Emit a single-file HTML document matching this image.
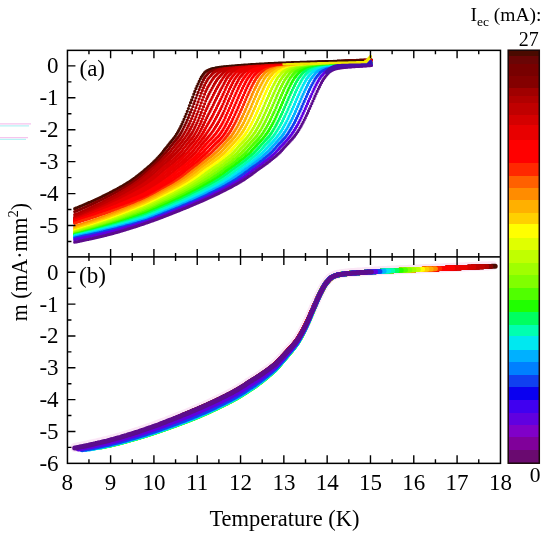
<!DOCTYPE html>
<html><head><meta charset="utf-8"><style>
html,body{margin:0;padding:0;background:#fff;}
svg{display:block;}
text{font-family:"Liberation Serif","Times New Roman",serif;fill:#000;}
</style></head><body>
<svg width="550" height="537" viewBox="0 0 550 537">
<defs>
<clipPath id="ca"><rect x="67.45" y="50.36" width="433.03" height="206.56"/></clipPath>
<clipPath id="cb"><rect x="67.45" y="256.92" width="433.03" height="206.44"/></clipPath>
</defs>
<g clip-path="url(#ca)" stroke-linecap="round" fill="none" stroke-width="3.2">
<path stroke="#4a0a00" d="M74.7 208.7h0M75.7 208.2h0M76.8 207.8h0M77.9 207.3h0M79 206.9h0M80.1 206.4h0M81.2 206h0M82.2 205.5h0M83.3 205.1h0M84.4 204.6h0M85.5 204.1h0M86.6 203.7h0M87.7 203.2h0M88.7 202.7h0M89.8 202.3h0M90.9 201.8h0M92 201.3h0M93.1 200.8h0M94.2 200.3h0M95.2 199.8h0M96.3 199.3h0M97.4 198.8h0M98.5 198.3h0M99.6 197.8h0M100.6 197.3h0M101.7 196.8h0M102.8 196.2h0M103.9 195.7h0M105 195.2h0M106.1 194.6h0M107.1 194.1h0M108.2 193.5h0M109.3 193h0M110.4 192.4h0M111.5 191.9h0M112.6 191.3h0M113.6 190.7h0M114.7 190.2h0M115.8 189.6h0M116.9 189h0M118 188.4h0M119.1 187.8h0M120.1 187.2h0M121.2 186.6h0M122.3 186h0M123.4 185.4h0M124.5 184.7h0M125.6 184.1h0M126.6 183.4h0M127.7 182.7h0M128.8 182h0M129.9 181.3h0M131 180.6h0M132 179.8h0M133.1 179.1h0M134.2 178.3h0M135.3 177.5h0M136.4 176.7h0M137.5 175.9h0M138.5 175h0M139.6 174.2h0M140.7 173.3h0M141.8 172.4h0M142.9 171.6h0M144 170.6h0M145 169.7h0M146.1 168.8h0M147.2 167.9h0M148.3 166.9h0M149.4 166h0M150.5 165h0M151.5 164h0M152.6 163h0M153.7 161.9h0M154.8 160.9h0M155.9 159.8h0M157 158.7h0M158 157.5h0M159.1 156.4h0M160.2 155.2h0M161.3 153.9h0M162.4 152.7h0M163.4 151.2h0M164.5 149.7h0M165.6 148.3h0M166.7 147h0M167.8 145.6h0M168.9 144.3h0M169.9 142.9h0M171 141.6h0M172.1 140.3h0M173.2 138.9h0M174.3 137.5h0M175.4 136h0M176.4 134.3h0M177.5 132.5h0M178.6 130.6h0M179.7 128.5h0M180.8 126.4h0M181.9 124.2h0M182.9 121.8h0M184 119.3h0M185.1 116.7h0M186.2 114h0M187.3 111.3h0M188.4 108.5h0M189.4 105.6h0M190.5 102.7h0M191.6 99.9h0M192.7 97.1h0M193.8 94.2h0M194.8 91.4h0M195.9 88.7h0M197 86.2h0M198.1 83.8h0M199.2 81.4h0M200.3 79.1h0M201.3 77.2h0M202.4 75.6h0M203.5 74h0M204.6 72.6h0M205.7 71.6h0M206.8 70.9h0M207.8 70.4h0M208.9 69.9h0M210 69.5h0M211.1 69.2h0M212.2 68.9h0M213.3 68.7h0M214.3 68.5h0M215.4 68.3h0M216.5 68.1h0M217.6 68h0M218.7 67.8h0M219.8 67.7h0M220.8 67.6h0M221.9 67.5h0M223 67.3h0M224.1 67.2h0M225.2 67.1h0M226.2 67h0M227.3 66.9h0M228.4 66.9h0M229.5 66.8h0M230.6 66.7h0M231.7 66.6h0M232.7 66.5h0M233.8 66.5h0M234.9 66.4h0M236 66.3h0M237.1 66.2h0M238.2 66.2h0M239.2 66.1h0M240.3 66h0M241.4 66h0M242.5 65.9h0M243.6 65.8h0M244.7 65.8h0M245.7 65.7h0M246.8 65.6h0M247.9 65.6h0M249 65.5h0M250.1 65.4h0M251.2 65.3h0M252.2 65.3h0M253.3 65.2h0M254.4 65.1h0M255.5 65.1h0M256.6 65h0M257.6 64.9h0M258.7 64.9h0M259.8 64.8h0M260.9 64.8h0M262 64.7h0M263.1 64.6h0M264.1 64.6h0M265.2 64.5h0M266.3 64.4h0M267.4 64.4h0M268.5 64.3h0M269.6 64.3h0M270.6 64.2h0M271.7 64.2h0M272.8 64.1h0M273.9 64.1h0M275 64h0M276.1 64h0M277.1 63.9h0M278.2 63.9h0M279.3 63.8h0M280.4 63.8h0M281.5 63.7h0M282.6 63.7h0M283.6 63.6h0M284.7 63.6h0M285.8 63.5h0M286.9 63.5h0M288 63.4h0M289 63.4h0M290.1 63.3h0M291.2 63.3h0M292.3 63.2h0M293.4 63.2h0M294.5 63.1h0M295.5 63.1h0M296.6 63h0M297.7 63h0M298.8 63h0M299.9 62.9h0M301 62.9h0M302 62.8h0M303.1 62.8h0M304.2 62.7h0M305.3 62.7h0M306.4 62.6h0M307.5 62.6h0M308.5 62.5h0M309.6 62.5h0M310.7 62.4h0M311.8 62.4h0M312.9 62.3h0M314 62.3h0M315 62.3h0M316.1 62.2h0M317.2 62.2h0M318.3 62.1h0M319.4 62.1h0M320.4 62h0M321.5 62h0M322.6 61.9h0M323.7 61.9h0M324.8 61.8h0M325.9 61.8h0M326.9 61.7h0M328 61.7h0M329.1 61.6h0M330.2 61.6h0M331.3 61.5h0M332.4 61.5h0M333.4 61.4h0M334.5 61.4h0M335.6 61.3h0M336.7 61.3h0M337.8 61.2h0M338.9 61.2h0M339.9 61.1h0M341 61.1h0M342.1 61h0M343.2 61h0M344.3 60.9h0M345.4 60.9h0M346.4 60.8h0M347.5 60.8h0M348.6 60.7h0M349.7 60.7h0M350.8 60.6h0M351.8 60.6h0M352.9 60.5h0M354 60.5h0M355.1 60.5h0M356.2 60.4h0M357.3 60.4h0M358.3 60.3h0M359.4 60.3h0M360.5 60.2h0M361.6 60.2h0M362.7 60.1h0M363.8 60.1h0M364.8 60.1h0M365.9 60h0M367 60h0M368.1 59.9h0M369.2 59.9h0M370.3 59.8h0M371.3 59.8h0"/>
<path stroke="#840000" d="M74.7 211.6h0M75.7 211.2h0M76.8 210.7h0M77.9 210.3h0M79 209.9h0M80.1 209.4h0M81.2 209h0M82.2 208.5h0M83.3 208h0M84.4 207.6h0M85.5 207.1h0M86.6 206.6h0M87.7 206.1h0M88.7 205.6h0M89.8 205.2h0M90.9 204.7h0M92 204.2h0M93.1 203.7h0M94.2 203.2h0M95.2 202.7h0M96.3 202.2h0M97.4 201.6h0M98.5 201.1h0M99.6 200.6h0M100.6 200.1h0M101.7 199.6h0M102.8 199h0M103.9 198.5h0M105 198h0M106.1 197.4h0M107.1 196.9h0M108.2 196.3h0M109.3 195.8h0M110.4 195.2h0M111.5 194.6h0M112.6 194h0M113.6 193.5h0M114.7 192.9h0M115.8 192.3h0M116.9 191.7h0M118 191.1h0M119.1 190.5h0M120.1 189.9h0M121.2 189.3h0M122.3 188.7h0M123.4 188h0M124.5 187.4h0M125.6 186.8h0M126.6 186.1h0M127.7 185.4h0M128.8 184.8h0M129.9 184.1h0M131 183.4h0M132 182.7h0M133.1 181.9h0M134.2 181.2h0M135.3 180.4h0M136.4 179.6h0M137.5 178.8h0M138.5 178h0M139.6 177.2h0M140.7 176.3h0M141.8 175.4h0M142.9 174.5h0M144 173.6h0M145 172.7h0M146.1 171.7h0M147.2 170.7h0M148.3 169.6h0M149.4 168.7h0M150.5 167.8h0M151.5 166.8h0M152.6 165.9h0M153.7 164.9h0M154.8 163.9h0M155.9 162.9h0M157 161.8h0M158 160.8h0M159.1 159.7h0M160.2 158.6h0M161.3 157.4h0M162.4 156.3h0M163.4 155.1h0M164.5 153.8h0M165.6 152.7h0M166.7 151.4h0M167.8 150.1h0M168.9 148.8h0M169.9 147.4h0M171 146.1h0M172.1 144.7h0M173.2 143.4h0M174.3 142.1h0M175.4 140.8h0M176.4 139.4h0M177.5 138h0M178.6 136.5h0M179.7 134.9h0M180.8 133.2h0M181.9 131.3h0M182.9 129.3h0M184 127.1h0M185.1 124.9h0M186.2 122.6h0M187.3 120.2h0M188.4 117.6h0M189.4 114.9h0M190.5 112.2h0M191.6 109.5h0M192.7 106.6h0M193.8 103.7h0M194.8 100.9h0M195.9 98h0M197 95.2h0M198.1 92.4h0M199.2 89.6h0M200.3 86.9h0M201.3 84.4h0M202.4 82h0M203.5 79.7h0M204.6 77.7h0M205.7 76.1h0M206.8 74.9h0M207.8 73.7h0M208.9 72.6h0M210 71.8h0M211.1 71.2h0M212.2 70.6h0M213.3 70.1h0M214.3 69.7h0M215.4 69.4h0M216.5 69.1h0M217.6 68.8h0M218.7 68.6h0M219.8 68.4h0M220.8 68.2h0M221.9 68h0M223 67.9h0M224.1 67.7h0M225.2 67.6h0M226.2 67.4h0M227.3 67.3h0M228.4 67.2h0M229.5 67.1h0M230.6 67h0M231.7 66.9h0M232.7 66.8h0M233.8 66.8h0M234.9 66.7h0M236 66.6h0M237.1 66.5h0M238.2 66.4h0M239.2 66.4h0M240.3 66.3h0M241.4 66.2h0M242.5 66.2h0M243.6 66.1h0M244.7 66h0M245.7 66h0M246.8 65.9h0M247.9 65.8h0M249 65.8h0M250.1 65.7h0M251.2 65.6h0M252.2 65.6h0M253.3 65.5h0M254.4 65.4h0M255.5 65.3h0M256.6 65.3h0M257.6 65.2h0M258.7 65.1h0M259.8 65.1h0M260.9 65h0M262 64.9h0M263.1 64.9h0M264.1 64.8h0M265.2 64.7h0M266.3 64.7h0M267.4 64.6h0M268.5 64.6h0M269.6 64.5h0M270.6 64.4h0M271.7 64.4h0M272.8 64.3h0M273.9 64.3h0M275 64.2h0M276.1 64.2h0M277.1 64.1h0M278.2 64.1h0M279.3 64h0M280.4 63.9h0M281.5 63.9h0M282.6 63.8h0M283.6 63.8h0M284.7 63.7h0M285.8 63.7h0M286.9 63.6h0M288 63.6h0M289 63.6h0M290.1 63.5h0M291.2 63.5h0M292.3 63.4h0M293.4 63.4h0M294.5 63.3h0M295.5 63.3h0M296.6 63.2h0M297.7 63.2h0M298.8 63.1h0M299.9 63.1h0M301 63h0M302 63h0M303.1 62.9h0M304.2 62.9h0M305.3 62.9h0M306.4 62.8h0M307.5 62.8h0M308.5 62.7h0M309.6 62.7h0M310.7 62.6h0M311.8 62.6h0M312.9 62.5h0M314 62.5h0M315 62.4h0M316.1 62.4h0M317.2 62.3h0M318.3 62.3h0M319.4 62.2h0M320.4 62.2h0M321.5 62.2h0M322.6 62.1h0M323.7 62.1h0M324.8 62h0M325.9 62h0M326.9 61.9h0M328 61.9h0M329.1 61.8h0M330.2 61.8h0M331.3 61.7h0M332.4 61.7h0M333.4 61.6h0M334.5 61.6h0M335.6 61.5h0M336.7 61.5h0M337.8 61.4h0M338.9 61.4h0M339.9 61.3h0M341 61.3h0M342.1 61.2h0M343.2 61.2h0M344.3 61.1h0M345.4 61.1h0M346.4 61h0M347.5 61h0M348.6 60.9h0M349.7 60.9h0M350.8 60.8h0M351.8 60.8h0M352.9 60.7h0M354 60.7h0M355.1 60.6h0M356.2 60.6h0M357.3 60.5h0M358.3 60.5h0M359.4 60.4h0M360.5 60.4h0M361.6 60.4h0M362.7 60.3h0M363.8 60.3h0M364.8 60.2h0M365.9 60.2h0M367 60.1h0M368.1 60.1h0M369.2 60h0M370.3 60h0M371.3 60h0"/>
<path stroke="#b00000" d="M74.7 214.7h0M75.7 214.3h0M76.8 213.9h0M77.9 213.5h0M79 213h0M80.1 212.6h0M81.2 212.1h0M82.2 211.6h0M83.3 211.2h0M84.4 210.7h0M85.5 210.2h0M86.6 209.7h0M87.7 209.2h0M88.7 208.7h0M89.8 208.2h0M90.9 207.7h0M92 207.2h0M93.1 206.7h0M94.2 206.2h0M95.2 205.7h0M96.3 205.1h0M97.4 204.6h0M98.5 204.1h0M99.6 203.5h0M100.6 203h0M101.7 202.5h0M102.8 201.9h0M103.9 201.4h0M105 200.8h0M106.1 200.3h0M107.1 199.7h0M108.2 199.1h0M109.3 198.6h0M110.4 198h0M111.5 197.4h0M112.6 196.8h0M113.6 196.3h0M114.7 195.7h0M115.8 195.1h0M116.9 194.5h0M118 193.8h0M119.1 193.2h0M120.1 192.6h0M121.2 192h0M122.3 191.3h0M123.4 190.7h0M124.5 190.1h0M125.6 189.4h0M126.6 188.8h0M127.7 188.1h0M128.8 187.4h0M129.9 186.7h0M131 186.1h0M132 185.4h0M133.1 184.6h0M134.2 183.9h0M135.3 183.2h0M136.4 182.4h0M137.5 181.6h0M138.5 180.8h0M139.6 180h0M140.7 179.1h0M141.8 178.3h0M142.9 177.4h0M144 176.5h0M145 175.5h0M146.1 174.6h0M147.2 173.6h0M148.3 172.6h0M149.4 171.6h0M150.5 170.6h0M151.5 169.5h0M152.6 168.6h0M153.7 167.7h0M154.8 166.8h0M155.9 165.8h0M157 164.8h0M158 163.8h0M159.1 162.8h0M160.2 161.8h0M161.3 160.7h0M162.4 159.6h0M163.4 158.5h0M164.5 157.4h0M165.6 156.3h0M166.7 155.3h0M167.8 154.2h0M168.9 153.1h0M169.9 151.9h0M171 150.6h0M172.1 149.2h0M173.2 147.9h0M174.3 146.6h0M175.4 145.2h0M176.4 143.9h0M177.5 142.6h0M178.6 141.2h0M179.7 139.9h0M180.8 138.5h0M181.9 137.1h0M182.9 135.5h0M184 133.8h0M185.1 132h0M186.2 130h0M187.3 127.9h0M188.4 125.7h0M189.4 123.5h0M190.5 121.1h0M191.6 118.5h0M192.7 115.9h0M193.8 113.2h0M194.8 110.5h0M195.9 107.7h0M197 104.8h0M198.1 101.9h0M199.2 99h0M200.3 96.1h0M201.3 93.2h0M202.4 90.4h0M203.5 87.7h0M204.6 85.2h0M205.7 82.8h0M206.8 80.9h0M207.8 79.2h0M208.9 77.8h0M210 76.5h0M211.1 75.4h0M212.2 74.2h0M213.3 73.1h0M214.3 72.2h0M215.4 71.5h0M216.5 70.9h0M217.6 70.4h0M218.7 69.9h0M219.8 69.5h0M220.8 69.2h0M221.9 68.9h0M223 68.7h0M224.1 68.4h0M225.2 68.2h0M226.2 68h0M227.3 67.8h0M228.4 67.7h0M229.5 67.5h0M230.6 67.4h0M231.7 67.3h0M232.7 67.2h0M233.8 67.1h0M234.9 67h0M236 66.9h0M237.1 66.8h0M238.2 66.7h0M239.2 66.7h0M240.3 66.6h0M241.4 66.5h0M242.5 66.4h0M243.6 66.4h0M244.7 66.3h0M245.7 66.2h0M246.8 66.2h0M247.9 66.1h0M249 66h0M250.1 66h0M251.2 65.9h0M252.2 65.8h0M253.3 65.8h0M254.4 65.7h0M255.5 65.6h0M256.6 65.5h0M257.6 65.5h0M258.7 65.4h0M259.8 65.3h0M260.9 65.3h0M262 65.2h0M263.1 65.1h0M264.1 65.1h0M265.2 65h0M266.3 64.9h0M267.4 64.9h0M268.5 64.8h0M269.6 64.7h0M270.6 64.7h0M271.7 64.6h0M272.8 64.6h0M273.9 64.5h0M275 64.4h0M276.1 64.4h0M277.1 64.3h0M278.2 64.3h0M279.3 64.2h0M280.4 64.2h0M281.5 64.1h0M282.6 64h0M283.6 64h0M284.7 63.9h0M285.8 63.9h0M286.9 63.8h0M288 63.8h0M289 63.7h0M290.1 63.7h0M291.2 63.6h0M292.3 63.6h0M293.4 63.5h0M294.5 63.5h0M295.5 63.5h0M296.6 63.4h0M297.7 63.4h0M298.8 63.3h0M299.9 63.3h0M301 63.2h0M302 63.2h0M303.1 63.1h0M304.2 63.1h0M305.3 63h0M306.4 63h0M307.5 62.9h0M308.5 62.9h0M309.6 62.9h0M310.7 62.8h0M311.8 62.8h0M312.9 62.7h0M314 62.7h0M315 62.6h0M316.1 62.6h0M317.2 62.5h0M318.3 62.5h0M319.4 62.4h0M320.4 62.4h0M321.5 62.3h0M322.6 62.3h0M323.7 62.2h0M324.8 62.2h0M325.9 62.1h0M326.9 62.1h0M328 62h0M329.1 62h0M330.2 62h0M331.3 61.9h0M332.4 61.9h0M333.4 61.8h0M334.5 61.8h0M335.6 61.7h0M336.7 61.7h0M337.8 61.6h0M338.9 61.6h0M339.9 61.5h0M341 61.5h0M342.1 61.4h0M343.2 61.4h0M344.3 61.3h0M345.4 61.3h0M346.4 61.2h0M347.5 61.2h0M348.6 61.1h0M349.7 61.1h0M350.8 61h0M351.8 61h0M352.9 60.9h0M354 60.9h0M355.1 60.8h0M356.2 60.8h0M357.3 60.7h0M358.3 60.7h0M359.4 60.6h0M360.5 60.6h0M361.6 60.5h0M362.7 60.5h0M363.8 60.4h0M364.8 60.4h0M365.9 60.4h0M367 60.3h0M368.1 60.3h0M369.2 60.2h0M370.3 60.2h0M371.3 60.1h0"/>
<path stroke="#c00000" d="M74.7 217h0M75.7 216.6h0M76.8 216.2h0M77.9 215.8h0M79 215.4h0M80.1 214.9h0M81.2 214.5h0M82.2 214h0M83.3 213.5h0M84.4 213h0M85.5 212.5h0M86.6 212h0M87.7 211.5h0M88.7 211h0M89.8 210.5h0M90.9 210h0M92 209.5h0M93.1 209h0M94.2 208.5h0M95.2 207.9h0M96.3 207.4h0M97.4 206.9h0M98.5 206.3h0M99.6 205.8h0M100.6 205.3h0M101.7 204.7h0M102.8 204.2h0M103.9 203.6h0M105 203.1h0M106.1 202.5h0M107.1 201.9h0M108.2 201.4h0M109.3 200.8h0M110.4 200.2h0M111.5 199.7h0M112.6 199.1h0M113.6 198.5h0M114.7 197.9h0M115.8 197.3h0M116.9 196.7h0M118 196.1h0M119.1 195.5h0M120.1 194.9h0M121.2 194.2h0M122.3 193.6h0M123.4 193h0M124.5 192.3h0M125.6 191.7h0M126.6 191h0M127.7 190.4h0M128.8 189.7h0M129.9 189h0M131 188.3h0M132 187.7h0M133.1 187h0M134.2 186.3h0M135.3 185.5h0M136.4 184.8h0M137.5 184h0M138.5 183.3h0M139.6 182.5h0M140.7 181.7h0M141.8 180.9h0M142.9 180h0M144 179.1h0M145 178.2h0M146.1 177.3h0M147.2 176.4h0M148.3 175.5h0M149.4 174.5h0M150.5 173.5h0M151.5 172.5h0M152.6 171.5h0M153.7 170.5h0M154.8 169.5h0M155.9 168.6h0M157 167.7h0M158 166.7h0M159.1 165.8h0M160.2 164.8h0M161.3 163.8h0M162.4 162.8h0M163.4 161.7h0M164.5 160.7h0M165.6 159.7h0M166.7 158.7h0M167.8 157.7h0M168.9 156.7h0M169.9 155.7h0M171 154.6h0M172.1 153.5h0M173.2 152.4h0M174.3 151.1h0M175.4 149.7h0M176.4 148.4h0M177.5 147.1h0M178.6 145.7h0M179.7 144.4h0M180.8 143h0M181.9 141.7h0M182.9 140.4h0M184 139h0M185.1 137.6h0M186.2 136.1h0M187.3 134.4h0M188.4 132.7h0M189.4 130.7h0M190.5 128.7h0M191.6 126.5h0M192.7 124.3h0M193.8 122h0M194.8 119.5h0M195.9 116.9h0M197 114.2h0M198.1 111.5h0M199.2 108.7h0M200.3 105.8h0M201.3 102.8h0M202.4 99.9h0M203.5 97h0M204.6 94.2h0M205.7 91.4h0M206.8 89.2h0M207.8 87.1h0M208.9 85.3h0M210 83.4h0M211.1 81.6h0M212.2 79.9h0M213.3 78.4h0M214.3 77.1h0M215.4 75.9h0M216.5 74.8h0M217.6 73.6h0M218.7 72.6h0M219.8 71.8h0M220.8 71.2h0M221.9 70.6h0M223 70.1h0M224.1 69.6h0M225.2 69.2h0M226.2 68.9h0M227.3 68.6h0M228.4 68.4h0M229.5 68.2h0M230.6 68h0M231.7 67.8h0M232.7 67.6h0M233.8 67.5h0M234.9 67.4h0M236 67.3h0M237.1 67.2h0M238.2 67.1h0M239.2 67h0M240.3 66.9h0M241.4 66.8h0M242.5 66.7h0M243.6 66.6h0M244.7 66.6h0M245.7 66.5h0M246.8 66.4h0M247.9 66.4h0M249 66.3h0M250.1 66.2h0M251.2 66.1h0M252.2 66.1h0M253.3 66h0M254.4 65.9h0M255.5 65.9h0M256.6 65.8h0M257.6 65.7h0M258.7 65.7h0M259.8 65.6h0M260.9 65.5h0M262 65.5h0M263.1 65.4h0M264.1 65.3h0M265.2 65.3h0M266.3 65.2h0M267.4 65.1h0M268.5 65.1h0M269.6 65h0M270.6 64.9h0M271.7 64.9h0M272.8 64.8h0M273.9 64.7h0M275 64.7h0M276.1 64.6h0M277.1 64.5h0M278.2 64.5h0M279.3 64.4h0M280.4 64.4h0M281.5 64.3h0M282.6 64.3h0M283.6 64.2h0M284.7 64.1h0M285.8 64.1h0M286.9 64h0M288 64h0M289 63.9h0M290.1 63.9h0M291.2 63.8h0M292.3 63.8h0M293.4 63.7h0M294.5 63.7h0M295.5 63.6h0M296.6 63.6h0M297.7 63.5h0M298.8 63.5h0M299.9 63.4h0M301 63.4h0M302 63.4h0M303.1 63.3h0M304.2 63.3h0M305.3 63.2h0M306.4 63.2h0M307.5 63.1h0M308.5 63.1h0M309.6 63h0M310.7 63h0M311.8 62.9h0M312.9 62.9h0M314 62.8h0M315 62.8h0M316.1 62.8h0M317.2 62.7h0M318.3 62.7h0M319.4 62.6h0M320.4 62.6h0M321.5 62.5h0M322.6 62.5h0M323.7 62.4h0M324.8 62.4h0M325.9 62.3h0M326.9 62.3h0M328 62.2h0M329.1 62.2h0M330.2 62.1h0M331.3 62.1h0M332.4 62h0M333.4 62h0M334.5 61.9h0M335.6 61.9h0M336.7 61.8h0M337.8 61.8h0M338.9 61.8h0M339.9 61.7h0M341 61.7h0M342.1 61.6h0M343.2 61.6h0M344.3 61.5h0M345.4 61.5h0M346.4 61.4h0M347.5 61.4h0M348.6 61.3h0M349.7 61.3h0M350.8 61.2h0M351.8 61.2h0M352.9 61.1h0M354 61.1h0M355.1 61h0M356.2 61h0M357.3 60.9h0M358.3 60.9h0M359.4 60.8h0M360.5 60.8h0M361.6 60.7h0M362.7 60.7h0M363.8 60.6h0M364.8 60.6h0M365.9 60.5h0M367 60.5h0M368.1 60.4h0M369.2 60.4h0M370.3 60.3h0M371.3 60.3h0"/>
<path stroke="#c00000" d="M74.7 218.1h0M75.7 217.7h0M76.8 217.3h0M77.9 216.8h0M79 216.4h0M80.1 216h0M81.2 215.5h0M82.2 215.1h0M83.3 214.6h0M84.4 214.1h0M85.5 213.6h0M86.6 213.1h0M87.7 212.6h0M88.7 212.1h0M89.8 211.7h0M90.9 211.2h0M92 210.7h0M93.1 210.2h0M94.2 209.7h0M95.2 209.1h0M96.3 208.6h0M97.4 208.1h0M98.5 207.6h0M99.6 207.1h0M100.6 206.6h0M101.7 206h0M102.8 205.5h0M103.9 205h0M105 204.4h0M106.1 203.9h0M107.1 203.3h0M108.2 202.8h0M109.3 202.2h0M110.4 201.7h0M111.5 201.1h0M112.6 200.6h0M113.6 200h0M114.7 199.4h0M115.8 198.8h0M116.9 198.3h0M118 197.7h0M119.1 197.1h0M120.1 196.5h0M121.2 195.9h0M122.3 195.3h0M123.4 194.7h0M124.5 194h0M125.6 193.4h0M126.6 192.8h0M127.7 192.1h0M128.8 191.5h0M129.9 190.8h0M131 190.2h0M132 189.5h0M133.1 188.9h0M134.2 188.2h0M135.3 187.5h0M136.4 186.8h0M137.5 186.1h0M138.5 185.4h0M139.6 184.7h0M140.7 183.9h0M141.8 183.2h0M142.9 182.4h0M144 181.6h0M145 180.8h0M146.1 179.9h0M147.2 179.1h0M148.3 178.2h0M149.4 177.3h0M150.5 176.4h0M151.5 175.4h0M152.6 174.5h0M153.7 173.5h0M154.8 172.5h0M155.9 171.5h0M157 170.5h0M158 169.5h0M159.1 168.6h0M160.2 167.7h0M161.3 166.7h0M162.4 165.8h0M163.4 164.8h0M164.5 163.8h0M165.6 162.9h0M166.7 162h0M167.8 161h0M168.9 160.1h0M169.9 159.1h0M171 158.1h0M172.1 157.1h0M173.2 156.1h0M174.3 155h0M175.4 153.9h0M176.4 152.8h0M177.5 151.6h0M178.6 150.2h0M179.7 148.9h0M180.8 147.6h0M181.9 146.2h0M182.9 144.9h0M184 143.5h0M185.1 142.2h0M186.2 140.9h0M187.3 139.6h0M188.4 138.2h0M189.4 136.7h0M190.5 135.1h0M191.6 133.4h0M192.7 131.5h0M193.8 129.5h0M194.8 127.4h0M195.9 125.2h0M197 122.9h0M198.1 120.5h0M199.2 117.9h0M200.3 115.2h0M201.3 112.4h0M202.4 109.6h0M203.5 106.7h0M204.6 103.8h0M205.7 101h0M206.8 98.6h0M207.8 96.4h0M208.9 94.2h0M210 92.1h0M211.1 90h0M212.2 88h0M213.3 86.1h0M214.3 84.2h0M215.4 82.4h0M216.5 80.7h0M217.6 79.1h0M218.7 77.7h0M219.8 76.4h0M220.8 75.3h0M221.9 74.2h0M223 72.9h0M224.1 71.9h0M225.2 71.2h0M226.2 70.5h0M227.3 70h0M228.4 69.5h0M229.5 69.1h0M230.6 68.8h0M231.7 68.6h0M232.7 68.3h0M233.8 68.1h0M234.9 67.9h0M236 67.8h0M237.1 67.6h0M238.2 67.5h0M239.2 67.4h0M240.3 67.3h0M241.4 67.2h0M242.5 67.1h0M243.6 67h0M244.7 66.9h0M245.7 66.8h0M246.8 66.7h0M247.9 66.6h0M249 66.6h0M250.1 66.5h0M251.2 66.4h0M252.2 66.3h0M253.3 66.3h0M254.4 66.2h0M255.5 66.1h0M256.6 66.1h0M257.6 66h0M258.7 65.9h0M259.8 65.9h0M260.9 65.8h0M262 65.7h0M263.1 65.7h0M264.1 65.6h0M265.2 65.5h0M266.3 65.5h0M267.4 65.4h0M268.5 65.3h0M269.6 65.2h0M270.6 65.2h0M271.7 65.1h0M272.8 65h0M273.9 65h0M275 64.9h0M276.1 64.8h0M277.1 64.8h0M278.2 64.7h0M279.3 64.7h0M280.4 64.6h0M281.5 64.5h0M282.6 64.5h0M283.6 64.4h0M284.7 64.4h0M285.8 64.3h0M286.9 64.3h0M288 64.2h0M289 64.1h0M290.1 64.1h0M291.2 64h0M292.3 64h0M293.4 63.9h0M294.5 63.9h0M295.5 63.8h0M296.6 63.8h0M297.7 63.7h0M298.8 63.7h0M299.9 63.6h0M301 63.6h0M302 63.5h0M303.1 63.5h0M304.2 63.4h0M305.3 63.4h0M306.4 63.3h0M307.5 63.3h0M308.5 63.3h0M309.6 63.2h0M310.7 63.2h0M311.8 63.1h0M312.9 63.1h0M314 63h0M315 63h0M316.1 62.9h0M317.2 62.9h0M318.3 62.8h0M319.4 62.8h0M320.4 62.8h0M321.5 62.7h0M322.6 62.7h0M323.7 62.6h0M324.8 62.6h0M325.9 62.5h0M326.9 62.5h0M328 62.4h0M329.1 62.4h0M330.2 62.3h0M331.3 62.3h0M332.4 62.2h0M333.4 62.2h0M334.5 62.1h0M335.6 62.1h0M336.7 62h0M337.8 62h0M338.9 61.9h0M339.9 61.9h0M341 61.8h0M342.1 61.8h0M343.2 61.7h0M344.3 61.7h0M345.4 61.6h0M346.4 61.6h0M347.5 61.5h0M348.6 61.5h0M349.7 61.4h0M350.8 61.4h0M351.8 61.3h0M352.9 61.3h0M354 61.3h0M355.1 61.2h0M356.2 61.2h0M357.3 61.1h0M358.3 61.1h0M359.4 61h0M360.5 61h0M361.6 60.9h0M362.7 60.9h0M363.8 60.8h0M364.8 60.8h0M365.9 60.7h0M367 60.7h0M368.1 60.6h0M369.2 60.6h0M370.3 60.5h0M371.3 60.5h0"/>
<path stroke="#d40000" d="M74.7 218.8h0M75.7 218.4h0M76.8 218h0M77.9 217.6h0M79 217.1h0M80.1 216.7h0M81.2 216.3h0M82.2 215.8h0M83.3 215.3h0M84.4 214.9h0M85.5 214.4h0M86.6 213.9h0M87.7 213.5h0M88.7 213h0M89.8 212.5h0M90.9 212h0M92 211.5h0M93.1 211.1h0M94.2 210.6h0M95.2 210.1h0M96.3 209.6h0M97.4 209.1h0M98.5 208.6h0M99.6 208.1h0M100.6 207.6h0M101.7 207.1h0M102.8 206.6h0M103.9 206h0M105 205.5h0M106.1 205h0M107.1 204.5h0M108.2 204h0M109.3 203.4h0M110.4 202.9h0M111.5 202.3h0M112.6 201.8h0M113.6 201.3h0M114.7 200.7h0M115.8 200.2h0M116.9 199.6h0M118 199h0M119.1 198.5h0M120.1 197.9h0M121.2 197.3h0M122.3 196.7h0M123.4 196.2h0M124.5 195.6h0M125.6 195h0M126.6 194.4h0M127.7 193.7h0M128.8 193.1h0M129.9 192.5h0M131 191.9h0M132 191.3h0M133.1 190.6h0M134.2 190h0M135.3 189.3h0M136.4 188.7h0M137.5 188h0M138.5 187.4h0M139.6 186.7h0M140.7 186h0M141.8 185.3h0M142.9 184.6h0M144 183.9h0M145 183.1h0M146.1 182.3h0M147.2 181.5h0M148.3 180.7h0M149.4 179.9h0M150.5 179h0M151.5 178.2h0M152.6 177.3h0M153.7 176.3h0M154.8 175.4h0M155.9 174.5h0M157 173.5h0M158 172.5h0M159.1 171.5h0M160.2 170.5h0M161.3 169.5h0M162.4 168.6h0M163.4 167.7h0M164.5 166.7h0M165.6 165.9h0M166.7 165h0M167.8 164.1h0M168.9 163.2h0M169.9 162.3h0M171 161.4h0M172.1 160.5h0M173.2 159.5h0M174.3 158.5h0M175.4 157.5h0M176.4 156.5h0M177.5 155.5h0M178.6 154.4h0M179.7 153.3h0M180.8 152.1h0M181.9 150.8h0M182.9 149.4h0M184 148.1h0M185.1 146.8h0M186.2 145.4h0M187.3 144.1h0M188.4 142.8h0M189.4 141.4h0M190.5 140.1h0M191.6 138.7h0M192.7 137.3h0M193.8 135.8h0M194.8 134.1h0M195.9 132.3h0M197 130.4h0M198.1 128.3h0M199.2 126.1h0M200.3 123.8h0M201.3 121.4h0M202.4 118.8h0M203.5 116.1h0M204.6 113.4h0M205.7 110.7h0M206.8 108.4h0M207.8 106.2h0M208.9 103.9h0M210 101.7h0M211.1 99.5h0M212.2 97.3h0M213.3 95.1h0M214.3 93h0M215.4 90.9h0M216.5 88.8h0M217.6 86.9h0M218.7 85h0M219.8 83.2h0M220.8 81.4h0M221.9 79.8h0M223 78.1h0M224.1 76.6h0M225.2 75.2h0M226.2 73.9h0M227.3 72.7h0M228.4 71.7h0M229.5 71h0M230.6 70.4h0M231.7 69.9h0M232.7 69.4h0M233.8 69.1h0M234.9 68.8h0M236 68.5h0M237.1 68.3h0M238.2 68.1h0M239.2 67.9h0M240.3 67.7h0M241.4 67.6h0M242.5 67.5h0M243.6 67.4h0M244.7 67.3h0M245.7 67.2h0M246.8 67.1h0M247.9 67h0M249 66.9h0M250.1 66.8h0M251.2 66.7h0M252.2 66.6h0M253.3 66.6h0M254.4 66.5h0M255.5 66.4h0M256.6 66.3h0M257.6 66.3h0M258.7 66.2h0M259.8 66.1h0M260.9 66.1h0M262 66h0M263.1 65.9h0M264.1 65.9h0M265.2 65.8h0M266.3 65.7h0M267.4 65.7h0M268.5 65.6h0M269.6 65.5h0M270.6 65.4h0M271.7 65.4h0M272.8 65.3h0M273.9 65.2h0M275 65.2h0M276.1 65.1h0M277.1 65h0M278.2 65h0M279.3 64.9h0M280.4 64.8h0M281.5 64.8h0M282.6 64.7h0M283.6 64.7h0M284.7 64.6h0M285.8 64.5h0M286.9 64.5h0M288 64.4h0M289 64.4h0M290.1 64.3h0M291.2 64.2h0M292.3 64.2h0M293.4 64.1h0M294.5 64.1h0M295.5 64h0M296.6 64h0M297.7 63.9h0M298.8 63.9h0M299.9 63.8h0M301 63.8h0M302 63.7h0M303.1 63.7h0M304.2 63.6h0M305.3 63.6h0M306.4 63.5h0M307.5 63.5h0M308.5 63.4h0M309.6 63.4h0M310.7 63.3h0M311.8 63.3h0M312.9 63.3h0M314 63.2h0M315 63.2h0M316.1 63.1h0M317.2 63.1h0M318.3 63h0M319.4 63h0M320.4 62.9h0M321.5 62.9h0M322.6 62.8h0M323.7 62.8h0M324.8 62.7h0M325.9 62.7h0M326.9 62.7h0M328 62.6h0M329.1 62.6h0M330.2 62.5h0M331.3 62.5h0M332.4 62.4h0M333.4 62.4h0M334.5 62.3h0M335.6 62.3h0M336.7 62.2h0M337.8 62.2h0M338.9 62.1h0M339.9 62.1h0M341 62h0M342.1 62h0M343.2 61.9h0M344.3 61.9h0M345.4 61.8h0M346.4 61.8h0M347.5 61.7h0M348.6 61.7h0M349.7 61.6h0M350.8 61.6h0M351.8 61.5h0M352.9 61.5h0M354 61.4h0M355.1 61.4h0M356.2 61.3h0M357.3 61.3h0M358.3 61.2h0M359.4 61.2h0M360.5 61.1h0M361.6 61.1h0M362.7 61.1h0M363.8 61h0M364.8 61h0M365.9 60.9h0M367 60.9h0M368.1 60.8h0M369.2 60.8h0M370.3 60.7h0M371.3 60.7h0"/>
<path stroke="#d40000" d="M74.7 219.3h0M75.7 218.9h0M76.8 218.5h0M77.9 218.1h0M79 217.7h0M80.1 217.3h0M81.2 216.9h0M82.2 216.4h0M83.3 216h0M84.4 215.5h0M85.5 215.1h0M86.6 214.6h0M87.7 214.2h0M88.7 213.7h0M89.8 213.2h0M90.9 212.8h0M92 212.3h0M93.1 211.8h0M94.2 211.4h0M95.2 210.9h0M96.3 210.4h0M97.4 209.9h0M98.5 209.5h0M99.6 209h0M100.6 208.5h0M101.7 208h0M102.8 207.5h0M103.9 207h0M105 206.5h0M106.1 206h0M107.1 205.5h0M108.2 205h0M109.3 204.5h0M110.4 204h0M111.5 203.5h0M112.6 203h0M113.6 202.4h0M114.7 201.9h0M115.8 201.4h0M116.9 200.8h0M118 200.3h0M119.1 199.8h0M120.1 199.2h0M121.2 198.7h0M122.3 198.1h0M123.4 197.6h0M124.5 197h0M125.6 196.4h0M126.6 195.9h0M127.7 195.3h0M128.8 194.7h0M129.9 194.1h0M131 193.5h0M132 192.9h0M133.1 192.3h0M134.2 191.7h0M135.3 191.1h0M136.4 190.5h0M137.5 189.9h0M138.5 189.2h0M139.6 188.6h0M140.7 188h0M141.8 187.3h0M142.9 186.7h0M144 186h0M145 185.3h0M146.1 184.6h0M147.2 183.8h0M148.3 183.1h0M149.4 182.3h0M150.5 181.5h0M151.5 180.7h0M152.6 179.9h0M153.7 179h0M154.8 178.2h0M155.9 177.3h0M157 176.4h0M158 175.4h0M159.1 174.5h0M160.2 173.5h0M161.3 172.5h0M162.4 171.6h0M163.4 170.5h0M164.5 169.5h0M165.6 168.7h0M166.7 167.9h0M167.8 167.1h0M168.9 166.2h0M169.9 165.4h0M171 164.5h0M172.1 163.6h0M173.2 162.7h0M174.3 161.8h0M175.4 160.8h0M176.4 159.9h0M177.5 158.9h0M178.6 157.9h0M179.7 156.9h0M180.8 155.9h0M181.9 154.8h0M182.9 153.7h0M184 152.6h0M185.1 151.3h0M186.2 150h0M187.3 148.7h0M188.4 147.3h0M189.4 146h0M190.5 144.6h0M191.6 143.3h0M192.7 142h0M193.8 140.7h0M194.8 139.3h0M195.9 137.9h0M197 136.4h0M198.1 134.8h0M199.2 133.1h0M200.3 131.1h0M201.3 129.1h0M202.4 126.9h0M203.5 124.7h0M204.6 122.3h0M205.7 119.9h0M206.8 117.7h0M207.8 115.6h0M208.9 113.5h0M210 111.4h0M211.1 109.2h0M212.2 107h0M213.3 104.8h0M214.3 102.5h0M215.4 100.3h0M216.5 98.2h0M217.6 96h0M218.7 93.9h0M219.8 91.7h0M220.8 89.6h0M221.9 87.6h0M223 85.5h0M224.1 83.4h0M225.2 81.3h0M226.2 79.4h0M227.3 77.7h0M228.4 76.3h0M229.5 75h0M230.6 73.7h0M231.7 72.5h0M232.7 71.6h0M233.8 70.9h0M234.9 70.3h0M236 69.8h0M237.1 69.4h0M238.2 69h0M239.2 68.7h0M240.3 68.5h0M241.4 68.3h0M242.5 68.1h0M243.6 67.9h0M244.7 67.7h0M245.7 67.6h0M246.8 67.5h0M247.9 67.3h0M249 67.2h0M250.1 67.1h0M251.2 67h0M252.2 67h0M253.3 66.9h0M254.4 66.8h0M255.5 66.7h0M256.6 66.6h0M257.6 66.5h0M258.7 66.5h0M259.8 66.4h0M260.9 66.3h0M262 66.3h0M263.1 66.2h0M264.1 66.1h0M265.2 66.1h0M266.3 66h0M267.4 65.9h0M268.5 65.9h0M269.6 65.8h0M270.6 65.7h0M271.7 65.6h0M272.8 65.6h0M273.9 65.5h0M275 65.4h0M276.1 65.4h0M277.1 65.3h0M278.2 65.2h0M279.3 65.2h0M280.4 65.1h0M281.5 65h0M282.6 65h0M283.6 64.9h0M284.7 64.8h0M285.8 64.8h0M286.9 64.7h0M288 64.6h0M289 64.6h0M290.1 64.5h0M291.2 64.5h0M292.3 64.4h0M293.4 64.4h0M294.5 64.3h0M295.5 64.2h0M296.6 64.2h0M297.7 64.1h0M298.8 64.1h0M299.9 64h0M301 64h0M302 63.9h0M303.1 63.9h0M304.2 63.8h0M305.3 63.8h0M306.4 63.7h0M307.5 63.7h0M308.5 63.6h0M309.6 63.6h0M310.7 63.5h0M311.8 63.5h0M312.9 63.4h0M314 63.4h0M315 63.3h0M316.1 63.3h0M317.2 63.2h0M318.3 63.2h0M319.4 63.2h0M320.4 63.1h0M321.5 63.1h0M322.6 63h0M323.7 63h0M324.8 62.9h0M325.9 62.9h0M326.9 62.8h0M328 62.8h0M329.1 62.7h0M330.2 62.7h0M331.3 62.7h0M332.4 62.6h0M333.4 62.6h0M334.5 62.5h0M335.6 62.5h0M336.7 62.4h0M337.8 62.4h0M338.9 62.3h0M339.9 62.3h0M341 62.2h0M342.1 62.2h0M343.2 62.1h0M344.3 62.1h0M345.4 62h0M346.4 62h0M347.5 61.9h0M348.6 61.9h0M349.7 61.8h0M350.8 61.8h0M351.8 61.7h0M352.9 61.7h0M354 61.6h0M355.1 61.6h0M356.2 61.5h0M357.3 61.5h0M358.3 61.4h0M359.4 61.4h0M360.5 61.3h0M361.6 61.3h0M362.7 61.2h0M363.8 61.2h0M364.8 61.1h0M365.9 61.1h0M367 61h0M368.1 61h0M369.2 60.9h0M370.3 60.9h0M371.3 60.9h0"/>
<path stroke="#e80000" d="M74.7 219.9h0M75.7 219.5h0M76.8 219.1h0M77.9 218.7h0M79 218.3h0M80.1 217.8h0M81.2 217.4h0M82.2 217h0M83.3 216.6h0M84.4 216.1h0M85.5 215.7h0M86.6 215.3h0M87.7 214.8h0M88.7 214.4h0M89.8 213.9h0M90.9 213.5h0M92 213h0M93.1 212.6h0M94.2 212.1h0M95.2 211.7h0M96.3 211.2h0M97.4 210.8h0M98.5 210.3h0M99.6 209.8h0M100.6 209.4h0M101.7 208.9h0M102.8 208.4h0M103.9 208h0M105 207.5h0M106.1 207h0M107.1 206.5h0M108.2 206h0M109.3 205.6h0M110.4 205.1h0M111.5 204.6h0M112.6 204.1h0M113.6 203.6h0M114.7 203.1h0M115.8 202.6h0M116.9 202.1h0M118 201.6h0M119.1 201h0M120.1 200.5h0M121.2 200h0M122.3 199.5h0M123.4 198.9h0M124.5 198.4h0M125.6 197.9h0M126.6 197.3h0M127.7 196.8h0M128.8 196.2h0M129.9 195.7h0M131 195.1h0M132 194.6h0M133.1 194h0M134.2 193.4h0M135.3 192.8h0M136.4 192.2h0M137.5 191.7h0M138.5 191.1h0M139.6 190.5h0M140.7 189.9h0M141.8 189.3h0M142.9 188.6h0M144 188h0M145 187.4h0M146.1 186.7h0M147.2 186h0M148.3 185.3h0M149.4 184.6h0M150.5 183.9h0M151.5 183.1h0M152.6 182.3h0M153.7 181.6h0M154.8 180.8h0M155.9 179.9h0M157 179.1h0M158 178.2h0M159.1 177.3h0M160.2 176.4h0M161.3 175.5h0M162.4 174.5h0M163.4 173.6h0M164.5 172.6h0M165.6 171.7h0M166.7 170.8h0M167.8 169.9h0M168.9 169.1h0M169.9 168.3h0M171 167.4h0M172.1 166.6h0M173.2 165.7h0M174.3 164.9h0M175.4 164h0M176.4 163.1h0M177.5 162.2h0M178.6 161.3h0M179.7 160.3h0M180.8 159.3h0M181.9 158.4h0M182.9 157.4h0M184 156.3h0M185.1 155.3h0M186.2 154.2h0M187.3 153.1h0M188.4 151.9h0M189.4 150.6h0M190.5 149.3h0M191.6 147.9h0M192.7 146.6h0M193.8 145.2h0M194.8 143.9h0M195.9 142.6h0M197 141.3h0M198.1 140h0M199.2 138.6h0M200.3 137.1h0M201.3 135.5h0M202.4 133.8h0M203.5 131.9h0M204.6 129.9h0M205.7 127.9h0M206.8 126h0M207.8 124.2h0M208.9 122.4h0M210 120.4h0M211.1 118.4h0M212.2 116.4h0M213.3 114.3h0M214.3 112.1h0M215.4 110h0M216.5 107.9h0M217.6 105.6h0M218.7 103.4h0M219.8 101.2h0M220.8 99h0M221.9 96.8h0M223 94.4h0M224.1 92h0M225.2 89.5h0M226.2 87.3h0M227.3 85.1h0M228.4 83h0M229.5 81h0M230.6 79.1h0M231.7 77.5h0M232.7 76.1h0M233.8 74.8h0M234.9 73.5h0M236 72.3h0M237.1 71.5h0M238.2 70.8h0M239.2 70.2h0M240.3 69.7h0M241.4 69.3h0M242.5 69h0M243.6 68.7h0M244.7 68.5h0M245.7 68.2h0M246.8 68h0M247.9 67.9h0M249 67.7h0M250.1 67.6h0M251.2 67.4h0M252.2 67.3h0M253.3 67.2h0M254.4 67.1h0M255.5 67h0M256.6 66.9h0M257.6 66.9h0M258.7 66.8h0M259.8 66.7h0M260.9 66.6h0M262 66.5h0M263.1 66.5h0M264.1 66.4h0M265.2 66.3h0M266.3 66.2h0M267.4 66.2h0M268.5 66.1h0M269.6 66h0M270.6 66h0M271.7 65.9h0M272.8 65.8h0M273.9 65.8h0M275 65.7h0M276.1 65.6h0M277.1 65.6h0M278.2 65.5h0M279.3 65.4h0M280.4 65.4h0M281.5 65.3h0M282.6 65.2h0M283.6 65.2h0M284.7 65.1h0M285.8 65h0M286.9 65h0M288 64.9h0M289 64.8h0M290.1 64.8h0M291.2 64.7h0M292.3 64.6h0M293.4 64.6h0M294.5 64.5h0M295.5 64.5h0M296.6 64.4h0M297.7 64.3h0M298.8 64.3h0M299.9 64.2h0M301 64.2h0M302 64.1h0M303.1 64.1h0M304.2 64h0M305.3 64h0M306.4 63.9h0M307.5 63.9h0M308.5 63.8h0M309.6 63.8h0M310.7 63.7h0M311.8 63.7h0M312.9 63.6h0M314 63.6h0M315 63.5h0M316.1 63.5h0M317.2 63.4h0M318.3 63.4h0M319.4 63.3h0M320.4 63.3h0M321.5 63.2h0M322.6 63.2h0M323.7 63.2h0M324.8 63.1h0M325.9 63.1h0M326.9 63h0M328 63h0M329.1 62.9h0M330.2 62.9h0M331.3 62.8h0M332.4 62.8h0M333.4 62.7h0M334.5 62.7h0M335.6 62.6h0M336.7 62.6h0M337.8 62.6h0M338.9 62.5h0M339.9 62.5h0M341 62.4h0M342.1 62.4h0M343.2 62.3h0M344.3 62.3h0M345.4 62.2h0M346.4 62.2h0M347.5 62.1h0M348.6 62.1h0M349.7 62h0M350.8 62h0M351.8 61.9h0M352.9 61.9h0M354 61.8h0M355.1 61.8h0M356.2 61.7h0M357.3 61.7h0M358.3 61.6h0M359.4 61.6h0M360.5 61.5h0M361.6 61.5h0M362.7 61.4h0M363.8 61.4h0M364.8 61.3h0M365.9 61.3h0M367 61.2h0M368.1 61.2h0M369.2 61.1h0M370.3 61.1h0M371.3 61h0"/>
<path stroke="#e80000" d="M74.7 220.4h0M75.7 220h0M76.8 219.7h0M77.9 219.3h0M79 218.8h0M80.1 218.4h0M81.2 218h0M82.2 217.6h0M83.3 217.2h0M84.4 216.8h0M85.5 216.4h0M86.6 216h0M87.7 215.5h0M88.7 215.1h0M89.8 214.7h0M90.9 214.3h0M92 213.8h0M93.1 213.4h0M94.2 213h0M95.2 212.5h0M96.3 212.1h0M97.4 211.6h0M98.5 211.2h0M99.6 210.7h0M100.6 210.3h0M101.7 209.8h0M102.8 209.4h0M103.9 208.9h0M105 208.5h0M106.1 208h0M107.1 207.6h0M108.2 207.1h0M109.3 206.6h0M110.4 206.2h0M111.5 205.7h0M112.6 205.2h0M113.6 204.8h0M114.7 204.3h0M115.8 203.8h0M116.9 203.3h0M118 202.8h0M119.1 202.3h0M120.1 201.8h0M121.2 201.3h0M122.3 200.8h0M123.4 200.3h0M124.5 199.8h0M125.6 199.3h0M126.6 198.8h0M127.7 198.3h0M128.8 197.8h0M129.9 197.2h0M131 196.7h0M132 196.2h0M133.1 195.6h0M134.2 195.1h0M135.3 194.5h0M136.4 194h0M137.5 193.4h0M138.5 192.9h0M139.6 192.3h0M140.7 191.7h0M141.8 191.1h0M142.9 190.6h0M144 190h0M145 189.4h0M146.1 188.8h0M147.2 188.1h0M148.3 187.4h0M149.4 186.7h0M150.5 186h0M151.5 185.3h0M152.6 184.6h0M153.7 183.9h0M154.8 183.2h0M155.9 182.4h0M157 181.6h0M158 180.8h0M159.1 180h0M160.2 179.1h0M161.3 178.3h0M162.4 177.4h0M163.4 176.5h0M164.5 175.6h0M165.6 174.7h0M166.7 173.9h0M167.8 173h0M168.9 172.1h0M169.9 171.2h0M171 170.3h0M172.1 169.4h0M173.2 168.6h0M174.3 167.8h0M175.4 167h0M176.4 166.1h0M177.5 165.3h0M178.6 164.4h0M179.7 163.5h0M180.8 162.6h0M181.9 161.7h0M182.9 160.7h0M184 159.8h0M185.1 158.8h0M186.2 157.8h0M187.3 156.8h0M188.4 155.8h0M189.4 154.7h0M190.5 153.6h0M191.6 152.5h0M192.7 151.2h0M193.8 149.9h0M194.8 148.5h0M195.9 147.2h0M197 145.9h0M198.1 144.5h0M199.2 143.2h0M200.3 141.9h0M201.3 140.5h0M202.4 139.1h0M203.5 137.7h0M204.6 136.2h0M205.7 134.6h0M206.8 133.1h0M207.8 131.5h0M208.9 130h0M210 128.3h0M211.1 126.6h0M212.2 124.8h0M213.3 123h0M214.3 121.1h0M215.4 119.1h0M216.5 117.1h0M217.6 115h0M218.7 112.9h0M219.8 110.8h0M220.8 108.7h0M221.9 106.4h0M223 104h0M224.1 101.4h0M225.2 98.9h0M226.2 96.4h0M227.3 94h0M228.4 91.5h0M229.5 89.1h0M230.6 86.9h0M231.7 84.8h0M232.7 82.7h0M233.8 80.7h0M234.9 78.8h0M236 77.3h0M237.1 75.9h0M238.2 74.6h0M239.2 73.3h0M240.3 72.2h0M241.4 71.4h0M242.5 70.7h0M243.6 70.2h0M244.7 69.7h0M245.7 69.3h0M246.8 68.9h0M247.9 68.7h0M249 68.4h0M250.1 68.2h0M251.2 68h0M252.2 67.8h0M253.3 67.7h0M254.4 67.6h0M255.5 67.4h0M256.6 67.3h0M257.6 67.2h0M258.7 67.1h0M259.8 67h0M260.9 66.9h0M262 66.8h0M263.1 66.8h0M264.1 66.7h0M265.2 66.6h0M266.3 66.5h0M267.4 66.5h0M268.5 66.4h0M269.6 66.3h0M270.6 66.2h0M271.7 66.2h0M272.8 66.1h0M273.9 66h0M275 66h0M276.1 65.9h0M277.1 65.8h0M278.2 65.8h0M279.3 65.7h0M280.4 65.6h0M281.5 65.6h0M282.6 65.5h0M283.6 65.4h0M284.7 65.4h0M285.8 65.3h0M286.9 65.2h0M288 65.1h0M289 65.1h0M290.1 65h0M291.2 65h0M292.3 64.9h0M293.4 64.8h0M294.5 64.8h0M295.5 64.7h0M296.6 64.6h0M297.7 64.6h0M298.8 64.5h0M299.9 64.5h0M301 64.4h0M302 64.3h0M303.1 64.3h0M304.2 64.2h0M305.3 64.2h0M306.4 64.1h0M307.5 64.1h0M308.5 64h0M309.6 64h0M310.7 63.9h0M311.8 63.9h0M312.9 63.8h0M314 63.8h0M315 63.7h0M316.1 63.7h0M317.2 63.6h0M318.3 63.6h0M319.4 63.5h0M320.4 63.5h0M321.5 63.4h0M322.6 63.4h0M323.7 63.3h0M324.8 63.3h0M325.9 63.2h0M326.9 63.2h0M328 63.1h0M329.1 63.1h0M330.2 63.1h0M331.3 63h0M332.4 63h0M333.4 62.9h0M334.5 62.9h0M335.6 62.8h0M336.7 62.8h0M337.8 62.7h0M338.9 62.7h0M339.9 62.6h0M341 62.6h0M342.1 62.6h0M343.2 62.5h0M344.3 62.5h0M345.4 62.4h0M346.4 62.4h0M347.5 62.3h0M348.6 62.3h0M349.7 62.2h0M350.8 62.2h0M351.8 62.1h0M352.9 62.1h0M354 62h0M355.1 62h0M356.2 61.9h0M357.3 61.9h0M358.3 61.8h0M359.4 61.8h0M360.5 61.7h0M361.6 61.7h0M362.7 61.6h0M363.8 61.6h0M364.8 61.5h0M365.9 61.5h0M367 61.4h0M368.1 61.4h0M369.2 61.3h0M370.3 61.3h0M371.3 61.2h0"/>
<path stroke="#e80000" d="M74.7 220.9h0M75.7 220.5h0M76.8 220.1h0M77.9 219.7h0M79 219.3h0M80.1 218.9h0M81.2 218.5h0M82.2 218.1h0M83.3 217.7h0M84.4 217.3h0M85.5 216.9h0M86.6 216.5h0M87.7 216.1h0M88.7 215.7h0M89.8 215.3h0M90.9 214.9h0M92 214.5h0M93.1 214.1h0M94.2 213.7h0M95.2 213.3h0M96.3 212.8h0M97.4 212.4h0M98.5 212h0M99.6 211.6h0M100.6 211.1h0M101.7 210.7h0M102.8 210.3h0M103.9 209.8h0M105 209.4h0M106.1 209h0M107.1 208.5h0M108.2 208.1h0M109.3 207.6h0M110.4 207.2h0M111.5 206.7h0M112.6 206.3h0M113.6 205.8h0M114.7 205.4h0M115.8 204.9h0M116.9 204.5h0M118 204h0M119.1 203.5h0M120.1 203.1h0M121.2 202.6h0M122.3 202.1h0M123.4 201.6h0M124.5 201.2h0M125.6 200.7h0M126.6 200.2h0M127.7 199.7h0M128.8 199.2h0M129.9 198.7h0M131 198.2h0M132 197.7h0M133.1 197.2h0M134.2 196.7h0M135.3 196.2h0M136.4 195.7h0M137.5 195.1h0M138.5 194.6h0M139.6 194.1h0M140.7 193.5h0M141.8 193h0M142.9 192.4h0M144 191.9h0M145 191.3h0M146.1 190.7h0M147.2 190.1h0M148.3 189.4h0M149.4 188.8h0M150.5 188.1h0M151.5 187.5h0M152.6 186.8h0M153.7 186.1h0M154.8 185.4h0M155.9 184.7h0M157 184h0M158 183.2h0M159.1 182.5h0M160.2 181.7h0M161.3 180.9h0M162.4 180.1h0M163.4 179.2h0M164.5 178.4h0M165.6 177.6h0M166.7 176.8h0M167.8 175.9h0M168.9 175.1h0M169.9 174.3h0M171 173.4h0M172.1 172.5h0M173.2 171.6h0M174.3 170.7h0M175.4 169.8h0M176.4 169h0M177.5 168.2h0M178.6 167.3h0M179.7 166.5h0M180.8 165.7h0M181.9 164.8h0M182.9 163.9h0M184 163h0M185.1 162.1h0M186.2 161.2h0M187.3 160.2h0M188.4 159.3h0M189.4 158.3h0M190.5 157.3h0M191.6 156.3h0M192.7 155.2h0M193.8 154.1h0M194.8 153.1h0M195.9 151.8h0M197 150.5h0M198.1 149.2h0M199.2 147.8h0M200.3 146.5h0M201.3 145.1h0M202.4 143.8h0M203.5 142.4h0M204.6 141.1h0M205.7 139.8h0M206.8 138.6h0M207.8 137.4h0M208.9 136.2h0M210 134.9h0M211.1 133.5h0M212.2 132h0M213.3 130.5h0M214.3 128.9h0M215.4 127.2h0M216.5 125.4h0M217.6 123.7h0M218.7 121.8h0M219.8 119.8h0M220.8 117.8h0M221.9 115.7h0M223 113.4h0M224.1 111h0M225.2 108.5h0M226.2 106h0M227.3 103.5h0M228.4 100.9h0M229.5 98.5h0M230.6 96h0M231.7 93.5h0M232.7 91.1h0M233.8 88.8h0M234.9 86.5h0M236 84.4h0M237.1 82.4h0M238.2 80.4h0M239.2 78.6h0M240.3 77.1h0M241.4 75.7h0M242.5 74.4h0M243.6 73.1h0M244.7 72.1h0M245.7 71.3h0M246.8 70.7h0M247.9 70.1h0M249 69.6h0M250.1 69.2h0M251.2 68.9h0M252.2 68.6h0M253.3 68.4h0M254.4 68.2h0M255.5 68h0M256.6 67.8h0M257.6 67.7h0M258.7 67.5h0M259.8 67.4h0M260.9 67.3h0M262 67.2h0M263.1 67.1h0M264.1 67h0M265.2 66.9h0M266.3 66.8h0M267.4 66.8h0M268.5 66.7h0M269.6 66.6h0M270.6 66.5h0M271.7 66.4h0M272.8 66.4h0M273.9 66.3h0M275 66.2h0M276.1 66.2h0M277.1 66.1h0M278.2 66h0M279.3 66h0M280.4 65.9h0M281.5 65.8h0M282.6 65.8h0M283.6 65.7h0M284.7 65.6h0M285.8 65.6h0M286.9 65.5h0M288 65.4h0M289 65.3h0M290.1 65.3h0M291.2 65.2h0M292.3 65.1h0M293.4 65.1h0M294.5 65h0M295.5 64.9h0M296.6 64.9h0M297.7 64.8h0M298.8 64.8h0M299.9 64.7h0M301 64.6h0M302 64.6h0M303.1 64.5h0M304.2 64.5h0M305.3 64.4h0M306.4 64.3h0M307.5 64.3h0M308.5 64.2h0M309.6 64.2h0M310.7 64.1h0M311.8 64.1h0M312.9 64h0M314 64h0M315 63.9h0M316.1 63.9h0M317.2 63.8h0M318.3 63.8h0M319.4 63.7h0M320.4 63.7h0M321.5 63.6h0M322.6 63.6h0M323.7 63.5h0M324.8 63.5h0M325.9 63.4h0M326.9 63.4h0M328 63.3h0M329.1 63.3h0M330.2 63.2h0M331.3 63.2h0M332.4 63.1h0M333.4 63.1h0M334.5 63.1h0M335.6 63h0M336.7 63h0M337.8 62.9h0M338.9 62.9h0M339.9 62.8h0M341 62.8h0M342.1 62.7h0M343.2 62.7h0M344.3 62.6h0M345.4 62.6h0M346.4 62.5h0M347.5 62.5h0M348.6 62.5h0M349.7 62.4h0M350.8 62.4h0M351.8 62.3h0M352.9 62.3h0M354 62.2h0M355.1 62.2h0M356.2 62.1h0M357.3 62.1h0M358.3 62h0M359.4 62h0M360.5 61.9h0M361.6 61.9h0M362.7 61.8h0M363.8 61.8h0M364.8 61.7h0M365.9 61.7h0M367 61.6h0M368.1 61.6h0M369.2 61.5h0M370.3 61.5h0M371.3 61.4h0"/>
<path stroke="#ff0000" d="M74.7 221.3h0M75.7 220.9h0M76.8 220.5h0M77.9 220.1h0M79 219.7h0M80.1 219.3h0M81.2 218.9h0M82.2 218.5h0M83.3 218.2h0M84.4 217.8h0M85.5 217.4h0M86.6 217h0M87.7 216.7h0M88.7 216.3h0M89.8 215.9h0M90.9 215.5h0M92 215.1h0M93.1 214.7h0M94.2 214.3h0M95.2 213.9h0M96.3 213.5h0M97.4 213.1h0M98.5 212.7h0M99.6 212.3h0M100.6 211.9h0M101.7 211.5h0M102.8 211.1h0M103.9 210.6h0M105 210.2h0M106.1 209.8h0M107.1 209.4h0M108.2 209h0M109.3 208.6h0M110.4 208.1h0M111.5 207.7h0M112.6 207.3h0M113.6 206.9h0M114.7 206.4h0M115.8 206h0M116.9 205.6h0M118 205.1h0M119.1 204.7h0M120.1 204.2h0M121.2 203.8h0M122.3 203.3h0M123.4 202.9h0M124.5 202.4h0M125.6 202h0M126.6 201.5h0M127.7 201.1h0M128.8 200.6h0M129.9 200.1h0M131 199.7h0M132 199.2h0M133.1 198.7h0M134.2 198.2h0M135.3 197.8h0M136.4 197.3h0M137.5 196.8h0M138.5 196.3h0M139.6 195.8h0M140.7 195.3h0M141.8 194.8h0M142.9 194.3h0M144 193.8h0M145 193.3h0M146.1 192.6h0M147.2 192h0M148.3 191.4h0M149.4 190.8h0M150.5 190.1h0M151.5 189.5h0M152.6 188.9h0M153.7 188.2h0M154.8 187.5h0M155.9 186.9h0M157 186.2h0M158 185.5h0M159.1 184.8h0M160.2 184.1h0M161.3 183.3h0M162.4 182.6h0M163.4 181.8h0M164.5 181h0M165.6 180.3h0M166.7 179.5h0M167.8 178.7h0M168.9 178h0M169.9 177.2h0M171 176.3h0M172.1 175.5h0M173.2 174.7h0M174.3 173.8h0M175.4 172.9h0M176.4 172h0M177.5 171.1h0M178.6 170.2h0M179.7 169.4h0M180.8 168.6h0M181.9 167.7h0M182.9 166.9h0M184 166.1h0M185.1 165.2h0M186.2 164.3h0M187.3 163.4h0M188.4 162.5h0M189.4 161.6h0M190.5 160.7h0M191.6 159.7h0M192.7 158.8h0M193.8 157.8h0M194.8 156.8h0M195.9 155.7h0M197 154.7h0M198.1 153.6h0M199.2 152.5h0M200.3 151.1h0M201.3 149.8h0M202.4 148.4h0M203.5 147.1h0M204.6 145.7h0M205.7 144.4h0M206.8 143.3h0M207.8 142.2h0M208.9 141.1h0M210 140h0M211.1 138.9h0M212.2 137.8h0M213.3 136.6h0M214.3 135.3h0M215.4 134h0M216.5 132.5h0M217.6 131h0M218.7 129.4h0M219.8 127.7h0M220.8 126h0M221.9 124.2h0M223 122.2h0M224.1 120h0M225.2 117.7h0M226.2 115.3h0M227.3 113h0M228.4 110.6h0M229.5 108.1h0M230.6 105.6h0M231.7 103.1h0M232.7 100.5h0M233.8 98.1h0M234.9 95.6h0M236 93.2h0M237.1 90.8h0M238.2 88.4h0M239.2 86.3h0M240.3 84.2h0M241.4 82.1h0M242.5 80.2h0M243.6 78.4h0M244.7 76.9h0M245.7 75.5h0M246.8 74.3h0M247.9 73h0M249 72h0M250.1 71.2h0M251.2 70.6h0M252.2 70h0M253.3 69.6h0M254.4 69.2h0M255.5 68.9h0M256.6 68.6h0M257.6 68.4h0M258.7 68.2h0M259.8 68h0M260.9 67.8h0M262 67.7h0M263.1 67.5h0M264.1 67.4h0M265.2 67.3h0M266.3 67.2h0M267.4 67.1h0M268.5 67h0M269.6 66.9h0M270.6 66.8h0M271.7 66.7h0M272.8 66.7h0M273.9 66.6h0M275 66.5h0M276.1 66.4h0M277.1 66.4h0M278.2 66.3h0M279.3 66.2h0M280.4 66.2h0M281.5 66.1h0M282.6 66h0M283.6 66h0M284.7 65.9h0M285.8 65.8h0M286.9 65.8h0M288 65.7h0M289 65.6h0M290.1 65.6h0M291.2 65.5h0M292.3 65.4h0M293.4 65.3h0M294.5 65.3h0M295.5 65.2h0M296.6 65.1h0M297.7 65.1h0M298.8 65h0M299.9 64.9h0M301 64.9h0M302 64.8h0M303.1 64.7h0M304.2 64.7h0M305.3 64.6h0M306.4 64.6h0M307.5 64.5h0M308.5 64.4h0M309.6 64.4h0M310.7 64.3h0M311.8 64.3h0M312.9 64.2h0M314 64.2h0M315 64.1h0M316.1 64.1h0M317.2 64h0M318.3 64h0M319.4 63.9h0M320.4 63.9h0M321.5 63.8h0M322.6 63.8h0M323.7 63.7h0M324.8 63.7h0M325.9 63.6h0M326.9 63.6h0M328 63.5h0M329.1 63.5h0M330.2 63.4h0M331.3 63.4h0M332.4 63.3h0M333.4 63.3h0M334.5 63.2h0M335.6 63.2h0M336.7 63.1h0M337.8 63.1h0M338.9 63h0M339.9 63h0M341 63h0M342.1 62.9h0M343.2 62.9h0M344.3 62.8h0M345.4 62.8h0M346.4 62.7h0M347.5 62.7h0M348.6 62.6h0M349.7 62.6h0M350.8 62.5h0M351.8 62.5h0M352.9 62.5h0M354 62.4h0M355.1 62.4h0M356.2 62.3h0M357.3 62.3h0M358.3 62.2h0M359.4 62.2h0M360.5 62.1h0M361.6 62.1h0M362.7 62h0M363.8 62h0M364.8 61.9h0M365.9 61.9h0M367 61.8h0M368.1 61.8h0M369.2 61.7h0M370.3 61.7h0M371.3 61.6h0"/>
<path stroke="#ff0000" d="M74.7 221.7h0M75.7 221.3h0M76.8 220.9h0M77.9 220.5h0M79 220.1h0M80.1 219.7h0M81.2 219.3h0M82.2 219h0M83.3 218.6h0M84.4 218.3h0M85.5 217.9h0M86.6 217.6h0M87.7 217.2h0M88.7 216.8h0M89.8 216.5h0M90.9 216.1h0M92 215.7h0M93.1 215.3h0M94.2 215h0M95.2 214.6h0M96.3 214.2h0M97.4 213.8h0M98.5 213.4h0M99.6 213h0M100.6 212.7h0M101.7 212.3h0M102.8 211.9h0M103.9 211.5h0M105 211.1h0M106.1 210.7h0M107.1 210.3h0M108.2 209.9h0M109.3 209.5h0M110.4 209.1h0M111.5 208.7h0M112.6 208.3h0M113.6 207.9h0M114.7 207.5h0M115.8 207.1h0M116.9 206.7h0M118 206.3h0M119.1 205.8h0M120.1 205.4h0M121.2 205h0M122.3 204.6h0M123.4 204.2h0M124.5 203.7h0M125.6 203.3h0M126.6 202.9h0M127.7 202.4h0M128.8 202h0M129.9 201.6h0M131 201.1h0M132 200.7h0M133.1 200.2h0M134.2 199.8h0M135.3 199.3h0M136.4 198.9h0M137.5 198.4h0M138.5 198h0M139.6 197.5h0M140.7 197h0M141.8 196.6h0M142.9 196.1h0M144 195.6h0M145 195.1h0M146.1 194.5h0M147.2 193.9h0M148.3 193.3h0M149.4 192.7h0M150.5 192.1h0M151.5 191.5h0M152.6 190.8h0M153.7 190.2h0M154.8 189.6h0M155.9 188.9h0M157 188.3h0M158 187.6h0M159.1 187h0M160.2 186.3h0M161.3 185.6h0M162.4 184.9h0M163.4 184.2h0M164.5 183.5h0M165.6 182.8h0M166.7 182.1h0M167.8 181.4h0M168.9 180.6h0M169.9 179.9h0M171 179.1h0M172.1 178.3h0M173.2 177.5h0M174.3 176.7h0M175.4 175.9h0M176.4 175.1h0M177.5 174.2h0M178.6 173.4h0M179.7 172.5h0M180.8 171.6h0M181.9 170.7h0M182.9 169.8h0M184 169h0M185.1 168.2h0M186.2 167.3h0M187.3 166.5h0M188.4 165.6h0M189.4 164.8h0M190.5 163.9h0M191.6 163h0M192.7 162.1h0M193.8 161.2h0M194.8 160.2h0M195.9 159.3h0M197 158.3h0M198.1 157.3h0M199.2 156.3h0M200.3 155.2h0M201.3 154.1h0M202.4 153h0M203.5 151.8h0M204.6 150.4h0M205.7 149.1h0M206.8 148h0M207.8 146.9h0M208.9 145.8h0M210 144.7h0M211.1 143.6h0M212.2 142.5h0M213.3 141.4h0M214.3 140.4h0M215.4 139.3h0M216.5 138.1h0M217.6 136.9h0M218.7 135.7h0M219.8 134.4h0M220.8 132.9h0M221.9 131.4h0M223 129.7h0M224.1 127.8h0M225.2 125.9h0M226.2 123.9h0M227.3 121.8h0M228.4 119.6h0M229.5 117.3h0M230.6 114.9h0M231.7 112.6h0M232.7 110.2h0M233.8 107.7h0M234.9 105.2h0M236 102.7h0M237.1 100.2h0M238.2 97.7h0M239.2 95.3h0M240.3 92.9h0M241.4 90.5h0M242.5 88.2h0M243.6 86h0M244.7 83.9h0M245.7 81.9h0M246.8 79.9h0M247.9 78.2h0M249 76.7h0M250.1 75.4h0M251.2 74.1h0M252.2 72.8h0M253.3 71.9h0M254.4 71.1h0M255.5 70.5h0M256.6 70h0M257.6 69.5h0M258.7 69.1h0M259.8 68.8h0M260.9 68.6h0M262 68.3h0M263.1 68.1h0M264.1 68h0M265.2 67.8h0M266.3 67.6h0M267.4 67.5h0M268.5 67.4h0M269.6 67.3h0M270.6 67.2h0M271.7 67.1h0M272.8 67h0M273.9 66.9h0M275 66.8h0M276.1 66.7h0M277.1 66.7h0M278.2 66.6h0M279.3 66.5h0M280.4 66.4h0M281.5 66.4h0M282.6 66.3h0M283.6 66.2h0M284.7 66.2h0M285.8 66.1h0M286.9 66h0M288 66h0M289 65.9h0M290.1 65.8h0M291.2 65.8h0M292.3 65.7h0M293.4 65.6h0M294.5 65.5h0M295.5 65.5h0M296.6 65.4h0M297.7 65.3h0M298.8 65.3h0M299.9 65.2h0M301 65.1h0M302 65.1h0M303.1 65h0M304.2 64.9h0M305.3 64.9h0M306.4 64.8h0M307.5 64.7h0M308.5 64.7h0M309.6 64.6h0M310.7 64.6h0M311.8 64.5h0M312.9 64.4h0M314 64.4h0M315 64.3h0M316.1 64.3h0M317.2 64.2h0M318.3 64.2h0M319.4 64.1h0M320.4 64.1h0M321.5 64h0M322.6 64h0M323.7 63.9h0M324.8 63.8h0M325.9 63.8h0M326.9 63.8h0M328 63.7h0M329.1 63.7h0M330.2 63.6h0M331.3 63.6h0M332.4 63.5h0M333.4 63.5h0M334.5 63.4h0M335.6 63.4h0M336.7 63.3h0M337.8 63.3h0M338.9 63.2h0M339.9 63.2h0M341 63.1h0M342.1 63.1h0M343.2 63h0M344.3 63h0M345.4 63h0M346.4 62.9h0M347.5 62.9h0M348.6 62.8h0M349.7 62.8h0M350.8 62.7h0M351.8 62.7h0M352.9 62.6h0M354 62.6h0M355.1 62.5h0M356.2 62.5h0M357.3 62.4h0M358.3 62.4h0M359.4 62.4h0M360.5 62.3h0M361.6 62.3h0M362.7 62.2h0M363.8 62.2h0M364.8 62.1h0M365.9 62.1h0M367 62h0M368.1 62h0M369.2 61.9h0M370.3 61.9h0M371.3 61.8h0"/>
<path stroke="#ff0000" d="M74.7 222.2h0M75.7 221.8h0M76.8 221.5h0M77.9 221.1h0M79 220.7h0M80.1 220.3h0M81.2 219.9h0M82.2 219.6h0M83.3 219.3h0M84.4 218.9h0M85.5 218.6h0M86.6 218.2h0M87.7 217.9h0M88.7 217.5h0M89.8 217.2h0M90.9 216.8h0M92 216.5h0M93.1 216.1h0M94.2 215.8h0M95.2 215.4h0M96.3 215h0M97.4 214.7h0M98.5 214.3h0M99.6 213.9h0M100.6 213.6h0M101.7 213.2h0M102.8 212.8h0M103.9 212.4h0M105 212.1h0M106.1 211.7h0M107.1 211.3h0M108.2 210.9h0M109.3 210.6h0M110.4 210.2h0M111.5 209.8h0M112.6 209.4h0M113.6 209h0M114.7 208.6h0M115.8 208.2h0M116.9 207.9h0M118 207.5h0M119.1 207.1h0M120.1 206.7h0M121.2 206.3h0M122.3 205.9h0M123.4 205.5h0M124.5 205.1h0M125.6 204.7h0M126.6 204.2h0M127.7 203.8h0M128.8 203.4h0M129.9 203h0M131 202.6h0M132 202.2h0M133.1 201.7h0M134.2 201.3h0M135.3 200.9h0M136.4 200.5h0M137.5 200h0M138.5 199.6h0M139.6 199.2h0M140.7 198.7h0M141.8 198.3h0M142.9 197.8h0M144 197.4h0M145 196.9h0M146.1 196.4h0M147.2 195.8h0M148.3 195.2h0M149.4 194.6h0M150.5 194h0M151.5 193.4h0M152.6 192.8h0M153.7 192.2h0M154.8 191.6h0M155.9 190.9h0M157 190.3h0M158 189.7h0M159.1 189.1h0M160.2 188.4h0M161.3 187.8h0M162.4 187.1h0M163.4 186.4h0M164.5 185.7h0M165.6 185.1h0M166.7 184.4h0M167.8 183.8h0M168.9 183.1h0M169.9 182.4h0M171 181.7h0M172.1 181h0M173.2 180.3h0M174.3 179.5h0M175.4 178.7h0M176.4 177.9h0M177.5 177.1h0M178.6 176.3h0M179.7 175.5h0M180.8 174.7h0M181.9 173.8h0M182.9 172.9h0M184 172h0M185.1 171.2h0M186.2 170.2h0M187.3 169.4h0M188.4 168.6h0M189.4 167.8h0M190.5 166.9h0M191.6 166.1h0M192.7 165.2h0M193.8 164.4h0M194.8 163.5h0M195.9 162.6h0M197 161.7h0M198.1 160.7h0M199.2 159.8h0M200.3 158.8h0M201.3 157.8h0M202.4 156.8h0M203.5 155.7h0M204.6 154.7h0M205.7 153.6h0M206.8 152.6h0M207.8 151.5h0M208.9 150.5h0M210 149.4h0M211.1 148.3h0M212.2 147.2h0M213.3 146.1h0M214.3 145h0M215.4 143.9h0M216.5 142.8h0M217.6 141.7h0M218.7 140.7h0M219.8 139.6h0M220.8 138.4h0M221.9 137.3h0M223 135.9h0M224.1 134.4h0M225.2 132.9h0M226.2 131.2h0M227.3 129.4h0M228.4 127.5h0M229.5 125.6h0M230.6 123.6h0M231.7 121.5h0M232.7 119.2h0M233.8 117h0M234.9 114.6h0M236 112.2h0M237.1 109.9h0M238.2 107.4h0M239.2 104.9h0M240.3 102.4h0M241.4 99.9h0M242.5 97.4h0M243.6 95h0M244.7 92.6h0M245.7 90.2h0M246.8 87.9h0M247.9 85.7h0M249 83.6h0M250.1 81.6h0M251.2 79.7h0M252.2 78h0M253.3 76.6h0M254.4 75.2h0M255.5 73.9h0M256.6 72.7h0M257.6 71.8h0M258.7 71.1h0M259.8 70.4h0M260.9 69.9h0M262 69.5h0M263.1 69.1h0M264.1 68.8h0M265.2 68.6h0M266.3 68.3h0M267.4 68.1h0M268.5 67.9h0M269.6 67.8h0M270.6 67.6h0M271.7 67.5h0M272.8 67.4h0M273.9 67.3h0M275 67.2h0M276.1 67.1h0M277.1 67h0M278.2 66.9h0M279.3 66.8h0M280.4 66.7h0M281.5 66.6h0M282.6 66.6h0M283.6 66.5h0M284.7 66.4h0M285.8 66.4h0M286.9 66.3h0M288 66.2h0M289 66.1h0M290.1 66.1h0M291.2 66h0M292.3 65.9h0M293.4 65.9h0M294.5 65.8h0M295.5 65.7h0M296.6 65.7h0M297.7 65.6h0M298.8 65.5h0M299.9 65.5h0M301 65.4h0M302 65.3h0M303.1 65.3h0M304.2 65.2h0M305.3 65.1h0M306.4 65.1h0M307.5 65h0M308.5 64.9h0M309.6 64.9h0M310.7 64.8h0M311.8 64.7h0M312.9 64.7h0M314 64.6h0M315 64.6h0M316.1 64.5h0M317.2 64.4h0M318.3 64.4h0M319.4 64.3h0M320.4 64.3h0M321.5 64.2h0M322.6 64.2h0M323.7 64.1h0M324.8 64.1h0M325.9 64h0M326.9 63.9h0M328 63.9h0M329.1 63.8h0M330.2 63.8h0M331.3 63.7h0M332.4 63.7h0M333.4 63.6h0M334.5 63.6h0M335.6 63.6h0M336.7 63.5h0M337.8 63.5h0M338.9 63.4h0M339.9 63.4h0M341 63.3h0M342.1 63.3h0M343.2 63.2h0M344.3 63.2h0M345.4 63.1h0M346.4 63.1h0M347.5 63h0M348.6 63h0M349.7 63h0M350.8 62.9h0M351.8 62.9h0M352.9 62.8h0M354 62.8h0M355.1 62.7h0M356.2 62.7h0M357.3 62.6h0M358.3 62.6h0M359.4 62.5h0M360.5 62.5h0M361.6 62.4h0M362.7 62.4h0M363.8 62.3h0M364.8 62.3h0M365.9 62.3h0M367 62.2h0M368.1 62.2h0M369.2 62.1h0M370.3 62.1h0M371.3 62h0"/>
<path stroke="#ff2800" d="M74.7 223.3h0M75.7 222.9h0M76.8 222.5h0M77.9 222.1h0M79 221.7h0M80.1 221.4h0M81.2 221h0M82.2 220.7h0M83.3 220.4h0M84.4 220h0M85.5 219.7h0M86.6 219.4h0M87.7 219.1h0M88.7 218.7h0M89.8 218.4h0M90.9 218h0M92 217.7h0M93.1 217.3h0M94.2 217h0M95.2 216.6h0M96.3 216.3h0M97.4 215.9h0M98.5 215.6h0M99.6 215.2h0M100.6 214.8h0M101.7 214.5h0M102.8 214.1h0M103.9 213.7h0M105 213.4h0M106.1 213h0M107.1 212.6h0M108.2 212.3h0M109.3 211.9h0M110.4 211.5h0M111.5 211.2h0M112.6 210.8h0M113.6 210.4h0M114.7 210h0M115.8 209.7h0M116.9 209.3h0M118 208.9h0M119.1 208.5h0M120.1 208.1h0M121.2 207.7h0M122.3 207.3h0M123.4 207h0M124.5 206.6h0M125.6 206.2h0M126.6 205.8h0M127.7 205.4h0M128.8 205h0M129.9 204.6h0M131 204.2h0M132 203.8h0M133.1 203.4h0M134.2 202.9h0M135.3 202.5h0M136.4 202.1h0M137.5 201.7h0M138.5 201.3h0M139.6 200.9h0M140.7 200.4h0M141.8 200h0M142.9 199.6h0M144 199.2h0M145 198.7h0M146.1 198.2h0M147.2 197.6h0M148.3 197.1h0M149.4 196.5h0M150.5 195.9h0M151.5 195.3h0M152.6 194.7h0M153.7 194.1h0M154.8 193.5h0M155.9 192.9h0M157 192.3h0M158 191.7h0M159.1 191.1h0M160.2 190.5h0M161.3 189.8h0M162.4 189.2h0M163.4 188.6h0M164.5 187.9h0M165.6 187.3h0M166.7 186.7h0M167.8 186.1h0M168.9 185.4h0M169.9 184.8h0M171 184.1h0M172.1 183.5h0M173.2 182.8h0M174.3 182.1h0M175.4 181.4h0M176.4 180.6h0M177.5 179.9h0M178.6 179.1h0M179.7 178.4h0M180.8 177.6h0M181.9 176.8h0M182.9 175.9h0M184 175.1h0M185.1 174.3h0M186.2 173.4h0M187.3 172.5h0M188.4 171.6h0M189.4 170.7h0M190.5 169.8h0M191.6 169h0M192.7 168.2h0M193.8 167.4h0M194.8 166.6h0M195.9 165.7h0M197 164.9h0M198.1 164h0M199.2 163.1h0M200.3 162.2h0M201.3 161.2h0M202.4 160.3h0M203.5 159.3h0M204.6 158.3h0M205.7 157.4h0M206.8 156.5h0M207.8 155.6h0M208.9 154.7h0M210 153.8h0M211.1 152.9h0M212.2 151.8h0M213.3 150.7h0M214.3 149.6h0M215.4 148.5h0M216.5 147.4h0M217.6 146.3h0M218.7 145.2h0M219.8 144.1h0M220.8 143.1h0M221.9 142h0M223 140.8h0M224.1 139.6h0M225.2 138.4h0M226.2 137.1h0M227.3 135.7h0M228.4 134.2h0M229.5 132.6h0M230.6 130.9h0M231.7 129.1h0M232.7 127.2h0M233.8 125.3h0M234.9 123.3h0M236 121.2h0M237.1 118.9h0M238.2 116.6h0M239.2 114.3h0M240.3 111.9h0M241.4 109.5h0M242.5 107.1h0M243.6 104.6h0M244.7 102.1h0M245.7 99.6h0M246.8 97.1h0M247.9 94.7h0M249 92.3h0M250.1 89.9h0M251.2 87.6h0M252.2 85.5h0M253.3 83.4h0M254.4 81.4h0M255.5 79.5h0M256.6 77.8h0M257.6 76.4h0M258.7 75.1h0M259.8 73.8h0M260.9 72.6h0M262 71.7h0M263.1 71h0M264.1 70.4h0M265.2 69.9h0M266.3 69.4h0M267.4 69.1h0M268.5 68.8h0M269.6 68.5h0M270.6 68.3h0M271.7 68.1h0M272.8 67.9h0M273.9 67.8h0M275 67.6h0M276.1 67.5h0M277.1 67.4h0M278.2 67.3h0M279.3 67.2h0M280.4 67.1h0M281.5 67h0M282.6 66.9h0M283.6 66.8h0M284.7 66.7h0M285.8 66.6h0M286.9 66.6h0M288 66.5h0M289 66.4h0M290.1 66.3h0M291.2 66.3h0M292.3 66.2h0M293.4 66.1h0M294.5 66.1h0M295.5 66h0M296.6 65.9h0M297.7 65.9h0M298.8 65.8h0M299.9 65.7h0M301 65.7h0M302 65.6h0M303.1 65.5h0M304.2 65.5h0M305.3 65.4h0M306.4 65.3h0M307.5 65.3h0M308.5 65.2h0M309.6 65.1h0M310.7 65.1h0M311.8 65h0M312.9 64.9h0M314 64.9h0M315 64.8h0M316.1 64.7h0M317.2 64.7h0M318.3 64.6h0M319.4 64.5h0M320.4 64.5h0M321.5 64.4h0M322.6 64.4h0M323.7 64.3h0M324.8 64.3h0M325.9 64.2h0M326.9 64.2h0M328 64.1h0M329.1 64h0M330.2 64h0M331.3 63.9h0M332.4 63.9h0M333.4 63.8h0M334.5 63.8h0M335.6 63.7h0M336.7 63.7h0M337.8 63.6h0M338.9 63.6h0M339.9 63.5h0M341 63.5h0M342.1 63.5h0M343.2 63.4h0M344.3 63.4h0M345.4 63.3h0M346.4 63.3h0M347.5 63.2h0M348.6 63.2h0M349.7 63.1h0M350.8 63.1h0M351.8 63h0M352.9 63h0M354 62.9h0M355.1 62.9h0M356.2 62.9h0M357.3 62.8h0M358.3 62.8h0M359.4 62.7h0M360.5 62.7h0M361.6 62.6h0M362.7 62.6h0M363.8 62.5h0M364.8 62.5h0M365.9 62.4h0M367 62.4h0M368.1 62.3h0M369.2 62.3h0M370.3 62.2h0M371.3 62.2h0"/>
<path stroke="#ff8c00" d="M74.7 226.4h0M75.7 226.1h0M76.8 225.7h0M77.9 225.4h0M79 225h0M80.1 224.6h0M81.2 224.3h0M82.2 224h0M83.3 223.6h0M84.4 223.3h0M85.5 222.9h0M86.6 222.6h0M87.7 222.2h0M88.7 221.9h0M89.8 221.5h0M90.9 221.2h0M92 220.8h0M93.1 220.4h0M94.2 220.1h0M95.2 219.7h0M96.3 219.3h0M97.4 219h0M98.5 218.6h0M99.6 218.2h0M100.6 217.8h0M101.7 217.4h0M102.8 217h0M103.9 216.6h0M105 216.3h0M106.1 215.9h0M107.1 215.5h0M108.2 215.1h0M109.3 214.7h0M110.4 214.3h0M111.5 213.9h0M112.6 213.4h0M113.6 213h0M114.7 212.6h0M115.8 212.2h0M116.9 211.8h0M118 211.4h0M119.1 211h0M120.1 210.6h0M121.2 210.2h0M122.3 209.7h0M123.4 209.3h0M124.5 208.9h0M125.6 208.5h0M126.6 208.1h0M127.7 207.6h0M128.8 207.2h0M129.9 206.8h0M131 206.3h0M132 205.9h0M133.1 205.5h0M134.2 205h0M135.3 204.6h0M136.4 204.1h0M137.5 203.7h0M138.5 203.2h0M139.6 202.8h0M140.7 202.3h0M141.8 201.9h0M142.9 201.4h0M144 200.9h0M145 200.5h0M146.1 199.9h0M147.2 199.4h0M148.3 198.8h0M149.4 198.3h0M150.5 197.7h0M151.5 197.2h0M152.6 196.6h0M153.7 196h0M154.8 195.4h0M155.9 194.8h0M157 194.3h0M158 193.7h0M159.1 193.1h0M160.2 192.4h0M161.3 191.8h0M162.4 191.2h0M163.4 190.6h0M164.5 190h0M165.6 189.4h0M166.7 188.8h0M167.8 188.2h0M168.9 187.6h0M169.9 187h0M171 186.4h0M172.1 185.8h0M173.2 185.1h0M174.3 184.5h0M175.4 183.8h0M176.4 183.1h0M177.5 182.5h0M178.6 181.8h0M179.7 181h0M180.8 180.3h0M181.9 179.6h0M182.9 178.8h0M184 178h0M185.1 177.2h0M186.2 176.4h0M187.3 175.6h0M188.4 174.7h0M189.4 173.9h0M190.5 173h0M191.6 172.1h0M192.7 171.2h0M193.8 170.3h0M194.8 169.5h0M195.9 168.7h0M197 167.9h0M198.1 167h0M199.2 166.2h0M200.3 165.3h0M201.3 164.5h0M202.4 163.6h0M203.5 162.7h0M204.6 161.8h0M205.7 160.8h0M206.8 160h0M207.8 159.2h0M208.9 158.3h0M210 157.5h0M211.1 156.7h0M212.2 155.8h0M213.3 154.9h0M214.3 154h0M215.4 153.1h0M216.5 152.1h0M217.6 151h0M218.7 149.9h0M219.8 148.8h0M220.8 147.7h0M221.9 146.6h0M223 145.4h0M224.1 144.2h0M225.2 143h0M226.2 141.8h0M227.3 140.6h0M228.4 139.4h0M229.5 138.2h0M230.6 136.9h0M231.7 135.5h0M232.7 134h0M233.8 132.4h0M234.9 130.6h0M236 128.8h0M237.1 127h0M238.2 125h0M239.2 123h0M240.3 120.9h0M241.4 118.7h0M242.5 116.4h0M243.6 114h0M244.7 111.6h0M245.7 109.3h0M246.8 106.8h0M247.9 104.3h0M249 101.8h0M250.1 99.3h0M251.2 96.9h0M252.2 94.4h0M253.3 92h0M254.4 89.6h0M255.5 87.4h0M256.6 85.3h0M257.6 83.2h0M258.7 81.2h0M259.8 79.3h0M260.9 77.7h0M262 76.3h0M263.1 75h0M264.1 73.7h0M265.2 72.5h0M266.3 71.6h0M267.4 70.9h0M268.5 70.3h0M269.6 69.8h0M270.6 69.4h0M271.7 69h0M272.8 68.8h0M273.9 68.5h0M275 68.3h0M276.1 68.1h0M277.1 67.9h0M278.2 67.7h0M279.3 67.6h0M280.4 67.5h0M281.5 67.4h0M282.6 67.3h0M283.6 67.2h0M284.7 67.1h0M285.8 67h0M286.9 66.9h0M288 66.8h0M289 66.7h0M290.1 66.6h0M291.2 66.6h0M292.3 66.5h0M293.4 66.4h0M294.5 66.3h0M295.5 66.3h0M296.6 66.2h0M297.7 66.1h0M298.8 66.1h0M299.9 66h0M301 65.9h0M302 65.9h0M303.1 65.8h0M304.2 65.7h0M305.3 65.7h0M306.4 65.6h0M307.5 65.5h0M308.5 65.5h0M309.6 65.4h0M310.7 65.3h0M311.8 65.2h0M312.9 65.2h0M314 65.1h0M315 65h0M316.1 65h0M317.2 64.9h0M318.3 64.9h0M319.4 64.8h0M320.4 64.7h0M321.5 64.7h0M322.6 64.6h0M323.7 64.5h0M324.8 64.5h0M325.9 64.4h0M326.9 64.4h0M328 64.3h0M329.1 64.3h0M330.2 64.2h0M331.3 64.1h0M332.4 64.1h0M333.4 64h0M334.5 64h0M335.6 63.9h0M336.7 63.9h0M337.8 63.8h0M338.9 63.8h0M339.9 63.7h0M341 63.7h0M342.1 63.6h0M343.2 63.6h0M344.3 63.5h0M345.4 63.5h0M346.4 63.5h0M347.5 63.4h0M348.6 63.4h0M349.7 63.3h0M350.8 63.3h0M351.8 63.2h0M352.9 63.2h0M354 63.1h0M355.1 63.1h0M356.2 63h0M357.3 63h0M358.3 62.9h0M359.4 62.9h0M360.5 62.9h0M361.6 62.8h0M362.7 62.8h0M363.8 62.7h0M364.8 62.7h0M365.9 62.6h0M367 62.6h0M368.1 62.5h0M369.2 62.5h0M370.3 62.4h0M371.3 62.4h0"/>
<path stroke="#ffb000" d="M74.7 228.2h0M75.7 227.8h0M76.8 227.5h0M77.9 227.1h0M79 226.8h0M80.1 226.4h0M81.2 226.1h0M82.2 225.8h0M83.3 225.4h0M84.4 225.1h0M85.5 224.7h0M86.6 224.4h0M87.7 224h0M88.7 223.7h0M89.8 223.3h0M90.9 223h0M92 222.6h0M93.1 222.3h0M94.2 221.9h0M95.2 221.5h0M96.3 221.2h0M97.4 220.8h0M98.5 220.4h0M99.6 220h0M100.6 219.6h0M101.7 219.3h0M102.8 218.9h0M103.9 218.5h0M105 218.1h0M106.1 217.7h0M107.1 217.3h0M108.2 216.9h0M109.3 216.5h0M110.4 216.1h0M111.5 215.7h0M112.6 215.3h0M113.6 214.9h0M114.7 214.4h0M115.8 214h0M116.9 213.6h0M118 213.2h0M119.1 212.8h0M120.1 212.4h0M121.2 211.9h0M122.3 211.5h0M123.4 211.1h0M124.5 210.7h0M125.6 210.2h0M126.6 209.8h0M127.7 209.4h0M128.8 208.9h0M129.9 208.5h0M131 208.1h0M132 207.6h0M133.1 207.2h0M134.2 206.8h0M135.3 206.3h0M136.4 205.9h0M137.5 205.4h0M138.5 205h0M139.6 204.5h0M140.7 204h0M141.8 203.6h0M142.9 203.1h0M144 202.7h0M145 202.2h0M146.1 201.7h0M147.2 201.1h0M148.3 200.6h0M149.4 200h0M150.5 199.5h0M151.5 199h0M152.6 198.4h0M153.7 197.9h0M154.8 197.3h0M155.9 196.7h0M157 196.2h0M158 195.6h0M159.1 195h0M160.2 194.4h0M161.3 193.8h0M162.4 193.2h0M163.4 192.6h0M164.5 192h0M165.6 191.4h0M166.7 190.9h0M167.8 190.3h0M168.9 189.7h0M169.9 189.1h0M171 188.5h0M172.1 187.9h0M173.2 187.3h0M174.3 186.7h0M175.4 186.1h0M176.4 185.5h0M177.5 184.8h0M178.6 184.2h0M179.7 183.5h0M180.8 182.8h0M181.9 182.1h0M182.9 181.4h0M184 180.7h0M185.1 180h0M186.2 179.2h0M187.3 178.5h0M188.4 177.7h0M189.4 176.9h0M190.5 176.1h0M191.6 175.2h0M192.7 174.4h0M193.8 173.5h0M194.8 172.7h0M195.9 171.8h0M197 170.9h0M198.1 170h0M199.2 169.1h0M200.3 168.3h0M201.3 167.5h0M202.4 166.7h0M203.5 165.8h0M204.6 165h0M205.7 164.1h0M206.8 163.3h0M207.8 162.5h0M208.9 161.8h0M210 161h0M211.1 160.2h0M212.2 159.3h0M213.3 158.5h0M214.3 157.7h0M215.4 156.8h0M216.5 156h0M217.6 155.1h0M218.7 154.2h0M219.8 153.3h0M220.8 152.3h0M221.9 151.2h0M223 150h0M224.1 148.8h0M225.2 147.6h0M226.2 146.4h0M227.3 145.2h0M228.4 144h0M229.5 142.8h0M230.6 141.6h0M231.7 140.5h0M232.7 139.2h0M233.8 138h0M234.9 136.7h0M236 135.3h0M237.1 133.8h0M238.2 132.1h0M239.2 130.4h0M240.3 128.6h0M241.4 126.7h0M242.5 124.8h0M243.6 122.8h0M244.7 120.6h0M245.7 118.4h0M246.8 116.1h0M247.9 113.7h0M249 111.4h0M250.1 109h0M251.2 106.5h0M252.2 104h0M253.3 101.5h0M254.4 99h0M255.5 96.6h0M256.6 94.2h0M257.6 91.7h0M258.7 89.4h0M259.8 87.2h0M260.9 85h0M262 83h0M263.1 81h0M264.1 79.1h0M265.2 77.5h0M266.3 76.1h0M267.4 74.8h0M268.5 73.5h0M269.6 72.4h0M270.6 71.6h0M271.7 70.9h0M272.8 70.3h0M273.9 69.8h0M275 69.4h0M276.1 69h0M277.1 68.7h0M278.2 68.5h0M279.3 68.3h0M280.4 68.1h0M281.5 67.9h0M282.6 67.7h0M283.6 67.6h0M284.7 67.5h0M285.8 67.3h0M286.9 67.2h0M288 67.1h0M289 67h0M290.1 67h0M291.2 66.9h0M292.3 66.8h0M293.4 66.7h0M294.5 66.6h0M295.5 66.6h0M296.6 66.5h0M297.7 66.4h0M298.8 66.3h0M299.9 66.3h0M301 66.2h0M302 66.1h0M303.1 66.1h0M304.2 66h0M305.3 65.9h0M306.4 65.9h0M307.5 65.8h0M308.5 65.7h0M309.6 65.7h0M310.7 65.6h0M311.8 65.5h0M312.9 65.5h0M314 65.4h0M315 65.3h0M316.1 65.2h0M317.2 65.2h0M318.3 65.1h0M319.4 65h0M320.4 65h0M321.5 64.9h0M322.6 64.8h0M323.7 64.8h0M324.8 64.7h0M325.9 64.7h0M326.9 64.6h0M328 64.5h0M329.1 64.5h0M330.2 64.4h0M331.3 64.4h0M332.4 64.3h0M333.4 64.3h0M334.5 64.2h0M335.6 64.1h0M336.7 64.1h0M337.8 64h0M338.9 64h0M339.9 63.9h0M341 63.9h0M342.1 63.8h0M343.2 63.8h0M344.3 63.7h0M345.4 63.7h0M346.4 63.6h0M347.5 63.6h0M348.6 63.5h0M349.7 63.5h0M350.8 63.4h0M351.8 63.4h0M352.9 63.4h0M354 63.3h0M355.1 63.3h0M356.2 63.2h0M357.3 63.2h0M358.3 63.1h0M359.4 63.1h0M360.5 63h0M361.6 63h0M362.7 62.9h0M363.8 62.9h0M364.8 62.9h0M365.9 62.8h0M367 62.8h0M368.1 62.7h0M369.2 62.7h0M370.3 62.6h0M371.3 62.6h0"/>
<path stroke="#ffd000" d="M74.7 229.5h0M75.7 229.1h0M76.8 228.8h0M77.9 228.4h0M79 228.1h0M80.1 227.8h0M81.2 227.4h0M82.2 227.1h0M83.3 226.8h0M84.4 226.4h0M85.5 226.1h0M86.6 225.8h0M87.7 225.4h0M88.7 225.1h0M89.8 224.7h0M90.9 224.4h0M92 224h0M93.1 223.7h0M94.2 223.3h0M95.2 222.9h0M96.3 222.6h0M97.4 222.2h0M98.5 221.8h0M99.6 221.5h0M100.6 221.1h0M101.7 220.7h0M102.8 220.3h0M103.9 220h0M105 219.6h0M106.1 219.2h0M107.1 218.8h0M108.2 218.4h0M109.3 218h0M110.4 217.6h0M111.5 217.2h0M112.6 216.8h0M113.6 216.4h0M114.7 216h0M115.8 215.6h0M116.9 215.2h0M118 214.8h0M119.1 214.3h0M120.1 213.9h0M121.2 213.5h0M122.3 213.1h0M123.4 212.7h0M124.5 212.2h0M125.6 211.8h0M126.6 211.4h0M127.7 211h0M128.8 210.5h0M129.9 210.1h0M131 209.7h0M132 209.2h0M133.1 208.8h0M134.2 208.4h0M135.3 207.9h0M136.4 207.5h0M137.5 207h0M138.5 206.6h0M139.6 206.2h0M140.7 205.7h0M141.8 205.2h0M142.9 204.8h0M144 204.3h0M145 203.9h0M146.1 203.4h0M147.2 202.8h0M148.3 202.3h0M149.4 201.8h0M150.5 201.3h0M151.5 200.7h0M152.6 200.2h0M153.7 199.6h0M154.8 199.1h0M155.9 198.6h0M157 198h0M158 197.4h0M159.1 196.9h0M160.2 196.3h0M161.3 195.7h0M162.4 195.2h0M163.4 194.6h0M164.5 194h0M165.6 193.4h0M166.7 192.9h0M167.8 192.3h0M168.9 191.7h0M169.9 191.2h0M171 190.6h0M172.1 190h0M173.2 189.5h0M174.3 188.9h0M175.4 188.3h0M176.4 187.7h0M177.5 187.1h0M178.6 186.5h0M179.7 185.8h0M180.8 185.2h0M181.9 184.6h0M182.9 183.9h0M184 183.2h0M185.1 182.6h0M186.2 181.9h0M187.3 181.1h0M188.4 180.4h0M189.4 179.7h0M190.5 178.9h0M191.6 178.1h0M192.7 177.4h0M193.8 176.5h0M194.8 175.7h0M195.9 174.9h0M197 174.1h0M198.1 173.2h0M199.2 172.3h0M200.3 171.4h0M201.3 170.5h0M202.4 169.6h0M203.5 168.8h0M204.6 168h0M205.7 167.2h0M206.8 166.5h0M207.8 165.7h0M208.9 165h0M210 164.2h0M211.1 163.5h0M212.2 162.7h0M213.3 161.9h0M214.3 161.1h0M215.4 160.3h0M216.5 159.5h0M217.6 158.7h0M218.7 157.8h0M219.8 157h0M220.8 156.1h0M221.9 155.2h0M223 154.3h0M224.1 153.3h0M225.2 152.2h0M226.2 151h0M227.3 149.8h0M228.4 148.6h0M229.5 147.4h0M230.6 146.2h0M231.7 145h0M232.7 143.8h0M233.8 142.7h0M234.9 141.5h0M236 140.3h0M237.1 139.1h0M238.2 137.8h0M239.2 136.5h0M240.3 135.1h0M241.4 133.6h0M242.5 131.9h0M243.6 130.2h0M244.7 128.4h0M245.7 126.5h0M246.8 124.6h0M247.9 122.5h0M249 120.4h0M250.1 118.1h0M251.2 115.8h0M252.2 113.5h0M253.3 111.1h0M254.4 108.7h0M255.5 106.3h0M256.6 103.7h0M257.6 101.2h0M258.7 98.8h0M259.8 96.4h0M260.9 93.9h0M262 91.5h0M263.1 89.2h0M264.1 86.9h0M265.2 84.8h0M266.3 82.8h0M267.4 80.8h0M268.5 79h0M269.6 77.4h0M270.6 76h0M271.7 74.7h0M272.8 73.4h0M273.9 72.3h0M275 71.5h0M276.1 70.8h0M277.1 70.2h0M278.2 69.7h0M279.3 69.3h0M280.4 69h0M281.5 68.7h0M282.6 68.5h0M283.6 68.2h0M284.7 68h0M285.8 67.9h0M286.9 67.7h0M288 67.6h0M289 67.4h0M290.1 67.3h0M291.2 67.2h0M292.3 67.1h0M293.4 67h0M294.5 67h0M295.5 66.9h0M296.6 66.8h0M297.7 66.7h0M298.8 66.6h0M299.9 66.5h0M301 66.5h0M302 66.4h0M303.1 66.3h0M304.2 66.3h0M305.3 66.2h0M306.4 66.1h0M307.5 66.1h0M308.5 66h0M309.6 65.9h0M310.7 65.9h0M311.8 65.8h0M312.9 65.7h0M314 65.7h0M315 65.6h0M316.1 65.5h0M317.2 65.4h0M318.3 65.4h0M319.4 65.3h0M320.4 65.2h0M321.5 65.2h0M322.6 65.1h0M323.7 65h0M324.8 65h0M325.9 64.9h0M326.9 64.8h0M328 64.8h0M329.1 64.7h0M330.2 64.7h0M331.3 64.6h0M332.4 64.5h0M333.4 64.5h0M334.5 64.4h0M335.6 64.4h0M336.7 64.3h0M337.8 64.2h0M338.9 64.2h0M339.9 64.1h0M341 64.1h0M342.1 64h0M343.2 64h0M344.3 63.9h0M345.4 63.9h0M346.4 63.8h0M347.5 63.8h0M348.6 63.7h0M349.7 63.7h0M350.8 63.6h0M351.8 63.6h0M352.9 63.5h0M354 63.5h0M355.1 63.4h0M356.2 63.4h0M357.3 63.4h0M358.3 63.3h0M359.4 63.3h0M360.5 63.2h0M361.6 63.2h0M362.7 63.1h0M363.8 63.1h0M364.8 63h0M365.9 63h0M367 62.9h0M368.1 62.9h0M369.2 62.8h0M370.3 62.8h0M371.3 62.8h0"/>
<path stroke="#ffff00" d="M74.7 230.7h0M75.7 230.4h0M76.8 230h0M77.9 229.7h0M79 229.4h0M80.1 229h0M81.2 228.7h0M82.2 228.4h0M83.3 228.1h0M84.4 227.7h0M85.5 227.4h0M86.6 227.1h0M87.7 226.7h0M88.7 226.4h0M89.8 226.1h0M90.9 225.7h0M92 225.4h0M93.1 225h0M94.2 224.7h0M95.2 224.3h0M96.3 224h0M97.4 223.6h0M98.5 223.2h0M99.6 222.9h0M100.6 222.5h0M101.7 222.1h0M102.8 221.8h0M103.9 221.4h0M105 221h0M106.1 220.6h0M107.1 220.3h0M108.2 219.9h0M109.3 219.5h0M110.4 219.1h0M111.5 218.7h0M112.6 218.3h0M113.6 217.9h0M114.7 217.5h0M115.8 217.1h0M116.9 216.7h0M118 216.3h0M119.1 215.9h0M120.1 215.5h0M121.2 215h0M122.3 214.6h0M123.4 214.2h0M124.5 213.8h0M125.6 213.4h0M126.6 212.9h0M127.7 212.5h0M128.8 212.1h0M129.9 211.7h0M131 211.2h0M132 210.8h0M133.1 210.4h0M134.2 210h0M135.3 209.5h0M136.4 209.1h0M137.5 208.6h0M138.5 208.2h0M139.6 207.8h0M140.7 207.3h0M141.8 206.9h0M142.9 206.4h0M144 206h0M145 205.5h0M146.1 205h0M147.2 204.5h0M148.3 204h0M149.4 203.5h0M150.5 203h0M151.5 202.4h0M152.6 201.9h0M153.7 201.4h0M154.8 200.9h0M155.9 200.3h0M157 199.8h0M158 199.3h0M159.1 198.7h0M160.2 198.2h0M161.3 197.6h0M162.4 197.1h0M163.4 196.5h0M164.5 195.9h0M165.6 195.4h0M166.7 194.9h0M167.8 194.3h0M168.9 193.8h0M169.9 193.2h0M171 192.6h0M172.1 192.1h0M173.2 191.5h0M174.3 190.9h0M175.4 190.4h0M176.4 189.8h0M177.5 189.2h0M178.6 188.6h0M179.7 188h0M180.8 187.4h0M181.9 186.8h0M182.9 186.2h0M184 185.6h0M185.1 184.9h0M186.2 184.3h0M187.3 183.6h0M188.4 183h0M189.4 182.3h0M190.5 181.6h0M191.6 180.9h0M192.7 180.1h0M193.8 179.4h0M194.8 178.6h0M195.9 177.9h0M197 177.1h0M198.1 176.3h0M199.2 175.4h0M200.3 174.6h0M201.3 173.7h0M202.4 172.8h0M203.5 172h0M204.6 171.1h0M205.7 170.2h0M206.8 169.4h0M207.8 168.7h0M208.9 168h0M210 167.3h0M211.1 166.6h0M212.2 165.8h0M213.3 165.1h0M214.3 164.3h0M215.4 163.6h0M216.5 162.8h0M217.6 162h0M218.7 161.2h0M219.8 160.4h0M220.8 159.6h0M221.9 158.8h0M223 157.9h0M224.1 157h0M225.2 156.1h0M226.2 155.1h0M227.3 154.1h0M228.4 153.1h0M229.5 152h0M230.6 150.9h0M231.7 149.7h0M232.7 148.5h0M233.8 147.3h0M234.9 146.1h0M236 144.9h0M237.1 143.7h0M238.2 142.5h0M239.2 141.3h0M240.3 140.2h0M241.4 138.9h0M242.5 137.7h0M243.6 136.3h0M244.7 134.9h0M245.7 133.4h0M246.8 131.8h0M247.9 130h0M249 128.2h0M250.1 126.3h0M251.2 124.3h0M252.2 122.3h0M253.3 120.1h0M254.4 117.9h0M255.5 115.6h0M256.6 113.2h0M257.6 110.9h0M258.7 108.5h0M259.8 106h0M260.9 103.5h0M262 101h0M263.1 98.5h0M264.1 96.1h0M265.2 93.7h0M266.3 91.3h0M267.4 88.9h0M268.5 86.7h0M269.6 84.6h0M270.6 82.6h0M271.7 80.6h0M272.8 78.8h0M273.9 77.2h0M275 75.9h0M276.1 74.6h0M277.1 73.3h0M278.2 72.2h0M279.3 71.4h0M280.4 70.8h0M281.5 70.2h0M282.6 69.7h0M283.6 69.3h0M284.7 69h0M285.8 68.7h0M286.9 68.4h0M288 68.2h0M289 68h0M290.1 67.9h0M291.2 67.7h0M292.3 67.6h0M293.4 67.4h0M294.5 67.3h0M295.5 67.2h0M296.6 67.1h0M297.7 67h0M298.8 66.9h0M299.9 66.9h0M301 66.8h0M302 66.7h0M303.1 66.6h0M304.2 66.5h0M305.3 66.5h0M306.4 66.4h0M307.5 66.3h0M308.5 66.3h0M309.6 66.2h0M310.7 66.1h0M311.8 66.1h0M312.9 66h0M314 65.9h0M315 65.9h0M316.1 65.8h0M317.2 65.7h0M318.3 65.7h0M319.4 65.6h0M320.4 65.5h0M321.5 65.4h0M322.6 65.4h0M323.7 65.3h0M324.8 65.2h0M325.9 65.2h0M326.9 65.1h0M328 65h0M329.1 65h0M330.2 64.9h0M331.3 64.8h0M332.4 64.8h0M333.4 64.7h0M334.5 64.7h0M335.6 64.6h0M336.7 64.5h0M337.8 64.5h0M338.9 64.4h0M339.9 64.4h0M341 64.3h0M342.1 64.2h0M343.2 64.2h0M344.3 64.1h0M345.4 64.1h0M346.4 64h0M347.5 64h0M348.6 63.9h0M349.7 63.9h0M350.8 63.8h0M351.8 63.8h0M352.9 63.7h0M354 63.7h0M355.1 63.6h0M356.2 63.6h0M357.3 63.5h0M358.3 63.5h0M359.4 63.4h0M360.5 63.4h0M361.6 63.3h0M362.7 63.3h0M363.8 63.3h0M364.8 63.2h0M365.9 63.2h0M367 63.1h0M368.1 63.1h0M369.2 63h0M370.3 63h0M371.3 62.9h0"/>
<path stroke="#c0ff00" d="M74.7 231.8h0M75.7 231.5h0M76.8 231.2h0M77.9 230.8h0M79 230.5h0M80.1 230.2h0M81.2 229.9h0M82.2 229.5h0M83.3 229.2h0M84.4 228.9h0M85.5 228.6h0M86.6 228.2h0M87.7 227.9h0M88.7 227.6h0M89.8 227.3h0M90.9 226.9h0M92 226.6h0M93.1 226.3h0M94.2 225.9h0M95.2 225.6h0M96.3 225.2h0M97.4 224.9h0M98.5 224.5h0M99.6 224.2h0M100.6 223.8h0M101.7 223.4h0M102.8 223.1h0M103.9 222.7h0M105 222.3h0M106.1 222h0M107.1 221.6h0M108.2 221.2h0M109.3 220.8h0M110.4 220.5h0M111.5 220.1h0M112.6 219.7h0M113.6 219.3h0M114.7 218.9h0M115.8 218.5h0M116.9 218.1h0M118 217.7h0M119.1 217.3h0M120.1 216.9h0M121.2 216.5h0M122.3 216.1h0M123.4 215.7h0M124.5 215.3h0M125.6 214.9h0M126.6 214.4h0M127.7 214h0M128.8 213.6h0M129.9 213.2h0M131 212.8h0M132 212.3h0M133.1 211.9h0M134.2 211.5h0M135.3 211.1h0M136.4 210.6h0M137.5 210.2h0M138.5 209.8h0M139.6 209.3h0M140.7 208.9h0M141.8 208.5h0M142.9 208h0M144 207.6h0M145 207.1h0M146.1 206.7h0M147.2 206.2h0M148.3 205.7h0M149.4 205.2h0M150.5 204.7h0M151.5 204.2h0M152.6 203.6h0M153.7 203.1h0M154.8 202.6h0M155.9 202.1h0M157 201.6h0M158 201h0M159.1 200.5h0M160.2 200h0M161.3 199.4h0M162.4 198.9h0M163.4 198.4h0M164.5 197.8h0M165.6 197.3h0M166.7 196.8h0M167.8 196.2h0M168.9 195.7h0M169.9 195.2h0M171 194.6h0M172.1 194.1h0M173.2 193.5h0M174.3 193h0M175.4 192.4h0M176.4 191.8h0M177.5 191.3h0M178.6 190.7h0M179.7 190.1h0M180.8 189.6h0M181.9 189h0M182.9 188.4h0M184 187.8h0M185.1 187.2h0M186.2 186.6h0M187.3 186h0M188.4 185.3h0M189.4 184.7h0M190.5 184.1h0M191.6 183.4h0M192.7 182.7h0M193.8 182h0M194.8 181.3h0M195.9 180.6h0M197 179.9h0M198.1 179.1h0M199.2 178.4h0M200.3 177.6h0M201.3 176.8h0M202.4 175.9h0M203.5 175.1h0M204.6 174.3h0M205.7 173.4h0M206.8 172.6h0M207.8 171.9h0M208.9 171.1h0M210 170.3h0M211.1 169.5h0M212.2 168.8h0M213.3 168.1h0M214.3 167.4h0M215.4 166.7h0M216.5 165.9h0M217.6 165.2h0M218.7 164.5h0M219.8 163.7h0M220.8 162.9h0M221.9 162.1h0M223 161.3h0M224.1 160.4h0M225.2 159.6h0M226.2 158.7h0M227.3 157.8h0M228.4 156.9h0M229.5 155.9h0M230.6 155h0M231.7 154h0M232.7 153h0M233.8 151.9h0M234.9 150.7h0M236 149.5h0M237.1 148.3h0M238.2 147.1h0M239.2 145.9h0M240.3 144.7h0M241.4 143.5h0M242.5 142.4h0M243.6 141.2h0M244.7 140h0M245.7 138.8h0M246.8 137.5h0M247.9 136.2h0M249 134.8h0M250.1 133.2h0M251.2 131.6h0M252.2 129.8h0M253.3 128h0M254.4 126.1h0M255.5 124.1h0M256.6 122.1h0M257.6 119.9h0M258.7 117.7h0M259.8 115.4h0M260.9 113h0M262 110.6h0M263.1 108.2h0M264.1 105.8h0M265.2 103.2h0M266.3 100.7h0M267.4 98.3h0M268.5 95.9h0M269.6 93.4h0M270.6 91h0M271.7 88.7h0M272.8 86.5h0M273.9 84.4h0M275 82.4h0M276.1 80.4h0M277.1 78.7h0M278.2 77.1h0M279.3 75.8h0M280.4 74.5h0M281.5 73.2h0M282.6 72.1h0M283.6 71.4h0M284.7 70.7h0M285.8 70.1h0M286.9 69.6h0M288 69.3h0M289 68.9h0M290.1 68.7h0M291.2 68.4h0M292.3 68.2h0M293.4 68h0M294.5 67.8h0M295.5 67.7h0M296.6 67.6h0M297.7 67.4h0M298.8 67.3h0M299.9 67.2h0M301 67.1h0M302 67h0M303.1 66.9h0M304.2 66.9h0M305.3 66.8h0M306.4 66.7h0M307.5 66.6h0M308.5 66.5h0M309.6 66.5h0M310.7 66.4h0M311.8 66.3h0M312.9 66.2h0M314 66.2h0M315 66.1h0M316.1 66h0M317.2 66h0M318.3 65.9h0M319.4 65.8h0M320.4 65.8h0M321.5 65.7h0M322.6 65.6h0M323.7 65.6h0M324.8 65.5h0M325.9 65.4h0M326.9 65.4h0M328 65.3h0M329.1 65.2h0M330.2 65.2h0M331.3 65.1h0M332.4 65h0M333.4 65h0M334.5 64.9h0M335.6 64.8h0M336.7 64.8h0M337.8 64.7h0M338.9 64.6h0M339.9 64.6h0M341 64.5h0M342.1 64.5h0M343.2 64.4h0M344.3 64.4h0M345.4 64.3h0M346.4 64.2h0M347.5 64.2h0M348.6 64.1h0M349.7 64.1h0M350.8 64h0M351.8 64h0M352.9 63.9h0M354 63.9h0M355.1 63.8h0M356.2 63.8h0M357.3 63.7h0M358.3 63.7h0M359.4 63.6h0M360.5 63.6h0M361.6 63.5h0M362.7 63.5h0M363.8 63.4h0M364.8 63.4h0M365.9 63.3h0M367 63.3h0M368.1 63.3h0M369.2 63.2h0M370.3 63.2h0M371.3 63.1h0"/>
<path stroke="#a0ff00" d="M74.7 232.7h0M75.7 232.4h0M76.8 232.1h0M77.9 231.8h0M79 231.5h0M80.1 231.1h0M81.2 230.8h0M82.2 230.5h0M83.3 230.2h0M84.4 229.9h0M85.5 229.6h0M86.6 229.3h0M87.7 228.9h0M88.7 228.6h0M89.8 228.3h0M90.9 228h0M92 227.6h0M93.1 227.3h0M94.2 227h0M95.2 226.7h0M96.3 226.3h0M97.4 226h0M98.5 225.6h0M99.6 225.3h0M100.6 224.9h0M101.7 224.6h0M102.8 224.2h0M103.9 223.9h0M105 223.5h0M106.1 223.2h0M107.1 222.8h0M108.2 222.4h0M109.3 222.1h0M110.4 221.7h0M111.5 221.3h0M112.6 221h0M113.6 220.6h0M114.7 220.2h0M115.8 219.8h0M116.9 219.5h0M118 219.1h0M119.1 218.7h0M120.1 218.3h0M121.2 217.9h0M122.3 217.5h0M123.4 217.1h0M124.5 216.7h0M125.6 216.3h0M126.6 215.9h0M127.7 215.5h0M128.8 215.1h0M129.9 214.6h0M131 214.2h0M132 213.8h0M133.1 213.4h0M134.2 213h0M135.3 212.6h0M136.4 212.1h0M137.5 211.7h0M138.5 211.3h0M139.6 210.9h0M140.7 210.5h0M141.8 210h0M142.9 209.6h0M144 209.2h0M145 208.7h0M146.1 208.3h0M147.2 207.8h0M148.3 207.3h0M149.4 206.8h0M150.5 206.3h0M151.5 205.8h0M152.6 205.3h0M153.7 204.8h0M154.8 204.3h0M155.9 203.8h0M157 203.3h0M158 202.8h0M159.1 202.3h0M160.2 201.8h0M161.3 201.2h0M162.4 200.7h0M163.4 200.2h0M164.5 199.7h0M165.6 199.2h0M166.7 198.6h0M167.8 198.1h0M168.9 197.6h0M169.9 197.1h0M171 196.6h0M172.1 196h0M173.2 195.5h0M174.3 195h0M175.4 194.4h0M176.4 193.9h0M177.5 193.3h0M178.6 192.8h0M179.7 192.2h0M180.8 191.6h0M181.9 191.1h0M182.9 190.5h0M184 189.9h0M185.1 189.4h0M186.2 188.8h0M187.3 188.2h0M188.4 187.6h0M189.4 187h0M190.5 186.4h0M191.6 185.8h0M192.7 185.1h0M193.8 184.5h0M194.8 183.8h0M195.9 183.2h0M197 182.5h0M198.1 181.8h0M199.2 181.1h0M200.3 180.4h0M201.3 179.6h0M202.4 178.9h0M203.5 178.1h0M204.6 177.3h0M205.7 176.5h0M206.8 175.8h0M207.8 175h0M208.9 174.3h0M210 173.5h0M211.1 172.7h0M212.2 172h0M213.3 171.2h0M214.3 170.4h0M215.4 169.6h0M216.5 168.9h0M217.6 168.2h0M218.7 167.5h0M219.8 166.8h0M220.8 166h0M221.9 165.3h0M223 164.5h0M224.1 163.7h0M225.2 162.9h0M226.2 162h0M227.3 161.2h0M228.4 160.3h0M229.5 159.4h0M230.6 158.6h0M231.7 157.7h0M232.7 156.7h0M233.8 155.8h0M234.9 154.9h0M236 153.9h0M237.1 152.9h0M238.2 151.7h0M239.2 150.6h0M240.3 149.4h0M241.4 148.2h0M242.5 147h0M243.6 145.8h0M244.7 144.6h0M245.7 143.4h0M246.8 142.3h0M247.9 141.1h0M249 139.9h0M250.1 138.7h0M251.2 137.4h0M252.2 136h0M253.3 134.6h0M254.4 133.1h0M255.5 131.4h0M256.6 129.6h0M257.6 127.8h0M258.7 125.9h0M259.8 123.9h0M260.9 121.9h0M262 119.7h0M263.1 117.4h0M264.1 115.1h0M265.2 112.8h0M266.3 110.4h0M267.4 108h0M268.5 105.5h0M269.6 103h0M270.6 100.5h0M271.7 98.1h0M272.8 95.7h0M273.9 93.2h0M275 90.8h0M276.1 88.5h0M277.1 86.3h0M278.2 84.3h0M279.3 82.2h0M280.4 80.3h0M281.5 78.5h0M282.6 77h0M283.6 75.6h0M284.7 74.4h0M285.8 73.1h0M286.9 72.1h0M288 71.3h0M289 70.6h0M290.1 70.1h0M291.2 69.6h0M292.3 69.2h0M293.4 68.9h0M294.5 68.6h0M295.5 68.4h0M296.6 68.2h0M297.7 68h0M298.8 67.8h0M299.9 67.7h0M301 67.5h0M302 67.4h0M303.1 67.3h0M304.2 67.2h0M305.3 67.1h0M306.4 67h0M307.5 66.9h0M308.5 66.8h0M309.6 66.8h0M310.7 66.7h0M311.8 66.6h0M312.9 66.5h0M314 66.5h0M315 66.4h0M316.1 66.3h0M317.2 66.2h0M318.3 66.2h0M319.4 66.1h0M320.4 66h0M321.5 66h0M322.6 65.9h0M323.7 65.8h0M324.8 65.8h0M325.9 65.7h0M326.9 65.6h0M328 65.6h0M329.1 65.5h0M330.2 65.4h0M331.3 65.4h0M332.4 65.3h0M333.4 65.2h0M334.5 65.2h0M335.6 65.1h0M336.7 65h0M337.8 65h0M338.9 64.9h0M339.9 64.8h0M341 64.8h0M342.1 64.7h0M343.2 64.6h0M344.3 64.6h0M345.4 64.5h0M346.4 64.5h0M347.5 64.4h0M348.6 64.3h0M349.7 64.3h0M350.8 64.2h0M351.8 64.2h0M352.9 64.1h0M354 64.1h0M355.1 64h0M356.2 64h0M357.3 63.9h0M358.3 63.9h0M359.4 63.8h0M360.5 63.8h0M361.6 63.7h0M362.7 63.7h0M363.8 63.6h0M364.8 63.6h0M365.9 63.5h0M367 63.5h0M368.1 63.4h0M369.2 63.4h0M370.3 63.3h0M371.3 63.3h0"/>
<path stroke="#80ff00" d="M74.7 233.5h0M75.7 233.2h0M76.8 232.9h0M77.9 232.6h0M79 232.3h0M80.1 232h0M81.2 231.7h0M82.2 231.4h0M83.3 231.1h0M84.4 230.8h0M85.5 230.5h0M86.6 230.2h0M87.7 229.8h0M88.7 229.5h0M89.8 229.2h0M90.9 228.9h0M92 228.6h0M93.1 228.3h0M94.2 227.9h0M95.2 227.6h0M96.3 227.3h0M97.4 227h0M98.5 226.6h0M99.6 226.3h0M100.6 226h0M101.7 225.6h0M102.8 225.3h0M103.9 225h0M105 224.6h0M106.1 224.3h0M107.1 223.9h0M108.2 223.6h0M109.3 223.2h0M110.4 222.9h0M111.5 222.5h0M112.6 222.1h0M113.6 221.8h0M114.7 221.4h0M115.8 221.1h0M116.9 220.7h0M118 220.3h0M119.1 219.9h0M120.1 219.6h0M121.2 219.2h0M122.3 218.8h0M123.4 218.4h0M124.5 218h0M125.6 217.6h0M126.6 217.2h0M127.7 216.8h0M128.8 216.5h0M129.9 216.1h0M131 215.7h0M132 215.2h0M133.1 214.8h0M134.2 214.4h0M135.3 214h0M136.4 213.6h0M137.5 213.2h0M138.5 212.8h0M139.6 212.4h0M140.7 212h0M141.8 211.6h0M142.9 211.1h0M144 210.7h0M145 210.3h0M146.1 209.8h0M147.2 209.4h0M148.3 208.9h0M149.4 208.4h0M150.5 207.9h0M151.5 207.5h0M152.6 207h0M153.7 206.5h0M154.8 206h0M155.9 205.5h0M157 205h0M158 204.5h0M159.1 204h0M160.2 203.5h0M161.3 203h0M162.4 202.5h0M163.4 202h0M164.5 201.5h0M165.6 201h0M166.7 200.5h0M167.8 200h0M168.9 199.5h0M169.9 199h0M171 198.4h0M172.1 197.9h0M173.2 197.4h0M174.3 196.9h0M175.4 196.4h0M176.4 195.8h0M177.5 195.3h0M178.6 194.8h0M179.7 194.2h0M180.8 193.7h0M181.9 193.1h0M182.9 192.6h0M184 192h0M185.1 191.4h0M186.2 190.9h0M187.3 190.3h0M188.4 189.7h0M189.4 189.2h0M190.5 188.6h0M191.6 188h0M192.7 187.4h0M193.8 186.8h0M194.8 186.2h0M195.9 185.6h0M197 184.9h0M198.1 184.3h0M199.2 183.6h0M200.3 183h0M201.3 182.3h0M202.4 181.6h0M203.5 180.9h0M204.6 180.2h0M205.7 179.4h0M206.8 178.7h0M207.8 178h0M208.9 177.3h0M210 176.6h0M211.1 175.8h0M212.2 175.1h0M213.3 174.4h0M214.3 173.6h0M215.4 172.8h0M216.5 172h0M217.6 171.3h0M218.7 170.5h0M219.8 169.7h0M220.8 169h0M221.9 168.3h0M223 167.5h0M224.1 166.8h0M225.2 166h0M226.2 165.2h0M227.3 164.4h0M228.4 163.6h0M229.5 162.7h0M230.6 161.9h0M231.7 161.1h0M232.7 160.2h0M233.8 159.3h0M234.9 158.5h0M236 157.6h0M237.1 156.6h0M238.2 155.7h0M239.2 154.7h0M240.3 153.8h0M241.4 152.8h0M242.5 151.6h0M243.6 150.4h0M244.7 149.3h0M245.7 148.1h0M246.8 146.9h0M247.9 145.7h0M249 144.5h0M250.1 143.3h0M251.2 142.1h0M252.2 141h0M253.3 139.8h0M254.4 138.5h0M255.5 137.3h0M256.6 135.9h0M257.6 134.5h0M258.7 132.9h0M259.8 131.2h0M260.9 129.5h0M262 127.6h0M263.1 125.7h0M264.1 123.8h0M265.2 121.7h0M266.3 119.5h0M267.4 117.2h0M268.5 114.9h0M269.6 112.6h0M270.6 110.2h0M271.7 107.8h0M272.8 105.3h0M273.9 102.8h0M275 100.3h0M276.1 97.9h0M277.1 95.4h0M278.2 93h0M279.3 90.6h0M280.4 88.3h0M281.5 86.2h0M282.6 84.1h0M283.6 82h0M284.7 80.1h0M285.8 78.4h0M286.9 76.9h0M288 75.5h0M289 74.3h0M290.1 73h0M291.2 72h0M292.3 71.2h0M293.4 70.6h0M294.5 70h0M295.5 69.6h0M296.6 69.2h0M297.7 68.9h0M298.8 68.6h0M299.9 68.4h0M301 68.2h0M302 68h0M303.1 67.8h0M304.2 67.7h0M305.3 67.5h0M306.4 67.4h0M307.5 67.3h0M308.5 67.2h0M309.6 67.1h0M310.7 67h0M311.8 66.9h0M312.9 66.8h0M314 66.8h0M315 66.7h0M316.1 66.6h0M317.2 66.5h0M318.3 66.4h0M319.4 66.4h0M320.4 66.3h0M321.5 66.2h0M322.6 66.2h0M323.7 66.1h0M324.8 66h0M325.9 66h0M326.9 65.9h0M328 65.8h0M329.1 65.8h0M330.2 65.7h0M331.3 65.6h0M332.4 65.6h0M333.4 65.5h0M334.5 65.4h0M335.6 65.4h0M336.7 65.3h0M337.8 65.2h0M338.9 65.2h0M339.9 65.1h0M341 65h0M342.1 65h0M343.2 64.9h0M344.3 64.8h0M345.4 64.8h0M346.4 64.7h0M347.5 64.6h0M348.6 64.6h0M349.7 64.5h0M350.8 64.5h0M351.8 64.4h0M352.9 64.3h0M354 64.3h0M355.1 64.2h0M356.2 64.2h0M357.3 64.1h0M358.3 64.1h0M359.4 64h0M360.5 64h0M361.6 63.9h0M362.7 63.9h0M363.8 63.8h0M364.8 63.8h0M365.9 63.7h0M367 63.7h0M368.1 63.6h0M369.2 63.6h0M370.3 63.5h0M371.3 63.5h0"/>
<path stroke="#50ff00" d="M74.7 234.2h0M75.7 233.9h0M76.8 233.6h0M77.9 233.3h0M79 233h0M80.1 232.7h0M81.2 232.4h0M82.2 232.1h0M83.3 231.8h0M84.4 231.5h0M85.5 231.2h0M86.6 230.9h0M87.7 230.6h0M88.7 230.3h0M89.8 230h0M90.9 229.7h0M92 229.4h0M93.1 229.1h0M94.2 228.8h0M95.2 228.5h0M96.3 228.2h0M97.4 227.9h0M98.5 227.6h0M99.6 227.2h0M100.6 226.9h0M101.7 226.6h0M102.8 226.3h0M103.9 225.9h0M105 225.6h0M106.1 225.3h0M107.1 224.9h0M108.2 224.6h0M109.3 224.3h0M110.4 223.9h0M111.5 223.6h0M112.6 223.2h0M113.6 222.9h0M114.7 222.5h0M115.8 222.2h0M116.9 221.8h0M118 221.5h0M119.1 221.1h0M120.1 220.8h0M121.2 220.4h0M122.3 220h0M123.4 219.7h0M124.5 219.3h0M125.6 218.9h0M126.6 218.6h0M127.7 218.2h0M128.8 217.8h0M129.9 217.4h0M131 217h0M132 216.6h0M133.1 216.2h0M134.2 215.9h0M135.3 215.5h0M136.4 215.1h0M137.5 214.7h0M138.5 214.3h0M139.6 213.9h0M140.7 213.5h0M141.8 213.1h0M142.9 212.7h0M144 212.3h0M145 211.9h0M146.1 211.4h0M147.2 210.9h0M148.3 210.5h0M149.4 210h0M150.5 209.5h0M151.5 209.1h0M152.6 208.6h0M153.7 208.1h0M154.8 207.7h0M155.9 207.2h0M157 206.7h0M158 206.2h0M159.1 205.7h0M160.2 205.2h0M161.3 204.7h0M162.4 204.2h0M163.4 203.7h0M164.5 203.2h0M165.6 202.7h0M166.7 202.3h0M167.8 201.8h0M168.9 201.3h0M169.9 200.8h0M171 200.3h0M172.1 199.8h0M173.2 199.3h0M174.3 198.8h0M175.4 198.3h0M176.4 197.8h0M177.5 197.2h0M178.6 196.7h0M179.7 196.2h0M180.8 195.7h0M181.9 195.1h0M182.9 194.6h0M184 194h0M185.1 193.5h0M186.2 192.9h0M187.3 192.4h0M188.4 191.8h0M189.4 191.3h0M190.5 190.7h0M191.6 190.1h0M192.7 189.6h0M193.8 189h0M194.8 188.4h0M195.9 187.8h0M197 187.2h0M198.1 186.6h0M199.2 186h0M200.3 185.4h0M201.3 184.7h0M202.4 184.1h0M203.5 183.4h0M204.6 182.8h0M205.7 182.1h0M206.8 181.5h0M207.8 180.8h0M208.9 180.1h0M210 179.5h0M211.1 178.8h0M212.2 178.1h0M213.3 177.4h0M214.3 176.6h0M215.4 175.9h0M216.5 175.2h0M217.6 174.4h0M218.7 173.7h0M219.8 172.9h0M220.8 172.1h0M221.9 171.3h0M223 170.5h0M224.1 169.7h0M225.2 168.9h0M226.2 168.2h0M227.3 167.4h0M228.4 166.6h0M229.5 165.9h0M230.6 165.1h0M231.7 164.3h0M232.7 163.5h0M233.8 162.6h0M234.9 161.8h0M236 161h0M237.1 160.1h0M238.2 159.2h0M239.2 158.4h0M240.3 157.5h0M241.4 156.5h0M242.5 155.6h0M243.6 154.6h0M244.7 153.7h0M245.7 152.7h0M246.8 151.5h0M247.9 150.3h0M249 149.1h0M250.1 147.9h0M251.2 146.7h0M252.2 145.5h0M253.3 144.4h0M254.4 143.2h0M255.5 142h0M256.6 140.8h0M257.6 139.7h0M258.7 138.4h0M259.8 137.1h0M260.9 135.8h0M262 134.3h0M263.1 132.8h0M264.1 131.1h0M265.2 129.3h0M266.3 127.5h0M267.4 125.5h0M268.5 123.6h0M269.6 121.5h0M270.6 119.3h0M271.7 117h0M272.8 114.7h0M273.9 112.4h0M275 110h0M276.1 107.6h0M277.1 105.1h0M278.2 102.6h0M279.3 100.1h0M280.4 97.7h0M281.5 95.2h0M282.6 92.8h0M283.6 90.4h0M284.7 88.1h0M285.8 86h0M286.9 83.9h0M288 81.9h0M289 80h0M290.1 78.2h0M291.2 76.8h0M292.3 75.4h0M293.4 74.2h0M294.5 72.9h0M295.5 71.9h0M296.6 71.2h0M297.7 70.6h0M298.8 70h0M299.9 69.5h0M301 69.2h0M302 68.9h0M303.1 68.6h0M304.2 68.4h0M305.3 68.2h0M306.4 68h0M307.5 67.8h0M308.5 67.7h0M309.6 67.5h0M310.7 67.4h0M311.8 67.3h0M312.9 67.2h0M314 67.1h0M315 67h0M316.1 66.9h0M317.2 66.8h0M318.3 66.7h0M319.4 66.7h0M320.4 66.6h0M321.5 66.5h0M322.6 66.4h0M323.7 66.4h0M324.8 66.3h0M325.9 66.2h0M326.9 66.2h0M328 66.1h0M329.1 66h0M330.2 66h0M331.3 65.9h0M332.4 65.8h0M333.4 65.8h0M334.5 65.7h0M335.6 65.6h0M336.7 65.6h0M337.8 65.5h0M338.9 65.4h0M339.9 65.4h0M341 65.3h0M342.1 65.2h0M343.2 65.1h0M344.3 65.1h0M345.4 65h0M346.4 64.9h0M347.5 64.9h0M348.6 64.8h0M349.7 64.8h0M350.8 64.7h0M351.8 64.6h0M352.9 64.6h0M354 64.5h0M355.1 64.5h0M356.2 64.4h0M357.3 64.3h0M358.3 64.3h0M359.4 64.2h0M360.5 64.2h0M361.6 64.1h0M362.7 64.1h0M363.8 64h0M364.8 64h0M365.9 63.9h0M367 63.9h0M368.1 63.8h0M369.2 63.8h0M370.3 63.7h0M371.3 63.7h0"/>
<path stroke="#20ff00" d="M74.7 234.7h0M75.7 234.4h0M76.8 234.1h0M77.9 233.8h0M79 233.6h0M80.1 233.3h0M81.2 233h0M82.2 232.7h0M83.3 232.4h0M84.4 232.2h0M85.5 231.9h0M86.6 231.6h0M87.7 231.3h0M88.7 231h0M89.8 230.8h0M90.9 230.5h0M92 230.2h0M93.1 229.9h0M94.2 229.6h0M95.2 229.3h0M96.3 229h0M97.4 228.7h0M98.5 228.4h0M99.6 228.1h0M100.6 227.8h0M101.7 227.5h0M102.8 227.1h0M103.9 226.8h0M105 226.5h0M106.1 226.2h0M107.1 225.9h0M108.2 225.6h0M109.3 225.2h0M110.4 224.9h0M111.5 224.6h0M112.6 224.3h0M113.6 223.9h0M114.7 223.6h0M115.8 223.3h0M116.9 222.9h0M118 222.6h0M119.1 222.2h0M120.1 221.9h0M121.2 221.5h0M122.3 221.2h0M123.4 220.8h0M124.5 220.5h0M125.6 220.1h0M126.6 219.8h0M127.7 219.4h0M128.8 219.1h0M129.9 218.7h0M131 218.3h0M132 218h0M133.1 217.6h0M134.2 217.2h0M135.3 216.9h0M136.4 216.5h0M137.5 216.1h0M138.5 215.7h0M139.6 215.3h0M140.7 214.9h0M141.8 214.6h0M142.9 214.2h0M144 213.8h0M145 213.4h0M146.1 213h0M147.2 212.5h0M148.3 212h0M149.4 211.6h0M150.5 211.1h0M151.5 210.7h0M152.6 210.2h0M153.7 209.7h0M154.8 209.3h0M155.9 208.8h0M157 208.3h0M158 207.9h0M159.1 207.4h0M160.2 206.9h0M161.3 206.4h0M162.4 206h0M163.4 205.5h0M164.5 205h0M165.6 204.5h0M166.7 204h0M167.8 203.5h0M168.9 203.1h0M169.9 202.6h0M171 202.1h0M172.1 201.6h0M173.2 201.1h0M174.3 200.6h0M175.4 200.1h0M176.4 199.6h0M177.5 199.1h0M178.6 198.6h0M179.7 198.1h0M180.8 197.6h0M181.9 197.1h0M182.9 196.5h0M184 196h0M185.1 195.5h0M186.2 195h0M187.3 194.4h0M188.4 193.9h0M189.4 193.3h0M190.5 192.8h0M191.6 192.2h0M192.7 191.7h0M193.8 191.1h0M194.8 190.5h0M195.9 190h0M197 189.4h0M198.1 188.8h0M199.2 188.3h0M200.3 187.7h0M201.3 187.1h0M202.4 186.5h0M203.5 185.8h0M204.6 185.2h0M205.7 184.6h0M206.8 184h0M207.8 183.4h0M208.9 182.8h0M210 182.1h0M211.1 181.5h0M212.2 180.9h0M213.3 180.2h0M214.3 179.5h0M215.4 178.8h0M216.5 178.1h0M217.6 177.4h0M218.7 176.7h0M219.8 176h0M220.8 175.2h0M221.9 174.5h0M223 173.7h0M224.1 172.9h0M225.2 172h0M226.2 171.2h0M227.3 170.4h0M228.4 169.6h0M229.5 168.8h0M230.6 168.1h0M231.7 167.3h0M232.7 166.6h0M233.8 165.8h0M234.9 165h0M236 164.2h0M237.1 163.4h0M238.2 162.6h0M239.2 161.7h0M240.3 160.9h0M241.4 160h0M242.5 159.1h0M243.6 158.3h0M244.7 157.4h0M245.7 156.4h0M246.8 155.5h0M247.9 154.5h0M249 153.6h0M250.1 152.5h0M251.2 151.4h0M252.2 150.2h0M253.3 149h0M254.4 147.8h0M255.5 146.6h0M256.6 145.4h0M257.6 144.2h0M258.7 143.1h0M259.8 141.9h0M260.9 140.7h0M262 139.5h0M263.1 138.3h0M264.1 137h0M265.2 135.6h0M266.3 134.2h0M267.4 132.6h0M268.5 130.9h0M269.6 129.1h0M270.6 127.3h0M271.7 125.4h0M272.8 123.4h0M273.9 121.3h0M275 119.1h0M276.1 116.8h0M277.1 114.5h0M278.2 112.1h0M279.3 109.8h0M280.4 107.4h0M281.5 104.9h0M282.6 102.4h0M283.6 99.9h0M284.7 97.5h0M285.8 95h0M286.9 92.6h0M288 90.2h0M289 88h0M290.1 85.8h0M291.2 83.7h0M292.3 81.7h0M293.4 79.8h0M294.5 78.1h0M295.5 76.7h0M296.6 75.3h0M297.7 74.1h0M298.8 72.8h0M299.9 71.9h0M301 71.1h0M302 70.5h0M303.1 70h0M304.2 69.5h0M305.3 69.1h0M306.4 68.8h0M307.5 68.6h0M308.5 68.4h0M309.6 68.1h0M310.7 68h0M311.8 67.8h0M312.9 67.7h0M314 67.5h0M315 67.4h0M316.1 67.3h0M317.2 67.2h0M318.3 67.1h0M319.4 67h0M320.4 66.9h0M321.5 66.8h0M322.6 66.7h0M323.7 66.7h0M324.8 66.6h0M325.9 66.5h0M326.9 66.4h0M328 66.4h0M329.1 66.3h0M330.2 66.2h0M331.3 66.2h0M332.4 66.1h0M333.4 66h0M334.5 66h0M335.6 65.9h0M336.7 65.8h0M337.8 65.8h0M338.9 65.7h0M339.9 65.6h0M341 65.6h0M342.1 65.5h0M343.2 65.4h0M344.3 65.3h0M345.4 65.3h0M346.4 65.2h0M347.5 65.1h0M348.6 65.1h0M349.7 65h0M350.8 64.9h0M351.8 64.9h0M352.9 64.8h0M354 64.8h0M355.1 64.7h0M356.2 64.6h0M357.3 64.6h0M358.3 64.5h0M359.4 64.5h0M360.5 64.4h0M361.6 64.3h0M362.7 64.3h0M363.8 64.2h0M364.8 64.2h0M365.9 64.1h0M367 64.1h0M368.1 64h0M369.2 64h0M370.3 63.9h0M371.3 63.9h0"/>
<path stroke="#00ff60" d="M74.7 235.2h0M75.7 234.9h0M76.8 234.6h0M77.9 234.3h0M79 234.1h0M80.1 233.8h0M81.2 233.5h0M82.2 233.3h0M83.3 233h0M84.4 232.7h0M85.5 232.5h0M86.6 232.2h0M87.7 231.9h0M88.7 231.7h0M89.8 231.4h0M90.9 231.1h0M92 230.8h0M93.1 230.6h0M94.2 230.3h0M95.2 230h0M96.3 229.7h0M97.4 229.4h0M98.5 229.1h0M99.6 228.8h0M100.6 228.5h0M101.7 228.2h0M102.8 228h0M103.9 227.7h0M105 227.4h0M106.1 227.1h0M107.1 226.8h0M108.2 226.4h0M109.3 226.1h0M110.4 225.8h0M111.5 225.5h0M112.6 225.2h0M113.6 224.9h0M114.7 224.6h0M115.8 224.3h0M116.9 223.9h0M118 223.6h0M119.1 223.3h0M120.1 223h0M121.2 222.6h0M122.3 222.3h0M123.4 222h0M124.5 221.6h0M125.6 221.3h0M126.6 221h0M127.7 220.6h0M128.8 220.3h0M129.9 219.9h0M131 219.6h0M132 219.3h0M133.1 218.9h0M134.2 218.6h0M135.3 218.2h0M136.4 217.8h0M137.5 217.5h0M138.5 217.1h0M139.6 216.8h0M140.7 216.4h0M141.8 216h0M142.9 215.7h0M144 215.3h0M145 214.9h0M146.1 214.5h0M147.2 214h0M148.3 213.6h0M149.4 213.1h0M150.5 212.7h0M151.5 212.2h0M152.6 211.8h0M153.7 211.3h0M154.8 210.9h0M155.9 210.4h0M157 210h0M158 209.5h0M159.1 209h0M160.2 208.6h0M161.3 208.1h0M162.4 207.6h0M163.4 207.2h0M164.5 206.7h0M165.6 206.2h0M166.7 205.8h0M167.8 205.3h0M168.9 204.8h0M169.9 204.3h0M171 203.9h0M172.1 203.4h0M173.2 202.9h0M174.3 202.4h0M175.4 201.9h0M176.4 201.4h0M177.5 201h0M178.6 200.5h0M179.7 200h0M180.8 199.5h0M181.9 199h0M182.9 198.5h0M184 197.9h0M185.1 197.4h0M186.2 196.9h0M187.3 196.4h0M188.4 195.9h0M189.4 195.3h0M190.5 194.8h0M191.6 194.3h0M192.7 193.7h0M193.8 193.2h0M194.8 192.6h0M195.9 192.1h0M197 191.5h0M198.1 191h0M199.2 190.4h0M200.3 189.8h0M201.3 189.3h0M202.4 188.7h0M203.5 188.1h0M204.6 187.5h0M205.7 186.9h0M206.8 186.4h0M207.8 185.8h0M208.9 185.2h0M210 184.6h0M211.1 184h0M212.2 183.4h0M213.3 182.8h0M214.3 182.2h0M215.4 181.5h0M216.5 180.9h0M217.6 180.2h0M218.7 179.5h0M219.8 178.9h0M220.8 178.2h0M221.9 177.4h0M223 176.7h0M224.1 175.9h0M225.2 175.1h0M226.2 174.4h0M227.3 173.6h0M228.4 172.8h0M229.5 171.9h0M230.6 171.1h0M231.7 170.3h0M232.7 169.5h0M233.8 168.7h0M234.9 168h0M236 167.2h0M237.1 166.5h0M238.2 165.7h0M239.2 164.9h0M240.3 164.1h0M241.4 163.3h0M242.5 162.5h0M243.6 161.6h0M244.7 160.8h0M245.7 159.9h0M246.8 159.1h0M247.9 158.2h0M249 157.3h0M250.1 156.3h0M251.2 155.4h0M252.2 154.4h0M253.3 153.5h0M254.4 152.4h0M255.5 151.3h0M256.6 150.1h0M257.6 148.9h0M258.7 147.7h0M259.8 146.5h0M260.9 145.3h0M262 144.1h0M263.1 143h0M264.1 141.8h0M265.2 140.6h0M266.3 139.4h0M267.4 138.2h0M268.5 136.9h0M269.6 135.5h0M270.6 134.1h0M271.7 132.5h0M272.8 130.8h0M273.9 129h0M275 127.1h0M276.1 125.2h0M277.1 123.2h0M278.2 121.1h0M279.3 118.9h0M280.4 116.6h0M281.5 114.3h0M282.6 112h0M283.6 109.6h0M284.7 107.2h0M285.8 104.7h0M286.9 102.2h0M288 99.7h0M289 97.3h0M290.1 94.8h0M291.2 92.4h0M292.3 90.1h0M293.4 87.8h0M294.5 85.7h0M295.5 83.6h0M296.6 81.6h0M297.7 79.7h0M298.8 78h0M299.9 76.6h0M301 75.2h0M302 73.9h0M303.1 72.7h0M304.2 71.8h0M305.3 71.1h0M306.4 70.5h0M307.5 69.9h0M308.5 69.5h0M309.6 69.1h0M310.7 68.8h0M311.8 68.6h0M312.9 68.3h0M314 68.1h0M315 67.9h0M316.1 67.8h0M317.2 67.6h0M318.3 67.5h0M319.4 67.4h0M320.4 67.3h0M321.5 67.2h0M322.6 67.1h0M323.7 67h0M324.8 66.9h0M325.9 66.8h0M326.9 66.7h0M328 66.7h0M329.1 66.6h0M330.2 66.5h0M331.3 66.4h0M332.4 66.4h0M333.4 66.3h0M334.5 66.2h0M335.6 66.2h0M336.7 66.1h0M337.8 66h0M338.9 66h0M339.9 65.9h0M341 65.8h0M342.1 65.8h0M343.2 65.7h0M344.3 65.6h0M345.4 65.6h0M346.4 65.5h0M347.5 65.4h0M348.6 65.3h0M349.7 65.3h0M350.8 65.2h0M351.8 65.1h0M352.9 65.1h0M354 65h0M355.1 64.9h0M356.2 64.9h0M357.3 64.8h0M358.3 64.8h0M359.4 64.7h0M360.5 64.6h0M361.6 64.6h0M362.7 64.5h0M363.8 64.4h0M364.8 64.4h0M365.9 64.3h0M367 64.3h0M368.1 64.2h0M369.2 64.2h0M370.3 64.1h0M371.3 64.1h0"/>
<path stroke="#00ffb0" d="M74.7 235.7h0M75.7 235.4h0M76.8 235.1h0M77.9 234.9h0M79 234.6h0M80.1 234.3h0M81.2 234.1h0M82.2 233.8h0M83.3 233.6h0M84.4 233.3h0M85.5 233.1h0M86.6 232.8h0M87.7 232.6h0M88.7 232.3h0M89.8 232.1h0M90.9 231.8h0M92 231.5h0M93.1 231.3h0M94.2 231h0M95.2 230.7h0M96.3 230.5h0M97.4 230.2h0M98.5 229.9h0M99.6 229.6h0M100.6 229.3h0M101.7 229.1h0M102.8 228.8h0M103.9 228.5h0M105 228.2h0M106.1 227.9h0M107.1 227.6h0M108.2 227.3h0M109.3 227.1h0M110.4 226.8h0M111.5 226.5h0M112.6 226.2h0M113.6 225.9h0M114.7 225.6h0M115.8 225.3h0M116.9 225h0M118 224.7h0M119.1 224.3h0M120.1 224h0M121.2 223.7h0M122.3 223.4h0M123.4 223.1h0M124.5 222.8h0M125.6 222.5h0M126.6 222.1h0M127.7 221.8h0M128.8 221.5h0M129.9 221.2h0M131 220.8h0M132 220.5h0M133.1 220.2h0M134.2 219.9h0M135.3 219.5h0M136.4 219.2h0M137.5 218.9h0M138.5 218.5h0M139.6 218.2h0M140.7 217.8h0M141.8 217.5h0M142.9 217.1h0M144 216.8h0M145 216.4h0M146.1 216h0M147.2 215.6h0M148.3 215.1h0M149.4 214.7h0M150.5 214.3h0M151.5 213.8h0M152.6 213.4h0M153.7 212.9h0M154.8 212.5h0M155.9 212h0M157 211.6h0M158 211.1h0M159.1 210.7h0M160.2 210.2h0M161.3 209.7h0M162.4 209.3h0M163.4 208.8h0M164.5 208.4h0M165.6 207.9h0M166.7 207.4h0M167.8 207h0M168.9 206.5h0M169.9 206.1h0M171 205.6h0M172.1 205.1h0M173.2 204.7h0M174.3 204.2h0M175.4 203.7h0M176.4 203.2h0M177.5 202.8h0M178.6 202.3h0M179.7 201.8h0M180.8 201.3h0M181.9 200.8h0M182.9 200.3h0M184 199.8h0M185.1 199.3h0M186.2 198.8h0M187.3 198.3h0M188.4 197.8h0M189.4 197.3h0M190.5 196.8h0M191.6 196.3h0M192.7 195.7h0M193.8 195.2h0M194.8 194.7h0M195.9 194.2h0M197 193.6h0M198.1 193.1h0M199.2 192.5h0M200.3 192h0M201.3 191.4h0M202.4 190.9h0M203.5 190.3h0M204.6 189.7h0M205.7 189.2h0M206.8 188.6h0M207.8 188.1h0M208.9 187.5h0M210 187h0M211.1 186.4h0M212.2 185.8h0M213.3 185.2h0M214.3 184.6h0M215.4 184h0M216.5 183.4h0M217.6 182.8h0M218.7 182.2h0M219.8 181.5h0M220.8 180.9h0M221.9 180.2h0M223 179.5h0M224.1 178.8h0M225.2 178.1h0M226.2 177.3h0M227.3 176.6h0M228.4 175.8h0M229.5 175.1h0M230.6 174.3h0M231.7 173.5h0M232.7 172.7h0M233.8 171.9h0M234.9 171h0M236 170.2h0M237.1 169.4h0M238.2 168.7h0M239.2 167.9h0M240.3 167.2h0M241.4 166.4h0M242.5 165.6h0M243.6 164.8h0M244.7 164h0M245.7 163.2h0M246.8 162.4h0M247.9 161.6h0M249 160.7h0M250.1 159.8h0M251.2 159h0M252.2 158.1h0M253.3 157.2h0M254.4 156.3h0M255.5 155.3h0M256.6 154.4h0M257.6 153.4h0M258.7 152.3h0M259.8 151.2h0M260.9 150h0M262 148.8h0M263.1 147.6h0M264.1 146.4h0M265.2 145.2h0M266.3 144h0M267.4 142.9h0M268.5 141.7h0M269.6 140.5h0M270.6 139.3h0M271.7 138.1h0M272.8 136.8h0M273.9 135.4h0M275 133.9h0M276.1 132.3h0M277.1 130.6h0M278.2 128.8h0M279.3 127h0M280.4 125h0M281.5 123.1h0M282.6 120.9h0M283.6 118.7h0M284.7 116.4h0M285.8 114.1h0M286.9 111.8h0M288 109.4h0M289 107h0M290.1 104.5h0M291.2 102h0M292.3 99.5h0M293.4 97.1h0M294.5 94.7h0M295.5 92.2h0M296.6 89.9h0M297.7 87.6h0M298.8 85.5h0M299.9 83.4h0M301 81.4h0M302 79.5h0M303.1 77.9h0M304.2 76.5h0M305.3 75.1h0M306.4 73.8h0M307.5 72.7h0M308.5 71.7h0M309.6 71h0M310.7 70.4h0M311.8 69.9h0M312.9 69.5h0M314 69.1h0M315 68.8h0M316.1 68.5h0M317.2 68.3h0M318.3 68.1h0M319.4 67.9h0M320.4 67.8h0M321.5 67.6h0M322.6 67.5h0M323.7 67.4h0M324.8 67.3h0M325.9 67.2h0M326.9 67.1h0M328 67h0M329.1 66.9h0M330.2 66.8h0M331.3 66.7h0M332.4 66.7h0M333.4 66.6h0M334.5 66.5h0M335.6 66.4h0M336.7 66.4h0M337.8 66.3h0M338.9 66.2h0M339.9 66.2h0M341 66.1h0M342.1 66h0M343.2 66h0M344.3 65.9h0M345.4 65.8h0M346.4 65.8h0M347.5 65.7h0M348.6 65.6h0M349.7 65.5h0M350.8 65.5h0M351.8 65.4h0M352.9 65.3h0M354 65.3h0M355.1 65.2h0M356.2 65.1h0M357.3 65.1h0M358.3 65h0M359.4 64.9h0M360.5 64.9h0M361.6 64.8h0M362.7 64.7h0M363.8 64.7h0M364.8 64.6h0M365.9 64.6h0M367 64.5h0M368.1 64.4h0M369.2 64.4h0M370.3 64.3h0M371.3 64.3h0"/>
<path stroke="#00e8f0" d="M74.7 236.2h0M75.7 236h0M76.8 235.7h0M77.9 235.5h0M79 235.2h0M80.1 234.9h0M81.2 234.7h0M82.2 234.5h0M83.3 234.2h0M84.4 234h0M85.5 233.8h0M86.6 233.5h0M87.7 233.3h0M88.7 233.1h0M89.8 232.8h0M90.9 232.6h0M92 232.3h0M93.1 232.1h0M94.2 231.8h0M95.2 231.5h0M96.3 231.3h0M97.4 231h0M98.5 230.8h0M99.6 230.5h0M100.6 230.2h0M101.7 229.9h0M102.8 229.7h0M103.9 229.4h0M105 229.1h0M106.1 228.9h0M107.1 228.6h0M108.2 228.3h0M109.3 228h0M110.4 227.7h0M111.5 227.5h0M112.6 227.2h0M113.6 226.9h0M114.7 226.6h0M115.8 226.3h0M116.9 226h0M118 225.7h0M119.1 225.4h0M120.1 225.1h0M121.2 224.9h0M122.3 224.6h0M123.4 224.3h0M124.5 223.9h0M125.6 223.6h0M126.6 223.3h0M127.7 223h0M128.8 222.7h0M129.9 222.4h0M131 222.1h0M132 221.8h0M133.1 221.5h0M134.2 221.2h0M135.3 220.8h0M136.4 220.5h0M137.5 220.2h0M138.5 219.9h0M139.6 219.6h0M140.7 219.2h0M141.8 218.9h0M142.9 218.6h0M144 218.3h0M145 217.9h0M146.1 217.5h0M147.2 217.1h0M148.3 216.7h0M149.4 216.2h0M150.5 215.8h0M151.5 215.4h0M152.6 214.9h0M153.7 214.5h0M154.8 214h0M155.9 213.6h0M157 213.1h0M158 212.7h0M159.1 212.3h0M160.2 211.8h0M161.3 211.4h0M162.4 210.9h0M163.4 210.5h0M164.5 210h0M165.6 209.6h0M166.7 209.1h0M167.8 208.7h0M168.9 208.2h0M169.9 207.8h0M171 207.3h0M172.1 206.9h0M173.2 206.4h0M174.3 205.9h0M175.4 205.5h0M176.4 205h0M177.5 204.5h0M178.6 204.1h0M179.7 203.6h0M180.8 203.1h0M181.9 202.6h0M182.9 202.1h0M184 201.7h0M185.1 201.2h0M186.2 200.7h0M187.3 200.2h0M188.4 199.7h0M189.4 199.2h0M190.5 198.7h0M191.6 198.2h0M192.7 197.7h0M193.8 197.2h0M194.8 196.7h0M195.9 196.2h0M197 195.6h0M198.1 195.1h0M199.2 194.6h0M200.3 194h0M201.3 193.5h0M202.4 193h0M203.5 192.4h0M204.6 191.9h0M205.7 191.3h0M206.8 190.8h0M207.8 190.2h0M208.9 189.7h0M210 189.2h0M211.1 188.6h0M212.2 188.1h0M213.3 187.5h0M214.3 187h0M215.4 186.4h0M216.5 185.8h0M217.6 185.2h0M218.7 184.6h0M219.8 184h0M220.8 183.4h0M221.9 182.8h0M223 182.2h0M224.1 181.5h0M225.2 180.8h0M226.2 180.1h0M227.3 179.4h0M228.4 178.7h0M229.5 178h0M230.6 177.3h0M231.7 176.5h0M232.7 175.7h0M233.8 175h0M234.9 174.2h0M236 173.4h0M237.1 172.6h0M238.2 171.8h0M239.2 170.9h0M240.3 170.1h0M241.4 169.3h0M242.5 168.6h0M243.6 167.8h0M244.7 167.1h0M245.7 166.3h0M246.8 165.5h0M247.9 164.7h0M249 163.9h0M250.1 163.1h0M251.2 162.3h0M252.2 161.5h0M253.3 160.6h0M254.4 159.8h0M255.5 158.9h0M256.6 158h0M257.6 157.1h0M258.7 156.2h0M259.8 155.2h0M260.9 154.3h0M262 153.3h0M263.1 152.2h0M264.1 151.1h0M265.2 149.9h0M266.3 148.7h0M267.4 147.5h0M268.5 146.3h0M269.6 145.1h0M270.6 143.9h0M271.7 142.8h0M272.8 141.6h0M273.9 140.4h0M275 139.2h0M276.1 138h0M277.1 136.7h0M278.2 135.3h0M279.3 133.8h0M280.4 132.2h0M281.5 130.5h0M282.6 128.7h0M283.6 126.8h0M284.7 124.9h0M285.8 122.9h0M286.9 120.8h0M288 118.6h0M289 116.3h0M290.1 113.9h0M291.2 111.6h0M292.3 109.2h0M293.4 106.8h0M294.5 104.3h0M295.5 101.8h0M296.6 99.3h0M297.7 96.9h0M298.8 94.5h0M299.9 92.1h0M301 89.7h0M302 87.5h0M303.1 85.3h0M304.2 83.3h0M305.3 81.3h0M306.4 79.4h0M307.5 77.8h0M308.5 76.4h0M309.6 75h0M310.7 73.8h0M311.8 72.6h0M312.9 71.7h0M314 71h0M315 70.4h0M316.1 69.9h0M317.2 69.4h0M318.3 69.1h0M319.4 68.8h0M320.4 68.5h0M321.5 68.3h0M322.6 68.1h0M323.7 67.9h0M324.8 67.8h0M325.9 67.6h0M326.9 67.5h0M328 67.4h0M329.1 67.3h0M330.2 67.2h0M331.3 67.1h0M332.4 67h0M333.4 66.9h0M334.5 66.8h0M335.6 66.7h0M336.7 66.6h0M337.8 66.6h0M338.9 66.5h0M339.9 66.4h0M341 66.4h0M342.1 66.3h0M343.2 66.2h0M344.3 66.1h0M345.4 66.1h0M346.4 66h0M347.5 65.9h0M348.6 65.9h0M349.7 65.8h0M350.8 65.7h0M351.8 65.7h0M352.9 65.6h0M354 65.5h0M355.1 65.5h0M356.2 65.4h0M357.3 65.3h0M358.3 65.3h0M359.4 65.2h0M360.5 65.1h0M361.6 65.1h0M362.7 65h0M363.8 64.9h0M364.8 64.9h0M365.9 64.8h0M367 64.7h0M368.1 64.7h0M369.2 64.6h0M370.3 64.6h0M371.3 64.5h0"/>
<path stroke="#00b0ff" d="M74.7 237h0M75.7 236.7h0M76.8 236.5h0M77.9 236.2h0M79 236h0M80.1 235.7h0M81.2 235.5h0M82.2 235.3h0M83.3 235.1h0M84.4 234.8h0M85.5 234.6h0M86.6 234.4h0M87.7 234.2h0M88.7 233.9h0M89.8 233.7h0M90.9 233.5h0M92 233.2h0M93.1 233h0M94.2 232.7h0M95.2 232.5h0M96.3 232.2h0M97.4 232h0M98.5 231.7h0M99.6 231.5h0M100.6 231.2h0M101.7 231h0M102.8 230.7h0M103.9 230.4h0M105 230.2h0M106.1 229.9h0M107.1 229.6h0M108.2 229.4h0M109.3 229.1h0M110.4 228.8h0M111.5 228.6h0M112.6 228.3h0M113.6 228h0M114.7 227.7h0M115.8 227.5h0M116.9 227.2h0M118 226.9h0M119.1 226.6h0M120.1 226.3h0M121.2 226h0M122.3 225.8h0M123.4 225.5h0M124.5 225.2h0M125.6 224.9h0M126.6 224.6h0M127.7 224.3h0M128.8 224h0M129.9 223.7h0M131 223.4h0M132 223.1h0M133.1 222.8h0M134.2 222.5h0M135.3 222.2h0M136.4 221.9h0M137.5 221.6h0M138.5 221.3h0M139.6 220.9h0M140.7 220.6h0M141.8 220.3h0M142.9 220h0M144 219.7h0M145 219.4h0M146.1 219h0M147.2 218.6h0M148.3 218.1h0M149.4 217.7h0M150.5 217.3h0M151.5 216.9h0M152.6 216.4h0M153.7 216h0M154.8 215.6h0M155.9 215.2h0M157 214.7h0M158 214.3h0M159.1 213.8h0M160.2 213.4h0M161.3 213h0M162.4 212.5h0M163.4 212.1h0M164.5 211.6h0M165.6 211.2h0M166.7 210.8h0M167.8 210.3h0M168.9 209.9h0M169.9 209.4h0M171 209h0M172.1 208.5h0M173.2 208.1h0M174.3 207.6h0M175.4 207.2h0M176.4 206.7h0M177.5 206.3h0M178.6 205.8h0M179.7 205.4h0M180.8 204.9h0M181.9 204.4h0M182.9 203.9h0M184 203.5h0M185.1 203h0M186.2 202.5h0M187.3 202h0M188.4 201.6h0M189.4 201.1h0M190.5 200.6h0M191.6 200.1h0M192.7 199.6h0M193.8 199.1h0M194.8 198.6h0M195.9 198.1h0M197 197.6h0M198.1 197.1h0M199.2 196.6h0M200.3 196.1h0M201.3 195.6h0M202.4 195h0M203.5 194.5h0M204.6 194h0M205.7 193.4h0M206.8 192.9h0M207.8 192.4h0M208.9 191.8h0M210 191.3h0M211.1 190.8h0M212.2 190.3h0M213.3 189.7h0M214.3 189.2h0M215.4 188.6h0M216.5 188.1h0M217.6 187.5h0M218.7 187h0M219.8 186.4h0M220.8 185.8h0M221.9 185.2h0M223 184.6h0M224.1 184h0M225.2 183.4h0M226.2 182.7h0M227.3 182.1h0M228.4 181.4h0M229.5 180.8h0M230.6 180.1h0M231.7 179.4h0M232.7 178.7h0M233.8 177.9h0M234.9 177.2h0M236 176.4h0M237.1 175.7h0M238.2 174.9h0M239.2 174.1h0M240.3 173.3h0M241.4 172.5h0M242.5 171.7h0M243.6 170.9h0M244.7 170h0M245.7 169.2h0M246.8 168.5h0M247.9 167.8h0M249 167h0M250.1 166.2h0M251.2 165.5h0M252.2 164.7h0M253.3 163.9h0M254.4 163.1h0M255.5 162.2h0M256.6 161.4h0M257.6 160.6h0M258.7 159.7h0M259.8 158.8h0M260.9 157.9h0M262 157h0M263.1 156.1h0M264.1 155.1h0M265.2 154.2h0M266.3 153.2h0M267.4 152.1h0M268.5 151h0M269.6 149.8h0M270.6 148.6h0M271.7 147.4h0M272.8 146.2h0M273.9 145h0M275 143.8h0M276.1 142.7h0M277.1 141.5h0M278.2 140.3h0M279.3 139.1h0M280.4 137.9h0M281.5 136.6h0M282.6 135.2h0M283.6 133.7h0M284.7 132.1h0M285.8 130.3h0M286.9 128.5h0M288 126.7h0M289 124.7h0M290.1 122.7h0M291.2 120.6h0M292.3 118.4h0M293.4 116.1h0M294.5 113.8h0M295.5 111.4h0M296.6 109h0M297.7 106.6h0M298.8 104.1h0M299.9 101.6h0M301 99.1h0M302 96.7h0M303.1 94.3h0M304.2 91.9h0M305.3 89.5h0M306.4 87.3h0M307.5 85.2h0M308.5 83.1h0M309.6 81.1h0M310.7 79.3h0M311.8 77.7h0M312.9 76.3h0M314 75h0M315 73.7h0M316.1 72.5h0M317.2 71.6h0M318.3 70.9h0M319.4 70.3h0M320.4 69.8h0M321.5 69.4h0M322.6 69.1h0M323.7 68.8h0M324.8 68.5h0M325.9 68.3h0M326.9 68.1h0M328 67.9h0M329.1 67.8h0M330.2 67.6h0M331.3 67.5h0M332.4 67.4h0M333.4 67.3h0M334.5 67.2h0M335.6 67.1h0M336.7 67h0M337.8 66.9h0M338.9 66.8h0M339.9 66.7h0M341 66.6h0M342.1 66.6h0M343.2 66.5h0M344.3 66.4h0M345.4 66.3h0M346.4 66.3h0M347.5 66.2h0M348.6 66.1h0M349.7 66.1h0M350.8 66h0M351.8 65.9h0M352.9 65.9h0M354 65.8h0M355.1 65.7h0M356.2 65.7h0M357.3 65.6h0M358.3 65.5h0M359.4 65.5h0M360.5 65.4h0M361.6 65.3h0M362.7 65.3h0M363.8 65.2h0M364.8 65.1h0M365.9 65.1h0M367 65h0M368.1 64.9h0M369.2 64.9h0M370.3 64.8h0M371.3 64.7h0"/>
<path stroke="#1040f0" d="M74.7 238h0M75.7 237.8h0M76.8 237.5h0M77.9 237.3h0M79 237h0M80.1 236.8h0M81.2 236.6h0M82.2 236.4h0M83.3 236.1h0M84.4 235.9h0M85.5 235.7h0M86.6 235.5h0M87.7 235.3h0M88.7 235.1h0M89.8 234.8h0M90.9 234.6h0M92 234.4h0M93.1 234.2h0M94.2 233.9h0M95.2 233.7h0M96.3 233.5h0M97.4 233.2h0M98.5 233h0M99.6 232.7h0M100.6 232.5h0M101.7 232.2h0M102.8 232h0M103.9 231.7h0M105 231.4h0M106.1 231.2h0M107.1 230.9h0M108.2 230.7h0M109.3 230.4h0M110.4 230.1h0M111.5 229.9h0M112.6 229.6h0M113.6 229.3h0M114.7 229h0M115.8 228.8h0M116.9 228.5h0M118 228.2h0M119.1 227.9h0M120.1 227.6h0M121.2 227.4h0M122.3 227.1h0M123.4 226.8h0M124.5 226.5h0M125.6 226.2h0M126.6 225.9h0M127.7 225.6h0M128.8 225.3h0M129.9 225.1h0M131 224.8h0M132 224.5h0M133.1 224.2h0M134.2 223.9h0M135.3 223.6h0M136.4 223.3h0M137.5 222.9h0M138.5 222.6h0M139.6 222.3h0M140.7 222h0M141.8 221.7h0M142.9 221.4h0M144 221.1h0M145 220.8h0M146.1 220.4h0M147.2 220h0M148.3 219.6h0M149.4 219.2h0M150.5 218.8h0M151.5 218.4h0M152.6 218h0M153.7 217.5h0M154.8 217.1h0M155.9 216.7h0M157 216.3h0M158 215.8h0M159.1 215.4h0M160.2 215h0M161.3 214.6h0M162.4 214.1h0M163.4 213.7h0M164.5 213.2h0M165.6 212.8h0M166.7 212.4h0M167.8 211.9h0M168.9 211.5h0M169.9 211.1h0M171 210.6h0M172.1 210.2h0M173.2 209.8h0M174.3 209.3h0M175.4 208.9h0M176.4 208.4h0M177.5 208h0M178.6 207.5h0M179.7 207.1h0M180.8 206.6h0M181.9 206.2h0M182.9 205.7h0M184 205.2h0M185.1 204.8h0M186.2 204.3h0M187.3 203.9h0M188.4 203.4h0M189.4 202.9h0M190.5 202.4h0M191.6 202h0M192.7 201.5h0M193.8 201h0M194.8 200.5h0M195.9 200h0M197 199.5h0M198.1 199h0M199.2 198.5h0M200.3 198h0M201.3 197.5h0M202.4 197h0M203.5 196.5h0M204.6 196h0M205.7 195.5h0M206.8 195h0M207.8 194.5h0M208.9 193.9h0M210 193.4h0M211.1 192.9h0M212.2 192.4h0M213.3 191.8h0M214.3 191.3h0M215.4 190.8h0M216.5 190.2h0M217.6 189.7h0M218.7 189.2h0M219.8 188.6h0M220.8 188.1h0M221.9 187.5h0M223 186.9h0M224.1 186.3h0M225.2 185.8h0M226.2 185.2h0M227.3 184.5h0M228.4 183.9h0M229.5 183.3h0M230.6 182.7h0M231.7 182h0M232.7 181.4h0M233.8 180.7h0M234.9 180h0M236 179.3h0M237.1 178.6h0M238.2 177.9h0M239.2 177.1h0M240.3 176.4h0M241.4 175.6h0M242.5 174.8h0M243.6 174h0M244.7 173.2h0M245.7 172.4h0M246.8 171.6h0M247.9 170.8h0M249 170h0M250.1 169.2h0M251.2 168.4h0M252.2 167.7h0M253.3 166.9h0M254.4 166.2h0M255.5 165.4h0M256.6 164.6h0M257.6 163.8h0M258.7 163h0M259.8 162.2h0M260.9 161.3h0M262 160.5h0M263.1 159.6h0M264.1 158.7h0M265.2 157.9h0M266.3 156.9h0M267.4 156h0M268.5 155.1h0M269.6 154.1h0M270.6 153.1h0M271.7 152h0M272.8 150.9h0M273.9 149.7h0M275 148.5h0M276.1 147.3h0M277.1 146.1h0M278.2 144.9h0M279.3 143.7h0M280.4 142.6h0M281.5 141.4h0M282.6 140.2h0M283.6 139h0M284.7 137.8h0M285.8 136.5h0M286.9 135.1h0M288 133.6h0M289 131.9h0M290.1 130.2h0M291.2 128.4h0M292.3 126.5h0M293.4 124.6h0M294.5 122.6h0M295.5 120.4h0M296.6 118.2h0M297.7 115.9h0M298.8 113.6h0M299.9 111.2h0M301 108.9h0M302 106.4h0M303.1 103.9h0M304.2 101.4h0M305.3 99h0M306.4 96.5h0M307.5 94.1h0M308.5 91.7h0M309.6 89.4h0M310.7 87.1h0M311.8 85h0M312.9 83h0M314 81h0M315 79.2h0M316.1 77.6h0M317.2 76.2h0M318.3 74.9h0M319.4 73.6h0M320.4 72.4h0M321.5 71.6h0M322.6 70.9h0M323.7 70.3h0M324.8 69.8h0M325.9 69.4h0M326.9 69h0M328 68.8h0M329.1 68.5h0M330.2 68.3h0M331.3 68.1h0M332.4 67.9h0M333.4 67.7h0M334.5 67.6h0M335.6 67.5h0M336.7 67.4h0M337.8 67.3h0M338.9 67.2h0M339.9 67.1h0M341 67h0M342.1 66.9h0M343.2 66.8h0M344.3 66.7h0M345.4 66.6h0M346.4 66.6h0M347.5 66.5h0M348.6 66.4h0M349.7 66.3h0M350.8 66.3h0M351.8 66.2h0M352.9 66.1h0M354 66.1h0M355.1 66h0M356.2 65.9h0M357.3 65.9h0M358.3 65.8h0M359.4 65.7h0M360.5 65.7h0M361.6 65.6h0M362.7 65.5h0M363.8 65.5h0M364.8 65.4h0M365.9 65.3h0M367 65.3h0M368.1 65.2h0M369.2 65.1h0M370.3 65.1h0M371.3 65h0"/>
<path stroke="#6000e0" d="M74.7 239.7h0M75.7 239.4h0M76.8 239.2h0M77.9 238.9h0M79 238.7h0M80.1 238.5h0M81.2 238.3h0M82.2 238h0M83.3 237.8h0M84.4 237.6h0M85.5 237.4h0M86.6 237.2h0M87.7 237h0M88.7 236.8h0M89.8 236.5h0M90.9 236.3h0M92 236.1h0M93.1 235.9h0M94.2 235.6h0M95.2 235.4h0M96.3 235.2h0M97.4 234.9h0M98.5 234.7h0M99.6 234.4h0M100.6 234.2h0M101.7 234h0M102.8 233.7h0M103.9 233.4h0M105 233.2h0M106.1 232.9h0M107.1 232.7h0M108.2 232.4h0M109.3 232.1h0M110.4 231.8h0M111.5 231.6h0M112.6 231.3h0M113.6 231h0M114.7 230.7h0M115.8 230.4h0M116.9 230.2h0M118 229.9h0M119.1 229.6h0M120.1 229.3h0M121.2 229h0M122.3 228.7h0M123.4 228.4h0M124.5 228.1h0M125.6 227.8h0M126.6 227.5h0M127.7 227.2h0M128.8 226.9h0M129.9 226.6h0M131 226.3h0M132 226h0M133.1 225.7h0M134.2 225.4h0M135.3 225.1h0M136.4 224.7h0M137.5 224.4h0M138.5 224.1h0M139.6 223.8h0M140.7 223.5h0M141.8 223.1h0M142.9 222.8h0M144 222.5h0M145 222.2h0M146.1 221.8h0M147.2 221.4h0M148.3 221h0M149.4 220.6h0M150.5 220.2h0M151.5 219.8h0M152.6 219.4h0M153.7 219h0M154.8 218.6h0M155.9 218.2h0M157 217.8h0M158 217.4h0M159.1 217h0M160.2 216.5h0M161.3 216.1h0M162.4 215.7h0M163.4 215.3h0M164.5 214.8h0M165.6 214.4h0M166.7 214h0M167.8 213.6h0M168.9 213.1h0M169.9 212.7h0M171 212.3h0M172.1 211.8h0M173.2 211.4h0M174.3 211h0M175.4 210.5h0M176.4 210.1h0M177.5 209.7h0M178.6 209.2h0M179.7 208.8h0M180.8 208.3h0M181.9 207.9h0M182.9 207.4h0M184 207h0M185.1 206.5h0M186.2 206.1h0M187.3 205.6h0M188.4 205.2h0M189.4 204.7h0M190.5 204.2h0M191.6 203.8h0M192.7 203.3h0M193.8 202.8h0M194.8 202.4h0M195.9 201.9h0M197 201.4h0M198.1 200.9h0M199.2 200.4h0M200.3 200h0M201.3 199.5h0M202.4 199h0M203.5 198.5h0M204.6 198h0M205.7 197.5h0M206.8 197h0M207.8 196.5h0M208.9 196h0M210 195.5h0M211.1 195h0M212.2 194.5h0M213.3 193.9h0M214.3 193.4h0M215.4 192.9h0M216.5 192.3h0M217.6 191.8h0M218.7 191.3h0M219.8 190.7h0M220.8 190.2h0M221.9 189.7h0M223 189.1h0M224.1 188.6h0M225.2 188h0M226.2 187.4h0M227.3 186.9h0M228.4 186.3h0M229.5 185.7h0M230.6 185.1h0M231.7 184.5h0M232.7 183.9h0M233.8 183.2h0M234.9 182.6h0M236 182h0M237.1 181.3h0M238.2 180.6h0M239.2 179.9h0M240.3 179.2h0M241.4 178.5h0M242.5 177.8h0M243.6 177h0M244.7 176.3h0M245.7 175.5h0M246.8 174.7h0M247.9 174h0M249 173.2h0M250.1 172.4h0M251.2 171.5h0M252.2 170.7h0M253.3 169.9h0M254.4 169.1h0M255.5 168.4h0M256.6 167.6h0M257.6 166.9h0M258.7 166.1h0M259.8 165.3h0M260.9 164.5h0M262 163.7h0M263.1 162.9h0M264.1 162.1h0M265.2 161.3h0M266.3 160.4h0M267.4 159.5h0M268.5 158.7h0M269.6 157.8h0M270.6 156.9h0M271.7 155.9h0M272.8 155h0M273.9 154h0M275 153.1h0M276.1 151.9h0M277.1 150.8h0M278.2 149.6h0M279.3 148.4h0M280.4 147.2h0M281.5 146h0M282.6 144.8h0M283.6 143.7h0M284.7 142.5h0M285.8 141.3h0M286.9 140.2h0M288 138.9h0M289 137.7h0M290.1 136.4h0M291.2 135h0M292.3 133.4h0M293.4 131.8h0M294.5 130.1h0M295.5 128.3h0M296.6 126.4h0M297.7 124.5h0M298.8 122.4h0M299.9 120.3h0M301 118.1h0M302 115.8h0M303.1 113.4h0M304.2 111.1h0M305.3 108.7h0M306.4 106.2h0M307.5 103.7h0M308.5 101.2h0M309.6 98.8h0M310.7 96.4h0M311.8 94h0M312.9 91.5h0M314 89.2h0M315 87h0M316.1 84.9h0M317.2 82.8h0M318.3 80.9h0M319.4 79h0M320.4 77.5h0M321.5 76.1h0M322.6 74.8h0M323.7 73.5h0M324.8 72.4h0M325.9 71.5h0M326.9 70.9h0M328 70.3h0M329.1 69.8h0M330.2 69.3h0M331.3 69h0M332.4 68.7h0M333.4 68.5h0M334.5 68.3h0M335.6 68.1h0M336.7 67.9h0M337.8 67.7h0M338.9 67.6h0M339.9 67.5h0M341 67.3h0M342.1 67.2h0M343.2 67.1h0M344.3 67.1h0M345.4 67h0M346.4 66.9h0M347.5 66.8h0M348.6 66.7h0M349.7 66.6h0M350.8 66.6h0M351.8 66.5h0M352.9 66.4h0M354 66.3h0M355.1 66.3h0M356.2 66.2h0M357.3 66.1h0M358.3 66.1h0M359.4 66h0M360.5 65.9h0M361.6 65.9h0M362.7 65.8h0M363.8 65.7h0M364.8 65.7h0M365.9 65.6h0M367 65.5h0M368.1 65.5h0M369.2 65.4h0M370.3 65.3h0M371.3 65.3h0"/>
<path stroke="#5c0c8c" d="M74.7 242.2h0M75.7 242h0M76.8 241.8h0M77.9 241.6h0M79 241.4h0M80.1 241.1h0M81.2 240.9h0M82.2 240.7h0M83.3 240.4h0M84.4 240.2h0M85.5 240h0M86.6 239.7h0M87.7 239.5h0M88.7 239.3h0M89.8 239h0M90.9 238.8h0M92 238.6h0M93.1 238.3h0M94.2 238.1h0M95.2 237.8h0M96.3 237.6h0M97.4 237.3h0M98.5 237.1h0M99.6 236.8h0M100.6 236.6h0M101.7 236.3h0M102.8 236.1h0M103.9 235.8h0M105 235.5h0M106.1 235.3h0M107.1 235h0M108.2 234.7h0M109.3 234.5h0M110.4 234.2h0M111.5 233.9h0M112.6 233.6h0M113.6 233.3h0M114.7 233h0M115.8 232.7h0M116.9 232.4h0M118 232.1h0M119.1 231.8h0M120.1 231.5h0M121.2 231.1h0M122.3 230.8h0M123.4 230.5h0M124.5 230.2h0M125.6 229.8h0M126.6 229.5h0M127.7 229.2h0M128.8 228.8h0M129.9 228.5h0M131 228.1h0M132 227.8h0M133.1 227.5h0M134.2 227.1h0M135.3 226.8h0M136.4 226.4h0M137.5 226.1h0M138.5 225.7h0M139.6 225.3h0M140.7 225h0M141.8 224.6h0M142.9 224.3h0M144 223.9h0M145 223.5h0M146.1 223.1h0M147.2 222.8h0M148.3 222.4h0M149.4 222h0M150.5 221.6h0M151.5 221.2h0M152.6 220.9h0M153.7 220.5h0M154.8 220.1h0M155.9 219.7h0M157 219.3h0M158 218.9h0M159.1 218.5h0M160.2 218.1h0M161.3 217.7h0M162.4 217.3h0M163.4 216.8h0M164.5 216.4h0M165.6 216h0M166.7 215.6h0M167.8 215.2h0M168.9 214.7h0M169.9 214.3h0M171 213.9h0M172.1 213.5h0M173.2 213h0M174.3 212.6h0M175.4 212.2h0M176.4 211.7h0M177.5 211.3h0M178.6 210.9h0M179.7 210.5h0M180.8 210h0M181.9 209.6h0M182.9 209.1h0M184 208.7h0M185.1 208.3h0M186.2 207.8h0M187.3 207.4h0M188.4 206.9h0M189.4 206.5h0M190.5 206h0M191.6 205.6h0M192.7 205.1h0M193.8 204.6h0M194.8 204.2h0M195.9 203.7h0M197 203.2h0M198.1 202.8h0M199.2 202.3h0M200.3 201.8h0M201.3 201.4h0M202.4 200.9h0M203.5 200.4h0M204.6 199.9h0M205.7 199.4h0M206.8 199h0M207.8 198.5h0M208.9 198h0M210 197.5h0M211.1 197h0M212.2 196.5h0M213.3 196h0M214.3 195.5h0M215.4 194.9h0M216.5 194.4h0M217.6 193.9h0M218.7 193.4h0M219.8 192.8h0M220.8 192.3h0M221.9 191.8h0M223 191.2h0M224.1 190.7h0M225.2 190.2h0M226.2 189.6h0M227.3 189.1h0M228.4 188.5h0M229.5 187.9h0M230.6 187.4h0M231.7 186.8h0M232.7 186.2h0M233.8 185.6h0M234.9 185h0M236 184.4h0M237.1 183.8h0M238.2 183.2h0M239.2 182.5h0M240.3 181.9h0M241.4 181.2h0M242.5 180.6h0M243.6 179.9h0M244.7 179.2h0M245.7 178.5h0M246.8 177.7h0M247.9 177h0M249 176.2h0M250.1 175.5h0M251.2 174.7h0M252.2 173.9h0M253.3 173.1h0M254.4 172.3h0M255.5 171.5h0M256.6 170.6h0M257.6 169.8h0M258.7 169.1h0M259.8 168.3h0M260.9 167.6h0M262 166.8h0M263.1 166h0M264.1 165.3h0M265.2 164.5h0M266.3 163.7h0M267.4 162.9h0M268.5 162h0M269.6 161.2h0M270.6 160.3h0M271.7 159.5h0M272.8 158.6h0M273.9 157.7h0M275 156.8h0M276.1 155.9h0M277.1 154.9h0M278.2 154h0M279.3 153h0M280.4 151.9h0M281.5 150.7h0M282.6 149.5h0M283.6 148.3h0M284.7 147.1h0M285.8 145.9h0M286.9 144.7h0M288 143.6h0M289 142.4h0M290.1 141.2h0M291.2 140.1h0M292.3 138.9h0M293.4 137.6h0M294.5 136.3h0M295.5 134.8h0M296.6 133.3h0M297.7 131.7h0M298.8 130h0M299.9 128.1h0M301 126.3h0M302 124.3h0M303.1 122.3h0M304.2 120.1h0M305.3 117.9h0M306.4 115.6h0M307.5 113.3h0M308.5 110.9h0M309.6 108.5h0M310.7 106.1h0M311.8 103.6h0M312.9 101.1h0M314 98.6h0M315 96.2h0M316.1 93.8h0M317.2 91.4h0M318.3 89.1h0M319.4 86.9h0M320.4 84.8h0M321.5 82.7h0M322.6 80.7h0M323.7 78.9h0M324.8 77.4h0M325.9 76h0M326.9 74.7h0M328 73.4h0M329.1 72.3h0M330.2 71.5h0M331.3 70.8h0M332.4 70.2h0M333.4 69.7h0M334.5 69.3h0M335.6 69h0M336.7 68.7h0M337.8 68.5h0M338.9 68.2h0M339.9 68.1h0M341 67.9h0M342.1 67.7h0M343.2 67.6h0M344.3 67.5h0M345.4 67.3h0M346.4 67.2h0M347.5 67.1h0M348.6 67h0M349.7 67h0M350.8 66.9h0M351.8 66.8h0M352.9 66.7h0M354 66.6h0M355.1 66.6h0M356.2 66.5h0M357.3 66.4h0M358.3 66.3h0M359.4 66.3h0M360.5 66.2h0M361.6 66.1h0M362.7 66.1h0M363.8 66h0M364.8 65.9h0M365.9 65.9h0M367 65.8h0M368.1 65.7h0M369.2 65.7h0M370.3 65.6h0M371.3 65.5h0"/>
<path stroke="#4a10a8" stroke-width="4.6" stroke-linecap="round" d="M327.2 72.2 L328 71.2 L328.9 70.3 L329.8 69.6 L330.6 69 L331.5 68.5 L332.4 68 L333.2 67.6 L334.1 67.2 L335 67 L335.8 66.7 L336.7 66.5 L337.6 66.3 L338.4 66.1 L339.3 65.9 L340.2 65.8 L341 65.6 L341.9 65.5 L342.8 65.4 L343.6 65.3 L344.5 65.2 L345.4 65.1 L346.2 65 L347.1 64.9 L347.9 64.9 L348.8 64.8 L349.7 64.7 L350.5 64.7 L351.4 64.6 L352.3 64.5 L353.1 64.5 L354 64.4 L354.9 64.3 L355.7 64.3 L356.6 64.2 L357.5 64.2 L358.3 64.1 L359.2 64 L360.1 64 L360.9 63.9 L361.8 63.9 L362.7 63.8 L363.5 63.8 L364.4 63.7 L365.3 63.7 L366.1 63.6 L367 63.6 L367.9 63.5 L368.7 63.5 L369.6 63.4 L370.5 63.3"/>
<path stroke="#3010c0" stroke-width="4" stroke-linecap="round" d="M364 62.1L370.5 61.8"/>
<path stroke="#f2e800" stroke-width="3.2" stroke-linecap="round" d="M283.9 63.9 L284.7 63.9 L285.6 63.9 L286.4 63.8 L287.3 63.8 L288.2 63.8 L289 63.7 L289.9 63.7 L290.8 63.7 L291.6 63.6 L292.5 63.6 L293.4 63.6 L294.2 63.5 L295.1 63.5 L296 63.5 L296.8 63.5 L297.7 63.4 L298.6 63.4 L299.4 63.4 L300.3 63.3 L301.2 63.3 L302 63.3 L302.9 63.3 L303.8 63.2 L304.6 63.2 L305.5 63.2 L306.4 63.2 L307.2 63.1 L308.1 63.1 L309 63.1 L309.8 63.1 L310.7 63 L311.6 63 L312.4 63 L313.3 63 L314.2 62.9 L315 62.9 L315.9 62.9 L316.8 62.9 L317.6 62.8 L318.5 62.8 L319.4 62.8 L320.2 62.8 L321.1 62.7 L322 62.7 L322.8 62.7 L323.7 62.7 L324.6 62.7 L325.4 62.6 L326.3 62.6 L327.2 62.6 L328 62.6 L328.9 62.5 L329.8 62.5 L330.6 62.5 L331.5 62.5 L332.4 62.5 L333.2 62.4 L334.1 62.4 L335 62.4 L335.8 62.4 L336.7 62.3 L337.6 62.3 L338.4 62.3 L339.3 62.3 L340.2 62.3 L341 62.2 L341.9 62.2 L342.8 62.2 L343.6 62.2 L344.5 62.2 L345.4 62.1 L346.2 62.1 L347.1 62.1 L347.9 62.1 L348.8 62 L349.7 62 L350.5 62 L351.4 62 L352.3 62 L353.1 61.9 L354 61.9 L354.9 61.9 L355.7 61.9 L356.6 61.8 L357.5 61.8 L358.3 61.8 L359.2 61.8 L360.1 61.8 L360.9 61.7 L361.8 61.7 L362.7 61.7 L363.5 61.7 L364.4 61.6 L365.3 61.6 L366.1 61.6 L369.2 58.2 L370.5 56.6"/>
<path stroke="#3a0c00" stroke-width="1.8" stroke-linecap="round" d="M210.2 68.9 L211.1 68.6 L212 68.3 L212.8 68 L213.7 67.8 L214.6 67.6 L215.4 67.4 L216.3 67.3 L217.2 67.1 L218 67 L218.9 66.8 L219.8 66.7 L220.6 66.6 L221.5 66.5 L222.3 66.4 L223.2 66.3 L224.1 66.2 L224.9 66.1 L225.8 66.1 L226.7 66 L227.5 65.9 L228.4 65.8 L229.3 65.7 L230.1 65.7 L231 65.6 L231.9 65.5 L232.7 65.4 L233.6 65.4 L234.5 65.3 L235.3 65.2 L236.2 65.1 L237.1 65.1 L237.9 65 L238.8 64.9 L239.7 64.9 L240.5 64.8 L241.4 64.7 L242.3 64.7 L243.1 64.6 L244 64.5 L244.9 64.5 L245.7 64.4 L246.6 64.3 L247.5 64.3 L248.3 64.2 L249.2 64.2 L250.1 64.1 L250.9 64 L251.8 64 L252.7 63.9 L253.5 63.9 L254.4 63.8 L255.3 63.8 L256.1 63.7 L257 63.7 L257.9 63.6 L258.7 63.6 L259.6 63.5 L260.5 63.5 L261.3 63.4 L262.2 63.4 L263.1 63.3 L263.9 63.3 L264.8 63.2 L265.7 63.2 L266.5 63.1 L267.4 63.1 L268.3 63 L269.1 63 L270 62.9 L270.9 62.9 L271.7 62.9 L272.6 62.8 L273.5 62.8 L274.3 62.7 L275.2 62.7 L276.1 62.7 L276.9 62.6 L277.8 62.6 L278.7 62.5 L279.5 62.5 L280.4 62.5 L281.3 62.4 L282.1 62.4 L283 62.4 L283.8 62.3 L284.7 62.3 L285.6 62.3 L286.4 62.2 L287.3 62.2 L288.2 62.2 L289 62.1 L289.9 62.1 L290.8 62.1 L291.6 62 L292.5 62 L293.4 62 L294.2 61.9 L295.1 61.9 L296 61.9 L296.8 61.9 L297.7 61.8 L298.6 61.8 L299.4 61.8 L300.3 61.7 L301.2 61.7 L302 61.7 L302.9 61.7 L303.8 61.6 L304.6 61.6 L305.5 61.6 L306.4 61.6 L307.2 61.5 L308.1 61.5 L309 61.5 L309.8 61.5 L310.7 61.4 L311.6 61.4 L312.4 61.4 L313.3 61.4 L314.2 61.3 L315 61.3 L315.9 61.3 L316.8 61.3 L317.6 61.2 L318.5 61.2 L319.4 61.2 L320.2 61.2 L321.1 61.1 L322 61.1 L322.8 61.1 L323.7 61.1 L324.6 61.1 L325.4 61 L326.3 61 L327.2 61 L328 61 L328.9 60.9 L329.8 60.9 L330.6 60.9 L331.5 60.9 L332.4 60.9 L333.2 60.8 L334.1 60.8 L335 60.8 L335.8 60.8 L336.7 60.8 L337.6 60.7 L338.4 60.7 L339.3 60.7 L340.2 60.7 L341 60.6 L341.9 60.6 L342.8 60.6 L343.6 60.6 L344.5 60.6 L345.4 60.5 L346.2 60.5 L347.1 60.5 L347.9 60.5 L348.8 60.4 L349.7 60.4 L350.5 60.4 L351.4 60.4 L352.3 60.4 L353.1 60.3 L354 60.3 L354.9 60.3 L355.7 60.3 L356.6 60.2 L357.5 60.2 L358.3 60.2 L359.2 60.2 L360.1 60.2 L360.9 60.1 L361.8 60.1 L362.7 60.1 L363.5 60.1"/>
</g>
<path clip-path="url(#cb)" fill="none" stroke="#fbe6f6" stroke-width="9" stroke-linecap="round" stroke-linejoin="round" d="M74.7 447.5 L76 447.2 L77.3 447 L78.6 446.7 L79.9 446.4 L81.2 446.2 L82.5 445.9 L83.8 445.6 L85.1 445.3 L86.4 445.1 L87.7 444.8 L89 444.5 L90.3 444.2 L91.6 443.9 L92.9 443.6 L94.2 443.3 L95.5 443.1 L96.8 442.8 L98.1 442.5 L99.3 442.2 L100.6 441.9 L101.9 441.6 L103.2 441.2 L104.5 440.9 L105.8 440.6 L107.1 440.3 L108.4 440 L109.7 439.6 L111 439.3 L112.3 438.9 L113.6 438.6 L114.9 438.2 L116.2 437.9 L117.5 437.5 L118.8 437.1 L120.1 436.8 L121.4 436.4 L122.7 436 L124 435.6 L125.3 435.2 L126.6 434.8 L127.9 434.4 L129.2 434 L130.5 433.6 L131.8 433.2 L133.1 432.8 L134.4 432.4 L135.7 431.9 L137 431.5 L138.3 431.1 L139.6 430.7 L140.9 430.2 L142.2 429.8 L143.5 429.4 L144.8 428.9 L146.1 428.5 L147.4 428 L148.7 427.6 L150 427.1 L151.3 426.6 L152.6 426.2 L153.9 425.7 L155.2 425.3 L156.5 424.8 L157.8 424.3 L159.1 423.8 L160.4 423.3 L161.7 422.8 L163 422.3 L164.3 421.9 L165.6 421.4 L166.9 420.8 L168.2 420.3 L169.5 419.8 L170.8 419.3 L172.1 418.8 L173.4 418.3 L174.7 417.8 L176 417.3 L177.3 416.8 L178.6 416.2 L179.9 415.7 L181.2 415.2 L182.5 414.7 L183.8 414.1 L185.1 413.6 L186.4 413.1 L187.7 412.6 L189 412 L190.3 411.5 L191.6 410.9 L192.9 410.4 L194.2 409.8 L195.5 409.3 L196.8 408.7 L198.1 408.2 L199.4 407.6 L200.7 407 L202 406.5 L203.3 405.9 L204.6 405.3 L205.9 404.7 L207.2 404.1 L208.5 403.6 L209.8 403 L211.1 402.4 L212.4 401.8 L213.7 401.2 L215 400.5 L216.3 399.9 L217.6 399.3 L218.9 398.7 L220.2 398 L221.5 397.4 L222.8 396.7 L224.1 396.1 L225.4 395.5 L226.7 394.8 L228 394.1 L229.3 393.5 L230.6 392.8 L231.9 392.1 L233.2 391.4 L234.5 390.7 L235.8 390 L237.1 389.2 L238.4 388.5 L239.7 387.7 L241 386.9 L242.3 386.1 L243.6 385.3 L244.9 384.5 L246.2 383.6 L247.5 382.7 L248.8 381.8 L250.1 381 L251.4 380.2 L252.7 379.4 L254 378.6 L255.3 377.8 L256.6 377 L257.9 376.1 L259.2 375.3 L260.5 374.4 L261.8 373.5 L263.1 372.6 L264.4 371.7 L265.7 370.8 L267 369.9 L268.3 368.9 L269.6 368 L270.9 367 L272.2 366 L273.5 364.9 L274.8 363.9 L276.1 362.7 L277.4 361.4 L278.7 360.1 L280 358.8 L281.3 357.4 L282.6 356 L283.8 354.6 L285.1 353.1 L286.4 351.7 L287.7 350.3 L289 348.9 L290.3 347.5 L291.6 346.1 L292.9 344.7 L294.2 343.2 L295.5 341.6 L296.8 339.8 L298.1 337.9 L299.4 335.9 L300.7 333.7 L302 331.5 L303.3 329.1 L304.6 326.6 L305.9 324 L307.2 321.2 L308.5 318.4 L309.8 315.6 L311.1 312.7 L312.4 309.7 L313.7 306.7 L315 303.8 L316.3 300.9 L317.6 298 L318.9 295.2 L320.2 292.6 L321.5 290.1 L322.8 287.6 L324.1 285.4 L325.4 283.4 L326.7 281.7 L328 280 L329.3 278.5 L330.6 277.4 L331.9 276.6 L333.2 275.9 L334.5 275.3 L335.8 274.9 L337.1 274.5 L338.4 274.2 L339.7 274 L341 273.7 L342.3 273.5 L343.6 273.4 L344.9 273.2 L346.2 273.1 L347.5 272.9 L348.8 272.8 L350.1 272.7 L351.4 272.6 L352.7 272.5 L354 272.4 L355.3 272.3 L356.6 272.2 L357.9 272.1 L359.2 272 L360.5 272 L361.8 271.9 L363.1 271.8 L364.4 271.7 L365.7 271.6 L367 271.6 L368.3 271.5 L369.6 271.4 L370.9 271.3 L372.2 271.2 L373.5 271.2 L374.8 271.1 L376.1 271 L377.4 270.9 L378.7 270.8 L380 270.7 L381.3 270.7 L382.6 270.6 L383.9 270.5 L385.2 270.4 L386.5 270.4 L387.8 270.3 L389.1 270.2 L390.4 270.2 L391.7 270.1 L393 270 L394.3 270 L395.6 269.9 L396.9 269.8 L398.2 269.8 L399.5 269.7 L400.8 269.6 L402.1 269.6 L403.4 269.5 L404.7 269.5 L406 269.4 L407.3 269.4 L408.6 269.3 L409.9 269.2 L411.2 269.2 L412.5 269.1 L413.8 269.1 L415.1 269 L416.4 269 L417.7 268.9 L419 268.9 L420.3 268.8 L421.6 268.7 L422.9 268.7 L424.2 268.6 L425.5 268.6 L426.8 268.5 L428.1 268.5 L429.4 268.4 L430.7 268.4 L432 268.3 L433.3 268.3 L434.6 268.2 L435.9 268.1 L437.2 268.1 L438.5 268 L439.8 268 L441.1 267.9 L442.4 267.9 L443.7 267.8 L445 267.7 L446.3 267.7 L447.6 267.6 L448.9 267.6 L450.2 267.5 L451.5 267.4 L452.8 267.4 L454.1 267.3 L455.4 267.3 L456.7 267.2 L458 267.2 L459.3 267.1 L460.6 267 L461.9 267 L463.2 266.9 L464.5 266.9 L465.8 266.8 L467.1 266.7 L468.4 266.7 L469.6 266.6 L470.9 266.6 L472.2 266.5 L473.5 266.5 L474.8 266.4 L476.1 266.3 L477.4 266.3 L478.7 266.2 L480 266.2 L481.3 266.1 L482.6 266.1 L483.9 266 L485.2 266 L486.5 265.9 L487.8 265.9 L489.1 265.8 L490.4 265.8 L491.7 265.7 L493 265.7"/>
<g clip-path="url(#cb)" stroke-linecap="round" fill="none" stroke-width="5">
<path stroke="#4a0a00" d="M184.1 414.7h0M185.1 414.2h0M186.2 413.8h0M187.3 413.3h0M188.4 412.9h0M189.5 412.4h0M190.6 412h0M191.7 411.5h0M192.8 411.1h0M193.8 410.6h0M194.9 410.2h0M196 409.7h0M197.1 409.2h0M198.2 408.8h0M199.3 408.3h0M200.4 407.8h0M201.5 407.3h0M202.6 406.8h0M203.7 406.3h0M204.8 405.9h0M205.9 405.4h0M207 404.9h0M208.2 404.3h0M209.3 403.8h0M210.4 403.3h0M211.5 402.8h0M212.7 402.3h0M213.8 401.7h0M214.9 401.2h0M216 400.7h0M217.2 400.1h0M218.3 399.6h0M219.4 399h0M220.6 398.5h0M221.7 397.9h0M222.8 397.4h0M224 396.8h0M225.1 396.2h0M226.3 395.7h0M227.4 395.1h0M228.5 394.5h0M229.7 393.9h0M230.8 393.3h0M232 392.7h0M233.2 392.1h0M234.3 391.4h0M235.5 390.8h0M236.6 390.1h0M237.8 389.5h0M239 388.8h0M240.1 388.1h0M241.3 387.4h0M242.4 386.7h0M243.6 385.9h0M244.8 385.2h0M245.9 384.4h0M247.1 383.6h0M248.3 382.8h0M249.5 382h0M250.6 381.3h0M251.8 380.6h0M253 379.8h0M254.2 379.1h0M255.4 378.4h0M256.6 377.6h0M257.7 376.8h0M259.1 375.9h0M260.4 375.1h0M261.8 374.1h0M263.2 373.2h0M264.5 372.3h0M265.9 371.3h0M267.3 370.3h0M268.6 369.3h0M270 368.3h0M271.4 367.2h0M272.7 366.1h0M274.1 365.1h0M275.5 363.9h0M276.9 362.6h0M278.3 361.2h0M279.6 359.7h0M281 358.3h0M282.4 356.8h0M283.6 355.4h0M284.9 354.1h0M286.1 352.7h0M287.3 351.4h0M288.5 350.1h0M289.8 348.7h0M291 347.4h0M292.2 346.1h0M293.5 344.7h0M294.7 343.3h0M295.9 341.7h0M297.2 340h0M298.4 338.2h0M299.6 336.2h0M300.9 334.1h0M302.1 332h0M303.4 329.7h0M304.6 327.3h0M305.9 324.8h0M307.1 322.1h0M308.4 319.4h0M309.6 316.7h0M310.9 313.9h0M312.1 311h0M313.4 308.1h0M314.7 305.3h0M315.9 302.5h0M317.2 299.7h0M318.4 296.9h0M319.7 294.3h0M321 291.8h0M322.3 289.3h0M323.6 286.9h0M324.9 284.8h0M326.2 283h0M327.5 281.4h0M328.8 279.7h0M330.1 278.5h0M331.1 277.8h0M332.1 277.2h0M333 276.6h0M334 276.2h0M334.9 275.8h0M335.9 275.5h0M336.8 275.3h0M337.8 275h0M338.7 274.8h0M339.6 274.6h0M340.6 274.5h0M341.5 274.3h0M342.4 274.2h0M343.4 274h0M344.3 273.9h0M345.4 273.8h0M346.5 273.7h0M347.6 273.6h0M348.7 273.4h0M349.8 273.3h0M350.9 273.3h0M352.1 273.2h0M353.2 273.1h0M354.3 273h0M355.4 272.9h0M356.5 272.9h0M357.6 272.8h0M358.7 272.7h0M359.8 272.6h0M360.9 272.6h0M362 272.5h0M363.1 272.4h0M364.2 272.4h0M365.3 272.3h0M366.4 272.2h0M367.5 272.2h0M368.6 272.1h0M369.7 272h0M370.8 272h0M371.9 271.9h0M373 271.8h0M374.1 271.7h0M375.2 271.7h0M376.3 271.6h0M377.4 271.5h0M378.5 271.5h0M379.6 271.4h0M380.7 271.3h0M381.8 271.3h0M382.9 271.2h0M383.9 271.2h0M385 271.1h0M386.1 271h0M387.2 271h0M388.3 270.9h0M389.4 270.8h0M390.5 270.8h0M391.6 270.7h0M392.7 270.7h0M393.8 270.6h0M394.9 270.6h0M396 270.5h0M397.1 270.5h0M398.2 270.4h0M399.3 270.4h0M400.4 270.3h0M401.4 270.3h0M402.5 270.2h0M403.6 270.2h0M404.7 270.1h0M405.8 270.1h0M406.9 270h0M408 270h0M409.1 269.9h0M410.2 269.9h0M411.3 269.8h0M412.4 269.8h0M413.4 269.7h0M414.5 269.7h0M415.6 269.6h0M416.7 269.6h0M417.8 269.5h0M418.9 269.5h0M420 269.5h0M421.1 269.4h0M422.2 269.4h0M423.3 269.3h0M424.4 269.3h0M425.4 269.2h0M426.5 269.2h0M427.6 269.1h0M428.7 269.1h0M429.8 269h0M430.9 269h0M432 268.9h0M433.1 268.9h0M434.2 268.9h0M435.2 268.8h0M436.3 268.8h0M437.4 268.7h0M438.5 268.7h0M439.6 268.6h0M440.7 268.6h0M441.8 268.5h0M442.9 268.5h0M444 268.4h0M445 268.4h0M446.1 268.3h0M447.2 268.3h0M448.3 268.2h0M449.4 268.2h0M450.5 268.1h0M451.6 268.1h0M452.7 268h0M453.8 268h0M454.9 267.9h0M455.9 267.9h0M457 267.8h0M458.1 267.8h0M459.2 267.7h0M460.3 267.7h0M461.4 267.6h0M462.5 267.6h0M463.6 267.5h0M464.7 267.5h0M465.7 267.4h0M466.8 267.4h0M467.9 267.3h0M469 267.3h0M470.1 267.2h0M471.2 267.2h0M472.3 267.1h0M473.4 267.1h0M474.5 267.1h0M475.6 267h0M476.6 267h0M477.7 266.9h0M478.8 266.9h0M479.9 266.8h0M481 266.8h0M482.1 266.7h0M483.2 266.7h0M484.3 266.6h0M485.4 266.6h0M486.5 266.6h0M487.6 266.5h0M488.6 266.5h0M489.7 266.4h0M490.8 266.4h0M491.9 266.3h0M493 266.3h0M494.1 266.3h0M495.2 266.2h0"/>
<path stroke="#840000" d="M180.3 416.4h0M181.4 416h0M182.5 415.5h0M183.5 415.1h0M184.6 414.7h0M185.7 414.2h0M186.8 413.8h0M187.9 413.3h0M189 412.9h0M190.1 412.4h0M191.2 412h0M192.2 411.5h0M193.3 411.1h0M194.4 410.6h0M195.5 410.1h0M196.6 409.7h0M197.7 409.2h0M198.8 408.7h0M199.9 408.2h0M201 407.7h0M202.1 407.2h0M203.3 406.8h0M204.4 406.3h0M205.5 405.8h0M206.6 405.3h0M207.7 404.8h0M208.9 404.2h0M210 403.7h0M211.1 403.2h0M212.3 402.7h0M213.4 402.2h0M214.5 401.6h0M215.6 401.1h0M216.8 400.5h0M217.9 400h0M219 399.4h0M220.2 398.9h0M221.3 398.3h0M222.4 397.8h0M223.6 397.2h0M224.7 396.6h0M225.9 396.1h0M227 395.5h0M228.2 394.9h0M229.3 394.3h0M230.5 393.7h0M231.6 393.1h0M232.8 392.5h0M234 391.8h0M235.1 391.2h0M236.3 390.6h0M237.4 389.9h0M238.6 389.2h0M239.8 388.5h0M240.9 387.8h0M242.1 387.1h0M243.3 386.4h0M244.4 385.6h0M245.6 384.8h0M246.8 384.1h0M248 383.2h0M249.1 382.4h0M250.3 381.7h0M251.5 381h0M252.7 380.3h0M253.9 379.5h0M255.2 378.7h0M256.5 377.8h0M257.9 376.9h0M259.2 376h0M260.6 375.1h0M262 374.2h0M263.3 373.3h0M264.7 372.3h0M266 371.4h0M267.4 370.4h0M268.7 369.4h0M270.1 368.3h0M271.5 367.3h0M272.8 366.2h0M274.2 365.1h0M275.6 364h0M277 362.6h0M278.3 361.2h0M279.6 359.9h0M280.8 358.6h0M282 357.3h0M283.2 356h0M284.5 354.7h0M285.7 353.3h0M286.9 352h0M288.1 350.6h0M289.3 349.3h0M290.6 348h0M291.8 346.7h0M293 345.3h0M294.3 343.9h0M295.5 342.3h0M296.7 340.7h0M298 338.9h0M299.2 337h0M300.5 334.9h0M301.7 332.8h0M302.9 330.5h0M304.2 328.2h0M305.4 325.7h0M306.7 323.1h0M307.9 320.4h0M309.2 317.7h0M310.4 314.9h0M311.7 312.1h0M313 309.2h0M314.2 306.3h0M315.5 303.5h0M316.7 300.7h0M318 297.8h0M319.3 295h0M320.6 292.4h0M321.9 289.9h0M323.2 287.5h0M324.5 285.4h0M325.8 283.6h0M326.8 282.3h0M327.8 281h0M328.8 279.8h0M329.7 278.8h0M330.7 278.1h0M331.6 277.4h0M332.6 276.9h0M333.5 276.4h0M334.4 276h0M335.4 275.7h0M336.3 275.4h0M337.3 275.1h0M338.2 274.9h0M339.1 274.7h0M340.1 274.5h0M341.1 274.4h0M342.3 274.2h0M343.4 274h0M344.5 273.9h0M345.6 273.8h0M346.7 273.6h0M347.8 273.5h0M348.9 273.4h0M350.1 273.3h0M351.2 273.2h0M352.3 273.2h0M353.4 273.1h0M354.5 273h0M355.6 272.9h0M356.7 272.8h0M357.8 272.8h0M358.9 272.7h0M360 272.6h0M361.1 272.6h0M362.2 272.5h0M363.3 272.4h0M364.4 272.4h0M365.5 272.3h0M366.6 272.2h0M367.7 272.2h0M368.7 272.1h0M369.8 272h0M370.9 272h0M372 271.9h0M373.1 271.8h0M374.2 271.7h0M375.3 271.7h0M376.4 271.6h0M377.5 271.5h0M378.6 271.5h0M379.7 271.4h0M380.8 271.3h0M381.9 271.3h0M383 271.2h0M384.1 271.1h0M385.2 271.1h0M386.3 271h0M387.4 271h0M388.5 270.9h0M389.5 270.8h0M390.6 270.8h0M391.7 270.7h0M392.8 270.7h0M393.9 270.6h0M395 270.6h0M396.1 270.5h0M397.2 270.5h0M398.3 270.4h0M399.4 270.4h0M400.5 270.3h0M401.6 270.3h0M402.7 270.2h0M403.7 270.2h0M404.8 270.1h0M405.9 270.1h0M407 270h0M408.1 270h0M409.2 269.9h0M410.3 269.9h0M411.4 269.8h0M412.5 269.8h0M413.6 269.7h0M414.6 269.7h0M415.7 269.6h0M416.8 269.6h0M417.9 269.5h0M419 269.5h0M420.1 269.4h0M421.2 269.4h0M422.3 269.4h0M423.4 269.3h0M424.5 269.3h0M425.5 269.2h0M426.6 269.2h0M427.7 269.1h0M428.8 269.1h0M429.9 269h0M431 269h0M432.1 268.9h0M433.2 268.9h0M434.3 268.9h0M435.3 268.8h0M436.4 268.8h0M437.5 268.7h0M438.6 268.7h0M439.7 268.6h0M440.8 268.6h0M441.9 268.5h0M443 268.5h0M444.1 268.4h0M445.1 268.4h0M446.2 268.3h0M447.3 268.3h0M448.4 268.2h0M449.5 268.2h0M450.6 268.1h0M451.7 268.1h0M452.8 268h0M453.9 268h0M454.9 267.9h0M456 267.9h0M457.1 267.8h0M458.2 267.8h0M459.3 267.7h0M460.4 267.7h0M461.5 267.6h0M462.6 267.6h0M463.7 267.5h0M464.7 267.5h0M465.8 267.4h0M466.9 267.4h0M468 267.3h0M469.1 267.3h0M470.2 267.2h0M471.3 267.2h0M472.4 267.1h0M473.5 267.1h0M474.6 267h0M475.7 267h0M476.7 267h0M477.8 266.9h0M478.9 266.9h0M480 266.8h0M481.1 266.8h0M482.2 266.7h0M483.3 266.7h0M484.4 266.6h0M485.5 266.6h0M486.6 266.6h0M487.7 266.5h0M488.7 266.5h0M489.8 266.4h0M490.9 266.4h0"/>
<path stroke="#b00000" d="M176.5 418.1h0M177.6 417.6h0M178.7 417.2h0M179.8 416.8h0M180.9 416.3h0M181.9 415.9h0M183 415.5h0M184.1 415h0M185.2 414.6h0M186.3 414.1h0M187.4 413.7h0M188.5 413.2h0M189.6 412.8h0M190.6 412.3h0M191.7 411.9h0M192.8 411.4h0M193.9 411h0M195 410.5h0M196.1 410h0M197.2 409.5h0M198.4 409.1h0M199.5 408.6h0M200.6 408.1h0M201.7 407.6h0M202.8 407.1h0M204 406.6h0M205.1 406.1h0M206.2 405.6h0M207.3 405.1h0M208.5 404.6h0M209.6 404.1h0M210.7 403.6h0M211.8 403h0M213 402.5h0M214.1 402h0M215.2 401.4h0M216.4 400.9h0M217.5 400.4h0M218.6 399.8h0M219.8 399.2h0M220.9 398.7h0M222.1 398.1h0M223.2 397.6h0M224.4 397h0M225.5 396.4h0M226.7 395.8h0M227.8 395.2h0M229 394.6h0M230.1 394h0M231.3 393.4h0M232.4 392.8h0M233.6 392.2h0M234.8 391.6h0M235.9 390.9h0M237.1 390.3h0M238.2 389.6h0M239.4 388.9h0M240.6 388.2h0M241.7 387.5h0M242.9 386.8h0M244.1 386h0M245.3 385.2h0M246.4 384.4h0M247.6 383.6h0M248.8 382.8h0M250 382.1h0M251.3 381.3h0M252.6 380.4h0M254 379.6h0M255.3 378.8h0M256.7 377.9h0M258 377h0M259.4 376.1h0M260.7 375.2h0M262 374.3h0M263.4 373.4h0M264.8 372.4h0M266.1 371.4h0M267.5 370.4h0M268.8 369.4h0M270.2 368.4h0M271.5 367.4h0M272.9 366.3h0M274.3 365.2h0M275.5 364.1h0M276.7 363h0M277.9 361.7h0M279.1 360.5h0M280.4 359.2h0M281.6 357.9h0M282.8 356.6h0M284 355.2h0M285.2 353.9h0M286.5 352.5h0M287.7 351.2h0M288.9 349.8h0M290.1 348.5h0M291.4 347.2h0M292.6 345.9h0M293.8 344.4h0M295.1 342.9h0M296.3 341.3h0M297.5 339.6h0M298.8 337.7h0M300 335.7h0M301.3 333.6h0M302.5 331.4h0M303.7 329.1h0M305 326.6h0M306.2 324.1h0M307.5 321.4h0M308.7 318.7h0M310 316h0M311.2 313.2h0M312.5 310.3h0M313.8 307.3h0M315.1 304.4h0M316.4 301.5h0M317.7 298.6h0M319 295.8h0M320.2 293.2h0M321.5 290.8h0M322.5 288.8h0M323.5 287.1h0M324.5 285.4h0M325.4 284h0M326.4 282.8h0M327.3 281.6h0M328.3 280.3h0M329.2 279.3h0M330.2 278.4h0M331.1 277.7h0M332.1 277.1h0M333 276.6h0M334 276.2h0M334.9 275.8h0M335.8 275.5h0M336.9 275.2h0M338 275h0M339.2 274.7h0M340.3 274.5h0M341.4 274.3h0M342.5 274.2h0M343.6 274h0M344.7 273.9h0M345.8 273.7h0M346.9 273.6h0M348 273.5h0M349.1 273.4h0M350.2 273.3h0M351.3 273.2h0M352.4 273.1h0M353.5 273.1h0M354.6 273h0M355.7 272.9h0M356.8 272.8h0M357.9 272.8h0M359 272.7h0M360.1 272.6h0M361.2 272.6h0M362.3 272.5h0M363.4 272.4h0M364.5 272.4h0M365.6 272.3h0M366.7 272.2h0M367.8 272.2h0M368.9 272.1h0M370 272h0M371.1 271.9h0M372.2 271.9h0M373.3 271.8h0M374.4 271.7h0M375.5 271.7h0M376.6 271.6h0M377.6 271.5h0M378.7 271.5h0M379.8 271.4h0M380.9 271.3h0M382 271.3h0M383.1 271.2h0M384.2 271.1h0M385.3 271.1h0M386.4 271h0M387.5 271h0M388.6 270.9h0M389.7 270.8h0M390.8 270.8h0M391.9 270.7h0M392.9 270.7h0M394 270.6h0M395.1 270.6h0M396.2 270.5h0M397.3 270.5h0M398.4 270.4h0M399.5 270.3h0M400.6 270.3h0M401.7 270.2h0M402.8 270.2h0M403.9 270.1h0M404.9 270.1h0M406 270h0M407.1 270h0M408.2 270h0M409.3 269.9h0M410.4 269.9h0M411.5 269.8h0M412.6 269.8h0M413.7 269.7h0M414.8 269.7h0M415.8 269.6h0M416.9 269.6h0M418 269.5h0M419.1 269.5h0M420.2 269.4h0M421.3 269.4h0M422.4 269.4h0M423.5 269.3h0M424.6 269.3h0M425.6 269.2h0M426.7 269.2h0M427.8 269.1h0M428.9 269.1h0M430 269h0M431.1 269h0M432.2 268.9h0M433.3 268.9h0M434.4 268.8h0M435.4 268.8h0M436.5 268.8h0M437.6 268.7h0M438.7 268.7h0M439.8 268.6h0M440.9 268.6h0M442 268.5h0M443.1 268.5h0M444.2 268.4h0M445.2 268.4h0M446.3 268.3h0M447.4 268.3h0M448.5 268.2h0M449.6 268.2h0M450.7 268.1h0M451.8 268.1h0M452.9 268h0M453.9 268h0M455 267.9h0M456.1 267.9h0M457.2 267.8h0M458.3 267.8h0M459.4 267.7h0M460.5 267.7h0M461.6 267.6h0M462.7 267.6h0M463.8 267.5h0M464.8 267.5h0M465.9 267.4h0M467 267.4h0M468.1 267.3h0M469.2 267.3h0M470.3 267.2h0M471.4 267.2h0M472.5 267.1h0M473.6 267.1h0M474.7 267h0M475.7 267h0M476.8 267h0M477.9 266.9h0M479 266.9h0M480.1 266.8h0M481.2 266.8h0M482.3 266.7h0M483.4 266.7h0M484.5 266.6h0M485.6 266.6h0M486.7 266.5h0"/>
<path stroke="#c00000" d="M172.7 419.7h0M173.8 419.2h0M174.9 418.8h0M176 418.4h0M177.1 418h0M178.2 417.5h0M179.3 417.1h0M180.3 416.7h0M181.4 416.2h0M182.5 415.8h0M183.6 415.3h0M184.7 414.9h0M185.8 414.5h0M186.9 414h0M188 413.6h0M189.1 413.1h0M190.2 412.7h0M191.3 412.2h0M192.4 411.7h0M193.5 411.3h0M194.6 410.8h0M195.7 410.3h0M196.8 409.9h0M197.9 409.4h0M199 408.9h0M200.2 408.4h0M201.3 407.9h0M202.4 407.4h0M203.5 406.9h0M204.7 406.4h0M205.8 405.9h0M206.9 405.4h0M208 404.9h0M209.2 404.4h0M210.3 403.9h0M211.4 403.4h0M212.6 402.8h0M213.7 402.3h0M214.8 401.8h0M216 401.2h0M217.1 400.7h0M218.3 400.1h0M219.4 399.6h0M220.5 399h0M221.7 398.4h0M222.8 397.9h0M224 397.3h0M225.1 396.7h0M226.3 396.1h0M227.4 395.6h0M228.6 395h0M229.8 394.4h0M230.9 393.8h0M232.1 393.2h0M233.2 392.5h0M234.4 391.9h0M235.5 391.3h0M236.7 390.6h0M237.9 389.9h0M239 389.2h0M240.2 388.6h0M241.4 387.8h0M242.6 387.1h0M243.7 386.4h0M244.9 385.6h0M246.1 384.8h0M247.4 383.9h0M248.7 383h0M250.1 382.2h0M251.4 381.3h0M252.7 380.5h0M254.1 379.7h0M255.4 378.8h0M256.7 378h0M258.1 377.1h0M259.4 376.2h0M260.8 375.3h0M262.1 374.4h0M263.5 373.4h0M264.8 372.5h0M266.2 371.5h0M267.5 370.5h0M268.9 369.5h0M270.2 368.5h0M271.4 367.5h0M272.6 366.6h0M273.9 365.6h0M275.1 364.7h0M276.3 363.5h0M277.5 362.3h0M278.7 361h0M279.9 359.7h0M281.1 358.5h0M282.3 357.1h0M283.6 355.8h0M284.8 354.5h0M286 353.1h0M287.2 351.8h0M288.5 350.4h0M289.7 349.1h0M290.9 347.8h0M292.1 346.4h0M293.4 345h0M294.6 343.6h0M295.8 342h0M297.1 340.3h0M298.3 338.5h0M299.6 336.5h0M300.8 334.4h0M302 332.3h0M303.3 330h0M304.5 327.6h0M305.8 325.1h0M307 322.5h0M308.3 319.8h0M309.5 317h0M310.8 314.1h0M312.1 311.2h0M313.4 308.2h0M314.7 305.3h0M315.9 302.5h0M317.2 299.7h0M318.2 297.4h0M319.2 295.3h0M320.2 293.3h0M321.2 291.4h0M322.1 289.6h0M323.1 287.8h0M324 286.2h0M325 284.6h0M325.9 283.3h0M326.9 282.2h0M327.8 280.9h0M328.8 279.7h0M329.7 278.8h0M330.7 278h0M331.6 277.4h0M332.7 276.8h0M333.8 276.3h0M334.9 275.8h0M336.1 275.5h0M337.2 275.2h0M338.3 274.9h0M339.4 274.7h0M340.5 274.5h0M341.6 274.3h0M342.7 274.1h0M343.8 274h0M344.9 273.9h0M346 273.7h0M347.1 273.6h0M348.2 273.5h0M349.3 273.4h0M350.4 273.3h0M351.5 273.2h0M352.6 273.1h0M353.7 273h0M354.8 273h0M355.9 272.9h0M357 272.8h0M358.1 272.8h0M359.2 272.7h0M360.3 272.6h0M361.4 272.5h0M362.5 272.5h0M363.6 272.4h0M364.7 272.3h0M365.7 272.3h0M366.8 272.2h0M367.9 272.1h0M369 272.1h0M370.1 272h0M371.2 271.9h0M372.3 271.9h0M373.4 271.8h0M374.5 271.7h0M375.6 271.7h0M376.7 271.6h0M377.8 271.5h0M378.9 271.5h0M380 271.4h0M381.1 271.3h0M382.1 271.3h0M383.2 271.2h0M384.3 271.1h0M385.4 271.1h0M386.5 271h0M387.6 270.9h0M388.7 270.9h0M389.8 270.8h0M390.9 270.8h0M392 270.7h0M393.1 270.7h0M394.1 270.6h0M395.2 270.6h0M396.3 270.5h0M397.4 270.4h0M398.5 270.4h0M399.6 270.3h0M400.7 270.3h0M401.8 270.2h0M402.9 270.2h0M404 270.1h0M405 270.1h0M406.1 270h0M407.2 270h0M408.3 269.9h0M409.4 269.9h0M410.5 269.9h0M411.6 269.8h0M412.7 269.8h0M413.8 269.7h0M414.9 269.7h0M415.9 269.6h0M417 269.6h0M418.1 269.5h0M419.2 269.5h0M420.3 269.4h0M421.4 269.4h0M422.5 269.3h0M423.6 269.3h0M424.7 269.3h0M425.7 269.2h0M426.8 269.2h0M427.9 269.1h0M429 269.1h0M430.1 269h0M431.2 269h0M432.3 268.9h0M433.4 268.9h0M434.4 268.8h0M435.5 268.8h0M436.6 268.7h0M437.7 268.7h0M438.8 268.7h0M439.9 268.6h0M441 268.6h0M442.1 268.5h0M443.2 268.5h0M444.2 268.4h0M445.3 268.4h0M446.4 268.3h0M447.5 268.3h0M448.6 268.2h0M449.7 268.2h0M450.8 268.1h0M451.9 268.1h0M453 268h0M454 268h0M455.1 267.9h0M456.2 267.9h0M457.3 267.8h0M458.4 267.8h0M459.5 267.7h0M460.6 267.7h0M461.7 267.6h0M462.8 267.6h0M463.8 267.5h0M464.9 267.5h0M466 267.4h0M467.1 267.4h0M468.2 267.3h0M469.3 267.3h0M470.4 267.2h0M471.5 267.2h0M472.6 267.1h0M473.7 267.1h0M474.7 267h0M475.8 267h0M476.9 266.9h0M478 266.9h0M479.1 266.9h0M480.2 266.8h0M481.3 266.8h0M482.4 266.7h0"/>
<path stroke="#c00000" d="M169 421.2h0M170.1 420.8h0M171.1 420.4h0M172.2 420h0M173.3 419.5h0M174.4 419.1h0M175.5 418.7h0M176.6 418.3h0M177.7 417.8h0M178.7 417.4h0M179.8 417h0M180.9 416.5h0M182 416.1h0M183.1 415.7h0M184.2 415.2h0M185.3 414.8h0M186.4 414.3h0M187.5 413.9h0M188.6 413.4h0M189.7 413h0M190.8 412.5h0M191.9 412h0M193 411.6h0M194.1 411.1h0M195.3 410.6h0M196.4 410.2h0M197.5 409.7h0M198.6 409.2h0M199.8 408.7h0M200.9 408.2h0M202 407.7h0M203.1 407.2h0M204.3 406.7h0M205.4 406.2h0M206.5 405.7h0M207.6 405.2h0M208.8 404.7h0M209.9 404.2h0M211 403.7h0M212.2 403.1h0M213.3 402.6h0M214.4 402.1h0M215.6 401.5h0M216.7 401h0M217.9 400.4h0M219 399.9h0M220.2 399.3h0M221.3 398.7h0M222.5 398.2h0M223.6 397.6h0M224.8 397h0M225.9 396.4h0M227.1 395.9h0M228.2 395.3h0M229.4 394.7h0M230.5 394.1h0M231.7 393.5h0M232.9 392.8h0M234 392.2h0M235.2 391.6h0M236.3 390.9h0M237.5 390.2h0M238.7 389.6h0M239.9 388.9h0M241 388.2h0M242.2 387.4h0M243.5 386.6h0M244.8 385.8h0M246.1 384.9h0M247.5 384h0M248.8 383.1h0M250.1 382.2h0M251.4 381.4h0M252.8 380.6h0M254.1 379.8h0M255.4 378.9h0M256.8 378h0M258.1 377.2h0M259.4 376.3h0M260.8 375.4h0M262.1 374.5h0M263.5 373.5h0M264.8 372.6h0M266.2 371.6h0M267.4 370.7h0M268.6 369.8h0M269.8 368.9h0M271 368h0M272.2 367h0M273.4 366.1h0M274.6 365.1h0M275.8 364h0M277 362.8h0M278.2 361.6h0M279.4 360.3h0M280.7 359h0M281.9 357.7h0M283.1 356.4h0M284.3 355h0M285.5 353.7h0M286.8 352.3h0M288 351h0M289.2 349.6h0M290.4 348.3h0M291.7 347h0M292.9 345.6h0M294.1 344.2h0M295.4 342.7h0M296.6 341h0M297.8 339.3h0M299.1 337.3h0M300.3 335.3h0M301.5 333.2h0M302.8 331h0M304 328.6h0M305.3 326.1h0M306.6 323.4h0M307.8 320.7h0M309.1 317.9h0M310.4 315.1h0M311.7 312.2h0M312.9 309.4h0M313.9 307h0M314.9 304.7h0M315.9 302.6h0M316.9 300.4h0M317.8 298.2h0M318.8 296.1h0M319.8 294.1h0M320.7 292.2h0M321.7 290.4h0M322.6 288.6h0M323.6 286.9h0M324.6 285.3h0M325.5 283.9h0M326.5 282.7h0M327.4 281.5h0M328.5 280.1h0M329.6 278.9h0M330.7 278h0M331.8 277.3h0M332.9 276.7h0M334 276.2h0M335.2 275.7h0M336.3 275.4h0M337.4 275.1h0M338.5 274.9h0M339.6 274.6h0M340.7 274.4h0M341.8 274.3h0M342.9 274.1h0M344 274h0M345.1 273.8h0M346.2 273.7h0M347.3 273.6h0M348.4 273.5h0M349.5 273.4h0M350.6 273.3h0M351.7 273.2h0M352.7 273.1h0M353.8 273h0M354.9 273h0M356 272.9h0M357.1 272.8h0M358.2 272.7h0M359.3 272.7h0M360.4 272.6h0M361.5 272.5h0M362.6 272.5h0M363.7 272.4h0M364.8 272.3h0M365.9 272.3h0M367 272.2h0M368.1 272.1h0M369.2 272.1h0M370.3 272h0M371.3 271.9h0M372.4 271.9h0M373.5 271.8h0M374.6 271.7h0M375.7 271.6h0M376.8 271.6h0M377.9 271.5h0M379 271.4h0M380.1 271.4h0M381.2 271.3h0M382.3 271.3h0M383.4 271.2h0M384.4 271.1h0M385.5 271.1h0M386.6 271h0M387.7 270.9h0M388.8 270.9h0M389.9 270.8h0M391 270.8h0M392.1 270.7h0M393.2 270.7h0M394.3 270.6h0M395.3 270.5h0M396.4 270.5h0M397.5 270.4h0M398.6 270.4h0M399.7 270.3h0M400.8 270.3h0M401.9 270.2h0M403 270.2h0M404.1 270.1h0M405.2 270.1h0M406.2 270h0M407.3 270h0M408.4 269.9h0M409.5 269.9h0M410.6 269.8h0M411.7 269.8h0M412.8 269.8h0M413.9 269.7h0M415 269.7h0M416 269.6h0M417.1 269.6h0M418.2 269.5h0M419.3 269.5h0M420.4 269.4h0M421.5 269.4h0M422.6 269.3h0M423.7 269.3h0M424.7 269.3h0M425.8 269.2h0M426.9 269.2h0M428 269.1h0M429.1 269.1h0M430.2 269h0M431.3 269h0M432.4 268.9h0M433.5 268.9h0M434.5 268.8h0M435.6 268.8h0M436.7 268.7h0M437.8 268.7h0M438.9 268.6h0M440 268.6h0M441.1 268.5h0M442.2 268.5h0M443.2 268.5h0M444.3 268.4h0M445.4 268.4h0M446.5 268.3h0M447.6 268.3h0M448.7 268.2h0M449.8 268.2h0M450.9 268.1h0M452 268.1h0M453 268h0M454.1 268h0M455.2 267.9h0M456.3 267.9h0M457.4 267.8h0M458.5 267.8h0M459.6 267.7h0M460.7 267.7h0M461.8 267.6h0M462.9 267.6h0M463.9 267.5h0M465 267.5h0M466.1 267.4h0M467.2 267.4h0M468.3 267.3h0M469.4 267.3h0M470.5 267.2h0M471.6 267.2h0M472.7 267.1h0M473.8 267.1h0M474.8 267h0M475.9 267h0M477 266.9h0M478.1 266.9h0"/>
<path stroke="#d40000" d="M165.2 422.8h0M166.3 422.3h0M167.4 421.9h0M168.5 421.5h0M169.5 421.1h0M170.6 420.7h0M171.7 420.2h0M172.8 419.8h0M173.9 419.4h0M175 419h0M176.1 418.5h0M177.1 418.1h0M178.2 417.7h0M179.3 417.2h0M180.4 416.8h0M181.5 416.4h0M182.6 415.9h0M183.7 415.5h0M184.8 415h0M185.9 414.6h0M187 414.1h0M188.1 413.7h0M189.2 413.2h0M190.4 412.8h0M191.5 412.3h0M192.6 411.8h0M193.7 411.4h0M194.8 410.9h0M196 410.4h0M197.1 409.9h0M198.2 409.5h0M199.3 409h0M200.5 408.5h0M201.6 408h0M202.7 407.5h0M203.8 407h0M205 406.5h0M206.1 406h0M207.2 405.5h0M208.3 405h0M209.5 404.4h0M210.6 403.9h0M211.8 403.4h0M212.9 402.9h0M214 402.3h0M215.2 401.8h0M216.3 401.2h0M217.5 400.7h0M218.6 400.1h0M219.8 399.6h0M220.9 399h0M222.1 398.4h0M223.2 397.9h0M224.4 397.3h0M225.5 396.7h0M226.7 396.1h0M227.8 395.6h0M229 395h0M230.2 394.4h0M231.3 393.8h0M232.5 393.1h0M233.6 392.5h0M234.8 391.9h0M236 391.2h0M237.1 390.5h0M238.3 389.9h0M239.6 389.1h0M240.9 388.3h0M242.2 387.5h0M243.5 386.7h0M244.9 385.8h0M246.2 384.9h0M247.5 384.1h0M248.8 383.1h0M250.1 382.3h0M251.5 381.5h0M252.8 380.7h0M254.1 379.9h0M255.4 379h0M256.8 378.1h0M258.1 377.3h0M259.4 376.4h0M260.8 375.5h0M262.1 374.6h0M263.3 373.7h0M264.5 372.9h0M265.7 372h0M266.9 371.1h0M268.1 370.2h0M269.3 369.3h0M270.5 368.4h0M271.7 367.5h0M272.9 366.5h0M274.1 365.6h0M275.3 364.6h0M276.5 363.4h0M277.7 362.1h0M279 360.9h0M280.2 359.6h0M281.4 358.3h0M282.6 357h0M283.8 355.6h0M285 354.3h0M286.3 352.9h0M287.5 351.6h0M288.7 350.2h0M289.9 348.9h0M291.2 347.6h0M292.4 346.2h0M293.6 344.8h0M294.9 343.3h0M296.1 341.8h0M297.3 340.1h0M298.5 338.2h0M299.8 336.2h0M301 334.1h0M302.3 331.8h0M303.6 329.5h0M304.9 327h0M306.1 324.4h0M307.4 321.7h0M308.6 319h0M309.7 316.8h0M310.7 314.5h0M311.6 312.3h0M312.6 310.1h0M313.6 307.8h0M314.5 305.6h0M315.5 303.5h0M316.5 301.3h0M317.4 299.1h0M318.4 297h0M319.4 295h0M320.3 293h0M321.3 291.2h0M322.2 289.4h0M323.2 287.6h0M324.3 285.8h0M325.4 284.1h0M326.5 282.6h0M327.6 281.2h0M328.7 279.8h0M329.8 278.7h0M330.9 277.9h0M332 277.2h0M333.1 276.6h0M334.2 276.1h0M335.3 275.7h0M336.4 275.4h0M337.5 275.1h0M338.6 274.8h0M339.7 274.6h0M340.8 274.4h0M341.9 274.2h0M343 274.1h0M344.1 273.9h0M345.2 273.8h0M346.3 273.7h0M347.4 273.6h0M348.5 273.5h0M349.6 273.4h0M350.7 273.3h0M351.8 273.2h0M352.9 273.1h0M354 273h0M355.1 272.9h0M356.2 272.9h0M357.3 272.8h0M358.4 272.7h0M359.5 272.7h0M360.5 272.6h0M361.6 272.5h0M362.7 272.5h0M363.8 272.4h0M364.9 272.3h0M366 272.3h0M367.1 272.2h0M368.2 272.1h0M369.3 272.1h0M370.4 272h0M371.5 271.9h0M372.6 271.8h0M373.7 271.8h0M374.7 271.7h0M375.8 271.6h0M376.9 271.6h0M378 271.5h0M379.1 271.4h0M380.2 271.4h0M381.3 271.3h0M382.4 271.2h0M383.5 271.2h0M384.6 271.1h0M385.6 271.1h0M386.7 271h0M387.8 270.9h0M388.9 270.9h0M390 270.8h0M391.1 270.8h0M392.2 270.7h0M393.3 270.6h0M394.4 270.6h0M395.5 270.5h0M396.5 270.5h0M397.6 270.4h0M398.7 270.4h0M399.8 270.3h0M400.9 270.3h0M402 270.2h0M403.1 270.2h0M404.2 270.1h0M405.3 270.1h0M406.3 270h0M407.4 270h0M408.5 269.9h0M409.6 269.9h0M410.7 269.8h0M411.8 269.8h0M412.9 269.8h0M414 269.7h0M415 269.7h0M416.1 269.6h0M417.2 269.6h0M418.3 269.5h0M419.4 269.5h0M420.5 269.4h0M421.6 269.4h0M422.7 269.3h0M423.8 269.3h0M424.8 269.2h0M425.9 269.2h0M427 269.2h0M428.1 269.1h0M429.2 269.1h0M430.3 269h0M431.4 269h0M432.5 268.9h0M433.5 268.9h0M434.6 268.8h0M435.7 268.8h0M436.8 268.7h0M437.9 268.7h0M439 268.6h0M440.1 268.6h0M441.2 268.5h0M442.2 268.5h0M443.3 268.4h0M444.4 268.4h0M445.5 268.4h0M446.6 268.3h0M447.7 268.3h0M448.8 268.2h0M449.9 268.2h0M451 268.1h0M452 268.1h0M453.1 268h0M454.2 268h0M455.3 267.9h0M456.4 267.9h0M457.5 267.8h0M458.6 267.8h0M459.7 267.7h0M460.8 267.7h0M461.9 267.6h0M462.9 267.6h0M464 267.5h0M465.1 267.5h0M466.2 267.4h0M467.3 267.4h0M468.4 267.3h0M469.5 267.3h0M470.6 267.2h0M471.7 267.2h0M472.8 267.1h0M473.8 267.1h0"/>
<path stroke="#d40000" d="M161.4 424.3h0M162.5 423.9h0M163.6 423.4h0M164.7 423h0M165.8 422.6h0M166.9 422.2h0M167.9 421.8h0M169 421.4h0M170.1 420.9h0M171.2 420.5h0M172.3 420.1h0M173.4 419.7h0M174.5 419.2h0M175.6 418.8h0M176.6 418.4h0M177.7 417.9h0M178.8 417.5h0M179.9 417.1h0M181 416.6h0M182.1 416.2h0M183.2 415.8h0M184.4 415.3h0M185.5 414.9h0M186.6 414.4h0M187.7 413.9h0M188.8 413.5h0M189.9 413h0M191.1 412.6h0M192.2 412.1h0M193.3 411.6h0M194.4 411.2h0M195.5 410.7h0M196.7 410.2h0M197.8 409.7h0M198.9 409.2h0M200 408.7h0M201.1 408.3h0M202.3 407.8h0M203.4 407.3h0M204.5 406.8h0M205.7 406.3h0M206.8 405.7h0M207.9 405.2h0M209.1 404.7h0M210.2 404.2h0M211.4 403.7h0M212.5 403.1h0M213.6 402.6h0M214.8 402.1h0M215.9 401.5h0M217.1 401h0M218.2 400.4h0M219.4 399.8h0M220.5 399.3h0M221.7 398.7h0M222.8 398.2h0M224 397.6h0M225.1 397h0M226.3 396.4h0M227.4 395.8h0M228.6 395.2h0M229.8 394.6h0M230.9 394h0M232.1 393.4h0M233.3 392.8h0M234.4 392.2h0M235.7 391.4h0M237 390.7h0M238.3 389.9h0M239.6 389.2h0M240.9 388.4h0M242.2 387.6h0M243.5 386.8h0M244.8 385.9h0M246.2 385h0M247.5 384.2h0M248.8 383.2h0M250.1 382.4h0M251.4 381.6h0M252.7 380.8h0M254.1 380h0M255.4 379.1h0M256.7 378.3h0M258 377.4h0M259.2 376.6h0M260.4 375.8h0M261.6 375h0M262.8 374.1h0M264 373.3h0M265.2 372.4h0M266.4 371.6h0M267.6 370.7h0M268.8 369.8h0M270 368.9h0M271.2 367.9h0M272.4 367h0M273.6 366h0M274.8 365h0M276 363.9h0M277.2 362.7h0M278.5 361.5h0M279.7 360.2h0M280.9 358.9h0M282.1 357.6h0M283.3 356.2h0M284.5 354.9h0M285.8 353.5h0M287 352.2h0M288.2 350.8h0M289.4 349.5h0M290.6 348.2h0M291.9 346.8h0M293.1 345.5h0M294.3 344h0M295.6 342.5h0M296.8 340.8h0M298.1 339h0M299.3 337h0M300.6 334.9h0M301.9 332.7h0M303.1 330.4h0M304.3 328.1h0M305.4 326h0M306.4 323.9h0M307.4 321.8h0M308.3 319.7h0M309.3 317.5h0M310.3 315.4h0M311.3 313.2h0M312.2 311h0M313.2 308.7h0M314.2 306.5h0M315.1 304.3h0M316.1 302.2h0M317 300h0M318 297.9h0M319 295.8h0M320 293.6h0M321.2 291.4h0M322.3 289.3h0M323.4 287.3h0M324.5 285.4h0M325.6 283.8h0M326.7 282.4h0M327.8 281h0M328.9 279.6h0M330 278.5h0M331.1 277.7h0M332.2 277.1h0M333.3 276.5h0M334.4 276h0M335.5 275.6h0M336.6 275.3h0M337.7 275h0M338.8 274.8h0M339.9 274.6h0M341 274.4h0M342.1 274.2h0M343.2 274.1h0M344.3 273.9h0M345.4 273.8h0M346.5 273.7h0M347.6 273.6h0M348.7 273.4h0M349.7 273.3h0M350.8 273.3h0M351.9 273.2h0M353 273.1h0M354.1 273h0M355.2 272.9h0M356.3 272.9h0M357.4 272.8h0M358.5 272.7h0M359.6 272.7h0M360.7 272.6h0M361.8 272.5h0M362.9 272.5h0M363.9 272.4h0M365 272.3h0M366.1 272.3h0M367.2 272.2h0M368.3 272.1h0M369.4 272.1h0M370.5 272h0M371.6 271.9h0M372.7 271.8h0M373.8 271.8h0M374.9 271.7h0M375.9 271.6h0M377 271.6h0M378.1 271.5h0M379.2 271.4h0M380.3 271.4h0M381.4 271.3h0M382.5 271.2h0M383.6 271.2h0M384.7 271.1h0M385.8 271.1h0M386.8 271h0M387.9 270.9h0M389 270.9h0M390.1 270.8h0M391.2 270.8h0M392.3 270.7h0M393.4 270.6h0M394.5 270.6h0M395.6 270.5h0M396.6 270.5h0M397.7 270.4h0M398.8 270.4h0M399.9 270.3h0M401 270.3h0M402.1 270.2h0M403.2 270.2h0M404.3 270.1h0M405.3 270.1h0M406.4 270h0M407.5 270h0M408.6 269.9h0M409.7 269.9h0M410.8 269.8h0M411.9 269.8h0M413 269.7h0M414.1 269.7h0M415.1 269.7h0M416.2 269.6h0M417.3 269.6h0M418.4 269.5h0M419.5 269.5h0M420.6 269.4h0M421.7 269.4h0M422.8 269.3h0M423.8 269.3h0M424.9 269.2h0M426 269.2h0M427.1 269.2h0M428.2 269.1h0M429.3 269.1h0M430.4 269h0M431.5 269h0M432.5 268.9h0M433.6 268.9h0M434.7 268.8h0M435.8 268.8h0M436.9 268.7h0M438 268.7h0M439.1 268.6h0M440.2 268.6h0M441.3 268.5h0M442.3 268.5h0M443.4 268.4h0M444.5 268.4h0M445.6 268.3h0M446.7 268.3h0M447.8 268.2h0M448.9 268.2h0M450 268.1h0M451 268.1h0M452.1 268.1h0M453.2 268h0M454.3 268h0M455.4 267.9h0M456.5 267.9h0M457.6 267.8h0M458.7 267.8h0M459.8 267.7h0M460.9 267.7h0M461.9 267.6h0M463 267.6h0M464.1 267.5h0M465.2 267.5h0M466.3 267.4h0M467.4 267.4h0M468.5 267.3h0M469.6 267.3h0"/>
<path stroke="#e80000" d="M157.7 425.7h0M158.7 425.3h0M159.8 424.9h0M160.9 424.5h0M162 424.1h0M163.1 423.7h0M164.2 423.3h0M165.3 422.9h0M166.3 422.5h0M167.4 422h0M168.5 421.6h0M169.6 421.2h0M170.7 420.8h0M171.8 420.4h0M172.9 419.9h0M174 419.5h0M175.1 419.1h0M176.2 418.6h0M177.3 418.2h0M178.4 417.8h0M179.5 417.3h0M180.6 416.9h0M181.7 416.5h0M182.8 416h0M183.9 415.6h0M185 415.1h0M186.1 414.7h0M187.3 414.2h0M188.4 413.7h0M189.5 413.3h0M190.6 412.8h0M191.7 412.4h0M192.9 411.9h0M194 411.4h0M195.1 410.9h0M196.2 410.5h0M197.3 410h0M198.5 409.5h0M199.6 409h0M200.7 408.5h0M201.9 408h0M203 407.5h0M204.1 407h0M205.3 406.5h0M206.4 406h0M207.5 405.5h0M208.7 405h0M209.8 404.5h0M211 403.9h0M212.1 403.4h0M213.2 402.9h0M214.4 402.3h0M215.5 401.8h0M216.7 401.2h0M217.8 400.7h0M219 400.1h0M220.1 399.6h0M221.3 399h0M222.4 398.4h0M223.6 397.9h0M224.7 397.3h0M225.9 396.7h0M227.1 396.1h0M228.2 395.5h0M229.4 394.9h0M230.5 394.3h0M231.8 393.6h0M233.1 393h0M234.4 392.2h0M235.7 391.5h0M237 390.8h0M238.3 390.1h0M239.6 389.3h0M240.9 388.5h0M242.2 387.7h0M243.5 386.9h0M244.8 386h0M246.1 385.2h0M247.4 384.3h0M248.7 383.4h0M250 382.5h0M251.3 381.7h0M252.6 380.9h0M254 380.1h0M255.2 379.3h0M256.3 378.6h0M257.5 377.8h0M258.7 377h0M259.9 376.2h0M261.1 375.4h0M262.3 374.6h0M263.5 373.7h0M264.7 372.9h0M265.9 372h0M267.1 371.1h0M268.3 370.2h0M269.5 369.3h0M270.7 368.4h0M271.9 367.5h0M273.1 366.5h0M274.3 365.5h0M275.5 364.5h0M276.7 363.3h0M277.9 362.1h0M279.1 360.8h0M280.4 359.5h0M281.6 358.2h0M282.8 356.9h0M284 355.5h0M285.2 354.2h0M286.4 352.8h0M287.6 351.5h0M288.9 350.1h0M290.1 348.8h0M291.3 347.5h0M292.6 346.1h0M293.8 344.7h0M295.1 343.1h0M296.3 341.5h0M297.6 339.7h0M298.8 337.8h0M300 335.8h0M301.1 334.1h0M302.1 332.3h0M303.1 330.5h0M304.1 328.6h0M305 326.7h0M306 324.7h0M307 322.6h0M308 320.5h0M308.9 318.4h0M309.9 316.2h0M310.9 314.1h0M311.9 311.8h0M312.8 309.6h0M313.8 307.4h0M314.7 305.2h0M315.8 302.8h0M316.9 300.3h0M318.1 297.8h0M319.2 295.4h0M320.3 293.2h0M321.4 291h0M322.5 288.9h0M323.6 286.9h0M324.7 285.1h0M325.8 283.5h0M326.9 282.2h0M328 280.7h0M329.1 279.4h0M330.2 278.4h0M331.3 277.6h0M332.4 277h0M333.5 276.4h0M334.6 276h0M335.7 275.6h0M336.8 275.3h0M337.8 275h0M338.9 274.8h0M340 274.5h0M341.1 274.4h0M342.2 274.2h0M343.3 274h0M344.4 273.9h0M345.5 273.8h0M346.6 273.7h0M347.7 273.5h0M348.8 273.4h0M349.9 273.3h0M351 273.3h0M352.1 273.2h0M353.2 273.1h0M354.2 273h0M355.3 272.9h0M356.4 272.9h0M357.5 272.8h0M358.6 272.7h0M359.7 272.6h0M360.8 272.6h0M361.9 272.5h0M363 272.4h0M364.1 272.4h0M365.2 272.3h0M366.2 272.2h0M367.3 272.2h0M368.4 272.1h0M369.5 272h0M370.6 272h0M371.7 271.9h0M372.8 271.8h0M373.9 271.8h0M375 271.7h0M376.1 271.6h0M377.1 271.6h0M378.2 271.5h0M379.3 271.4h0M380.4 271.4h0M381.5 271.3h0M382.6 271.2h0M383.7 271.2h0M384.8 271.1h0M385.9 271h0M386.9 271h0M388 270.9h0M389.1 270.9h0M390.2 270.8h0M391.3 270.8h0M392.4 270.7h0M393.5 270.6h0M394.6 270.6h0M395.7 270.5h0M396.7 270.5h0M397.8 270.4h0M398.9 270.4h0M400 270.3h0M401.1 270.3h0M402.2 270.2h0M403.3 270.2h0M404.4 270.1h0M405.4 270.1h0M406.5 270h0M407.6 270h0M408.7 269.9h0M409.8 269.9h0M410.9 269.8h0M412 269.8h0M413.1 269.7h0M414.1 269.7h0M415.2 269.7h0M416.3 269.6h0M417.4 269.6h0M418.5 269.5h0M419.6 269.5h0M420.7 269.4h0M421.8 269.4h0M422.8 269.3h0M423.9 269.3h0M425 269.2h0M426.1 269.2h0M427.2 269.2h0M428.3 269.1h0M429.4 269.1h0M430.5 269h0M431.5 269h0M432.6 268.9h0M433.7 268.9h0M434.8 268.8h0M435.9 268.8h0M437 268.7h0M438.1 268.7h0M439.2 268.6h0M440.3 268.6h0M441.3 268.5h0M442.4 268.5h0M443.5 268.4h0M444.6 268.4h0M445.7 268.3h0M446.8 268.3h0M447.9 268.2h0M449 268.2h0M450 268.1h0M451.1 268.1h0M452.2 268h0M453.3 268h0M454.4 267.9h0M455.5 267.9h0M456.6 267.8h0M457.7 267.8h0M458.8 267.8h0M459.9 267.7h0M460.9 267.7h0M462 267.6h0M463.1 267.6h0M464.2 267.5h0M465.3 267.5h0"/>
<path stroke="#e80000" d="M153.9 427.2h0M155 426.8h0M156.1 426.4h0M157.1 426h0M158.2 425.6h0M159.3 425.2h0M160.4 424.8h0M161.5 424.4h0M162.6 424h0M163.7 423.6h0M164.7 423.2h0M165.8 422.8h0M166.9 422.3h0M168 421.9h0M169.1 421.5h0M170.2 421.1h0M171.3 420.6h0M172.4 420.2h0M173.5 419.8h0M174.6 419.4h0M175.7 418.9h0M176.8 418.5h0M177.9 418.1h0M179 417.6h0M180.1 417.2h0M181.2 416.7h0M182.4 416.3h0M183.5 415.8h0M184.6 415.4h0M185.7 414.9h0M186.8 414.5h0M187.9 414h0M189.1 413.6h0M190.2 413.1h0M191.3 412.6h0M192.4 412.2h0M193.5 411.7h0M194.7 411.2h0M195.8 410.8h0M196.9 410.3h0M198 409.8h0M199.2 409.3h0M200.3 408.8h0M201.4 408.3h0M202.6 407.8h0M203.7 407.3h0M204.9 406.8h0M206 406.3h0M207.1 405.8h0M208.3 405.3h0M209.4 404.7h0M210.5 404.2h0M211.7 403.7h0M212.8 403.2h0M214 402.6h0M215.1 402.1h0M216.3 401.5h0M217.4 401h0M218.6 400.4h0M219.7 399.9h0M220.9 399.3h0M222 398.7h0M223.2 398.2h0M224.3 397.6h0M225.5 397h0M226.7 396.4h0M227.9 395.8h0M229.2 395.1h0M230.5 394.5h0M231.8 393.8h0M233.1 393.1h0M234.3 392.4h0M235.6 391.7h0M236.9 390.9h0M238.2 390.2h0M239.5 389.4h0M240.8 388.7h0M242.1 387.9h0M243.4 387h0M244.7 386.2h0M246 385.3h0M247.3 384.5h0M248.6 383.6h0M249.9 382.7h0M251.1 382h0M252.3 381.3h0M253.5 380.5h0M254.6 379.8h0M255.8 379h0M257 378.2h0M258.2 377.4h0M259.4 376.6h0M260.6 375.8h0M261.8 375h0M263 374.2h0M264.2 373.3h0M265.4 372.5h0M266.5 371.6h0M267.7 370.7h0M268.9 369.8h0M270.1 368.9h0M271.3 368h0M272.6 367h0M273.8 366h0M275 365.1h0M276.2 363.9h0M277.4 362.7h0M278.6 361.4h0M279.8 360.2h0M281 358.9h0M282.2 357.5h0M283.4 356.2h0M284.6 354.9h0M285.9 353.5h0M287.1 352.2h0M288.3 350.8h0M289.6 349.4h0M290.8 348.1h0M292.1 346.7h0M293.3 345.3h0M294.5 343.8h0M295.7 342.3h0M296.8 340.9h0M297.8 339.4h0M298.8 337.9h0M299.8 336.3h0M300.8 334.6h0M301.7 332.9h0M302.7 331.1h0M303.7 329.3h0M304.7 327.4h0M305.7 325.4h0M306.6 323.3h0M307.6 321.3h0M308.6 319.1h0M309.6 317h0M310.5 314.9h0M311.6 312.4h0M312.7 309.8h0M313.8 307.3h0M314.9 304.8h0M316 302.3h0M317.1 299.8h0M318.2 297.4h0M319.4 295h0M320.5 292.8h0M321.6 290.7h0M322.7 288.6h0M323.8 286.6h0M324.8 284.9h0M325.9 283.3h0M327 282h0M328.1 280.5h0M329.2 279.3h0M330.3 278.3h0M331.4 277.5h0M332.5 276.9h0M333.6 276.4h0M334.7 275.9h0M335.8 275.5h0M336.9 275.2h0M338 275h0M339.1 274.7h0M340.2 274.5h0M341.3 274.3h0M342.4 274.2h0M343.5 274h0M344.5 273.9h0M345.6 273.8h0M346.7 273.6h0M347.8 273.5h0M348.9 273.4h0M350 273.3h0M351.1 273.2h0M352.2 273.2h0M353.3 273.1h0M354.4 273h0M355.5 272.9h0M356.5 272.9h0M357.6 272.8h0M358.7 272.7h0M359.8 272.6h0M360.9 272.6h0M362 272.5h0M363.1 272.4h0M364.2 272.4h0M365.3 272.3h0M366.4 272.2h0M367.5 272.2h0M368.5 272.1h0M369.6 272h0M370.7 272h0M371.8 271.9h0M372.9 271.8h0M374 271.8h0M375.1 271.7h0M376.2 271.6h0M377.3 271.6h0M378.3 271.5h0M379.4 271.4h0M380.5 271.4h0M381.6 271.3h0M382.7 271.2h0M383.8 271.2h0M384.9 271.1h0M386 271h0M387 271h0M388.1 270.9h0M389.2 270.9h0M390.3 270.8h0M391.4 270.7h0M392.5 270.7h0M393.6 270.6h0M394.7 270.6h0M395.7 270.5h0M396.8 270.5h0M397.9 270.4h0M399 270.4h0M400.1 270.3h0M401.2 270.3h0M402.3 270.2h0M403.4 270.2h0M404.4 270.1h0M405.5 270.1h0M406.6 270h0M407.7 270h0M408.8 269.9h0M409.9 269.9h0M411 269.8h0M412.1 269.8h0M413.1 269.7h0M414.2 269.7h0M415.3 269.6h0M416.4 269.6h0M417.5 269.6h0M418.6 269.5h0M419.7 269.5h0M420.8 269.4h0M421.8 269.4h0M422.9 269.3h0M424 269.3h0M425.1 269.2h0M426.2 269.2h0M427.3 269.1h0M428.4 269.1h0M429.5 269.1h0M430.5 269h0M431.6 269h0M432.7 268.9h0M433.8 268.9h0M434.9 268.8h0M436 268.8h0M437.1 268.7h0M438.2 268.7h0M439.3 268.6h0M440.3 268.6h0M441.4 268.5h0M442.5 268.5h0M443.6 268.4h0M444.7 268.4h0M445.8 268.3h0M446.9 268.3h0M448 268.2h0M449 268.2h0M450.1 268.1h0M451.2 268.1h0M452.3 268h0M453.4 268h0M454.5 267.9h0M455.6 267.9h0M456.7 267.8h0M457.8 267.8h0M458.9 267.7h0M459.9 267.7h0M461 267.6h0"/>
<path stroke="#e80000" d="M150.1 428.6h0M151.2 428.2h0M152.3 427.8h0M153.4 427.4h0M154.4 427h0M155.5 426.7h0M156.6 426.3h0M157.7 425.9h0M158.8 425.5h0M159.9 425.1h0M161 424.7h0M162.1 424.3h0M163.1 423.9h0M164.2 423.4h0M165.3 423h0M166.4 422.6h0M167.5 422.2h0M168.6 421.8h0M169.7 421.3h0M170.8 420.9h0M171.9 420.5h0M173 420.1h0M174.1 419.6h0M175.2 419.2h0M176.3 418.8h0M177.5 418.3h0M178.6 417.9h0M179.7 417.4h0M180.8 417h0M181.9 416.6h0M183 416.1h0M184.1 415.7h0M185.3 415.2h0M186.4 414.8h0M187.5 414.3h0M188.6 413.8h0M189.7 413.4h0M190.9 412.9h0M192 412.5h0M193.1 412h0M194.2 411.5h0M195.4 411h0M196.5 410.6h0M197.6 410.1h0M198.8 409.6h0M199.9 409.1h0M201 408.6h0M202.2 408.1h0M203.3 407.6h0M204.4 407.1h0M205.6 406.6h0M206.7 406.1h0M207.8 405.6h0M209 405h0M210.1 404.5h0M211.3 404h0M212.4 403.5h0M213.6 402.9h0M214.7 402.4h0M215.9 401.8h0M217 401.3h0M218.2 400.7h0M219.3 400.2h0M220.5 399.6h0M221.6 399h0M222.8 398.5h0M224 397.8h0M225.3 397.2h0M226.6 396.6h0M227.9 395.9h0M229.1 395.3h0M230.4 394.6h0M231.7 393.9h0M233 393.2h0M234.2 392.5h0M235.5 391.8h0M236.8 391.1h0M238.1 390.4h0M239.4 389.6h0M240.7 388.8h0M242 388h0M243.2 387.2h0M244.5 386.4h0M245.8 385.5h0M247 384.7h0M248.2 383.9h0M249.4 383.1h0M250.6 382.4h0M251.7 381.7h0M252.9 381h0M254.1 380.2h0M255.3 379.4h0M256.5 378.7h0M257.7 377.9h0M258.8 377.1h0M260 376.3h0M261.2 375.5h0M262.4 374.7h0M263.6 373.8h0M264.8 373h0M266 372.1h0M267.2 371.2h0M268.4 370.3h0M269.6 369.4h0M270.8 368.5h0M272 367.5h0M273.2 366.6h0M274.4 365.6h0M275.6 364.5h0M276.8 363.3h0M278 362.1h0M279.2 360.8h0M280.4 359.6h0M281.6 358.2h0M282.8 356.9h0M284.1 355.6h0M285.3 354.2h0M286.5 352.8h0M287.8 351.4h0M289 350.1h0M290.3 348.7h0M291.5 347.4h0M292.5 346.3h0M293.5 345.1h0M294.5 343.9h0M295.5 342.7h0M296.5 341.3h0M297.5 339.9h0M298.5 338.4h0M299.5 336.9h0M300.4 335.2h0M301.4 333.5h0M302.4 331.8h0M303.4 330h0M304.4 328.1h0M305.3 326.1h0M306.3 324.1h0M307.4 321.8h0M308.5 319.4h0M309.6 316.9h0M310.7 314.5h0M311.8 311.9h0M312.9 309.4h0M314 306.8h0M315.1 304.4h0M316.2 301.9h0M317.3 299.4h0M318.4 297h0M319.5 294.7h0M320.6 292.5h0M321.7 290.4h0M322.8 288.3h0M323.9 286.4h0M325 284.6h0M326.1 283.1h0M327.2 281.8h0M328.3 280.4h0M329.4 279.1h0M330.5 278.2h0M331.6 277.5h0M332.7 276.8h0M333.7 276.3h0M334.8 275.9h0M335.9 275.5h0M337 275.2h0M338.1 274.9h0M339.2 274.7h0M340.3 274.5h0M341.4 274.3h0M342.5 274.2h0M343.6 274h0M344.7 273.9h0M345.8 273.8h0M346.9 273.6h0M347.9 273.5h0M349 273.4h0M350.1 273.3h0M351.2 273.2h0M352.3 273.1h0M353.4 273.1h0M354.5 273h0M355.6 272.9h0M356.7 272.8h0M357.8 272.8h0M358.8 272.7h0M359.9 272.6h0M361 272.6h0M362.1 272.5h0M363.2 272.4h0M364.3 272.4h0M365.4 272.3h0M366.5 272.2h0M367.6 272.2h0M368.6 272.1h0M369.7 272h0M370.8 272h0M371.9 271.9h0M373 271.8h0M374.1 271.7h0M375.2 271.7h0M376.3 271.6h0M377.4 271.5h0M378.4 271.5h0M379.5 271.4h0M380.6 271.3h0M381.7 271.3h0M382.8 271.2h0M383.9 271.2h0M385 271.1h0M386.1 271h0M387.1 271h0M388.2 270.9h0M389.3 270.9h0M390.4 270.8h0M391.5 270.7h0M392.6 270.7h0M393.7 270.6h0M394.8 270.6h0M395.8 270.5h0M396.9 270.5h0M398 270.4h0M399.1 270.4h0M400.2 270.3h0M401.3 270.3h0M402.4 270.2h0M403.5 270.2h0M404.5 270.1h0M405.6 270.1h0M406.7 270h0M407.8 270h0M408.9 269.9h0M410 269.9h0M411.1 269.8h0M412.2 269.8h0M413.2 269.7h0M414.3 269.7h0M415.4 269.6h0M416.5 269.6h0M417.6 269.6h0M418.7 269.5h0M419.8 269.5h0M420.8 269.4h0M421.9 269.4h0M423 269.3h0M424.1 269.3h0M425.2 269.2h0M426.3 269.2h0M427.4 269.1h0M428.5 269.1h0M429.5 269.1h0M430.6 269h0M431.7 269h0M432.8 268.9h0M433.9 268.9h0M435 268.8h0M436.1 268.8h0M437.2 268.7h0M438.3 268.7h0M439.3 268.6h0M440.4 268.6h0M441.5 268.5h0M442.6 268.5h0M443.7 268.4h0M444.8 268.4h0M445.9 268.3h0M447 268.3h0M448 268.2h0M449.1 268.2h0M450.2 268.1h0M451.3 268.1h0M452.4 268h0M453.5 268h0M454.6 267.9h0M455.7 267.9h0M456.8 267.8h0"/>
<path stroke="#ff0000" d="M146.3 429.9h0M147.4 429.6h0M148.5 429.2h0M149.6 428.8h0M150.7 428.5h0M151.8 428.1h0M152.8 427.7h0M153.9 427.3h0M155 426.9h0M156.1 426.5h0M157.2 426.1h0M158.3 425.7h0M159.4 425.3h0M160.5 424.9h0M161.5 424.5h0M162.6 424.1h0M163.7 423.7h0M164.8 423.3h0M165.9 422.9h0M167 422.5h0M168.1 422h0M169.2 421.6h0M170.3 421.2h0M171.4 420.8h0M172.6 420.3h0M173.7 419.9h0M174.8 419.5h0M175.9 419h0M177 418.6h0M178.1 418.1h0M179.2 417.7h0M180.4 417.3h0M181.5 416.8h0M182.6 416.4h0M183.7 415.9h0M184.8 415.5h0M185.9 415h0M187 414.6h0M188.2 414.1h0M189.3 413.7h0M190.4 413.2h0M191.5 412.7h0M192.7 412.3h0M193.8 411.8h0M194.9 411.3h0M196.1 410.8h0M197.2 410.3h0M198.3 409.9h0M199.5 409.4h0M200.6 408.9h0M201.7 408.4h0M202.9 407.9h0M204 407.4h0M205.1 406.9h0M206.3 406.4h0M207.4 405.8h0M208.6 405.3h0M209.7 404.8h0M210.8 404.3h0M212 403.7h0M213.1 403.2h0M214.3 402.7h0M215.4 402.1h0M216.6 401.6h0M217.7 401h0M218.9 400.5h0M220.1 399.9h0M221.4 399.2h0M222.7 398.6h0M223.9 398h0M225.2 397.3h0M226.5 396.7h0M227.7 396.1h0M229 395.4h0M230.3 394.8h0M231.5 394.1h0M232.8 393.4h0M234.1 392.7h0M235.4 392h0M236.6 391.3h0M237.9 390.6h0M239.2 389.8h0M240.5 389h0M241.8 388.3h0M242.9 387.5h0M244.1 386.8h0M245.3 386h0M246.5 385.2h0M247.6 384.4h0M248.8 383.6h0M250 382.8h0M251.2 382.1h0M252.4 381.4h0M253.5 380.7h0M254.7 379.9h0M255.9 379.1h0M257.1 378.4h0M258.3 377.6h0M259.5 376.8h0M260.7 376h0M261.8 375.1h0M263 374.3h0M264.2 373.4h0M265.4 372.6h0M266.6 371.7h0M267.8 370.8h0M269 369.9h0M270.2 369h0M271.4 368.1h0M272.6 367.1h0M273.8 366.1h0M275 365.2h0M276.2 364h0M277.4 362.8h0M278.6 361.5h0M279.8 360.2h0M281.1 358.9h0M282.3 357.6h0M283.5 356.2h0M284.8 354.9h0M286 353.5h0M287.2 352.2h0M288.2 351h0M289.2 349.9h0M290.2 348.8h0M291.2 347.7h0M292.2 346.6h0M293.2 345.5h0M294.2 344.3h0M295.2 343.1h0M296.2 341.8h0M297.2 340.4h0M298.2 339h0M299.1 337.4h0M300.1 335.8h0M301.1 334.1h0M302.1 332.4h0M303.2 330.4h0M304.3 328.3h0M305.4 326h0M306.5 323.7h0M307.6 321.3h0M308.7 318.9h0M309.8 316.5h0M310.9 314.1h0M312 311.5h0M313.1 309h0M314.2 306.5h0M315.3 304h0M316.4 301.5h0M317.5 299.1h0M318.6 296.7h0M319.7 294.4h0M320.8 292.2h0M321.9 290.1h0M323 288h0M324 286.1h0M325.1 284.4h0M326.2 283h0M327.3 281.6h0M328.4 280.2h0M329.5 279h0M330.6 278.1h0M331.7 277.4h0M332.8 276.8h0M333.9 276.2h0M335 275.8h0M336.1 275.5h0M337.2 275.2h0M338.2 274.9h0M339.3 274.7h0M340.4 274.5h0M341.5 274.3h0M342.6 274.1h0M343.7 274h0M344.8 273.9h0M345.9 273.7h0M347 273.6h0M348.1 273.5h0M349.1 273.4h0M350.2 273.3h0M351.3 273.2h0M352.4 273.1h0M353.5 273.1h0M354.6 273h0M355.7 272.9h0M356.8 272.8h0M357.9 272.8h0M359 272.7h0M360 272.6h0M361.1 272.6h0M362.2 272.5h0M363.3 272.4h0M364.4 272.4h0M365.5 272.3h0M366.6 272.2h0M367.7 272.2h0M368.7 272.1h0M369.8 272h0M370.9 272h0M372 271.9h0M373.1 271.8h0M374.2 271.7h0M375.3 271.7h0M376.4 271.6h0M377.5 271.5h0M378.5 271.5h0M379.6 271.4h0M380.7 271.3h0M381.8 271.3h0M382.9 271.2h0M384 271.2h0M385.1 271.1h0M386.2 271h0M387.2 271h0M388.3 270.9h0M389.4 270.9h0M390.5 270.8h0M391.6 270.7h0M392.7 270.7h0M393.8 270.6h0M394.8 270.6h0M395.9 270.5h0M397 270.5h0M398.1 270.4h0M399.2 270.4h0M400.3 270.3h0M401.4 270.3h0M402.5 270.2h0M403.5 270.2h0M404.6 270.1h0M405.7 270.1h0M406.8 270h0M407.9 270h0M409 269.9h0M410.1 269.9h0M411.2 269.8h0M412.2 269.8h0M413.3 269.7h0M414.4 269.7h0M415.5 269.6h0M416.6 269.6h0M417.7 269.5h0M418.8 269.5h0M419.8 269.5h0M420.9 269.4h0M422 269.4h0M423.1 269.3h0M424.2 269.3h0M425.3 269.2h0M426.4 269.2h0M427.5 269.1h0M428.5 269.1h0M429.6 269h0M430.7 269h0M431.8 269h0M432.9 268.9h0M434 268.9h0M435.1 268.8h0M436.2 268.8h0M437.2 268.7h0M438.3 268.7h0M439.4 268.6h0M440.5 268.6h0M441.6 268.5h0M442.7 268.5h0M443.8 268.4h0M444.9 268.4h0M446 268.3h0M447 268.3h0M448.1 268.2h0M449.2 268.2h0M450.3 268.1h0M451.4 268.1h0M452.5 268h0"/>
<path stroke="#ff0000" d="M142.6 431.3h0M143.6 430.9h0M144.7 430.6h0M145.8 430.2h0M146.9 429.8h0M148 429.5h0M149.1 429.1h0M150.2 428.7h0M151.2 428.3h0M152.3 428h0M153.4 427.6h0M154.5 427.2h0M155.6 426.8h0M156.7 426.4h0M157.8 426h0M158.9 425.6h0M159.9 425.2h0M161 424.8h0M162.1 424.4h0M163.2 424h0M164.3 423.6h0M165.5 423.2h0M166.6 422.7h0M167.7 422.3h0M168.8 421.9h0M169.9 421.5h0M171 421h0M172.1 420.6h0M173.2 420.2h0M174.3 419.7h0M175.4 419.3h0M176.6 418.9h0M177.7 418.4h0M178.8 418h0M179.9 417.5h0M181 417.1h0M182.1 416.7h0M183.2 416.2h0M184.4 415.8h0M185.5 415.3h0M186.6 414.9h0M187.7 414.4h0M188.9 413.9h0M190 413.5h0M191.1 413h0M192.2 412.5h0M193.4 412.1h0M194.5 411.6h0M195.6 411.1h0M196.8 410.6h0M197.9 410.2h0M199 409.7h0M200.2 409.2h0M201.3 408.7h0M202.4 408.2h0M203.6 407.7h0M204.7 407.2h0M205.8 406.7h0M207 406.2h0M208.1 405.6h0M209.3 405.1h0M210.4 404.6h0M211.6 404.1h0M212.7 403.5h0M213.8 403h0M215 402.5h0M216.2 401.9h0M217.5 401.3h0M218.7 400.6h0M220 400h0M221.3 399.4h0M222.5 398.8h0M223.8 398.2h0M225 397.5h0M226.3 396.9h0M227.6 396.3h0M228.8 395.6h0M230.1 395h0M231.3 394.3h0M232.6 393.6h0M233.9 392.9h0M235.2 392.2h0M236.4 391.5h0M237.7 390.8h0M238.9 390.1h0M240 389.4h0M241.2 388.7h0M242.4 388h0M243.6 387.2h0M244.7 386.5h0M245.9 385.7h0M247.1 384.9h0M248.3 384.1h0M249.4 383.3h0M250.6 382.6h0M251.8 381.9h0M253 381.1h0M254.1 380.4h0M255.3 379.6h0M256.5 378.8h0M257.7 378.1h0M258.9 377.3h0M260.1 376.5h0M261.2 375.6h0M262.4 374.8h0M263.6 374h0M264.8 373.1h0M266 372.2h0M267.2 371.4h0M268.4 370.5h0M269.6 369.6h0M270.8 368.6h0M272 367.7h0M273.2 366.7h0M274.4 365.8h0M275.6 364.7h0M276.8 363.5h0M278 362.2h0M279.3 360.9h0M280.5 359.6h0M281.7 358.3h0M282.9 357h0M283.9 355.8h0M285 354.7h0M286 353.6h0M287 352.5h0M288 351.3h0M289 350.2h0M289.9 349.2h0M290.9 348.1h0M291.9 347h0M292.9 345.9h0M293.9 344.7h0M294.9 343.5h0M295.9 342.2h0M296.9 340.9h0M297.9 339.4h0M299 337.8h0M300.1 335.9h0M301.2 334h0M302.3 332.1h0M303.4 330.1h0M304.5 327.9h0M305.6 325.7h0M306.7 323.4h0M307.8 321h0M308.9 318.6h0M310 316.2h0M311.1 313.7h0M312.2 311.2h0M313.3 308.6h0M314.3 306.1h0M315.4 303.7h0M316.5 301.2h0M317.6 298.8h0M318.7 296.4h0M319.8 294.1h0M320.9 291.9h0M322 289.8h0M323.1 287.8h0M324.2 285.9h0M325.3 284.2h0M326.4 282.8h0M327.5 281.4h0M328.5 280h0M329.6 278.9h0M330.7 278h0M331.8 277.3h0M332.9 276.7h0M334 276.2h0M335.1 275.8h0M336.2 275.4h0M337.3 275.1h0M338.4 274.9h0M339.5 274.7h0M340.5 274.5h0M341.6 274.3h0M342.7 274.1h0M343.8 274h0M344.9 273.9h0M346 273.7h0M347.1 273.6h0M348.2 273.5h0M349.3 273.4h0M350.3 273.3h0M351.4 273.2h0M352.5 273.1h0M353.6 273.1h0M354.7 273h0M355.8 272.9h0M356.9 272.8h0M358 272.8h0M359.1 272.7h0M360.1 272.6h0M361.2 272.6h0M362.3 272.5h0M363.4 272.4h0M364.5 272.4h0M365.6 272.3h0M366.7 272.2h0M367.8 272.2h0M368.8 272.1h0M369.9 272h0M371 271.9h0M372.1 271.9h0M373.2 271.8h0M374.3 271.7h0M375.4 271.7h0M376.5 271.6h0M377.5 271.5h0M378.6 271.5h0M379.7 271.4h0M380.8 271.3h0M381.9 271.3h0M383 271.2h0M384.1 271.1h0M385.2 271.1h0M386.2 271h0M387.3 271h0M388.4 270.9h0M389.5 270.8h0M390.6 270.8h0M391.7 270.7h0M392.8 270.7h0M393.8 270.6h0M394.9 270.6h0M396 270.5h0M397.1 270.5h0M398.2 270.4h0M399.3 270.4h0M400.4 270.3h0M401.5 270.3h0M402.5 270.2h0M403.6 270.2h0M404.7 270.1h0M405.8 270.1h0M406.9 270h0M408 270h0M409.1 269.9h0M410.2 269.9h0M411.2 269.8h0M412.3 269.8h0M413.4 269.7h0M414.5 269.7h0M415.6 269.6h0M416.7 269.6h0M417.8 269.5h0M418.8 269.5h0M419.9 269.5h0M421 269.4h0M422.1 269.4h0M423.2 269.3h0M424.3 269.3h0M425.4 269.2h0M426.5 269.2h0M427.5 269.1h0M428.6 269.1h0M429.7 269h0M430.8 269h0M431.9 269h0M433 268.9h0M434.1 268.9h0M435.2 268.8h0M436.2 268.8h0M437.3 268.7h0M438.4 268.7h0M439.5 268.6h0M440.6 268.6h0M441.7 268.5h0M442.8 268.5h0M443.9 268.4h0M445 268.4h0M446 268.3h0M447.1 268.3h0M448.2 268.2h0"/>
<path stroke="#ff0000" d="M138.8 432.7h0M139.9 432.3h0M141 432h0M142 431.6h0M143.1 431.3h0M144.2 430.9h0M145.3 430.5h0M146.4 430.2h0M147.5 429.8h0M148.6 429.4h0M149.6 429h0M150.7 428.7h0M151.8 428.3h0M152.9 427.9h0M154 427.5h0M155.1 427.1h0M156.2 426.8h0M157.3 426.4h0M158.4 426h0M159.5 425.6h0M160.6 425.1h0M161.7 424.7h0M162.8 424.3h0M163.9 423.9h0M165 423.5h0M166.1 423.1h0M167.2 422.6h0M168.3 422.2h0M169.4 421.8h0M170.5 421.4h0M171.6 420.9h0M172.8 420.5h0M173.9 420.1h0M175 419.6h0M176.1 419.2h0M177.2 418.8h0M178.3 418.3h0M179.4 417.9h0M180.6 417.5h0M181.7 417h0M182.8 416.6h0M183.9 416.1h0M185 415.7h0M186.2 415.2h0M187.3 414.8h0M188.4 414.3h0M189.5 413.8h0M190.7 413.4h0M191.8 412.9h0M192.9 412.4h0M194.1 412h0M195.2 411.5h0M196.3 411h0M197.4 410.5h0M198.6 410h0M199.7 409.5h0M200.8 409.1h0M202 408.6h0M203.1 408.1h0M204.3 407.5h0M205.4 407h0M206.5 406.5h0M207.7 406h0M208.8 405.5h0M210 405h0M211.1 404.5h0M212.3 403.9h0M213.6 403.3h0M214.8 402.7h0M216.1 402.1h0M217.3 401.5h0M218.6 400.9h0M219.8 400.3h0M221.1 399.7h0M222.3 399.1h0M223.6 398.5h0M224.8 397.8h0M226.1 397.2h0M227.3 396.6h0M228.6 395.9h0M229.9 395.3h0M231.1 394.6h0M232.4 393.9h0M233.6 393.3h0M234.8 392.6h0M236 392h0M237.1 391.3h0M238.3 390.6h0M239.5 389.9h0M240.6 389.2h0M241.8 388.5h0M243 387.8h0M244.1 387h0M245.3 386.3h0M246.5 385.5h0M247.7 384.7h0M248.8 383.9h0M250 383.1h0M251.2 382.4h0M252.4 381.7h0M253.5 381h0M254.7 380.2h0M255.9 379.4h0M257.1 378.6h0M258.3 377.8h0M259.4 377h0M260.6 376.2h0M261.8 375.4h0M263 374.6h0M264.2 373.7h0M265.4 372.9h0M266.6 372h0M267.7 371.1h0M268.9 370.2h0M270.1 369.3h0M271.3 368.3h0M272.5 367.4h0M273.8 366.4h0M275 365.4h0M276.2 364.2h0M277.4 363h0M278.6 361.7h0M279.6 360.6h0M280.7 359.5h0M281.7 358.4h0M282.7 357.3h0M283.7 356.2h0M284.7 355.1h0M285.7 354h0M286.7 352.8h0M287.7 351.7h0M288.7 350.6h0M289.7 349.5h0M290.7 348.5h0M291.7 347.4h0M292.7 346.2h0M293.7 345.1h0M294.7 343.8h0M295.8 342.4h0M296.9 340.9h0M298 339.2h0M299.1 337.5h0M300.2 335.7h0M301.3 333.8h0M302.4 331.8h0M303.5 329.8h0M304.6 327.6h0M305.7 325.4h0M306.8 323.1h0M307.9 320.7h0M309 318.3h0M310.1 315.9h0M311.2 313.4h0M312.3 310.9h0M313.4 308.3h0M314.5 305.8h0M315.6 303.4h0M316.7 300.9h0M317.8 298.5h0M318.9 296.1h0M319.9 293.8h0M321 291.7h0M322.1 289.6h0M323.2 287.6h0M324.3 285.7h0M325.4 284.1h0M326.5 282.7h0M327.6 281.3h0M328.7 279.9h0M329.8 278.8h0M330.9 277.9h0M331.9 277.2h0M333 276.6h0M334.1 276.1h0M335.2 275.7h0M336.3 275.4h0M337.4 275.1h0M338.5 274.9h0M339.6 274.6h0M340.7 274.4h0M341.7 274.3h0M342.8 274.1h0M343.9 274h0M345 273.8h0M346.1 273.7h0M347.2 273.6h0M348.3 273.5h0M349.4 273.4h0M350.5 273.3h0M351.5 273.2h0M352.6 273.1h0M353.7 273h0M354.8 273h0M355.9 272.9h0M357 272.8h0M358.1 272.8h0M359.2 272.7h0M360.2 272.6h0M361.3 272.5h0M362.4 272.5h0M363.5 272.4h0M364.6 272.3h0M365.7 272.3h0M366.8 272.2h0M367.9 272.1h0M368.9 272.1h0M370 272h0M371.1 271.9h0M372.2 271.9h0M373.3 271.8h0M374.4 271.7h0M375.5 271.7h0M376.6 271.6h0M377.6 271.5h0M378.7 271.5h0M379.8 271.4h0M380.9 271.3h0M382 271.3h0M383.1 271.2h0M384.2 271.1h0M385.2 271.1h0M386.3 271h0M387.4 271h0M388.5 270.9h0M389.6 270.8h0M390.7 270.8h0M391.8 270.7h0M392.9 270.7h0M393.9 270.6h0M395 270.6h0M396.1 270.5h0M397.2 270.5h0M398.3 270.4h0M399.4 270.4h0M400.5 270.3h0M401.5 270.3h0M402.6 270.2h0M403.7 270.2h0M404.8 270.1h0M405.9 270.1h0M407 270h0M408.1 270h0M409.1 269.9h0M410.2 269.9h0M411.3 269.8h0M412.4 269.8h0M413.5 269.7h0M414.6 269.7h0M415.7 269.6h0M416.8 269.6h0M417.8 269.5h0M418.9 269.5h0M420 269.5h0M421.1 269.4h0M422.2 269.4h0M423.3 269.3h0M424.4 269.3h0M425.5 269.2h0M426.5 269.2h0M427.6 269.1h0M428.7 269.1h0M429.8 269h0M430.9 269h0M432 268.9h0M433.1 268.9h0M434.2 268.9h0M435.2 268.8h0M436.3 268.8h0M437.4 268.7h0M438.5 268.7h0M439.6 268.6h0M440.7 268.6h0M441.8 268.5h0M442.9 268.5h0M443.9 268.4h0"/>
<path stroke="#ff2800" d="M135 434.2h0M136.1 433.8h0M137.2 433.5h0M138.3 433.1h0M139.4 432.8h0M140.4 432.4h0M141.5 432.1h0M142.6 431.7h0M143.7 431.4h0M144.8 431h0M145.9 430.6h0M147 430.3h0M148 429.9h0M149.1 429.5h0M150.2 429.1h0M151.3 428.8h0M152.4 428.4h0M153.5 428h0M154.6 427.6h0M155.7 427.2h0M156.8 426.8h0M157.9 426.4h0M159 426h0M160.1 425.6h0M161.2 425.2h0M162.3 424.8h0M163.4 424.4h0M164.5 424h0M165.6 423.6h0M166.7 423.1h0M167.9 422.7h0M169 422.3h0M170.1 421.9h0M171.2 421.4h0M172.3 421h0M173.4 420.6h0M174.5 420.2h0M175.6 419.7h0M176.7 419.3h0M177.9 418.9h0M179 418.4h0M180.1 418h0M181.2 417.5h0M182.3 417.1h0M183.5 416.6h0M184.6 416.2h0M185.7 415.7h0M186.8 415.3h0M188 414.8h0M189.1 414.4h0M190.2 413.9h0M191.3 413.5h0M192.5 413h0M193.6 412.5h0M194.7 412.1h0M195.9 411.6h0M197 411.1h0M198.1 410.6h0M199.3 410.1h0M200.4 409.6h0M201.5 409.1h0M202.7 408.6h0M203.8 408.1h0M204.9 407.6h0M206.1 407.1h0M207.2 406.6h0M208.4 406h0M209.7 405.5h0M210.9 404.9h0M212.2 404.3h0M213.4 403.8h0M214.6 403.2h0M215.9 402.6h0M217.1 402h0M218.3 401.4h0M219.6 400.8h0M220.8 400.2h0M222.1 399.6h0M223.3 398.9h0M224.6 398.3h0M225.8 397.7h0M227.1 397.1h0M228.3 396.4h0M229.6 395.8h0M230.7 395.2h0M231.9 394.6h0M233.1 393.9h0M234.2 393.3h0M235.4 392.7h0M236.5 392h0M237.7 391.3h0M238.9 390.7h0M240 390h0M241.2 389.3h0M242.4 388.5h0M243.5 387.8h0M244.7 387h0M245.9 386.3h0M247 385.5h0M248.2 384.7h0M249.4 383.9h0M250.6 383.2h0M251.7 382.5h0M252.9 381.7h0M254.1 381h0M255.3 380.2h0M256.4 379.4h0M257.6 378.6h0M258.8 377.8h0M260 377h0M261.2 376.2h0M262.3 375.4h0M263.5 374.5h0M264.7 373.7h0M265.9 372.8h0M267.1 371.9h0M268.3 371h0M269.5 370h0M270.7 369.1h0M271.9 368.1h0M273.1 367.2h0M274.3 366.2h0M275.4 365.3h0M276.4 364.3h0M277.4 363.2h0M278.4 362.2h0M279.4 361.1h0M280.4 360h0M281.4 358.9h0M282.4 357.8h0M283.4 356.7h0M284.4 355.6h0M285.4 354.4h0M286.4 353.3h0M287.4 352.2h0M288.4 351.1h0M289.4 350h0M290.5 348.8h0M291.6 347.6h0M292.7 346.3h0M293.8 345.1h0M294.9 343.7h0M296 342.3h0M297.1 340.8h0M298.2 339.1h0M299.3 337.4h0M300.4 335.5h0M301.5 333.6h0M302.6 331.6h0M303.7 329.6h0M304.8 327.4h0M305.9 325.2h0M307 322.8h0M308.1 320.5h0M309.2 318.1h0M310.2 315.7h0M311.3 313.2h0M312.4 310.6h0M313.5 308.1h0M314.6 305.6h0M315.7 303.1h0M316.8 300.7h0M317.9 298.2h0M319 295.9h0M320.1 293.6h0M321.2 291.5h0M322.2 289.4h0M323.3 287.4h0M324.4 285.5h0M325.5 283.9h0M326.6 282.5h0M327.7 281.1h0M328.8 279.8h0M329.9 278.7h0M331 277.8h0M332.1 277.2h0M333.1 276.6h0M334.2 276.1h0M335.3 275.7h0M336.4 275.4h0M337.5 275.1h0M338.6 274.8h0M339.7 274.6h0M340.8 274.4h0M341.9 274.3h0M342.9 274.1h0M344 274h0M345.1 273.8h0M346.2 273.7h0M347.3 273.6h0M348.4 273.5h0M349.5 273.4h0M350.6 273.3h0M351.6 273.2h0M352.7 273.1h0M353.8 273h0M354.9 273h0M356 272.9h0M357.1 272.8h0M358.2 272.7h0M359.3 272.7h0M360.3 272.6h0M361.4 272.5h0M362.5 272.5h0M363.6 272.4h0M364.7 272.3h0M365.8 272.3h0M366.9 272.2h0M367.9 272.1h0M369 272.1h0M370.1 272h0M371.2 271.9h0M372.3 271.9h0M373.4 271.8h0M374.5 271.7h0M375.6 271.7h0M376.6 271.6h0M377.7 271.5h0M378.8 271.5h0M379.9 271.4h0M381 271.3h0M382.1 271.3h0M383.2 271.2h0M384.2 271.1h0M385.3 271.1h0M386.4 271h0M387.5 271h0M388.6 270.9h0M389.7 270.8h0M390.8 270.8h0M391.9 270.7h0M392.9 270.7h0M394 270.6h0M395.1 270.6h0M396.2 270.5h0M397.3 270.5h0M398.4 270.4h0M399.5 270.3h0M400.5 270.3h0M401.6 270.2h0M402.7 270.2h0M403.8 270.1h0M404.9 270.1h0M406 270.1h0M407.1 270h0M408.1 270h0M409.2 269.9h0M410.3 269.9h0M411.4 269.8h0M412.5 269.8h0M413.6 269.7h0M414.7 269.7h0M415.8 269.6h0M416.8 269.6h0M417.9 269.5h0M419 269.5h0M420.1 269.4h0M421.2 269.4h0M422.3 269.4h0M423.4 269.3h0M424.4 269.3h0M425.5 269.2h0M426.6 269.2h0M427.7 269.1h0M428.8 269.1h0M429.9 269h0M431 269h0M432.1 268.9h0M433.1 268.9h0M434.2 268.9h0M435.3 268.8h0M436.4 268.8h0M437.5 268.7h0M438.6 268.7h0M439.7 268.6h0"/>
<path stroke="#ff8c00" d="M131.2 436.2h0M132.3 435.8h0M133.4 435.5h0M134.5 435.2h0M135.6 434.8h0M136.7 434.5h0M137.8 434.2h0M138.8 433.8h0M139.9 433.5h0M141 433.1h0M142.1 432.8h0M143.2 432.4h0M144.3 432.1h0M145.4 431.7h0M146.4 431.3h0M147.5 431h0M148.6 430.6h0M149.7 430.2h0M150.8 429.9h0M151.9 429.5h0M153 429.1h0M154.1 428.7h0M155.2 428.4h0M156.3 428h0M157.4 427.6h0M158.5 427.2h0M159.6 426.8h0M160.7 426.4h0M161.8 426h0M163 425.6h0M164.1 425.2h0M165.2 424.7h0M166.3 424.3h0M167.4 423.9h0M168.5 423.5h0M169.6 423.1h0M170.7 422.7h0M171.8 422.2h0M172.9 421.8h0M174.1 421.4h0M175.2 421h0M176.3 420.5h0M177.4 420.1h0M178.5 419.7h0M179.6 419.2h0M180.8 418.8h0M181.9 418.4h0M183 417.9h0M184.1 417.5h0M185.3 417h0M186.4 416.6h0M187.5 416.1h0M188.6 415.7h0M189.8 415.2h0M190.9 414.8h0M192 414.3h0M193.1 413.9h0M194.3 413.4h0M195.4 412.9h0M196.5 412.4h0M197.7 412h0M198.8 411.5h0M199.9 411h0M201.1 410.5h0M202.2 410h0M203.3 409.5h0M204.6 408.9h0M205.8 408.4h0M207 407.8h0M208.2 407.3h0M209.5 406.7h0M210.7 406.2h0M211.9 405.6h0M213.1 405h0M214.4 404.5h0M215.6 403.9h0M216.8 403.3h0M218.1 402.7h0M219.3 402.1h0M220.5 401.5h0M221.8 400.9h0M223 400.2h0M224.3 399.6h0M225.5 399h0M226.7 398.4h0M227.8 397.8h0M229 397.2h0M230.1 396.6h0M231.3 396h0M232.4 395.4h0M233.6 394.8h0M234.8 394.2h0M235.9 393.5h0M237.1 392.9h0M238.2 392.2h0M239.4 391.5h0M240.6 390.8h0M241.7 390.1h0M242.9 389.4h0M244.1 388.6h0M245.2 387.9h0M246.4 387.1h0M247.6 386.3h0M248.7 385.5h0M249.9 384.7h0M251.1 384h0M252.3 383.3h0M253.4 382.6h0M254.6 381.8h0M255.8 381h0M256.9 380.2h0M258.1 379.4h0M259.3 378.5h0M260.5 377.7h0M261.7 376.9h0M262.8 376h0M264 375.1h0M265.2 374.2h0M266.5 373.3h0M267.6 372.4h0M268.8 371.5h0M270 370.5h0M271.1 369.7h0M272.1 368.8h0M273.1 368h0M274.1 367.1h0M275.1 366.3h0M276.2 365.3h0M277.2 364.2h0M278.2 363.2h0M279.2 362.1h0M280.2 361h0M281.2 359.9h0M282.2 358.7h0M283.2 357.6h0M284.2 356.5h0M285.2 355.3h0M286.3 354.1h0M287.4 352.8h0M288.5 351.6h0M289.6 350.4h0M290.7 349.1h0M291.8 347.9h0M292.9 346.6h0M294 345.3h0M295.1 344h0M296.2 342.5h0M297.3 340.9h0M298.4 339.3h0M299.5 337.5h0M300.6 335.6h0M301.6 333.7h0M302.7 331.7h0M303.8 329.6h0M304.9 327.5h0M306 325.2h0M307.1 322.8h0M308.2 320.4h0M309.3 318h0M310.4 315.6h0M311.5 313.1h0M312.6 310.5h0M313.6 308h0M314.7 305.5h0M315.8 303h0M316.9 300.5h0M318 298h0M319.1 295.7h0M320.2 293.4h0M321.3 291.3h0M322.4 289.1h0M323.5 287.1h0M324.5 285.3h0M325.6 283.7h0M326.7 282.4h0M327.8 281h0M328.9 279.6h0M330 278.6h0M331.1 277.8h0M332.2 277.1h0M333.3 276.5h0M334.3 276h0M335.4 275.6h0M336.5 275.3h0M337.6 275.1h0M338.7 274.8h0M339.8 274.6h0M340.9 274.4h0M342 274.2h0M343 274.1h0M344.1 273.9h0M345.2 273.8h0M346.3 273.7h0M347.4 273.6h0M348.5 273.5h0M349.6 273.4h0M350.7 273.3h0M351.7 273.2h0M352.8 273.1h0M353.9 273h0M355 273h0M356.1 272.9h0M357.2 272.8h0M358.3 272.7h0M359.3 272.7h0M360.4 272.6h0M361.5 272.5h0M362.6 272.5h0M363.7 272.4h0M364.8 272.3h0M365.9 272.3h0M367 272.2h0M368 272.1h0M369.1 272.1h0M370.2 272h0M371.3 271.9h0M372.4 271.9h0M373.5 271.8h0M374.6 271.7h0M375.6 271.7h0M376.7 271.6h0M377.8 271.5h0M378.9 271.5h0M380 271.4h0M381.1 271.3h0M382.2 271.3h0M383.2 271.2h0M384.3 271.1h0M385.4 271.1h0M386.5 271h0M387.6 270.9h0M388.7 270.9h0M389.8 270.8h0M390.8 270.8h0M391.9 270.7h0M393 270.7h0M394.1 270.6h0M395.2 270.6h0M396.3 270.5h0M397.4 270.4h0M398.5 270.4h0M399.5 270.3h0M400.6 270.3h0M401.7 270.2h0M402.8 270.2h0M403.9 270.1h0M405 270.1h0M406.1 270h0M407.1 270h0M408.2 270h0M409.3 269.9h0M410.4 269.9h0M411.5 269.8h0M412.6 269.8h0M413.7 269.7h0M414.7 269.7h0M415.8 269.6h0M416.9 269.6h0M418 269.5h0M419.1 269.5h0M420.2 269.4h0M421.3 269.4h0M422.4 269.4h0M423.4 269.3h0M424.5 269.3h0M425.6 269.2h0M426.7 269.2h0M427.8 269.1h0M428.9 269.1h0M430 269h0M431.1 269h0M432.1 268.9h0M433.2 268.9h0M434.3 268.8h0M435.4 268.8h0"/>
<path stroke="#ffb000" d="M127.5 437.8h0M128.6 437.5h0M129.6 437.1h0M130.7 436.8h0M131.8 436.5h0M132.9 436.2h0M134 435.8h0M135.1 435.5h0M136.2 435.2h0M137.2 434.8h0M138.3 434.5h0M139.4 434.2h0M140.5 433.8h0M141.6 433.5h0M142.7 433.1h0M143.8 432.8h0M144.8 432.4h0M145.9 432h0M147 431.7h0M148.1 431.3h0M149.2 431h0M150.3 430.6h0M151.4 430.2h0M152.5 429.8h0M153.6 429.5h0M154.7 429.1h0M155.8 428.7h0M156.9 428.3h0M158.1 427.9h0M159.2 427.5h0M160.3 427.1h0M161.4 426.7h0M162.5 426.3h0M163.6 425.9h0M164.7 425.5h0M165.8 425.1h0M166.9 424.7h0M168 424.3h0M169.1 423.9h0M170.2 423.4h0M171.4 423h0M172.5 422.6h0M173.6 422.2h0M174.7 421.7h0M175.8 421.3h0M176.9 420.9h0M178.1 420.5h0M179.2 420h0M180.3 419.6h0M181.4 419.2h0M182.5 418.7h0M183.7 418.3h0M184.8 417.9h0M185.9 417.4h0M187 417h0M188.2 416.5h0M189.3 416.1h0M190.4 415.6h0M191.5 415.2h0M192.7 414.7h0M193.8 414.2h0M194.9 413.8h0M196.1 413.3h0M197.2 412.8h0M198.3 412.4h0M199.5 411.9h0M200.7 411.3h0M201.9 410.8h0M203.1 410.3h0M204.3 409.7h0M205.5 409.2h0M206.7 408.6h0M208 408.1h0M209.2 407.5h0M210.4 407h0M211.6 406.4h0M212.8 405.8h0M214.1 405.3h0M215.3 404.7h0M216.5 404.1h0M217.8 403.5h0M219 402.9h0M220.2 402.3h0M221.4 401.7h0M222.6 401.1h0M223.7 400.6h0M224.9 400h0M226 399.4h0M227.2 398.8h0M228.4 398.2h0M229.5 397.6h0M230.7 397h0M231.8 396.4h0M233 395.8h0M234.1 395.2h0M235.3 394.5h0M236.4 393.9h0M237.6 393.2h0M238.8 392.6h0M239.9 391.9h0M241.1 391.2h0M242.2 390.5h0M243.4 389.7h0M244.6 389h0M245.7 388.2h0M246.9 387.4h0M248.1 386.6h0M249.2 385.8h0M250.4 385.1h0M251.6 384.4h0M252.7 383.7h0M253.9 382.9h0M255.1 382.1h0M256.2 381.3h0M257.4 380.5h0M258.6 379.7h0M259.8 378.8h0M261 377.9h0M262.2 377.1h0M263.4 376.2h0M264.6 375.3h0M265.7 374.4h0M266.8 373.6h0M267.8 372.8h0M268.8 372h0M269.9 371.2h0M270.9 370.3h0M271.9 369.5h0M272.9 368.6h0M273.9 367.8h0M274.9 366.9h0M275.9 365.9h0M277 364.9h0M278 363.8h0M279 362.7h0M280 361.6h0M281 360.5h0M282.1 359.3h0M283.2 358h0M284.3 356.8h0M285.4 355.5h0M286.5 354.2h0M287.6 353h0M288.7 351.7h0M289.8 350.5h0M290.9 349.3h0M292 348h0M293 346.8h0M294.1 345.4h0M295.2 344h0M296.3 342.6h0M297.4 341h0M298.5 339.3h0M299.6 337.5h0M300.7 335.6h0M301.8 333.7h0M302.9 331.7h0M304 329.6h0M305 327.4h0M306.1 325.1h0M307.2 322.7h0M308.3 320.3h0M309.4 317.9h0M310.5 315.4h0M311.6 312.9h0M312.7 310.3h0M313.8 307.8h0M314.9 305.3h0M315.9 302.8h0M317 300.3h0M318.1 297.8h0M319.2 295.5h0M320.3 293.2h0M321.4 291h0M322.5 288.9h0M323.6 287h0M324.7 285.2h0M325.7 283.6h0M326.8 282.2h0M327.9 280.8h0M329 279.5h0M330.1 278.5h0M331.2 277.7h0M332.3 277h0M333.4 276.5h0M334.4 276h0M335.5 275.6h0M336.6 275.3h0M337.7 275h0M338.8 274.8h0M339.9 274.6h0M341 274.4h0M342.1 274.2h0M343.1 274.1h0M344.2 273.9h0M345.3 273.8h0M346.4 273.7h0M347.5 273.6h0M348.6 273.5h0M349.7 273.4h0M350.7 273.3h0M351.8 273.2h0M352.9 273.1h0M354 273h0M355.1 272.9h0M356.2 272.9h0M357.3 272.8h0M358.4 272.7h0M359.4 272.7h0M360.5 272.6h0M361.6 272.5h0M362.7 272.5h0M363.8 272.4h0M364.9 272.3h0M366 272.3h0M367 272.2h0M368.1 272.1h0M369.2 272.1h0M370.3 272h0M371.4 271.9h0M372.5 271.9h0M373.6 271.8h0M374.6 271.7h0M375.7 271.6h0M376.8 271.6h0M377.9 271.5h0M379 271.4h0M380.1 271.4h0M381.2 271.3h0M382.2 271.3h0M383.3 271.2h0M384.4 271.1h0M385.5 271.1h0M386.6 271h0M387.7 270.9h0M388.8 270.9h0M389.8 270.8h0M390.9 270.8h0M392 270.7h0M393.1 270.7h0M394.2 270.6h0M395.3 270.6h0M396.4 270.5h0M397.4 270.4h0M398.5 270.4h0M399.6 270.3h0M400.7 270.3h0M401.8 270.2h0M402.9 270.2h0M404 270.1h0M405 270.1h0M406.1 270h0M407.2 270h0M408.3 269.9h0M409.4 269.9h0M410.5 269.9h0M411.6 269.8h0M412.7 269.8h0M413.7 269.7h0M414.8 269.7h0M415.9 269.6h0M417 269.6h0M418.1 269.5h0M419.2 269.5h0M420.3 269.4h0M421.3 269.4h0M422.4 269.3h0M423.5 269.3h0M424.6 269.3h0M425.7 269.2h0M426.8 269.2h0M427.9 269.1h0M429 269.1h0M430 269h0M431.1 269h0"/>
<path stroke="#ffd000" d="M123.7 439.3h0M124.8 439h0M125.9 438.7h0M127 438.4h0M128 438.1h0M129.1 437.7h0M130.2 437.4h0M131.3 437.1h0M132.4 436.8h0M133.5 436.5h0M134.5 436.1h0M135.6 435.8h0M136.7 435.5h0M137.8 435.1h0M138.9 434.8h0M140 434.5h0M141.1 434.1h0M142.2 433.8h0M143.3 433.4h0M144.4 433.1h0M145.4 432.7h0M146.5 432.4h0M147.6 432h0M148.7 431.6h0M149.8 431.3h0M151 430.9h0M152.1 430.5h0M153.2 430.1h0M154.3 429.8h0M155.4 429.4h0M156.5 429h0M157.6 428.6h0M158.7 428.2h0M159.8 427.8h0M160.9 427.4h0M162 427h0M163.1 426.6h0M164.2 426.2h0M165.3 425.8h0M166.4 425.4h0M167.5 425h0M168.7 424.6h0M169.8 424.2h0M170.9 423.8h0M172 423.3h0M173.1 422.9h0M174.2 422.5h0M175.3 422.1h0M176.5 421.7h0M177.6 421.2h0M178.7 420.8h0M179.8 420.4h0M180.9 419.9h0M182.1 419.5h0M183.2 419.1h0M184.3 418.6h0M185.4 418.2h0M186.5 417.8h0M187.7 417.3h0M188.8 416.9h0M189.9 416.4h0M191 416h0M192.2 415.5h0M193.3 415.1h0M194.4 414.6h0M195.6 414.1h0M196.8 413.7h0M198 413.1h0M199.2 412.6h0M200.4 412.1h0M201.6 411.6h0M202.8 411h0M204 410.5h0M205.2 410h0M206.4 409.4h0M207.6 408.9h0M208.9 408.3h0M210.1 407.8h0M211.3 407.2h0M212.5 406.6h0M213.7 406.1h0M214.9 405.5h0M216.2 404.9h0M217.4 404.3h0M218.5 403.8h0M219.7 403.2h0M220.8 402.6h0M222 402.1h0M223.1 401.5h0M224.3 400.9h0M225.4 400.4h0M226.6 399.8h0M227.7 399.2h0M228.9 398.6h0M230 398h0M231.2 397.4h0M232.3 396.8h0M233.5 396.2h0M234.6 395.6h0M235.8 394.9h0M236.9 394.3h0M238.1 393.6h0M239.2 392.9h0M240.4 392.2h0M241.6 391.5h0M242.7 390.8h0M243.9 390h0M245 389.3h0M246.2 388.5h0M247.4 387.7h0M248.5 386.9h0M249.7 386.2h0M250.8 385.5h0M252 384.7h0M253.2 384h0M254.4 383.2h0M255.5 382.4h0M256.7 381.6h0M257.9 380.7h0M259.1 379.9h0M260.3 379h0M261.4 378.2h0M262.5 377.4h0M263.5 376.6h0M264.6 375.8h0M265.6 375.1h0M266.6 374.3h0M267.6 373.4h0M268.6 372.6h0M269.7 371.8h0M270.7 371h0M271.7 370.1h0M272.7 369.3h0M273.7 368.4h0M274.7 367.5h0M275.8 366.6h0M276.8 365.5h0M277.9 364.3h0M279 363.2h0M280.1 361.9h0M281.1 360.7h0M282.2 359.5h0M283.3 358.2h0M284.4 356.9h0M285.5 355.7h0M286.6 354.4h0M287.7 353.1h0M288.8 351.9h0M289.9 350.6h0M291 349.4h0M292.1 348.1h0M293.2 346.9h0M294.3 345.5h0M295.4 344.1h0M296.5 342.6h0M297.5 341h0M298.6 339.3h0M299.7 337.5h0M300.8 335.6h0M301.9 333.6h0M303 331.6h0M304.1 329.5h0M305.2 327.3h0M306.3 325h0M307.3 322.6h0M308.4 320.2h0M309.5 317.7h0M310.6 315.3h0M311.7 312.7h0M312.8 310.1h0M313.9 307.6h0M315 305.1h0M316.1 302.6h0M317.1 300.1h0M318.2 297.6h0M319.3 295.3h0M320.4 293h0M321.5 290.8h0M322.6 288.7h0M323.7 286.8h0M324.8 285h0M325.8 283.5h0M326.9 282.1h0M328 280.7h0M329.1 279.4h0M330.2 278.4h0M331.3 277.6h0M332.4 277h0M333.5 276.4h0M334.5 276h0M335.6 275.6h0M336.7 275.3h0M337.8 275h0M338.9 274.8h0M340 274.6h0M341.1 274.4h0M342.2 274.2h0M343.2 274.1h0M344.3 273.9h0M345.4 273.8h0M346.5 273.7h0M347.6 273.6h0M348.7 273.4h0M349.8 273.3h0M350.8 273.3h0M351.9 273.2h0M353 273.1h0M354.1 273h0M355.2 272.9h0M356.3 272.9h0M357.4 272.8h0M358.4 272.7h0M359.5 272.7h0M360.6 272.6h0M361.7 272.5h0M362.8 272.5h0M363.9 272.4h0M365 272.3h0M366 272.3h0M367.1 272.2h0M368.2 272.1h0M369.3 272.1h0M370.4 272h0M371.5 271.9h0M372.6 271.8h0M373.6 271.8h0M374.7 271.7h0M375.8 271.6h0M376.9 271.6h0M378 271.5h0M379.1 271.4h0M380.2 271.4h0M381.2 271.3h0M382.3 271.2h0M383.4 271.2h0M384.5 271.1h0M385.6 271.1h0M386.7 271h0M387.8 270.9h0M388.8 270.9h0M389.9 270.8h0M391 270.8h0M392.1 270.7h0M393.2 270.7h0M394.3 270.6h0M395.4 270.5h0M396.4 270.5h0M397.5 270.4h0M398.6 270.4h0M399.7 270.3h0M400.8 270.3h0M401.9 270.2h0M403 270.2h0M404 270.1h0M405.1 270.1h0M406.2 270h0M407.3 270h0M408.4 269.9h0M409.5 269.9h0M410.6 269.9h0M411.6 269.8h0M412.7 269.8h0M413.8 269.7h0M414.9 269.7h0M416 269.6h0M417.1 269.6h0M418.2 269.5h0M419.3 269.5h0M420.3 269.4h0M421.4 269.4h0M422.5 269.3h0M423.6 269.3h0M424.7 269.3h0M425.8 269.2h0M426.9 269.2h0"/>
<path stroke="#ffff00" d="M119.9 441h0M121 440.8h0M122.1 440.5h0M123.2 440.2h0M124.3 439.8h0M125.4 439.5h0M126.4 439.2h0M127.5 438.9h0M128.6 438.6h0M129.7 438.3h0M130.8 438h0M131.9 437.7h0M132.9 437.3h0M134 437h0M135.1 436.7h0M136.2 436.4h0M137.3 436h0M138.4 435.7h0M139.5 435.4h0M140.6 435h0M141.7 434.7h0M142.8 434.3h0M143.9 434h0M145 433.6h0M146.1 433.3h0M147.2 432.9h0M148.3 432.6h0M149.4 432.2h0M150.5 431.8h0M151.6 431.5h0M152.7 431.1h0M153.8 430.7h0M154.9 430.4h0M156 430h0M157.1 429.6h0M158.2 429.2h0M159.3 428.8h0M160.4 428.5h0M161.5 428.1h0M162.6 427.7h0M163.7 427.3h0M164.8 426.9h0M165.9 426.5h0M167.1 426.1h0M168.2 425.6h0M169.3 425.2h0M170.4 424.8h0M171.5 424.4h0M172.6 424h0M173.7 423.6h0M174.9 423.2h0M176 422.7h0M177.1 422.3h0M178.2 421.9h0M179.3 421.5h0M180.4 421.1h0M181.6 420.6h0M182.7 420.2h0M183.8 419.8h0M184.9 419.3h0M186.1 418.9h0M187.2 418.5h0M188.3 418h0M189.4 417.6h0M190.6 417.1h0M191.7 416.7h0M192.9 416.2h0M194.1 415.7h0M195.3 415.3h0M196.5 414.8h0M197.7 414.3h0M198.9 413.7h0M200.1 413.2h0M201.3 412.7h0M202.5 412.2h0M203.7 411.6h0M204.9 411.1h0M206.1 410.6h0M207.3 410h0M208.5 409.5h0M209.7 408.9h0M210.9 408.4h0M212.1 407.8h0M213.3 407.3h0M214.5 406.7h0M215.6 406.2h0M216.7 405.6h0M217.9 405.1h0M219 404.5h0M220.2 404h0M221.3 403.4h0M222.4 402.8h0M223.6 402.3h0M224.7 401.7h0M225.9 401.1h0M227 400.5h0M228.2 400h0M229.3 399.4h0M230.5 398.8h0M231.6 398.2h0M232.8 397.5h0M233.9 396.9h0M235.1 396.3h0M236.2 395.6h0M237.4 395h0M238.5 394.3h0M239.7 393.6h0M240.8 392.9h0M242 392.2h0M243.2 391.5h0M244.3 390.8h0M245.5 390h0M246.6 389.2h0M247.8 388.4h0M248.9 387.6h0M250.1 386.9h0M251.3 386.2h0M252.5 385.5h0M253.6 384.7h0M254.8 383.9h0M256 383.1h0M257.1 382.2h0M258.2 381.4h0M259.2 380.7h0M260.3 379.9h0M261.3 379.2h0M262.3 378.4h0M263.4 377.6h0M264.4 376.8h0M265.4 376h0M266.4 375.2h0M267.5 374.4h0M268.5 373.5h0M269.5 372.7h0M270.5 371.9h0M271.5 371h0M272.6 370.1h0M273.6 369.2h0M274.7 368.2h0M275.8 367.2h0M276.9 366h0M278 364.8h0M279.1 363.6h0M280.2 362.4h0M281.3 361.1h0M282.4 359.9h0M283.5 358.6h0M284.6 357.3h0M285.7 356h0M286.8 354.7h0M287.9 353.5h0M288.9 352.2h0M290 351h0M291.1 349.7h0M292.2 348.4h0M293.3 347.1h0M294.4 345.8h0M295.5 344.3h0M296.6 342.8h0M297.7 341.2h0M298.8 339.5h0M299.8 337.6h0M300.9 335.7h0M302 333.7h0M303.1 331.7h0M304.2 329.5h0M305.3 327.3h0M306.4 324.9h0M307.5 322.5h0M308.6 320.1h0M309.6 317.7h0M310.7 315.2h0M311.8 312.6h0M312.9 310h0M314 307.5h0M315.1 304.9h0M316.2 302.4h0M317.3 299.9h0M318.3 297.5h0M319.4 295.1h0M320.5 292.8h0M321.6 290.7h0M322.7 288.5h0M323.8 286.6h0M324.9 284.8h0M325.9 283.3h0M327 282h0M328.1 280.6h0M329.2 279.3h0M330.3 278.3h0M331.4 277.6h0M332.5 276.9h0M333.6 276.4h0M334.6 275.9h0M335.7 275.6h0M336.8 275.3h0M337.9 275h0M339 274.8h0M340.1 274.5h0M341.2 274.4h0M342.2 274.2h0M343.3 274h0M344.4 273.9h0M345.5 273.8h0M346.6 273.7h0M347.7 273.5h0M348.8 273.4h0M349.8 273.3h0M350.9 273.3h0M352 273.2h0M353.1 273.1h0M354.2 273h0M355.3 272.9h0M356.4 272.9h0M357.4 272.8h0M358.5 272.7h0M359.6 272.7h0M360.7 272.6h0M361.8 272.5h0M362.9 272.5h0M364 272.4h0M365 272.3h0M366.1 272.3h0M367.2 272.2h0M368.3 272.1h0M369.4 272.1h0M370.5 272h0M371.6 271.9h0M372.6 271.8h0M373.7 271.8h0M374.8 271.7h0M375.9 271.6h0M377 271.6h0M378.1 271.5h0M379.2 271.4h0M380.2 271.4h0M381.3 271.3h0M382.4 271.2h0M383.5 271.2h0M384.6 271.1h0M385.7 271.1h0M386.8 271h0M387.8 270.9h0M388.9 270.9h0M390 270.8h0M391.1 270.8h0M392.2 270.7h0M393.3 270.7h0M394.4 270.6h0M395.4 270.5h0M396.5 270.5h0M397.6 270.4h0M398.7 270.4h0M399.8 270.3h0M400.9 270.3h0M402 270.2h0M403 270.2h0M404.1 270.1h0M405.2 270.1h0M406.3 270h0M407.4 270h0M408.5 269.9h0M409.6 269.9h0M410.6 269.8h0M411.7 269.8h0M412.8 269.8h0M413.9 269.7h0M415 269.7h0M416.1 269.6h0M417.2 269.6h0M418.2 269.5h0M419.3 269.5h0M420.4 269.4h0M421.5 269.4h0M422.6 269.3h0"/>
<path stroke="#c0ff00" d="M116.2 442.8h0M117.2 442.5h0M118.3 442.2h0M119.4 442h0M120.5 441.7h0M121.6 441.4h0M122.7 441.1h0M123.7 440.8h0M124.8 440.5h0M125.9 440.2h0M127 439.9h0M128.1 439.6h0M129.2 439.3h0M130.3 439h0M131.3 438.6h0M132.4 438.3h0M133.5 438h0M134.6 437.7h0M135.7 437.4h0M136.8 437h0M137.9 436.7h0M139 436.4h0M140.1 436.1h0M141.2 435.7h0M142.3 435.4h0M143.4 435h0M144.5 434.7h0M145.6 434.3h0M146.7 434h0M147.8 433.6h0M148.9 433.3h0M150 432.9h0M151.1 432.6h0M152.2 432.2h0M153.3 431.8h0M154.4 431.5h0M155.5 431.1h0M156.6 430.7h0M157.7 430.3h0M158.8 430h0M159.9 429.6h0M161 429.2h0M162.1 428.8h0M163.2 428.4h0M164.4 428h0M165.5 427.6h0M166.6 427.2h0M167.7 426.8h0M168.8 426.4h0M169.9 426h0M171 425.6h0M172.1 425.2h0M173.3 424.8h0M174.4 424.4h0M175.5 424h0M176.6 423.5h0M177.7 423.1h0M178.8 422.7h0M179.9 422.3h0M181.1 421.9h0M182.2 421.5h0M183.3 421h0M184.4 420.6h0M185.5 420.2h0M186.7 419.7h0M187.8 419.3h0M189 418.9h0M190.2 418.4h0M191.3 417.9h0M192.5 417.5h0M193.7 417h0M194.9 416.5h0M196.1 416h0M197.3 415.6h0M198.5 415h0M199.7 414.5h0M200.9 414h0M202.1 413.5h0M203.3 413h0M204.5 412.4h0M205.7 411.9h0M206.8 411.4h0M208 410.8h0M209.2 410.3h0M210.4 409.7h0M211.5 409.2h0M212.7 408.7h0M213.8 408.2h0M214.9 407.6h0M216.1 407.1h0M217.2 406.5h0M218.3 406h0M219.5 405.4h0M220.6 404.9h0M221.8 404.3h0M222.9 403.7h0M224 403.2h0M225.2 402.6h0M226.3 402h0M227.5 401.5h0M228.6 400.9h0M229.8 400.3h0M230.9 399.7h0M232.1 399.1h0M233.2 398.4h0M234.4 397.8h0M235.5 397.2h0M236.6 396.5h0M237.8 395.9h0M238.9 395.2h0M240.1 394.5h0M241.2 393.8h0M242.4 393.1h0M243.5 392.4h0M244.7 391.6h0M245.9 390.9h0M247 390.1h0M248.2 389.3h0M249.4 388.5h0M250.5 387.8h0M251.7 387.1h0M252.9 386.3h0M253.9 385.6h0M255 384.9h0M256 384.1h0M257 383.4h0M258.1 382.6h0M259.1 381.8h0M260.1 381.1h0M261.2 380.3h0M262.2 379.5h0M263.2 378.7h0M264.2 377.9h0M265.3 377.1h0M266.3 376.2h0M267.3 375.4h0M268.3 374.5h0M269.4 373.6h0M270.5 372.7h0M271.6 371.8h0M272.7 370.8h0M273.8 369.8h0M274.9 368.9h0M276 367.8h0M277.1 366.6h0M278.2 365.4h0M279.3 364.1h0M280.4 362.9h0M281.4 361.6h0M282.5 360.4h0M283.6 359.1h0M284.7 357.8h0M285.8 356.5h0M286.9 355.2h0M288 353.9h0M289.1 352.6h0M290.2 351.3h0M291.3 350.1h0M292.3 348.8h0M293.4 347.5h0M294.5 346.1h0M295.6 344.6h0M296.7 343.1h0M297.8 341.4h0M298.9 339.7h0M300 337.8h0M301 335.9h0M302.1 333.9h0M303.2 331.8h0M304.3 329.6h0M305.4 327.3h0M306.5 325h0M307.6 322.5h0M308.7 320.1h0M309.7 317.6h0M310.8 315.1h0M311.9 312.5h0M313 309.9h0M314.1 307.4h0M315.2 304.8h0M316.3 302.3h0M317.4 299.8h0M318.4 297.3h0M319.5 294.9h0M320.6 292.7h0M321.7 290.5h0M322.8 288.3h0M323.9 286.4h0M325 284.7h0M326 283.2h0M327.1 281.9h0M328.2 280.4h0M329.3 279.2h0M330.4 278.2h0M331.5 277.5h0M332.6 276.9h0M333.6 276.3h0M334.7 275.9h0M335.8 275.5h0M336.9 275.2h0M338 275h0M339.1 274.7h0M340.2 274.5h0M341.2 274.3h0M342.3 274.2h0M343.4 274h0M344.5 273.9h0M345.6 273.8h0M346.7 273.7h0M347.8 273.5h0M348.8 273.4h0M349.9 273.3h0M351 273.2h0M352.1 273.2h0M353.2 273.1h0M354.3 273h0M355.4 272.9h0M356.4 272.9h0M357.5 272.8h0M358.6 272.7h0M359.7 272.6h0M360.8 272.6h0M361.9 272.5h0M363 272.4h0M364 272.4h0M365.1 272.3h0M366.2 272.2h0M367.3 272.2h0M368.4 272.1h0M369.5 272h0M370.6 272h0M371.6 271.9h0M372.7 271.8h0M373.8 271.8h0M374.9 271.7h0M376 271.6h0M377.1 271.6h0M378.1 271.5h0M379.2 271.4h0M380.3 271.4h0M381.4 271.3h0M382.5 271.2h0M383.6 271.2h0M384.7 271.1h0M385.7 271.1h0M386.8 271h0M387.9 270.9h0M389 270.9h0M390.1 270.8h0M391.2 270.8h0M392.3 270.7h0M393.3 270.6h0M394.4 270.6h0M395.5 270.5h0M396.6 270.5h0M397.7 270.4h0M398.8 270.4h0M399.9 270.3h0M400.9 270.3h0M402 270.2h0M403.1 270.2h0M404.2 270.1h0M405.3 270.1h0M406.4 270h0M407.5 270h0M408.5 269.9h0M409.6 269.9h0M410.7 269.8h0M411.8 269.8h0M412.9 269.8h0M414 269.7h0M415.1 269.7h0M416.1 269.6h0M417.2 269.6h0M418.3 269.5h0"/>
<path stroke="#a0ff00" d="M112.4 444.3h0M113.5 444.1h0M114.6 443.8h0M115.6 443.5h0M116.7 443.3h0M117.8 443h0M118.9 442.7h0M120 442.4h0M121.1 442.1h0M122.1 441.8h0M123.2 441.5h0M124.3 441.3h0M125.4 441h0M126.5 440.7h0M127.6 440.4h0M128.7 440.1h0M129.7 439.7h0M130.8 439.4h0M131.9 439.1h0M133 438.8h0M134.1 438.5h0M135.2 438.2h0M136.3 437.9h0M137.4 437.5h0M138.5 437.2h0M139.6 436.9h0M140.7 436.6h0M141.8 436.2h0M142.9 435.9h0M144 435.5h0M145.1 435.2h0M146.2 434.9h0M147.3 434.5h0M148.4 434.2h0M149.5 433.8h0M150.6 433.4h0M151.7 433.1h0M152.8 432.7h0M153.9 432.4h0M155 432h0M156.1 431.6h0M157.2 431.3h0M158.3 430.9h0M159.4 430.5h0M160.5 430.1h0M161.6 429.7h0M162.7 429.4h0M163.9 429h0M165 428.6h0M166.1 428.2h0M167.2 427.8h0M168.3 427.4h0M169.4 427h0M170.5 426.6h0M171.6 426.2h0M172.7 425.8h0M173.9 425.4h0M175 425h0M176.1 424.6h0M177.2 424.1h0M178.3 423.7h0M179.4 423.3h0M180.5 422.9h0M181.7 422.5h0M182.8 422.1h0M183.9 421.7h0M185.1 421.2h0M186.3 420.8h0M187.4 420.3h0M188.6 419.9h0M189.8 419.4h0M191 419h0M192.2 418.5h0M193.3 418h0M194.5 417.6h0M195.7 417.1h0M196.9 416.6h0M198.1 416.1h0M199.2 415.6h0M200.4 415.1h0M201.6 414.6h0M202.8 414h0M204 413.5h0M205.2 413h0M206.3 412.5h0M207.4 412h0M208.6 411.5h0M209.7 410.9h0M210.8 410.4h0M212 409.9h0M213.1 409.4h0M214.2 408.8h0M215.4 408.3h0M216.5 407.8h0M217.6 407.2h0M218.8 406.7h0M219.9 406.1h0M221.1 405.5h0M222.2 405h0M223.3 404.4h0M224.5 403.9h0M225.6 403.3h0M226.7 402.7h0M227.9 402.1h0M229 401.5h0M230.2 401h0M231.3 400.4h0M232.5 399.7h0M233.6 399.1h0M234.7 398.5h0M235.9 397.9h0M237 397.2h0M238.2 396.6h0M239.3 395.9h0M240.5 395.2h0M241.6 394.5h0M242.8 393.8h0M243.9 393h0M245.1 392.3h0M246.3 391.5h0M247.4 390.7h0M248.6 389.9h0M249.6 389.2h0M250.7 388.6h0M251.7 387.9h0M252.8 387.3h0M253.8 386.6h0M254.8 385.9h0M255.9 385.1h0M256.9 384.3h0M257.9 383.6h0M259 382.8h0M260 382h0M261 381.2h0M262.1 380.4h0M263.1 379.6h0M264.1 378.7h0M265.2 377.9h0M266.3 377h0M267.4 376h0M268.5 375.1h0M269.6 374.2h0M270.7 373.3h0M271.8 372.3h0M272.9 371.3h0M273.9 370.4h0M275 369.4h0M276.1 368.2h0M277.2 367h0M278.3 365.8h0M279.4 364.6h0M280.5 363.3h0M281.6 362h0M282.7 360.7h0M283.8 359.4h0M284.8 358.1h0M285.9 356.8h0M287 355.5h0M288.1 354.2h0M289.2 352.9h0M290.3 351.6h0M291.4 350.4h0M292.5 349h0M293.5 347.7h0M294.6 346.3h0M295.7 344.8h0M296.8 343.3h0M297.9 341.6h0M299 339.8h0M300.1 337.9h0M301.2 335.9h0M302.2 333.9h0M303.3 331.8h0M304.4 329.6h0M305.5 327.3h0M306.6 324.9h0M307.7 322.5h0M308.8 320.1h0M309.8 317.6h0M310.9 315h0M312 312.4h0M313.1 309.8h0M314.2 307.2h0M315.3 304.7h0M316.4 302.2h0M317.5 299.6h0M318.5 297.1h0M319.6 294.7h0M320.7 292.5h0M321.8 290.3h0M322.9 288.2h0M324 286.3h0M325.1 284.5h0M326.1 283.1h0M327.2 281.7h0M328.3 280.3h0M329.4 279.1h0M330.5 278.2h0M331.6 277.5h0M332.7 276.8h0M333.7 276.3h0M334.8 275.9h0M335.9 275.5h0M337 275.2h0M338.1 274.9h0M339.2 274.7h0M340.3 274.5h0M341.3 274.3h0M342.4 274.2h0M343.5 274h0M344.6 273.9h0M345.7 273.8h0M346.8 273.6h0M347.8 273.5h0M348.9 273.4h0M350 273.3h0M351.1 273.2h0M352.2 273.2h0M353.3 273.1h0M354.4 273h0M355.4 272.9h0M356.5 272.9h0M357.6 272.8h0M358.7 272.7h0M359.8 272.6h0M360.9 272.6h0M362 272.5h0M363 272.4h0M364.1 272.4h0M365.2 272.3h0M366.3 272.2h0M367.4 272.2h0M368.5 272.1h0M369.5 272h0M370.6 272h0M371.7 271.9h0M372.8 271.8h0M373.9 271.8h0M375 271.7h0M376.1 271.6h0M377.1 271.6h0M378.2 271.5h0M379.3 271.4h0M380.4 271.4h0M381.5 271.3h0M382.6 271.2h0M383.7 271.2h0M384.7 271.1h0M385.8 271h0M386.9 271h0M388 270.9h0M389.1 270.9h0M390.2 270.8h0M391.2 270.8h0M392.3 270.7h0M393.4 270.6h0M394.5 270.6h0M395.6 270.5h0M396.7 270.5h0M397.8 270.4h0M398.8 270.4h0M399.9 270.3h0M401 270.3h0M402.1 270.2h0M403.2 270.2h0M404.3 270.1h0M405.4 270.1h0M406.4 270h0M407.5 270h0M408.6 269.9h0M409.7 269.9h0M410.8 269.8h0M411.9 269.8h0M413 269.7h0M414 269.7h0"/>
<path stroke="#80ff00" d="M108.6 445.4h0M109.7 445.2h0M110.8 444.9h0M111.9 444.7h0M112.9 444.4h0M114 444.1h0M115.1 443.9h0M116.2 443.6h0M117.3 443.3h0M118.4 443.1h0M119.5 442.8h0M120.5 442.5h0M121.6 442.2h0M122.7 441.9h0M123.8 441.6h0M124.9 441.3h0M126 441h0M127.1 440.7h0M128.1 440.4h0M129.2 440.1h0M130.3 439.8h0M131.4 439.5h0M132.5 439.2h0M133.6 438.9h0M134.7 438.6h0M135.8 438.3h0M136.9 437.9h0M138 437.6h0M139.1 437.3h0M140.2 437h0M141.3 436.6h0M142.4 436.3h0M143.5 435.9h0M144.6 435.6h0M145.7 435.3h0M146.8 434.9h0M147.9 434.6h0M149 434.2h0M150.1 433.9h0M151.2 433.5h0M152.3 433.2h0M153.4 432.8h0M154.5 432.4h0M155.6 432.1h0M156.7 431.7h0M157.8 431.3h0M158.9 431h0M160 430.6h0M161.1 430.2h0M162.2 429.8h0M163.3 429.4h0M164.5 429h0M165.6 428.6h0M166.7 428.3h0M167.8 427.9h0M168.9 427.5h0M170 427.1h0M171.1 426.7h0M172.2 426.3h0M173.3 425.9h0M174.4 425.4h0M175.6 425h0M176.7 424.6h0M177.8 424.2h0M178.9 423.8h0M180 423.4h0M181.2 423h0M182.3 422.5h0M183.5 422.1h0M184.7 421.7h0M185.9 421.2h0M187 420.8h0M188.2 420.3h0M189.4 419.9h0M190.5 419.4h0M191.7 419h0M192.9 418.5h0M194.1 418.1h0M195.2 417.6h0M196.4 417.1h0M197.6 416.7h0M198.8 416.1h0M199.9 415.6h0M201.1 415.1h0M202.2 414.6h0M203.4 414.1h0M204.5 413.6h0M205.6 413.1h0M206.8 412.6h0M207.9 412.1h0M209 411.6h0M210.1 411.1h0M211.3 410.6h0M212.4 410h0M213.5 409.5h0M214.7 409h0M215.8 408.4h0M216.9 407.9h0M218 407.3h0M219.2 406.8h0M220.3 406.2h0M221.4 405.7h0M222.6 405.1h0M223.7 404.6h0M224.9 404h0M226 403.4h0M227.1 402.9h0M228.3 402.3h0M229.4 401.7h0M230.5 401.1h0M231.7 400.5h0M232.8 399.9h0M233.9 399.3h0M235.1 398.6h0M236.2 398h0M237.4 397.3h0M238.5 396.7h0M239.7 396h0M240.8 395.3h0M242 394.6h0M243.1 393.9h0M244.3 393.1h0M245.3 392.4h0M246.4 391.7h0M247.4 391h0M248.5 390.3h0M249.5 389.6h0M250.6 389h0M251.6 388.3h0M252.6 387.7h0M253.7 387h0M254.7 386.3h0M255.8 385.5h0M256.8 384.7h0M257.8 383.9h0M258.9 383.1h0M259.9 382.4h0M261 381.5h0M262.1 380.7h0M263.2 379.8h0M264.3 378.9h0M265.3 378h0M266.4 377.1h0M267.5 376.2h0M268.6 375.3h0M269.7 374.3h0M270.8 373.4h0M271.9 372.4h0M273 371.4h0M274.1 370.5h0M275.2 369.5h0M276.3 368.3h0M277.3 367.1h0M278.4 365.9h0M279.5 364.6h0M280.6 363.4h0M281.7 362.1h0M282.8 360.8h0M283.9 359.5h0M285 358.2h0M286 356.9h0M287.1 355.5h0M288.2 354.2h0M289.3 352.9h0M290.4 351.7h0M291.5 350.4h0M292.6 349.1h0M293.7 347.7h0M294.7 346.3h0M295.8 344.8h0M296.9 343.2h0M298 341.5h0M299.1 339.7h0M300.2 337.8h0M301.3 335.9h0M302.3 333.8h0M303.4 331.7h0M304.5 329.5h0M305.6 327.2h0M306.7 324.8h0M307.8 322.4h0M308.9 319.9h0M309.9 317.4h0M311 314.9h0M312.1 312.3h0M313.2 309.6h0M314.3 307h0M315.4 304.5h0M316.5 302h0M317.5 299.4h0M318.6 297h0M319.7 294.6h0M320.8 292.3h0M321.9 290.1h0M323 288h0M324.1 286.1h0M325.1 284.4h0M326.2 283h0M327.3 281.6h0M328.4 280.2h0M329.5 279h0M330.6 278.1h0M331.7 277.4h0M332.7 276.8h0M333.8 276.3h0M334.9 275.8h0M336 275.5h0M337.1 275.2h0M338.2 274.9h0M339.3 274.7h0M340.3 274.5h0M341.4 274.3h0M342.5 274.2h0M343.6 274h0M344.7 273.9h0M345.8 273.8h0M346.8 273.6h0M347.9 273.5h0M349 273.4h0M350.1 273.3h0M351.2 273.2h0M352.3 273.2h0M353.4 273.1h0M354.4 273h0M355.5 272.9h0M356.6 272.8h0M357.7 272.8h0M358.8 272.7h0M359.9 272.6h0M360.9 272.6h0M362 272.5h0M363.1 272.4h0M364.2 272.4h0M365.3 272.3h0M366.4 272.2h0M367.5 272.2h0M368.5 272.1h0M369.6 272h0M370.7 272h0M371.8 271.9h0M372.9 271.8h0M374 271.8h0M375 271.7h0M376.1 271.6h0M377.2 271.6h0M378.3 271.5h0M379.4 271.4h0M380.5 271.4h0M381.6 271.3h0M382.6 271.2h0M383.7 271.2h0M384.8 271.1h0M385.9 271h0M387 271h0M388.1 270.9h0M389.2 270.9h0M390.2 270.8h0M391.3 270.7h0M392.4 270.7h0M393.5 270.6h0M394.6 270.6h0M395.7 270.5h0M396.8 270.5h0M397.8 270.4h0M398.9 270.4h0M400 270.3h0M401.1 270.3h0M402.2 270.2h0M403.3 270.2h0M404.3 270.1h0M405.4 270.1h0M406.5 270h0M407.6 270h0M408.7 269.9h0M409.8 269.9h0"/>
<path stroke="#50ff00" d="M104.8 446.2h0M105.9 446h0M107 445.7h0M108.1 445.5h0M109.2 445.3h0M110.3 445h0M111.3 444.8h0M112.4 444.5h0M113.5 444.2h0M114.6 444h0M115.7 443.7h0M116.8 443.4h0M117.8 443.2h0M118.9 442.9h0M120 442.6h0M121.1 442.3h0M122.2 442h0M123.3 441.7h0M124.4 441.4h0M125.5 441.1h0M126.6 440.8h0M127.6 440.5h0M128.7 440.2h0M129.8 439.9h0M130.9 439.6h0M132 439.3h0M133.1 439h0M134.2 438.7h0M135.3 438.4h0M136.4 438h0M137.5 437.7h0M138.6 437.4h0M139.7 437.1h0M140.8 436.7h0M141.9 436.4h0M143 436.1h0M144.1 435.7h0M145.2 435.4h0M146.3 435h0M147.4 434.7h0M148.5 434.4h0M149.6 434h0M150.7 433.6h0M151.8 433.3h0M152.9 432.9h0M154 432.6h0M155.1 432.2h0M156.2 431.8h0M157.3 431.5h0M158.4 431.1h0M159.5 430.7h0M160.6 430.3h0M161.7 430h0M162.8 429.6h0M163.9 429.2h0M165 428.8h0M166.1 428.4h0M167.3 428h0M168.4 427.6h0M169.5 427.2h0M170.6 426.8h0M171.7 426.4h0M172.8 426h0M173.9 425.6h0M175 425.2h0M176.1 424.8h0M177.3 424.4h0M178.4 423.9h0M179.6 423.5h0M180.8 423.1h0M181.9 422.7h0M183.1 422.2h0M184.2 421.8h0M185.4 421.4h0M186.6 420.9h0M187.7 420.5h0M188.9 420h0M190.1 419.6h0M191.2 419.1h0M192.4 418.7h0M193.6 418.2h0M194.7 417.8h0M195.9 417.3h0M197 416.8h0M198.2 416.4h0M199.3 415.9h0M200.4 415.4h0M201.5 414.9h0M202.7 414.4h0M203.8 413.9h0M204.9 413.4h0M206 412.9h0M207.2 412.4h0M208.3 411.9h0M209.4 411.4h0M210.5 410.9h0M211.7 410.3h0M212.8 409.8h0M213.9 409.3h0M215 408.8h0M216.2 408.2h0M217.3 407.7h0M218.4 407.1h0M219.5 406.6h0M220.7 406h0M221.8 405.5h0M222.9 404.9h0M224.1 404.3h0M225.2 403.8h0M226.3 403.2h0M227.5 402.6h0M228.6 402.1h0M229.7 401.5h0M230.9 400.9h0M232 400.3h0M233.1 399.7h0M234.3 399h0M235.4 398.4h0M236.6 397.8h0M237.7 397.1h0M238.9 396.4h0M240 395.8h0M241.1 395.1h0M242.1 394.5h0M243.2 393.8h0M244.2 393.1h0M245.3 392.5h0M246.3 391.8h0M247.3 391h0M248.4 390.3h0M249.4 389.6h0M250.5 389h0M251.5 388.4h0M252.6 387.7h0M253.6 387.1h0M254.6 386.3h0M255.7 385.5h0M256.8 384.7h0M257.8 383.9h0M258.9 383h0M260 382.2h0M261.1 381.4h0M262.2 380.5h0M263.3 379.6h0M264.4 378.7h0M265.5 377.9h0M266.6 377h0M267.7 376h0M268.8 375.1h0M269.8 374.2h0M270.9 373.2h0M272 372.3h0M273.1 371.3h0M274.2 370.3h0M275.3 369.3h0M276.4 368.1h0M277.5 366.9h0M278.5 365.7h0M279.6 364.5h0M280.7 363.2h0M281.8 361.9h0M282.9 360.6h0M284 359.3h0M285.1 358h0M286.2 356.7h0M287.2 355.4h0M288.3 354.1h0M289.4 352.8h0M290.5 351.5h0M291.6 350.2h0M292.7 348.9h0M293.8 347.6h0M294.8 346.1h0M295.9 344.6h0M297 343h0M298.1 341.3h0M299.2 339.5h0M300.3 337.6h0M301.4 335.7h0M302.4 333.6h0M303.5 331.5h0M304.6 329.3h0M305.7 327h0M306.8 324.6h0M307.9 322.1h0M309 319.7h0M310 317.2h0M311.1 314.6h0M312.2 312h0M313.3 309.4h0M314.4 306.8h0M315.5 304.3h0M316.6 301.8h0M317.6 299.2h0M318.7 296.7h0M319.8 294.4h0M320.9 292.1h0M322 289.9h0M323.1 287.8h0M324.1 286h0M325.2 284.3h0M326.3 282.9h0M327.4 281.5h0M328.5 280.1h0M329.6 278.9h0M330.7 278.1h0M331.7 277.4h0M332.8 276.7h0M333.9 276.2h0M335 275.8h0M336.1 275.5h0M337.2 275.2h0M338.3 274.9h0M339.3 274.7h0M340.4 274.5h0M341.5 274.3h0M342.6 274.1h0M343.7 274h0M344.8 273.9h0M345.8 273.7h0M346.9 273.6h0M348 273.5h0M349.1 273.4h0M350.2 273.3h0M351.3 273.2h0M352.4 273.1h0M353.4 273.1h0M354.5 273h0M355.6 272.9h0M356.7 272.8h0M357.8 272.8h0M358.9 272.7h0M359.9 272.6h0M361 272.6h0M362.1 272.5h0M363.2 272.4h0M364.3 272.4h0M365.4 272.3h0M366.4 272.2h0M367.5 272.2h0M368.6 272.1h0M369.7 272h0M370.8 272h0M371.9 271.9h0M373 271.8h0M374 271.8h0M375.1 271.7h0M376.2 271.6h0M377.3 271.5h0M378.4 271.5h0M379.5 271.4h0M380.5 271.4h0M381.6 271.3h0M382.7 271.2h0M383.8 271.2h0M384.9 271.1h0M386 271h0M387.1 271h0M388.1 270.9h0M389.2 270.9h0M390.3 270.8h0M391.4 270.7h0M392.5 270.7h0M393.6 270.6h0M394.7 270.6h0M395.7 270.5h0M396.8 270.5h0M397.9 270.4h0M399 270.4h0M400.1 270.3h0M401.2 270.3h0M402.2 270.2h0M403.3 270.2h0M404.4 270.1h0M405.5 270.1h0"/>
<path stroke="#20ff00" d="M101.1 446.9h0M102.2 446.7h0M103.2 446.5h0M104.3 446.3h0M105.4 446h0M106.5 445.8h0M107.6 445.5h0M108.7 445.3h0M109.7 445.1h0M110.8 444.8h0M111.9 444.6h0M113 444.3h0M114.1 444h0M115.2 443.8h0M116.2 443.5h0M117.3 443.2h0M118.4 443h0M119.5 442.7h0M120.6 442.4h0M121.7 442.1h0M122.8 441.8h0M123.9 441.5h0M125 441.2h0M126 440.9h0M127.1 440.6h0M128.2 440.3h0M129.3 440h0M130.4 439.7h0M131.5 439.4h0M132.6 439.1h0M133.7 438.8h0M134.8 438.4h0M135.9 438.1h0M137 437.8h0M138.1 437.5h0M139.2 437.2h0M140.3 436.8h0M141.4 436.5h0M142.5 436.2h0M143.6 435.8h0M144.7 435.5h0M145.8 435.1h0M146.9 434.8h0M148 434.4h0M149.1 434.1h0M150.2 433.7h0M151.3 433.4h0M152.4 433h0M153.5 432.7h0M154.6 432.3h0M155.7 431.9h0M156.8 431.6h0M157.9 431.2h0M159 430.8h0M160.1 430.4h0M161.2 430.1h0M162.3 429.7h0M163.4 429.3h0M164.5 428.9h0M165.6 428.5h0M166.7 428.1h0M167.8 427.7h0M168.9 427.3h0M170 426.9h0M171.1 426.5h0M172.2 426.1h0M173.4 425.7h0M174.5 425.3h0M175.7 424.9h0M176.8 424.4h0M178 424h0M179.1 423.6h0M180.3 423.2h0M181.4 422.7h0M182.6 422.3h0M183.7 421.9h0M184.9 421.5h0M186.1 421h0M187.2 420.6h0M188.4 420.1h0M189.5 419.7h0M190.7 419.3h0M191.8 418.8h0M193 418.4h0M194.1 417.9h0M195.2 417.5h0M196.3 417h0M197.5 416.6h0M198.6 416.1h0M199.7 415.6h0M200.8 415.1h0M201.9 414.6h0M203 414.1h0M204.2 413.6h0M205.3 413.1h0M206.4 412.6h0M207.5 412.1h0M208.6 411.6h0M209.8 411.1h0M210.9 410.6h0M212 410.1h0M213.1 409.6h0M214.3 409h0M215.4 408.5h0M216.5 408h0M217.6 407.4h0M218.7 406.9h0M219.9 406.3h0M221 405.8h0M222.1 405.2h0M223.2 404.7h0M224.4 404.1h0M225.5 403.5h0M226.6 403h0M227.8 402.4h0M228.9 401.8h0M230 401.2h0M231.2 400.6h0M232.3 400h0M233.4 399.4h0M234.6 398.8h0M235.7 398.2h0M236.8 397.6h0M237.8 396.9h0M238.9 396.3h0M239.9 395.7h0M241 395.1h0M242 394.4h0M243.1 393.8h0M244.1 393.1h0M245.2 392.4h0M246.2 391.7h0M247.3 391h0M248.3 390.3h0M249.4 389.6h0M250.4 388.9h0M251.5 388.3h0M252.5 387.6h0M253.6 386.9h0M254.7 386.1h0M255.8 385.3h0M256.9 384.5h0M258 383.7h0M259.1 382.8h0M260.2 382h0M261.3 381.2h0M262.3 380.3h0M263.4 379.4h0M264.5 378.6h0M265.6 377.7h0M266.7 376.8h0M267.8 375.9h0M268.9 374.9h0M270 374h0M271 373.1h0M272.1 372.1h0M273.2 371.1h0M274.3 370.2h0M275.4 369.1h0M276.5 368h0M277.6 366.8h0M278.7 365.5h0M279.7 364.3h0M280.8 363h0M281.9 361.7h0M283 360.4h0M284.1 359.1h0M285.2 357.8h0M286.3 356.5h0M287.3 355.2h0M288.4 353.9h0M289.5 352.6h0M290.6 351.3h0M291.7 350.1h0M292.8 348.7h0M293.9 347.4h0M294.9 346h0M296 344.5h0M297.1 342.9h0M298.2 341.2h0M299.3 339.3h0M300.4 337.4h0M301.5 335.5h0M302.5 333.4h0M303.6 331.3h0M304.7 329.1h0M305.8 326.7h0M306.9 324.3h0M308 321.9h0M309 319.4h0M310.1 317h0M311.2 314.4h0M312.3 311.8h0M313.4 309.2h0M314.5 306.6h0M315.6 304.1h0M316.6 301.5h0M317.7 299h0M318.8 296.5h0M319.9 294.2h0M321 291.9h0M322.1 289.8h0M323.2 287.7h0M324.2 285.8h0M325.3 284.2h0M326.4 282.8h0M327.5 281.4h0M328.6 280h0M329.7 278.9h0M330.7 278h0M331.8 277.3h0M332.9 276.7h0M334 276.2h0M335.1 275.8h0M336.2 275.4h0M337.2 275.1h0M338.3 274.9h0M339.4 274.7h0M340.5 274.5h0M341.6 274.3h0M342.7 274.1h0M343.8 274h0M344.8 273.9h0M345.9 273.7h0M347 273.6h0M348.1 273.5h0M349.2 273.4h0M350.3 273.3h0M351.3 273.2h0M352.4 273.1h0M353.5 273.1h0M354.6 273h0M355.7 272.9h0M356.8 272.8h0M357.9 272.8h0M358.9 272.7h0M360 272.6h0M361.1 272.6h0M362.2 272.5h0M363.3 272.4h0M364.4 272.4h0M365.4 272.3h0M366.5 272.2h0M367.6 272.2h0M368.7 272.1h0M369.8 272h0M370.9 272h0M371.9 271.9h0M373 271.8h0M374.1 271.7h0M375.2 271.7h0M376.3 271.6h0M377.4 271.5h0M378.5 271.5h0M379.5 271.4h0M380.6 271.3h0M381.7 271.3h0M382.8 271.2h0M383.9 271.2h0M385 271.1h0M386 271h0M387.1 271h0M388.2 270.9h0M389.3 270.9h0M390.4 270.8h0M391.5 270.7h0M392.6 270.7h0M393.6 270.6h0M394.7 270.6h0M395.8 270.5h0M396.9 270.5h0M398 270.4h0M399.1 270.4h0M400.1 270.3h0M401.2 270.3h0"/>
<path stroke="#00ff60" d="M97.3 447.6h0M98.4 447.4h0M99.5 447.2h0M100.5 447h0M101.6 446.7h0M102.7 446.5h0M103.8 446.3h0M104.9 446.1h0M106 445.8h0M107 445.6h0M108.1 445.3h0M109.2 445.1h0M110.3 444.9h0M111.4 444.6h0M112.5 444.3h0M113.6 444.1h0M114.6 443.8h0M115.7 443.5h0M116.8 443.3h0M117.9 443h0M119 442.7h0M120.1 442.4h0M121.2 442.1h0M122.3 441.9h0M123.4 441.6h0M124.4 441.3h0M125.5 441h0M126.6 440.7h0M127.7 440.4h0M128.8 440h0M129.9 439.7h0M131 439.4h0M132.1 439.1h0M133.2 438.8h0M134.3 438.5h0M135.4 438.2h0M136.5 437.9h0M137.6 437.5h0M138.7 437.2h0M139.8 436.9h0M140.9 436.5h0M141.9 436.2h0M143 435.9h0M144.1 435.5h0M145.2 435.2h0M146.3 434.9h0M147.4 434.5h0M148.5 434.2h0M149.6 433.8h0M150.7 433.5h0M151.8 433.1h0M152.9 432.7h0M154 432.4h0M155.1 432h0M156.2 431.6h0M157.3 431.3h0M158.4 430.9h0M159.5 430.5h0M160.6 430.1h0M161.7 429.8h0M162.8 429.4h0M163.9 429h0M165 428.6h0M166.2 428.2h0M167.3 427.8h0M168.4 427.4h0M169.5 427h0M170.6 426.6h0M171.8 426.2h0M172.9 425.8h0M174.1 425.3h0M175.2 424.9h0M176.3 424.5h0M177.5 424.1h0M178.6 423.7h0M179.8 423.3h0M180.9 422.8h0M182.1 422.4h0M183.2 422h0M184.3 421.5h0M185.5 421.1h0M186.6 420.7h0M187.8 420.2h0M188.9 419.8h0M190 419.4h0M191.1 418.9h0M192.3 418.5h0M193.4 418.1h0M194.5 417.6h0M195.6 417.2h0M196.7 416.7h0M197.8 416.3h0M198.9 415.8h0M200 415.3h0M201.2 414.8h0M202.3 414.3h0M203.4 413.8h0M204.5 413.4h0M205.6 412.9h0M206.7 412.4h0M207.9 411.9h0M209 411.3h0M210.1 410.8h0M211.2 410.3h0M212.3 409.8h0M213.4 409.3h0M214.6 408.8h0M215.7 408.2h0M216.8 407.7h0M217.9 407.1h0M219 406.6h0M220.2 406h0M221.3 405.5h0M222.4 404.9h0M223.5 404.4h0M224.6 403.8h0M225.8 403.3h0M226.9 402.7h0M228 402.1h0M229.2 401.5h0M230.3 401h0M231.4 400.4h0M232.5 399.8h0M233.5 399.2h0M234.6 398.6h0M235.7 398.1h0M236.7 397.5h0M237.8 396.9h0M238.8 396.2h0M239.9 395.6h0M240.9 395h0M242 394.3h0M243 393.7h0M244.1 393h0M245.1 392.3h0M246.2 391.6h0M247.2 390.9h0M248.3 390.1h0M249.4 389.4h0M250.5 388.8h0M251.6 388.1h0M252.7 387.4h0M253.8 386.7h0M254.9 385.9h0M255.9 385.1h0M257 384.3h0M258.1 383.5h0M259.2 382.6h0M260.3 381.8h0M261.4 381h0M262.5 380.1h0M263.6 379.2h0M264.6 378.4h0M265.7 377.5h0M266.8 376.6h0M267.9 375.7h0M269 374.7h0M270.1 373.8h0M271.2 372.9h0M272.2 371.9h0M273.3 370.9h0M274.4 370h0M275.5 368.9h0M276.6 367.8h0M277.7 366.5h0M278.8 365.3h0M279.8 364.1h0M280.9 362.8h0M282 361.5h0M283.1 360.2h0M284.2 358.9h0M285.3 357.6h0M286.4 356.3h0M287.4 355h0M288.5 353.7h0M289.6 352.4h0M290.7 351.2h0M291.8 349.9h0M292.9 348.6h0M294 347.2h0M295 345.8h0M296.1 344.3h0M297.2 342.7h0M298.3 341h0M299.4 339.1h0M300.5 337.2h0M301.5 335.2h0M302.6 333.2h0M303.7 331.1h0M304.8 328.8h0M305.9 326.5h0M307 324.1h0M308.1 321.7h0M309.1 319.2h0M310.2 316.7h0M311.3 314.2h0M312.4 311.6h0M313.5 309h0M314.6 306.4h0M315.6 303.9h0M316.7 301.3h0M317.8 298.8h0M318.9 296.3h0M320 294h0M321.1 291.8h0M322.2 289.6h0M323.2 287.5h0M324.3 285.7h0M325.4 284.1h0M326.5 282.7h0M327.6 281.3h0M328.7 279.9h0M329.7 278.8h0M330.8 277.9h0M331.9 277.3h0M333 276.7h0M334.1 276.2h0M335.2 275.7h0M336.2 275.4h0M337.3 275.1h0M338.4 274.9h0M339.5 274.7h0M340.6 274.5h0M341.7 274.3h0M342.7 274.1h0M343.8 274h0M344.9 273.9h0M346 273.7h0M347.1 273.6h0M348.2 273.5h0M349.3 273.4h0M350.3 273.3h0M351.4 273.2h0M352.5 273.1h0M353.6 273.1h0M354.7 273h0M355.8 272.9h0M356.8 272.8h0M357.9 272.8h0M359 272.7h0M360.1 272.6h0M361.2 272.6h0M362.3 272.5h0M363.3 272.4h0M364.4 272.4h0M365.5 272.3h0M366.6 272.2h0M367.7 272.2h0M368.8 272.1h0M369.9 272h0M370.9 272h0M372 271.9h0M373.1 271.8h0M374.2 271.7h0M375.3 271.7h0M376.4 271.6h0M377.4 271.5h0M378.5 271.5h0M379.6 271.4h0M380.7 271.3h0M381.8 271.3h0M382.9 271.2h0M383.9 271.2h0M385 271.1h0M386.1 271h0M387.2 271h0M388.3 270.9h0M389.4 270.9h0M390.5 270.8h0M391.5 270.7h0M392.6 270.7h0M393.7 270.6h0M394.8 270.6h0M395.9 270.5h0M397 270.5h0"/>
<path stroke="#00ffb0" d="M93.5 448.3h0M94.6 448h0M95.7 447.8h0M96.8 447.6h0M97.9 447.4h0M98.9 447.2h0M100 447h0M101.1 446.7h0M102.2 446.5h0M103.3 446.3h0M104.4 446.1h0M105.4 445.8h0M106.5 445.6h0M107.6 445.4h0M108.7 445.1h0M109.8 444.9h0M110.9 444.6h0M112 444.4h0M113 444.1h0M114.1 443.8h0M115.2 443.6h0M116.3 443.3h0M117.4 443h0M118.5 442.7h0M119.6 442.5h0M120.7 442.2h0M121.8 441.9h0M122.8 441.6h0M123.9 441.3h0M125 441h0M126.1 440.7h0M127.2 440.4h0M128.3 440.1h0M129.4 439.8h0M130.5 439.5h0M131.6 439.2h0M132.7 438.8h0M133.8 438.5h0M134.9 438.2h0M135.9 437.9h0M137 437.6h0M138.1 437.2h0M139.2 436.9h0M140.3 436.6h0M141.4 436.3h0M142.5 435.9h0M143.6 435.6h0M144.7 435.2h0M145.8 434.9h0M146.9 434.5h0M148 434.2h0M149.1 433.8h0M150.2 433.5h0M151.3 433.1h0M152.4 432.8h0M153.5 432.4h0M154.6 432.1h0M155.7 431.7h0M156.8 431.3h0M157.9 431h0M159 430.6h0M160.1 430.2h0M161.2 429.8h0M162.3 429.4h0M163.4 429h0M164.5 428.7h0M165.6 428.3h0M166.7 427.9h0M167.9 427.4h0M169 427h0M170.1 426.6h0M171.3 426.2h0M172.4 425.8h0M173.5 425.4h0M174.6 425h0M175.8 424.6h0M176.9 424.2h0M178 423.7h0M179.2 423.3h0M180.3 422.9h0M181.4 422.5h0M182.6 422h0M183.7 421.6h0M184.9 421.2h0M186 420.8h0M187.1 420.4h0M188.2 419.9h0M189.3 419.5h0M190.4 419.1h0M191.5 418.6h0M192.6 418.2h0M193.7 417.8h0M194.8 417.3h0M195.9 416.9h0M197 416.5h0M198.2 416h0M199.3 415.5h0M200.4 415h0M201.5 414.5h0M202.6 414h0M203.7 413.5h0M204.8 413.1h0M205.9 412.6h0M207 412.1h0M208.1 411.6h0M209.3 411h0M210.4 410.5h0M211.5 410h0M212.6 409.5h0M213.7 409h0M214.8 408.5h0M215.9 407.9h0M217.1 407.4h0M218.2 406.9h0M219.3 406.3h0M220.4 405.8h0M221.5 405.2h0M222.6 404.7h0M223.8 404.1h0M224.9 403.5h0M226 403h0M227.1 402.4h0M228.2 401.9h0M229.3 401.3h0M230.3 400.8h0M231.4 400.2h0M232.4 399.7h0M233.5 399.1h0M234.6 398.5h0M235.6 397.9h0M236.7 397.3h0M237.7 396.7h0M238.8 396.1h0M239.8 395.5h0M240.9 394.8h0M242 394.2h0M243 393.5h0M244.1 392.8h0M245.2 392.1h0M246.3 391.4h0M247.4 390.6h0M248.5 389.9h0M249.5 389.2h0M250.6 388.5h0M251.7 387.8h0M252.8 387.2h0M253.9 386.5h0M255 385.7h0M256.1 384.9h0M257.1 384h0M258.2 383.2h0M259.3 382.4h0M260.4 381.6h0M261.5 380.7h0M262.6 379.9h0M263.7 379h0M264.7 378.1h0M265.8 377.3h0M266.9 376.4h0M268 375.4h0M269.1 374.5h0M270.2 373.6h0M271.3 372.7h0M272.3 371.7h0M273.4 370.7h0M274.5 369.8h0M275.6 368.7h0M276.7 367.5h0M277.8 366.3h0M278.9 365.1h0M279.9 363.9h0M281 362.6h0M282.1 361.3h0M283.2 360h0M284.3 358.7h0M285.4 357.4h0M286.5 356.1h0M287.5 354.8h0M288.6 353.5h0M289.7 352.3h0M290.8 351h0M291.9 349.7h0M293 348.4h0M294 347h0M295.1 345.6h0M296.2 344.1h0M297.3 342.5h0M298.4 340.7h0M299.5 338.9h0M300.5 337h0M301.6 335h0M302.7 333h0M303.8 330.9h0M304.9 328.6h0M306 326.3h0M307.1 323.9h0M308.1 321.4h0M309.2 319h0M310.3 316.5h0M311.4 313.9h0M312.5 311.3h0M313.6 308.7h0M314.6 306.2h0M315.7 303.6h0M316.8 301.1h0M317.9 298.6h0M319 296.1h0M320.1 293.8h0M321.1 291.6h0M322.2 289.4h0M323.3 287.4h0M324.4 285.6h0M325.5 283.9h0M326.6 282.6h0M327.7 281.2h0M328.7 279.8h0M329.8 278.7h0M330.9 277.9h0M332 277.2h0M333.1 276.6h0M334.2 276.1h0M335.2 275.7h0M336.3 275.4h0M337.4 275.1h0M338.5 274.9h0M339.6 274.6h0M340.7 274.4h0M341.7 274.3h0M342.8 274.1h0M343.9 274h0M345 273.8h0M346.1 273.7h0M347.2 273.6h0M348.2 273.5h0M349.3 273.4h0M350.4 273.3h0M351.5 273.2h0M352.6 273.1h0M353.7 273h0M354.7 273h0M355.8 272.9h0M356.9 272.8h0M358 272.8h0M359.1 272.7h0M360.2 272.6h0M361.3 272.6h0M362.3 272.5h0M363.4 272.4h0M364.5 272.4h0M365.6 272.3h0M366.7 272.2h0M367.8 272.2h0M368.8 272.1h0M369.9 272h0M371 271.9h0M372.1 271.9h0M373.2 271.8h0M374.3 271.7h0M375.3 271.7h0M376.4 271.6h0M377.5 271.5h0M378.6 271.5h0M379.7 271.4h0M380.8 271.3h0M381.8 271.3h0M382.9 271.2h0M384 271.1h0M385.1 271.1h0M386.2 271h0M387.3 271h0M388.4 270.9h0M389.4 270.8h0M390.5 270.8h0M391.6 270.7h0M392.7 270.7h0"/>
<path stroke="#00e8f0" d="M89.8 448.9h0M90.8 448.6h0M91.9 448.4h0M93 448.2h0M94.1 448h0M95.2 447.8h0M96.3 447.6h0M97.3 447.4h0M98.4 447.2h0M99.5 446.9h0M100.6 446.7h0M101.7 446.5h0M102.8 446.3h0M103.8 446h0M104.9 445.8h0M106 445.6h0M107.1 445.3h0M108.2 445.1h0M109.3 444.8h0M110.3 444.6h0M111.4 444.3h0M112.5 444.1h0M113.6 443.8h0M114.7 443.6h0M115.8 443.3h0M116.9 443h0M118 442.7h0M119.1 442.4h0M120.1 442.2h0M121.2 441.9h0M122.3 441.6h0M123.4 441.3h0M124.5 441h0M125.6 440.7h0M126.7 440.4h0M127.8 440.1h0M128.9 439.8h0M130 439.5h0M131 439.1h0M132.1 438.8h0M133.2 438.5h0M134.3 438.2h0M135.4 437.9h0M136.5 437.6h0M137.6 437.2h0M138.7 436.9h0M139.8 436.6h0M140.9 436.2h0M142 435.9h0M143.1 435.6h0M144.2 435.2h0M145.2 434.9h0M146.3 434.5h0M147.4 434.2h0M148.5 433.9h0M149.6 433.5h0M150.7 433.1h0M151.8 432.8h0M152.9 432.4h0M154 432.1h0M155.1 431.7h0M156.2 431.3h0M157.3 431h0M158.4 430.6h0M159.5 430.2h0M160.6 429.8h0M161.7 429.4h0M162.8 429.1h0M163.9 428.7h0M165.1 428.3h0M166.2 427.9h0M167.3 427.5h0M168.4 427.1h0M169.6 426.6h0M170.7 426.2h0M171.8 425.8h0M172.9 425.4h0M174 425h0M175.2 424.6h0M176.3 424.2h0M177.4 423.8h0M178.5 423.4h0M179.7 422.9h0M180.8 422.5h0M181.9 422.1h0M183 421.7h0M184.1 421.3h0M185.2 420.9h0M186.3 420.4h0M187.4 420h0M188.5 419.6h0M189.6 419.2h0M190.7 418.7h0M191.8 418.3h0M192.9 417.9h0M194 417.4h0M195.1 417h0M196.2 416.6h0M197.3 416.1h0M198.4 415.6h0M199.5 415.2h0M200.7 414.7h0M201.8 414.2h0M202.9 413.7h0M204 413.2h0M205.1 412.7h0M206.2 412.2h0M207.3 411.7h0M208.4 411.2h0M209.5 410.7h0M210.6 410.2h0M211.7 409.7h0M212.8 409.2h0M213.9 408.7h0M215 408.1h0M216.2 407.6h0M217.3 407.1h0M218.4 406.5h0M219.5 406h0M220.6 405.4h0M221.7 404.9h0M222.8 404.3h0M223.9 403.8h0M225 403.3h0M226 402.7h0M227.1 402.2h0M228.2 401.7h0M229.2 401.1h0M230.3 400.6h0M231.4 400h0M232.4 399.4h0M233.5 398.9h0M234.5 398.3h0M235.6 397.7h0M236.7 397.1h0M237.7 396.5h0M238.8 395.9h0M239.9 395.2h0M241 394.6h0M242.1 393.9h0M243.1 393.2h0M244.2 392.5h0M245.3 391.8h0M246.4 391.1h0M247.5 390.3h0M248.6 389.6h0M249.7 388.9h0M250.7 388.2h0M251.8 387.6h0M252.9 386.9h0M254 386.2h0M255.1 385.4h0M256.2 384.6h0M257.3 383.8h0M258.3 382.9h0M259.4 382.1h0M260.5 381.3h0M261.6 380.4h0M262.7 379.6h0M263.8 378.7h0M264.9 377.9h0M265.9 377h0M267 376.1h0M268.1 375.2h0M269.2 374.3h0M270.3 373.3h0M271.4 372.4h0M272.4 371.5h0M273.5 370.5h0M274.6 369.5h0M275.7 368.5h0M276.8 367.3h0M277.9 366.1h0M279 364.9h0M280 363.6h0M281.1 362.4h0M282.2 361.1h0M283.3 359.8h0M284.4 358.5h0M285.5 357.2h0M286.5 355.9h0M287.6 354.6h0M288.7 353.3h0M289.8 352h0M290.9 350.8h0M292 349.5h0M293 348.2h0M294.1 346.8h0M295.2 345.4h0M296.3 343.9h0M297.4 342.3h0M298.5 340.5h0M299.6 338.7h0M300.6 336.8h0M301.7 334.8h0M302.8 332.8h0M303.9 330.6h0M305 328.4h0M306.1 326h0M307.1 323.6h0M308.2 321.2h0M309.3 318.8h0M310.4 316.3h0M311.5 313.7h0M312.6 311.1h0M313.6 308.5h0M314.7 305.9h0M315.8 303.4h0M316.9 300.9h0M318 298.4h0M319.1 296h0M320.1 293.6h0M321.2 291.4h0M322.3 289.3h0M323.4 287.2h0M324.5 285.4h0M325.6 283.8h0M326.6 282.5h0M327.7 281.1h0M328.8 279.7h0M329.9 278.6h0M331 277.8h0M332.1 277.2h0M333.1 276.6h0M334.2 276.1h0M335.3 275.7h0M336.4 275.4h0M337.5 275.1h0M338.6 274.8h0M339.7 274.6h0M340.7 274.4h0M341.8 274.3h0M342.9 274.1h0M344 274h0M345.1 273.8h0M346.2 273.7h0M347.2 273.6h0M348.3 273.5h0M349.4 273.4h0M350.5 273.3h0M351.6 273.2h0M352.7 273.1h0M353.7 273h0M354.8 273h0M355.9 272.9h0M357 272.8h0M358.1 272.8h0M359.2 272.7h0M360.2 272.6h0M361.3 272.5h0M362.4 272.5h0M363.5 272.4h0M364.6 272.3h0M365.7 272.3h0M366.7 272.2h0M367.8 272.1h0M368.9 272.1h0M370 272h0M371.1 271.9h0M372.2 271.9h0M373.2 271.8h0M374.3 271.7h0M375.4 271.7h0M376.5 271.6h0M377.6 271.5h0M378.7 271.5h0M379.7 271.4h0M380.8 271.3h0M381.9 271.3h0M383 271.2h0M384.1 271.1h0M385.2 271.1h0M386.3 271h0M387.3 271h0M388.4 270.9h0"/>
<path stroke="#00b0ff" d="M86 449.4h0M87.1 449.1h0M88.1 448.9h0M89.2 448.7h0M90.3 448.5h0M91.4 448.3h0M92.5 448.1h0M93.6 447.9h0M94.6 447.7h0M95.7 447.5h0M96.8 447.2h0M97.9 447h0M99 446.8h0M100.1 446.6h0M101.1 446.4h0M102.2 446.1h0M103.3 445.9h0M104.4 445.7h0M105.5 445.4h0M106.6 445.2h0M107.7 445h0M108.7 444.7h0M109.8 444.5h0M110.9 444.2h0M112 444h0M113.1 443.7h0M114.2 443.4h0M115.3 443.1h0M116.4 442.9h0M117.4 442.6h0M118.5 442.3h0M119.6 442h0M120.7 441.7h0M121.8 441.4h0M122.9 441.1h0M124 440.8h0M125.1 440.5h0M126.1 440.2h0M127.2 439.9h0M128.3 439.6h0M129.4 439.3h0M130.5 439h0M131.6 438.7h0M132.7 438.4h0M133.8 438.1h0M134.9 437.8h0M136 437.4h0M137 437.1h0M138.1 436.8h0M139.2 436.4h0M140.3 436.1h0M141.4 435.8h0M142.5 435.4h0M143.6 435.1h0M144.7 434.8h0M145.8 434.4h0M146.9 434.1h0M148 433.7h0M149 433.4h0M150.1 433h0M151.2 432.7h0M152.3 432.3h0M153.4 431.9h0M154.5 431.6h0M155.6 431.2h0M156.7 430.8h0M157.8 430.5h0M158.9 430.1h0M160 429.7h0M161.1 429.3h0M162.3 428.9h0M163.4 428.5h0M164.5 428.1h0M165.6 427.7h0M166.7 427.3h0M167.8 426.9h0M168.9 426.5h0M170 426.1h0M171.2 425.7h0M172.3 425.3h0M173.4 424.9h0M174.5 424.5h0M175.6 424.1h0M176.7 423.7h0M177.8 423.3h0M178.9 422.8h0M180 422.4h0M181.1 422h0M182.2 421.6h0M183.3 421.2h0M184.4 420.8h0M185.5 420.4h0M186.6 419.9h0M187.7 419.5h0M188.8 419.1h0M189.9 418.7h0M191 418.2h0M192.1 417.8h0M193.2 417.4h0M194.3 416.9h0M195.4 416.5h0M196.5 416.1h0M197.6 415.6h0M198.7 415.1h0M199.8 414.6h0M200.9 414.2h0M202 413.7h0M203.1 413.2h0M204.2 412.7h0M205.3 412.2h0M206.4 411.7h0M207.5 411.2h0M208.6 410.7h0M209.7 410.2h0M210.8 409.7h0M211.9 409.2h0M213 408.7h0M214.1 408.2h0M215.2 407.7h0M216.3 407.1h0M217.4 406.6h0M218.5 406.1h0M219.6 405.5h0M220.7 405h0M221.8 404.5h0M222.8 404h0M223.9 403.4h0M225 402.9h0M226 402.4h0M227.1 401.8h0M228.2 401.3h0M229.2 400.7h0M230.3 400.2h0M231.4 399.6h0M232.4 399h0M233.5 398.5h0M234.6 397.9h0M235.7 397.3h0M236.7 396.7h0M237.8 396h0M238.9 395.4h0M240 394.8h0M241.1 394.1h0M242.2 393.4h0M243.3 392.7h0M244.3 392h0M245.4 391.3h0M246.5 390.6h0M247.6 389.9h0M248.7 389.1h0M249.8 388.4h0M250.9 387.8h0M251.9 387.1h0M253 386.4h0M254.1 385.7h0M255.2 384.9h0M256.3 384.1h0M257.4 383.3h0M258.4 382.5h0M259.5 381.7h0M260.6 380.9h0M261.7 380h0M262.8 379.2h0M263.9 378.3h0M265 377.5h0M266 376.6h0M267.1 375.7h0M268.2 374.8h0M269.3 373.9h0M270.4 373h0M271.5 372h0M272.5 371.1h0M273.6 370.1h0M274.7 369.2h0M275.8 368.1h0M276.9 366.9h0M278 365.7h0M279 364.5h0M280.1 363.3h0M281.2 362h0M282.3 360.7h0M283.4 359.5h0M284.5 358.2h0M285.5 356.9h0M286.6 355.6h0M287.7 354.3h0M288.8 353h0M289.9 351.8h0M291 350.5h0M292.1 349.2h0M293.1 347.9h0M294.2 346.5h0M295.3 345.1h0M296.4 343.6h0M297.5 342h0M298.6 340.2h0M299.6 338.4h0M300.7 336.5h0M301.8 334.5h0M302.9 332.5h0M304 330.4h0M305.1 328.1h0M306.1 325.8h0M307.2 323.4h0M308.3 320.9h0M309.4 318.5h0M310.5 316h0M311.6 313.4h0M312.6 310.8h0M313.7 308.3h0M314.8 305.7h0M315.9 303.2h0M317 300.7h0M318.1 298.2h0M319.1 295.8h0M320.2 293.5h0M321.3 291.3h0M322.4 289.1h0M323.5 287.1h0M324.6 285.3h0M325.6 283.7h0M326.7 282.4h0M327.8 281h0M328.9 279.6h0M330 278.6h0M331.1 277.8h0M332.1 277.1h0M333.2 276.5h0M334.3 276.1h0M335.4 275.7h0M336.5 275.3h0M337.6 275.1h0M338.6 274.8h0M339.7 274.6h0M340.8 274.4h0M341.9 274.2h0M343 274.1h0M344.1 274h0M345.1 273.8h0M346.2 273.7h0M347.3 273.6h0M348.4 273.5h0M349.5 273.4h0M350.6 273.3h0M351.6 273.2h0M352.7 273.1h0M353.8 273h0M354.9 273h0M356 272.9h0M357.1 272.8h0M358.1 272.7h0M359.2 272.7h0M360.3 272.6h0M361.4 272.5h0M362.5 272.5h0M363.6 272.4h0M364.6 272.3h0M365.7 272.3h0M366.8 272.2h0M367.9 272.1h0M369 272.1h0M370.1 272h0M371.1 271.9h0M372.2 271.9h0M373.3 271.8h0M374.4 271.7h0M375.5 271.7h0M376.6 271.6h0M377.6 271.5h0M378.7 271.5h0M379.8 271.4h0M380.9 271.3h0M382 271.3h0M383.1 271.2h0M384.1 271.1h0"/>
<path stroke="#1040f0" d="M82.2 449.7h0M83.3 449.5h0M84.4 449.3h0M85.5 449h0M86.5 448.8h0M87.6 448.6h0M88.7 448.4h0M89.8 448.2h0M90.9 448h0M92 447.8h0M93 447.6h0M94.1 447.4h0M95.2 447.1h0M96.3 446.9h0M97.4 446.7h0M98.5 446.5h0M99.5 446.2h0M100.6 446h0M101.7 445.8h0M102.8 445.6h0M103.9 445.3h0M105 445.1h0M106 444.8h0M107.1 444.6h0M108.2 444.4h0M109.3 444.1h0M110.4 443.9h0M111.5 443.6h0M112.6 443.3h0M113.6 443.1h0M114.7 442.8h0M115.8 442.5h0M116.9 442.2h0M118 441.9h0M119.1 441.7h0M120.2 441.4h0M121.3 441.1h0M122.3 440.8h0M123.4 440.5h0M124.5 440.2h0M125.6 439.9h0M126.7 439.6h0M127.8 439.2h0M128.9 438.9h0M129.9 438.6h0M131 438.3h0M132.1 438h0M133.2 437.7h0M134.3 437.4h0M135.4 437h0M136.5 436.7h0M137.6 436.4h0M138.7 436h0M139.7 435.7h0M140.8 435.4h0M141.9 435h0M143 434.7h0M144.1 434.4h0M145.2 434h0M146.3 433.7h0M147.4 433.3h0M148.5 433h0M149.5 432.6h0M150.6 432.2h0M151.7 431.9h0M152.8 431.5h0M153.9 431.2h0M155 430.8h0M156.1 430.4h0M157.2 430h0M158.3 429.7h0M159.4 429.3h0M160.5 428.9h0M161.6 428.5h0M162.7 428.1h0M163.8 427.7h0M164.9 427.3h0M166 426.9h0M167.1 426.5h0M168.2 426.1h0M169.3 425.7h0M170.5 425.3h0M171.6 424.9h0M172.7 424.5h0M173.8 424.1h0M174.8 423.7h0M175.9 423.3h0M177 422.9h0M178.1 422.4h0M179.2 422h0M180.3 421.6h0M181.4 421.2h0M182.5 420.8h0M183.6 420.4h0M184.7 420h0M185.8 419.5h0M186.9 419.1h0M188 418.7h0M189.1 418.3h0M190.1 417.8h0M191.2 417.4h0M192.3 417h0M193.4 416.5h0M194.5 416.1h0M195.6 415.7h0M196.7 415.2h0M197.8 414.8h0M198.9 414.3h0M200 413.8h0M201.1 413.3h0M202.2 412.8h0M203.3 412.4h0M204.4 411.9h0M205.5 411.4h0M206.6 410.9h0M207.7 410.4h0M208.8 409.9h0M209.9 409.4h0M211 408.9h0M212.1 408.4h0M213.2 407.9h0M214.3 407.4h0M215.3 406.9h0M216.4 406.3h0M217.5 405.8h0M218.6 405.3h0M219.6 404.8h0M220.7 404.2h0M221.8 403.7h0M222.8 403.2h0M223.9 402.7h0M225 402.1h0M226.1 401.6h0M227.1 401h0M228.2 400.5h0M229.3 399.9h0M230.4 399.4h0M231.4 398.8h0M232.5 398.2h0M233.6 397.7h0M234.7 397.1h0M235.8 396.5h0M236.9 395.8h0M237.9 395.2h0M239 394.6h0M240.1 393.9h0M241.2 393.3h0M242.3 392.6h0M243.4 391.9h0M244.5 391.2h0M245.5 390.5h0M246.6 389.8h0M247.7 389h0M248.8 388.3h0M249.9 387.6h0M251 386.9h0M252 386.3h0M253.1 385.6h0M254.2 384.9h0M255.3 384.1h0M256.4 383.3h0M257.5 382.5h0M258.5 381.7h0M259.6 380.9h0M260.7 380.1h0M261.8 379.3h0M262.9 378.5h0M264 377.6h0M265 376.8h0M266.1 375.9h0M267.2 375h0M268.3 374.1h0M269.4 373.2h0M270.5 372.3h0M271.5 371.4h0M272.6 370.5h0M273.7 369.5h0M274.8 368.6h0M275.9 367.5h0M277 366.3h0M278.1 365.1h0M279.1 363.9h0M280.2 362.7h0M281.3 361.5h0M282.4 360.2h0M283.5 358.9h0M284.6 357.7h0M285.6 356.4h0M286.7 355.1h0M287.8 353.8h0M288.9 352.5h0M290 351.3h0M291.1 350.1h0M292.1 348.8h0M293.2 347.5h0M294.3 346.1h0M295.4 344.7h0M296.5 343.2h0M297.6 341.6h0M298.6 339.9h0M299.7 338h0M300.8 336.1h0M301.9 334.1h0M303 332.1h0M304.1 330h0M305.1 327.7h0M306.2 325.4h0M307.3 323h0M308.4 320.6h0M309.5 318.2h0M310.6 315.7h0M311.6 313.1h0M312.7 310.6h0M313.8 308h0M314.9 305.4h0M316 303h0M317 300.4h0M318.1 298h0M319.2 295.6h0M320.3 293.3h0M321.4 291.1h0M322.5 289h0M323.5 287h0M324.6 285.2h0M325.7 283.6h0M326.8 282.3h0M327.9 280.9h0M329 279.6h0M330 278.5h0M331.1 277.7h0M332.2 277.1h0M333.3 276.5h0M334.4 276h0M335.5 275.6h0M336.5 275.3h0M337.6 275h0M338.7 274.8h0M339.8 274.6h0M340.9 274.4h0M342 274.2h0M343 274.1h0M344.1 273.9h0M345.2 273.8h0M346.3 273.7h0M347.4 273.6h0M348.5 273.5h0M349.5 273.4h0M350.6 273.3h0M351.7 273.2h0M352.8 273.1h0M353.9 273h0M355 273h0M356 272.9h0M357.1 272.8h0M358.2 272.7h0M359.3 272.7h0M360.4 272.6h0M361.5 272.5h0M362.5 272.5h0M363.6 272.4h0M364.7 272.3h0M365.8 272.3h0M366.9 272.2h0M368 272.1h0M369 272.1h0M370.1 272h0M371.2 271.9h0M372.3 271.9h0M373.4 271.8h0M374.5 271.7h0M375.5 271.7h0M376.6 271.6h0M377.7 271.5h0M378.8 271.5h0M379.9 271.4h0"/>
<path stroke="#6000e0" d="M78.4 449.1h0M79.5 448.9h0M80.6 448.6h0M81.7 448.4h0M82.8 448.2h0M83.8 448h0M84.9 447.8h0M86 447.6h0M87.1 447.3h0M88.2 447.1h0M89.3 446.9h0M90.3 446.7h0M91.4 446.5h0M92.5 446.2h0M93.6 446h0M94.7 445.8h0M95.8 445.5h0M96.8 445.3h0M97.9 445.1h0M99 444.8h0M100.1 444.6h0M101.2 444.4h0M102.3 444.1h0M103.3 443.9h0M104.4 443.6h0M105.5 443.4h0M106.6 443.1h0M107.7 442.9h0M108.8 442.6h0M109.9 442.4h0M110.9 442.1h0M112 441.8h0M113.1 441.5h0M114.2 441.3h0M115.3 441h0M116.4 440.7h0M117.4 440.4h0M118.5 440.1h0M119.6 439.8h0M120.7 439.5h0M121.8 439.2h0M122.9 438.9h0M124 438.6h0M125 438.2h0M126.1 437.9h0M127.2 437.6h0M128.3 437.3h0M129.4 437h0M130.5 436.6h0M131.6 436.3h0M132.6 436h0M133.7 435.7h0M134.8 435.3h0M135.9 435h0M137 434.7h0M138.1 434.3h0M139.2 434h0M140.2 433.6h0M141.3 433.3h0M142.4 432.9h0M143.5 432.6h0M144.6 432.2h0M145.7 431.9h0M146.8 431.5h0M147.8 431.1h0M148.9 430.8h0M150 430.4h0M151.1 430h0M152.2 429.7h0M153.3 429.3h0M154.4 428.9h0M155.5 428.5h0M156.6 428.1h0M157.7 427.8h0M158.8 427.4h0M159.9 427h0M160.9 426.6h0M162 426.2h0M163.1 425.8h0M164.2 425.4h0M165.3 425h0M166.4 424.6h0M167.5 424.2h0M168.6 423.7h0M169.7 423.3h0M170.8 422.9h0M171.9 422.5h0M172.9 422.1h0M174 421.7h0M175.1 421.3h0M176.2 420.8h0M177.3 420.4h0M178.4 420h0M179.5 419.6h0M180.6 419.2h0M181.6 418.7h0M182.7 418.3h0M183.8 417.9h0M184.9 417.5h0M186 417h0M187.1 416.6h0M188.2 416.2h0M189.3 415.7h0M190.4 415.3h0M191.4 414.9h0M192.5 414.4h0M193.6 414h0M194.7 413.5h0M195.8 413.1h0M196.9 412.6h0M198 412.2h0M199.1 411.7h0M200.2 411.2h0M201.2 410.7h0M202.3 410.2h0M203.4 409.8h0M204.5 409.3h0M205.6 408.8h0M206.7 408.3h0M207.8 407.8h0M208.9 407.3h0M210 406.8h0M211 406.3h0M212.1 405.8h0M213.2 405.3h0M214.3 404.8h0M215.4 404.3h0M216.4 403.8h0M217.5 403.3h0M218.6 402.7h0M219.7 402.2h0M220.7 401.7h0M221.8 401.2h0M222.9 400.6h0M224 400.1h0M225.1 399.6h0M226.1 399h0M227.2 398.5h0M228.3 397.9h0M229.4 397.4h0M230.5 396.8h0M231.6 396.2h0M232.6 395.6h0M233.7 395.1h0M234.8 394.5h0M235.9 393.9h0M237 393.2h0M238.1 392.6h0M239.1 392h0M240.2 391.3h0M241.3 390.7h0M242.4 390h0M243.5 389.3h0M244.6 388.6h0M245.6 387.9h0M246.7 387.2h0M247.8 386.4h0M248.9 385.7h0M250 385h0M251.1 384.3h0M252.1 383.7h0M253.2 383h0M254.3 382.3h0M255.4 381.6h0M256.5 380.8h0M257.6 380.1h0M258.6 379.3h0M259.7 378.5h0M260.8 377.8h0M261.9 377h0M263 376.2h0M264.1 375.4h0M265.1 374.6h0M266.2 373.7h0M267.3 372.9h0M268.4 372.1h0M269.5 371.2h0M270.6 370.3h0M271.6 369.4h0M272.7 368.6h0M273.8 367.6h0M274.9 366.7h0M276 365.7h0M277.1 364.6h0M278.1 363.4h0M279.2 362.2h0M280.3 361h0M281.4 359.8h0M282.5 358.6h0M283.6 357.4h0M284.6 356.2h0M285.7 354.9h0M286.8 353.7h0M287.9 352.4h0M289 351.2h0M290.1 350h0M291.1 348.8h0M292.2 347.6h0M293.3 346.3h0M294.4 345h0M295.5 343.6h0M296.5 342.1h0M297.6 340.5h0M298.7 338.8h0M299.8 337h0M300.9 335.2h0M302 333.2h0M303 331.2h0M304.1 329.1h0M305.2 326.9h0M306.3 324.6h0M307.4 322.3h0M308.5 319.9h0M309.5 317.5h0M310.6 315.1h0M311.7 312.5h0M312.8 310h0M313.9 307.5h0M315 305h0M316 302.5h0M317.1 300.1h0M318.2 297.6h0M319.3 295.3h0M320.4 293h0M321.5 290.9h0M322.5 288.8h0M323.6 286.9h0M324.7 285.1h0M325.8 283.5h0M326.9 282.2h0M328 280.8h0M329 279.5h0M330.1 278.4h0M331.2 277.7h0M332.3 277h0M333.4 276.5h0M334.5 276h0M335.5 275.6h0M336.6 275.3h0M337.7 275h0M338.8 274.8h0M339.9 274.6h0M341 274.4h0M342 274.2h0M343.1 274.1h0M344.2 273.9h0M345.3 273.8h0M346.4 273.7h0M347.4 273.6h0M348.5 273.5h0M349.6 273.4h0M350.7 273.3h0M351.8 273.2h0M352.9 273.1h0M353.9 273h0M355 273h0M356.1 272.9h0M357.2 272.8h0M358.3 272.7h0M359.4 272.7h0M360.4 272.6h0M361.5 272.5h0M362.6 272.5h0M363.7 272.4h0M364.8 272.3h0M365.9 272.3h0M366.9 272.2h0M368 272.1h0M369.1 272.1h0M370.2 272h0M371.3 271.9h0M372.4 271.9h0M373.4 271.8h0M374.5 271.7h0M375.6 271.7h0"/>
<path stroke="#5c0c8c" d="M74.7 448.1h0M75.7 447.9h0M76.8 447.7h0M77.9 447.5h0M79 447.3h0M80.1 447h0M81.2 446.8h0M82.2 446.6h0M83.3 446.4h0M84.4 446.1h0M85.5 445.9h0M86.6 445.7h0M87.7 445.4h0M88.7 445.2h0M89.8 444.9h0M90.9 444.7h0M92 444.5h0M93.1 444.2h0M94.2 444h0M95.2 443.7h0M96.3 443.5h0M97.4 443.3h0M98.5 443h0M99.6 442.8h0M100.6 442.5h0M101.7 442.2h0M102.8 442h0M103.9 441.7h0M105 441.5h0M106.1 441.2h0M107.1 440.9h0M108.2 440.7h0M109.3 440.4h0M110.4 440.1h0M111.5 439.8h0M112.6 439.5h0M113.6 439.2h0M114.7 438.9h0M115.8 438.6h0M116.9 438.3h0M118 438h0M119.1 437.7h0M120.1 437.4h0M121.2 437.1h0M122.3 436.7h0M123.4 436.4h0M124.5 436.1h0M125.6 435.8h0M126.6 435.4h0M127.7 435.1h0M128.8 434.8h0M129.9 434.4h0M131 434.1h0M132 433.7h0M133.1 433.4h0M134.2 433.1h0M135.3 432.7h0M136.4 432.4h0M137.5 432h0M138.5 431.7h0M139.6 431.3h0M140.7 430.9h0M141.8 430.6h0M142.9 430.2h0M144 429.8h0M145 429.5h0M146.1 429.1h0M147.2 428.7h0M148.3 428.3h0M149.4 428h0M150.5 427.6h0M151.5 427.2h0M152.6 426.8h0M153.7 426.4h0M154.8 426h0M155.9 425.7h0M157 425.3h0M158 424.9h0M159.1 424.5h0M160.2 424h0M161.3 423.6h0M162.4 423.2h0M163.4 422.8h0M164.5 422.4h0M165.6 422h0M166.7 421.6h0M167.8 421.1h0M168.9 420.7h0M169.9 420.3h0M171 419.9h0M172.1 419.5h0M173.2 419h0M174.3 418.6h0M175.4 418.2h0M176.4 417.7h0M177.5 417.3h0M178.6 416.9h0M179.7 416.4h0M180.8 416h0M181.9 415.6h0M182.9 415.1h0M184 414.7h0M185.1 414.3h0M186.2 413.8h0M187.3 413.4h0M188.4 412.9h0M189.4 412.5h0M190.5 412h0M191.6 411.6h0M192.7 411.1h0M193.8 410.7h0M194.8 410.2h0M195.9 409.7h0M197 409.3h0M198.1 408.8h0M199.2 408.3h0M200.3 407.9h0M201.3 407.4h0M202.4 406.9h0M203.5 406.4h0M204.6 405.9h0M205.7 405.5h0M206.8 405h0M207.8 404.5h0M208.9 404h0M210 403.5h0M211.1 403h0M212.2 402.5h0M213.3 402h0M214.3 401.5h0M215.4 401h0M216.5 400.5h0M217.6 399.9h0M218.7 399.4h0M219.8 398.9h0M220.8 398.3h0M221.9 397.8h0M223 397.3h0M224.1 396.7h0M225.2 396.2h0M226.2 395.7h0M227.3 395.1h0M228.4 394.6h0M229.5 394h0M230.6 393.4h0M231.7 392.9h0M232.7 392.3h0M233.8 391.7h0M234.9 391.1h0M236 390.5h0M237.1 389.9h0M238.2 389.3h0M239.2 388.6h0M240.3 388h0M241.4 387.3h0M242.5 386.6h0M243.6 386h0M244.7 385.2h0M245.7 384.5h0M246.8 383.8h0M247.9 383.1h0M249 382.3h0M250.1 381.6h0M251.2 381h0M252.2 380.3h0M253.3 379.6h0M254.4 379h0M255.5 378.3h0M256.6 377.6h0M257.6 376.9h0M258.7 376.2h0M259.8 375.5h0M260.9 374.7h0M262 374h0M263.1 373.3h0M264.1 372.5h0M265.2 371.8h0M266.3 371h0M267.4 370.2h0M268.5 369.4h0M269.6 368.6h0M270.6 367.8h0M271.7 366.9h0M272.8 366.1h0M273.9 365.2h0M275 364.4h0M276.1 363.4h0M277.1 362.3h0M278.2 361.2h0M279.3 360.1h0M280.4 358.9h0M281.5 357.8h0M282.6 356.6h0M283.6 355.4h0M284.7 354.3h0M285.8 353.1h0M286.9 351.9h0M288 350.7h0M289 349.5h0M290.1 348.4h0M291.2 347.2h0M292.3 346h0M293.4 344.8h0M294.5 343.5h0M295.5 342.2h0M296.6 340.8h0M297.7 339.2h0M298.8 337.6h0M299.9 335.8h0M301 334h0M302 332.1h0M303.1 330.2h0M304.2 328.1h0M305.3 325.9h0M306.4 323.7h0M307.5 321.4h0M308.5 319.1h0M309.6 316.7h0M310.7 314.3h0M311.8 311.8h0M312.9 309.4h0M314 306.9h0M315 304.4h0M316.1 302h0M317.2 299.6h0M318.3 297.2h0M319.4 294.9h0M320.4 292.8h0M321.5 290.7h0M322.6 288.7h0M323.7 286.7h0M324.8 285h0M325.9 283.4h0M326.9 282.1h0M328 280.7h0M329.1 279.4h0M330.2 278.4h0M331.3 277.6h0M332.4 277h0M333.4 276.4h0M334.5 276h0M335.6 275.6h0M336.7 275.3h0M337.8 275h0M338.9 274.8h0M339.9 274.6h0M341 274.4h0M342.1 274.2h0M343.2 274.1h0M344.3 273.9h0M345.4 273.8h0M346.4 273.7h0M347.5 273.6h0M348.6 273.4h0M349.7 273.4h0M350.8 273.3h0M351.8 273.2h0M352.9 273.1h0M354 273h0M355.1 272.9h0M356.2 272.9h0M357.3 272.8h0M358.3 272.7h0M359.4 272.7h0M360.5 272.6h0M361.6 272.5h0M362.7 272.5h0M363.8 272.4h0M364.8 272.3h0M365.9 272.3h0M367 272.2h0M368.1 272.1h0M369.2 272.1h0M370.3 272h0M371.3 271.9h0"/>
</g>
<rect x="67.45" y="50.36" width="433.03" height="413.00" fill="none" stroke="#000" stroke-width="1.5"/>
<path d="M67.45 256.92H500.48" stroke="#1a1a1a" stroke-width="1.9"/>
<path d="M88.95 50.36v4M88.95 252.92v8M88.95 463.36v-4M110.61 50.36v8M110.61 248.92v16M110.61 463.36v-8M132.26 50.36v4M132.26 252.92v8M132.26 463.36v-4M153.92 50.36v8M153.92 248.92v16M153.92 463.36v-8M175.57 50.36v4M175.57 252.92v8M175.57 463.36v-4M197.23 50.36v8M197.23 248.92v16M197.23 463.36v-8M218.88 50.36v4M218.88 252.92v8M218.88 463.36v-4M240.54 50.36v8M240.54 248.92v16M240.54 463.36v-8M262.19 50.36v4M262.19 252.92v8M262.19 463.36v-4M283.85 50.36v8M283.85 248.92v16M283.85 463.36v-8M305.50 50.36v4M305.50 252.92v8M305.50 463.36v-4M327.16 50.36v8M327.16 248.92v16M327.16 463.36v-8M348.81 50.36v4M348.81 252.92v8M348.81 463.36v-4M370.47 50.36v8M370.47 248.92v16M370.47 463.36v-8M392.13 50.36v4M392.13 252.92v8M392.13 463.36v-4M413.78 50.36v8M413.78 248.92v16M413.78 463.36v-8M435.44 50.36v4M435.44 252.92v8M435.44 463.36v-4M457.09 50.36v8M457.09 248.92v16M457.09 463.36v-8M478.75 50.36v4M478.75 252.92v8M478.75 463.36v-4M67.45 65.90h8M67.45 272.30h8M67.45 81.86h4M67.45 288.22h4M67.45 97.82h8M67.45 304.13h8M67.45 113.78h4M67.45 320.05h4M67.45 129.74h8M67.45 335.96h8M67.45 145.70h4M67.45 351.88h4M67.45 161.66h8M67.45 367.79h8M67.45 177.62h4M67.45 383.71h4M67.45 193.58h8M67.45 399.62h8M67.45 209.54h4M67.45 415.53h4M67.45 225.50h8M67.45 431.45h8M67.45 241.46h4M67.45 447.37h4" stroke="#000" stroke-width="1.4" fill="none"/>
<g font-size="23">
<text x="58.6" y="73.3" text-anchor="end">0</text>
<text x="58.6" y="105.2" text-anchor="end">-1</text>
<text x="58.6" y="137.1" text-anchor="end">-2</text>
<text x="58.6" y="169.1" text-anchor="end">-3</text>
<text x="58.6" y="201.0" text-anchor="end">-4</text>
<text x="58.6" y="232.9" text-anchor="end">-5</text>
<text x="58.6" y="279.7" text-anchor="end">0</text>
<text x="58.6" y="311.5" text-anchor="end">-1</text>
<text x="58.6" y="343.4" text-anchor="end">-2</text>
<text x="58.6" y="375.2" text-anchor="end">-3</text>
<text x="58.6" y="407.0" text-anchor="end">-4</text>
<text x="58.6" y="438.8" text-anchor="end">-5</text>
<text x="58.6" y="470.7" text-anchor="end">-6</text>
<text x="67.3" y="490" text-anchor="middle">8</text>
<text x="110.6" y="490" text-anchor="middle">9</text>
<text x="153.9" y="490" text-anchor="middle">10</text>
<text x="197.2" y="490" text-anchor="middle">11</text>
<text x="240.5" y="490" text-anchor="middle">12</text>
<text x="283.9" y="490" text-anchor="middle">13</text>
<text x="327.2" y="490" text-anchor="middle">14</text>
<text x="370.5" y="490" text-anchor="middle">15</text>
<text x="413.8" y="490" text-anchor="middle">16</text>
<text x="457.1" y="490" text-anchor="middle">17</text>
<text x="500.4" y="490" text-anchor="middle">18</text>
</g>
<text x="79.5" y="75.7" font-size="23">(a)</text>
<text x="79" y="283.3" font-size="23">(b)</text>
<text x="284.5" y="526.2" font-size="22.5" text-anchor="middle">Temperature (K)</text>
<text transform="translate(26.9 321.3) rotate(-90) scale(0.95 1)" font-size="23">m (mA·mm<tspan font-size="15.5" dy="-9.3">2</tspan><tspan dy="9.3">)</tspan></text>
<rect x="508" y="50.0" width="31.5" height="6.3" fill="#4a0a00"/>
<rect x="508" y="56.0" width="31.5" height="8.3" fill="#6a0505"/>
<rect x="508" y="64.0" width="31.5" height="12.3" fill="#780000"/>
<rect x="508" y="76.0" width="31.5" height="12.3" fill="#840000"/>
<rect x="508" y="88.0" width="31.5" height="8.3" fill="#a00000"/>
<rect x="508" y="96.0" width="31.5" height="7.3" fill="#b00000"/>
<rect x="508" y="103.0" width="31.5" height="12.3" fill="#c00000"/>
<rect x="508" y="115.0" width="31.5" height="10.3" fill="#d40000"/>
<rect x="508" y="125.0" width="31.5" height="15.3" fill="#e80000"/>
<rect x="508" y="140.0" width="31.5" height="23.3" fill="#ff0000"/>
<rect x="508" y="163.0" width="31.5" height="13.3" fill="#ff2800"/>
<rect x="508" y="176.0" width="31.5" height="12.3" fill="#ff6000"/>
<rect x="508" y="188.0" width="31.5" height="12.3" fill="#ff8c00"/>
<rect x="508" y="200.0" width="31.5" height="13.3" fill="#ffb000"/>
<rect x="508" y="213.0" width="31.5" height="11.3" fill="#ffd000"/>
<rect x="508" y="224.0" width="31.5" height="14.3" fill="#ffff00"/>
<rect x="508" y="238.0" width="31.5" height="12.3" fill="#e0ff00"/>
<rect x="508" y="250.0" width="31.5" height="13.3" fill="#c0ff00"/>
<rect x="508" y="263.0" width="31.5" height="12.3" fill="#a0ff00"/>
<rect x="508" y="275.0" width="31.5" height="13.3" fill="#80ff00"/>
<rect x="508" y="288.0" width="31.5" height="12.3" fill="#50ff00"/>
<rect x="508" y="300.0" width="31.5" height="12.3" fill="#20ff00"/>
<rect x="508" y="312.0" width="31.5" height="13.3" fill="#00ff60"/>
<rect x="508" y="325.0" width="31.5" height="11.3" fill="#00ffb0"/>
<rect x="508" y="336.0" width="31.5" height="14.3" fill="#00e8f0"/>
<rect x="508" y="350.0" width="31.5" height="12.3" fill="#00b0ff"/>
<rect x="508" y="362.0" width="31.5" height="13.3" fill="#0080ff"/>
<rect x="508" y="375.0" width="31.5" height="12.3" fill="#1040f0"/>
<rect x="508" y="387.0" width="31.5" height="13.3" fill="#0a00f0"/>
<rect x="508" y="400.0" width="31.5" height="13.3" fill="#4000f0"/>
<rect x="508" y="413.0" width="31.5" height="12.3" fill="#6000e0"/>
<rect x="508" y="425.0" width="31.5" height="12.3" fill="#8000c8"/>
<rect x="508" y="437.0" width="31.5" height="13.3" fill="#80009a"/>
<rect x="508" y="450.0" width="31.5" height="13.8" fill="#6a0a70"/>
<path d="M0 123.9H31M0 137.6H28" stroke="#f6c4ee" stroke-width="1.3"/>
<path d="M0 125.9H29M0 139.4H26" stroke="#b8f2f4" stroke-width="1.2"/>
<rect x="508.2" y="50.2" width="31.1" height="413" fill="none" stroke="#1a0a0a" stroke-width="1.5"/>
<text x="541.5" y="20.6" font-size="19.5" text-anchor="end">I<tspan font-size="13.5" dy="5.4">ec</tspan><tspan dy="-5.4"> (mA):</tspan></text>
<text x="538.8" y="45.6" font-size="20" text-anchor="end">27</text>
<text x="540.6" y="482.3" font-size="21.5" text-anchor="end">0</text>
</svg>
</body></html>
